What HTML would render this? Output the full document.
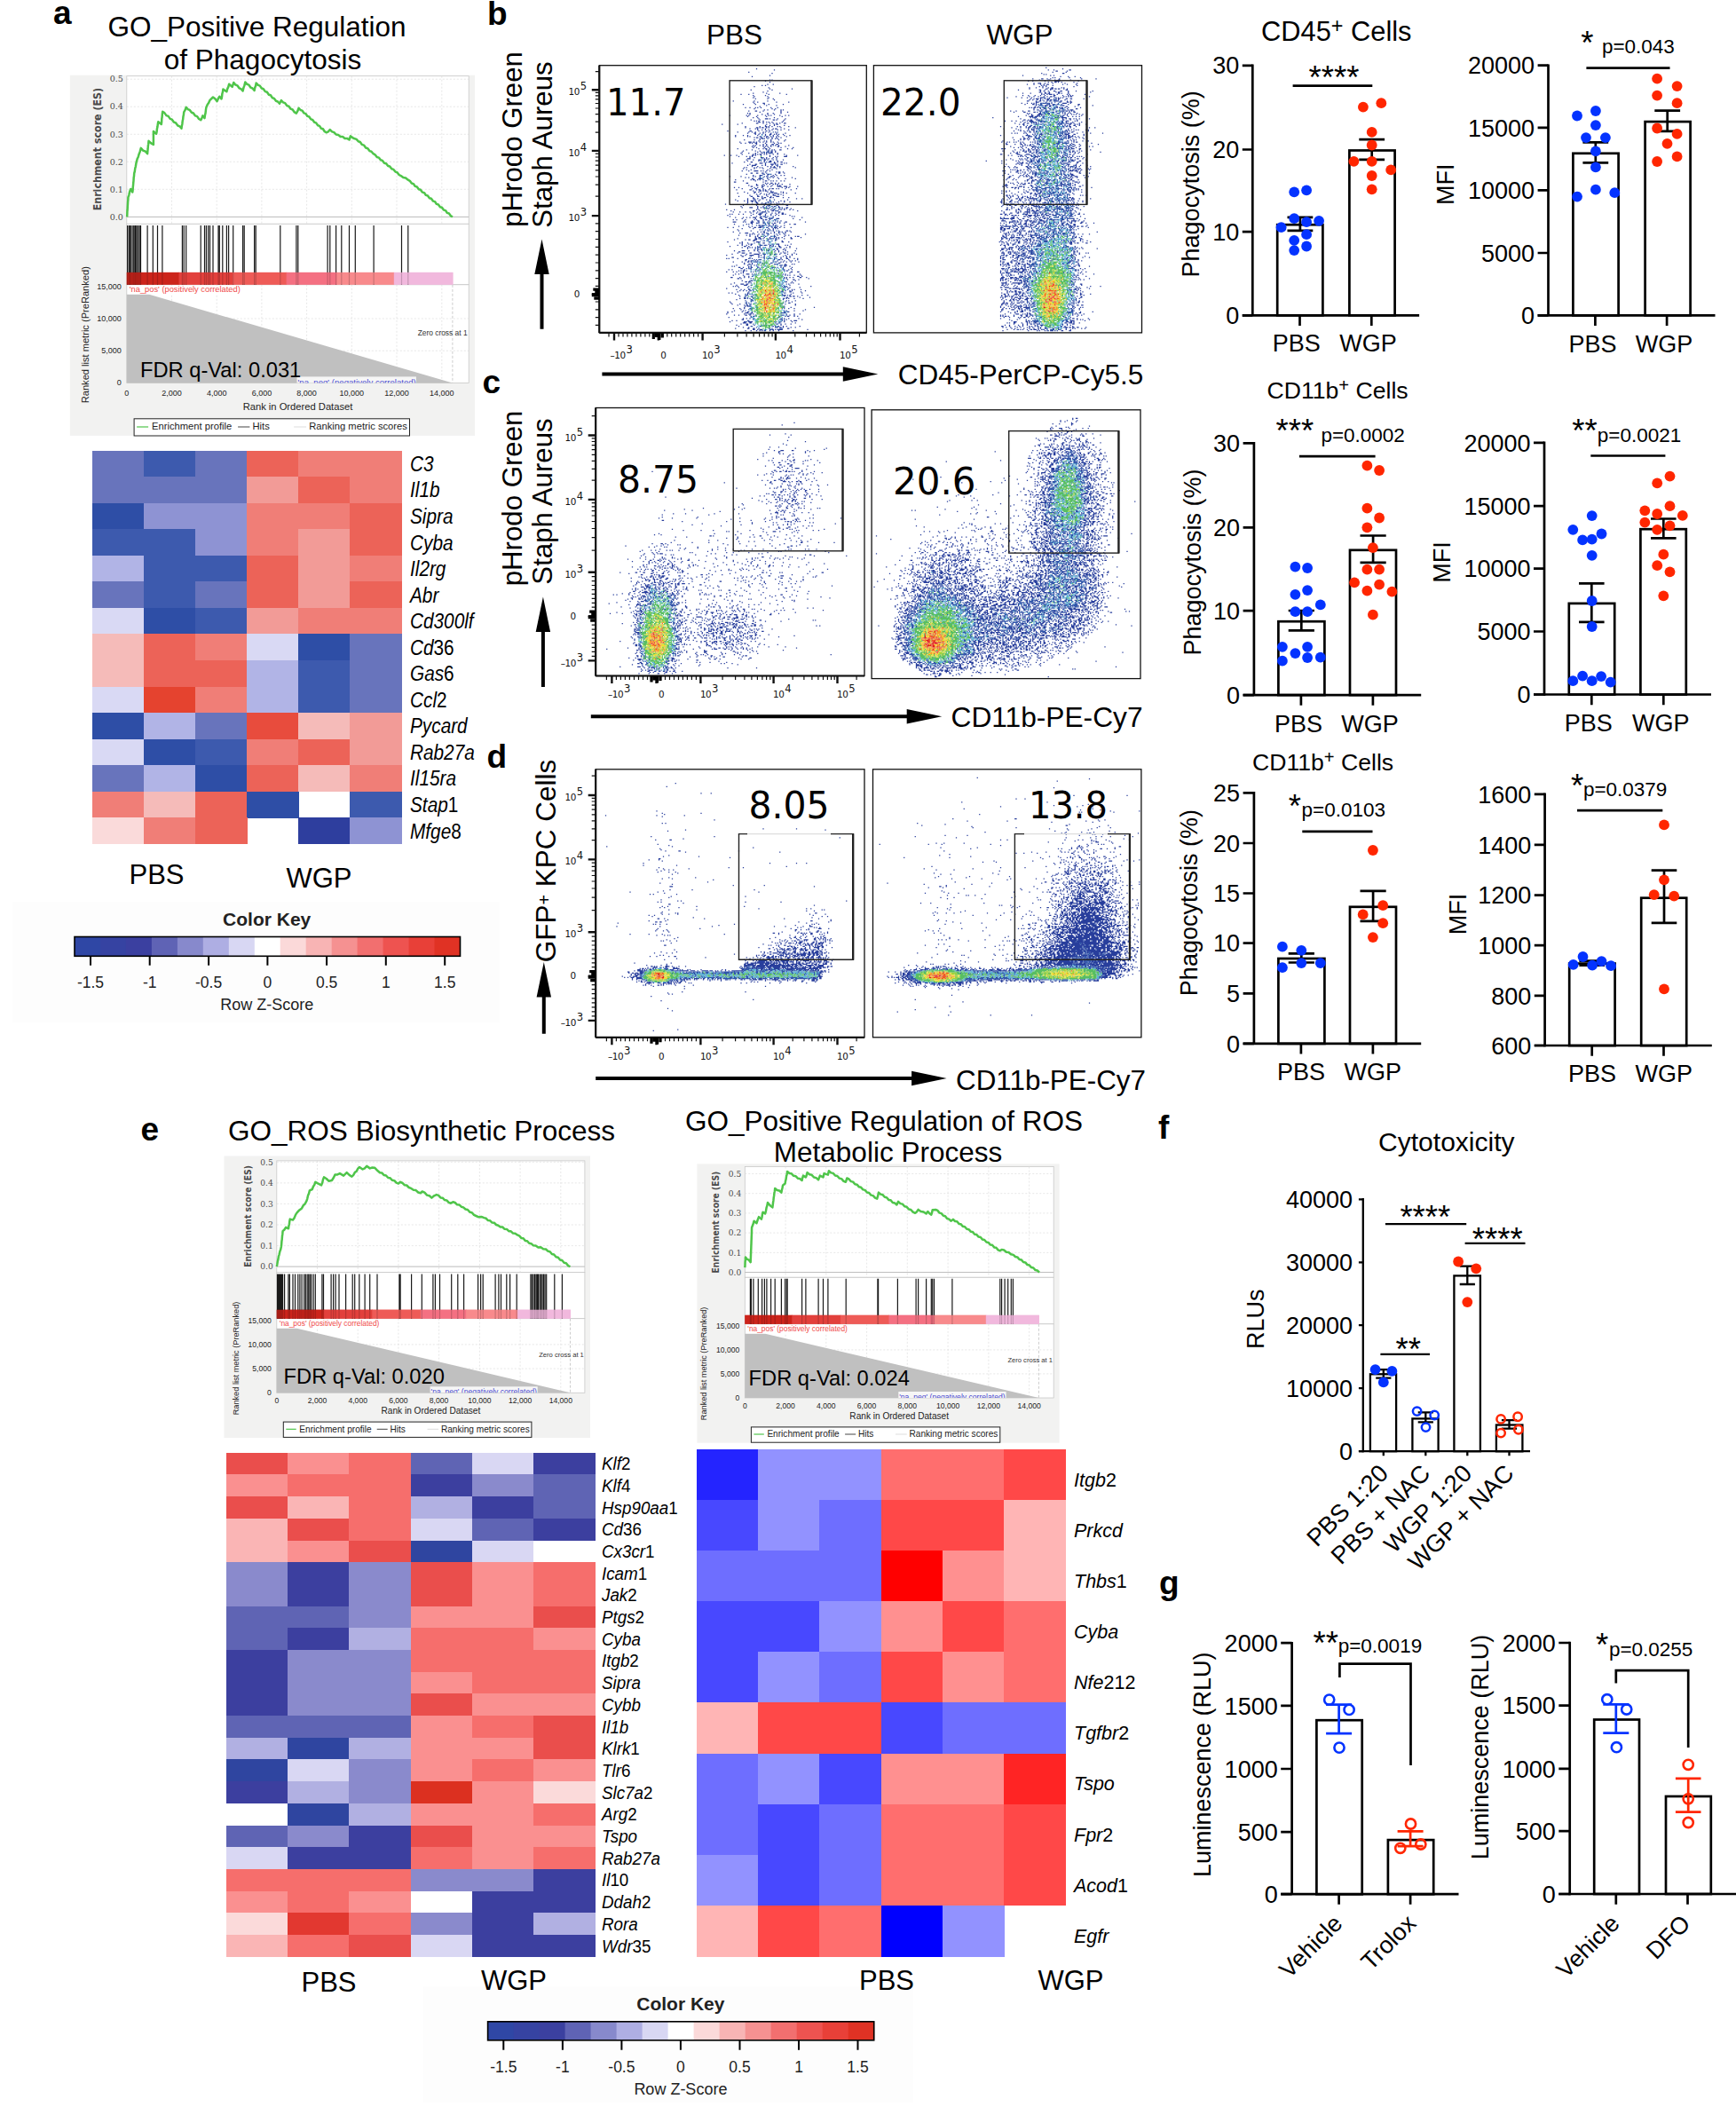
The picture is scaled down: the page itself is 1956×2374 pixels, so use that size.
<!DOCTYPE html><html><head><meta charset="utf-8"><title>Figure</title><style>html,body{margin:0;padding:0;background:#fff}svg{display:block;font-family:"Liberation Sans",Arial,sans-serif;fill:#000}</style></head><body>
<svg width="1956" height="2374" viewBox="0 0 1956 2374">
<rect width="1956" height="2374" fill="#fff"/>
<rect x="78.8" y="84.7" width="456.3" height="406.2" fill="#f2f2f1"/>
<rect x="142.8" y="85.7" width="385.4" height="166.6" fill="#fff" stroke="#c8c8c8" stroke-width="0.8"/>
<rect x="142.8" y="252.3" width="385.4" height="68.4" fill="#fff" stroke="#c8c8c8" stroke-width="0.8"/>
<rect x="142.8" y="320.8" width="385.4" height="110.6" fill="#fff" stroke="#c8c8c8" stroke-width="0.8"/>
<path d="M193.5 85.7V252.3M193.5 320.8V431.4M244.2 85.7V252.3M244.2 320.8V431.4M294.9 85.7V252.3M294.9 320.8V431.4M345.6 85.7V252.3M345.6 320.8V431.4M396.3 85.7V252.3M396.3 320.8V431.4M447 85.7V252.3M447 320.8V431.4M497.8 85.7V252.3M497.8 320.8V431.4M142.8 213.3H528.2M142.8 182.3H528.2M142.8 151.3H528.2M142.8 120.2H528.2M142.8 89.2H528.2M142.8 395.2H528.2M142.8 359H528.2" stroke="#ddd" stroke-width="0.7" stroke-dasharray="2 2" fill="none"/>
<path d="M142.8 244.4L528.2 244.4" stroke="#bbb" stroke-width="1" />
<path d="M142.8 431.4V331.8H168.1L509.9 431.4Z" fill="#c0c0c0"/>
<path d="M509.9 320.8V431.4" stroke="#ccc" stroke-width="1" stroke-dasharray="3 2"/>
<rect x="142.8" y="306.9" width="59.2" height="13.8" fill="#cc241c"/>
<rect x="201.5" y="306.9" width="61.1" height="13.8" fill="#e2403c"/>
<rect x="262.1" y="306.9" width="61.1" height="13.8" fill="#ee5b58"/>
<rect x="322.6" y="306.9" width="57.4" height="13.8" fill="#f47182"/>
<rect x="379.5" y="306.9" width="64.7" height="13.8" fill="#f88a8c"/>
<rect x="443.8" y="306.9" width="66.6" height="13.8" fill="#f1b8dd"/>
<path d="M143.6 254.1V320.8M145.3 254.1V320.8M146.6 254.1V320.8M148 254.1V320.8M149.9 254.1V320.8M151.2 254.1V320.8M152.6 254.1V320.8M153.9 254.1V320.8M155.5 254.1V320.8M157.2 254.1V320.8M158.5 254.1V320.8M166.1 254.1V320.8M172.3 254.1V320.8M177.5 254.1V320.8M182.9 254.1V320.8M205.4 254.1V320.8M207.2 254.1V320.8M209.7 254.1V320.8M226.2 254.1V320.8M230.5 254.1V320.8M232.4 254.1V320.8M234.6 254.1V320.8M236.5 254.1V320.8M240 254.1V320.8M246 254.1V320.8M247.3 254.1V320.8M250.8 254.1V320.8M255.4 254.1V320.8M257.6 254.1V320.8M262.7 254.1V320.8M273.6 254.1V320.8M275.2 254.1V320.8M286.6 254.1V320.8M288.2 254.1V320.8M315.8 254.1V320.8M333.9 254.1V320.8M335.8 254.1V320.8M369.1 254.1V320.8M371.8 254.1V320.8M378.6 254.1V320.8M384.8 254.1V320.8M393.5 254.1V320.8M400.3 254.1V320.8M421.1 254.1V320.8M452.5 254.1V320.8M459.8 254.1V320.8" stroke="#000" stroke-opacity="0.9" stroke-width="1.2" fill="none"/>
<rect x="142.8" y="306.9" width="59.2" height="13.8" fill="#cc241c" opacity="0.8"/>
<rect x="201.5" y="306.9" width="61.1" height="13.8" fill="#e2403c" opacity="0.8"/>
<rect x="262.1" y="306.9" width="61.1" height="13.8" fill="#ee5b58" opacity="0.8"/>
<rect x="322.6" y="306.9" width="57.4" height="13.8" fill="#f47182" opacity="0.8"/>
<rect x="379.5" y="306.9" width="64.7" height="13.8" fill="#f88a8c" opacity="0.8"/>
<rect x="443.8" y="306.9" width="66.6" height="13.8" fill="#f1b8dd" opacity="0.8"/>
<polyline points="143.1,244.4 143.3,242.2 143.4,238.3 143.6,236.7 143.8,232.8 143.9,231.2 144.1,227.4 144.3,225.7 144.4,222.4 145.3,219.8 146.2,215.6 147.2,213 149.3,216.5 149.6,214.4 149.8,210.6 150,209.1 150.3,205.4 150.5,203.8 150.7,200.1 151,198.5 151.2,195.4 151.8,193.2 152.3,189.4 152.8,187.8 153.4,184 153.9,181.8 154.8,178.6 155.7,177 156.6,173.7 157.7,170.9 158.8,166.9 161.2,169.6 163.7,170.5 166.1,173.2 166.4,169.7 166.6,168 166.9,164 167.2,162.2 167.5,158.8 170.2,161.4 172.9,162.9 172.9,160.4 172.9,156.4 172.9,154.5 172.9,150.4 172.9,148 176.1,150.7 176.6,148.5 177,144.7 177.4,143.1 177.9,139.3 178.3,137.2 181.8,139.9 182.1,137.6 182.3,133.7 182.6,132 182.9,128 183.2,125.8 185.3,127.1 187.4,130.1 189.6,130.9 191.7,133.9 193.8,134.7 196,137.7 198.1,138.5 200.3,141.5 202.4,142.3 204.5,144.7 204.9,141.6 205.3,140 205.7,136.3 206.1,134.8 206.5,131 206.9,129.5 207.2,126.3 208.5,124.2 209.7,120.9 211.8,123.3 213.8,123.9 215.9,126.8 217.9,127.5 220,130.4 222.1,131.1 224.1,134 226.2,135.3 227.3,133.4 228.4,130.4 230.5,133.1 231,129.5 231.5,127.6 232,123.4 232.4,120.9 233.8,117.7 235.1,116 236.5,112.8 240,109.5 242.3,111.3 244.6,114.1 246,110.9 247.3,108.7 249.5,111.4 250,109.3 250.4,105.5 250.9,103.9 251.4,100.6 255.4,103.3 256.3,99.9 257.2,98.1 258.1,94.7 261.7,97.9 263.3,93 265.3,95.5 267.4,96.3 269.5,99.3 271.5,100.1 273.6,102.5 274.5,98.6 275.4,96.4 276.3,92.5 278.3,94.9 280.4,95.7 282.5,98.7 284.5,99.5 286.6,102 287.3,98.6 288,96.9 288.7,93.6 290.8,95.9 292.8,96.6 294.8,99.5 296.8,100.2 298.8,103.1 300.9,103.8 302.9,106.7 304.9,107.3 306.9,110.2 308.9,110.9 311,113.8 313,114.5 315,116.8 316.9,113.1 319,115.4 321.2,116.2 323.3,119.1 325.4,119.8 327.5,122.7 329.7,123.5 331.8,126.4 333.9,127.7 335.3,125.2 336.6,121.7 338.6,124 340.5,124.6 342.5,127.4 344.4,128.1 346.4,130.9 348.3,131.5 350.3,134.4 352.2,135 354.2,137.8 356.1,138.4 358.1,141.3 360,141.9 361.9,144.7 363.9,145.3 365.8,148.2 367.8,149.3 369.8,148.3 371.8,146.1 374.1,148.4 376.4,149.1 378.6,151.5 381.1,151.9 383.6,154 386.1,153.9 388.5,156 391,155.9 393.5,157.5 394.9,153.4 398.2,155.7 401.6,156.9 403.7,159.3 405.8,160 407.9,162.9 410,163.6 412.1,166.5 414.3,167.2 416.4,170.1 418.5,170.8 420.6,173.2 422.6,174.3 424.7,177 426.8,177.6 428.9,180.3 430.9,180.9 433,183.7 435.1,184.2 437.2,187 439.2,187.5 441.3,190.3 443.4,190.9 445.5,193.6 447.5,194.2 449.6,197 451.7,198.1 454.4,200.1 457.1,200.6 459.8,202.7 461.8,203.8 463.8,206.5 465.8,207.1 467.8,209.9 469.8,210.5 471.8,213.2 473.8,213.8 475.8,216.6 477.9,217.1 479.9,219.9 481.9,220.5 483.9,223.2 485.9,223.8 487.9,226.6 489.9,227.1 491.9,229.9 493.9,230.5 495.9,233.2 497.9,233.8 499.9,236.6 501.9,237.1 503.9,239.9 505.9,240.5 507.9,243.2 509.9,244.4" fill="none" stroke="#4fc54a" stroke-width="2.5" stroke-linejoin="round"/>
<text x="138.8" y="247.6" font-size="9.5" text-anchor="end" font-family="'DejaVu Serif','Liberation Serif',serif" fill="#4a4a4a">0.0</text>
<text x="138.8" y="216.5" font-size="9.5" text-anchor="end" font-family="'DejaVu Serif','Liberation Serif',serif" fill="#4a4a4a">0.1</text>
<text x="138.8" y="185.5" font-size="9.5" text-anchor="end" font-family="'DejaVu Serif','Liberation Serif',serif" fill="#4a4a4a">0.2</text>
<text x="138.8" y="154.5" font-size="9.5" text-anchor="end" font-family="'DejaVu Serif','Liberation Serif',serif" fill="#4a4a4a">0.3</text>
<text x="138.8" y="123.4" font-size="9.5" text-anchor="end" font-family="'DejaVu Serif','Liberation Serif',serif" fill="#4a4a4a">0.4</text>
<text x="138.8" y="92.4" font-size="9.5" text-anchor="end" font-family="'DejaVu Serif','Liberation Serif',serif" fill="#4a4a4a">0.5</text>
<text font-size="12.3" text-anchor="middle" font-weight="bold" font-family="'DejaVu Sans Condensed','DejaVu Sans',sans-serif" fill="#4a4a4a" transform="translate(113.8 168.1) rotate(-90)">Enrichment score (ES)</text>
<text x="136.8" y="434.4" font-size="9" text-anchor="end" fill="#222">0</text>
<text x="136.8" y="398.2" font-size="9" text-anchor="end" fill="#222">5,000</text>
<text x="136.8" y="362" font-size="9" text-anchor="end" fill="#222">10,000</text>
<text x="136.8" y="325.8" font-size="9" text-anchor="end" fill="#222">15,000</text>
<text font-size="11.1" text-anchor="middle" fill="#222" transform="translate(99.8 377.2) rotate(-90)">Ranked list metric (PreRanked)</text>
<text x="142.8" y="445.9" font-size="9" text-anchor="middle" fill="#222">0</text>
<text x="193.5" y="445.9" font-size="9" text-anchor="middle" fill="#222">2,000</text>
<text x="244.2" y="445.9" font-size="9" text-anchor="middle" fill="#222">4,000</text>
<text x="294.9" y="445.9" font-size="9" text-anchor="middle" fill="#222">6,000</text>
<text x="345.6" y="445.9" font-size="9" text-anchor="middle" fill="#222">8,000</text>
<text x="396.3" y="445.9" font-size="9" text-anchor="middle" fill="#222">10,000</text>
<text x="447" y="445.9" font-size="9" text-anchor="middle" fill="#222">12,000</text>
<text x="497.8" y="445.9" font-size="9" text-anchor="middle" fill="#222">14,000</text>
<text x="335.5" y="461.5" font-size="11.2" text-anchor="middle" fill="#222">Rank in Ordered Dataset</text>
<svg x="142.8" y="320.8" width="385.4" height="110.6">
<rect x="2" y="1" width="131.9" height="9.5" fill="#fff" opacity="0.85"/>
<text x="3" y="8.5" font-size="9.3" fill="#f04a4a">'na_pos' (positively correlated)</text>
<rect x="191.7" y="103.6" width="134.4" height="8" fill="#fff" opacity="0.85"/>
<text x="192.7" y="112.8" font-size="9.6" fill="#4a4ad0">'na_neg' (negatively correlated)</text>
<text x="327.9" y="57.5" font-size="8.4" fill="#333">Zero cross at 1</text>
</svg>
<rect x="151.1" y="471.8" width="310.4" height="19.2" fill="#fff" stroke="#222" stroke-width="1"/>
<path d="M154.1 481L167.1 481" stroke="#4fc54a" stroke-width="1.2" />
<text x="171.1" y="484.3" font-size="11.2" fill="#222">Enrichment profile</text>
<path d="M268.1 481L281.4 481" stroke="#444" stroke-width="1" />
<text x="284.5" y="484.3" font-size="11.2" fill="#222">Hits</text>
<path d="M331.1 481L345.1 481" stroke="#ddd" stroke-width="1" />
<text x="348.2" y="484.3" font-size="11.2" fill="#222">Ranking metric scores</text>
<text x="158" y="425.2" font-size="23.7">FDR q-Val: 0.031</text>
<rect x="252.5" y="1302.5" width="412.5" height="317.5" fill="#f2f2f1"/>
<rect x="311.8" y="1307.9" width="347.1" height="125.7" fill="#fff" stroke="#c8c8c8" stroke-width="0.8"/>
<rect x="311.8" y="1433.6" width="347.1" height="52.1" fill="#fff" stroke="#c8c8c8" stroke-width="0.8"/>
<rect x="311.8" y="1485.7" width="347.1" height="83.6" fill="#fff" stroke="#c8c8c8" stroke-width="0.8"/>
<path d="M357.5 1307.9V1433.6M357.5 1485.7V1569.3M403.2 1307.9V1433.6M403.2 1485.7V1569.3M448.9 1307.9V1433.6M448.9 1485.7V1569.3M494.6 1307.9V1433.6M494.6 1485.7V1569.3M540.4 1307.9V1433.6M540.4 1485.7V1569.3M586.1 1307.9V1433.6M586.1 1485.7V1569.3M631.8 1307.9V1433.6M631.8 1485.7V1569.3M311.8 1403.6H658.9M311.8 1380H658.9M311.8 1356.4H658.9M311.8 1332.9H658.9M311.8 1309.3H658.9M311.8 1542.1H658.9M311.8 1514.9H658.9" stroke="#ddd" stroke-width="0.7" stroke-dasharray="2 2" fill="none"/>
<path d="M311.8 1427.1L658.9 1427.1" stroke="#bbb" stroke-width="1" />
<path d="M311.8 1569.3V1496.7H334.6L642.5 1569.3Z" fill="#c0c0c0"/>
<path d="M642.5 1485.7V1569.3" stroke="#ccc" stroke-width="1" stroke-dasharray="3 2"/>
<rect x="311.8" y="1475.7" width="53.4" height="10" fill="#cc241c"/>
<rect x="364.7" y="1475.7" width="55.1" height="10" fill="#e2403c"/>
<rect x="419.3" y="1475.7" width="55.1" height="10" fill="#ee5b58"/>
<rect x="473.8" y="1475.7" width="51.8" height="10" fill="#f47182"/>
<rect x="525.1" y="1475.7" width="58.4" height="10" fill="#f88a8c"/>
<rect x="583" y="1475.7" width="60" height="10" fill="#f1b8dd"/>
<path d="M312.5 1435.4V1485.7M313.2 1435.4V1485.7M314 1435.4V1485.7M314.8 1435.4V1485.7M315.5 1435.4V1485.7M316.3 1435.4V1485.7M317.1 1435.4V1485.7M317.8 1435.4V1485.7M318.6 1435.4V1485.7M320.6 1435.4V1485.7M324.9 1435.4V1485.7M326.4 1435.4V1485.7M330 1435.4V1485.7M332.5 1435.4V1485.7M335.8 1435.4V1485.7M337.9 1435.4V1485.7M340.1 1435.4V1485.7M342.7 1435.4V1485.7M344.4 1435.4V1485.7M346.2 1435.4V1485.7M347.7 1435.4V1485.7M349.2 1435.4V1485.7M350.8 1435.4V1485.7M353.1 1435.4V1485.7M355.3 1435.4V1485.7M362.9 1435.4V1485.7M364.5 1435.4V1485.7M373.1 1435.4V1485.7M375.6 1435.4V1485.7M378.1 1435.4V1485.7M382 1435.4V1485.7M389.6 1435.4V1485.7M397.2 1435.4V1485.7M399.7 1435.4V1485.7M404.8 1435.4V1485.7M411.1 1435.4V1485.7M416.7 1435.4V1485.7M425 1435.4V1485.7M449.9 1435.4V1485.7M451.1 1435.4V1485.7M463.6 1435.4V1485.7M475.3 1435.4V1485.7M487.9 1435.4V1485.7M490.4 1435.4V1485.7M495.5 1435.4V1485.7M508.7 1435.4V1485.7M515.8 1435.4V1485.7M522.6 1435.4V1485.7M538.6 1435.4V1485.7M541.6 1435.4V1485.7M544.2 1435.4V1485.7M558.1 1435.4V1485.7M561.9 1435.4V1485.7M564.5 1435.4V1485.7M570.8 1435.4V1485.7M574.6 1435.4V1485.7M582.2 1435.4V1485.7M597.9 1435.4V1485.7M599.4 1435.4V1485.7M601 1435.4V1485.7M602.5 1435.4V1485.7M604 1435.4V1485.7M605.3 1435.4V1485.7M606.5 1435.4V1485.7M608.1 1435.4V1485.7M609.6 1435.4V1485.7M611.1 1435.4V1485.7M612.6 1435.4V1485.7M614.1 1435.4V1485.7M615.7 1435.4V1485.7M624.8 1435.4V1485.7M633.4 1435.4V1485.7" stroke="#000" stroke-opacity="0.9" stroke-width="1.2" fill="none"/>
<rect x="311.8" y="1475.7" width="53.4" height="10" fill="#cc241c" opacity="0.8"/>
<rect x="364.7" y="1475.7" width="55.1" height="10" fill="#e2403c" opacity="0.8"/>
<rect x="419.3" y="1475.7" width="55.1" height="10" fill="#ee5b58" opacity="0.8"/>
<rect x="473.8" y="1475.7" width="51.8" height="10" fill="#f47182" opacity="0.8"/>
<rect x="525.1" y="1475.7" width="58.4" height="10" fill="#f88a8c" opacity="0.8"/>
<rect x="583" y="1475.7" width="60" height="10" fill="#f1b8dd" opacity="0.8"/>
<polyline points="311.8,1427.1 312.3,1424.8 312.9,1420.9 313.4,1419.1 313.9,1415.7 314.6,1413.6 315.4,1409.8 316.1,1408.2 316.8,1405 317.1,1402.6 317.4,1398.5 317.7,1396.6 318,1392.5 318.3,1390.7 318.6,1387.1 320.4,1385.5 322.1,1382.9 325,1384.3 325.4,1381.1 325.9,1379.5 326.3,1375.7 326.8,1373.6 330,1374.6 331.5,1372.5 333.1,1368.6 334.6,1366.4 337.3,1363.4 340,1361.4 341.8,1358.1 343.6,1356.5 345.4,1353.2 346.2,1350.8 347.1,1346.8 348,1344.9 348.9,1341.4 351.8,1340 353,1336.7 354.2,1335.1 355.4,1331.8 358.6,1333.6 362.1,1335.4 363.1,1332.9 364,1328.9 365,1326.4 367.7,1328 370.4,1330.7 373.9,1330 375.7,1327.3 377.5,1323.6 380.2,1323.4 382.9,1322.1 387.1,1324.6 390.7,1321.1 393.6,1323.9 396.4,1325.7 398.1,1324.1 399.9,1320.9 401.6,1319.8 403.3,1316.6 405,1315 408.6,1317.5 410.9,1316.3 413.2,1313.9 416.8,1316.4 419.5,1315.5 422.1,1315.7 425.7,1319.3 428,1321.3 430.4,1321.6 432.7,1324.1 435,1324.5 437.3,1327 439.6,1327.3 442,1329.8 444.3,1330.2 446.6,1332.7 448.9,1333.6 450.7,1331.8 453.2,1332.7 455.7,1335.2 458.2,1335.5 460.7,1338 463.2,1338.9 465.9,1340.8 468.6,1341.1 471.2,1343.5 473.9,1344.3 475.7,1342.5 478.4,1343.7 481.1,1346.6 483.8,1347.3 486.4,1349.6 489.1,1347.3 491.8,1346.1 494.1,1346.9 496.4,1349.4 498.7,1349.7 501,1352.1 503.3,1352.4 505.6,1354.9 507.9,1355.7 510.4,1354.3 512.7,1355 515.1,1357.3 517.4,1357.4 519.8,1359.7 522.1,1360.4 524.5,1362.5 526.9,1363 529.3,1365.7 531.7,1366.2 534,1368.9 536.4,1370 539.4,1371.3 542.4,1370.9 545.4,1372.1 547.7,1372.8 549.9,1375.1 552.2,1375.3 554.5,1377.6 556.8,1377.7 559.1,1380 561.4,1380.7 563.8,1382.5 566.2,1382.5 568.6,1384.8 571,1384.9 573.3,1387.2 575.7,1387.3 578.1,1389.6 580.5,1389.7 582.9,1391.4 585.1,1392.4 587.3,1394.9 589.6,1395.3 591.8,1397.9 594,1398.2 596.2,1400.8 598.5,1401.2 600.7,1403.2 603.6,1403.5 606.4,1405.5 609.3,1405.2 612.1,1407.2 615,1407.5 617.3,1409.7 619.6,1410.2 621.9,1413 624.2,1413.5 626.5,1416.2 628.8,1416.8 631,1419.5 633.3,1420 635.6,1422.8 637.9,1423.3 640.2,1426.1 642.5,1427.1" fill="none" stroke="#4fc54a" stroke-width="2.5" stroke-linejoin="round"/>
<text x="307.8" y="1430.3" font-size="9.1" text-anchor="end" font-family="'DejaVu Serif','Liberation Serif',serif" fill="#4a4a4a">0.0</text>
<text x="307.8" y="1406.8" font-size="9.1" text-anchor="end" font-family="'DejaVu Serif','Liberation Serif',serif" fill="#4a4a4a">0.1</text>
<text x="307.8" y="1383.2" font-size="9.1" text-anchor="end" font-family="'DejaVu Serif','Liberation Serif',serif" fill="#4a4a4a">0.2</text>
<text x="307.8" y="1359.6" font-size="9.1" text-anchor="end" font-family="'DejaVu Serif','Liberation Serif',serif" fill="#4a4a4a">0.3</text>
<text x="307.8" y="1336.1" font-size="9.1" text-anchor="end" font-family="'DejaVu Serif','Liberation Serif',serif" fill="#4a4a4a">0.4</text>
<text x="307.8" y="1312.5" font-size="9.1" text-anchor="end" font-family="'DejaVu Serif','Liberation Serif',serif" fill="#4a4a4a">0.5</text>
<text font-size="10.2" text-anchor="middle" font-weight="bold" font-family="'DejaVu Sans Condensed','DejaVu Sans',sans-serif" fill="#4a4a4a" transform="translate(282.8 1370.5) rotate(-90)">Enrichment score (ES)</text>
<text x="305.8" y="1572.3" font-size="8.6" text-anchor="end" fill="#222">0</text>
<text x="305.8" y="1545.1" font-size="8.6" text-anchor="end" fill="#222">5,000</text>
<text x="305.8" y="1517.9" font-size="8.6" text-anchor="end" fill="#222">10,000</text>
<text x="305.8" y="1490.7" font-size="8.6" text-anchor="end" fill="#222">15,000</text>
<text font-size="9.2" text-anchor="middle" fill="#222" transform="translate(268.8 1530.5) rotate(-90)">Ranked list metric (PreRanked)</text>
<text x="311.8" y="1581.1" font-size="8.6" text-anchor="middle" fill="#222">0</text>
<text x="357.5" y="1581.1" font-size="8.6" text-anchor="middle" fill="#222">2,000</text>
<text x="403.2" y="1581.1" font-size="8.6" text-anchor="middle" fill="#222">4,000</text>
<text x="448.9" y="1581.1" font-size="8.6" text-anchor="middle" fill="#222">6,000</text>
<text x="494.6" y="1581.1" font-size="8.6" text-anchor="middle" fill="#222">8,000</text>
<text x="540.4" y="1581.1" font-size="8.6" text-anchor="middle" fill="#222">10,000</text>
<text x="586.1" y="1581.1" font-size="8.6" text-anchor="middle" fill="#222">12,000</text>
<text x="631.8" y="1581.1" font-size="8.6" text-anchor="middle" fill="#222">14,000</text>
<text x="485.4" y="1592.5" font-size="10.1" text-anchor="middle" fill="#222">Rank in Ordered Dataset</text>
<svg x="311.8" y="1485.7" width="347.1" height="83.6">
<rect x="2" y="1" width="118.9" height="9.5" fill="#fff" opacity="0.85"/>
<text x="3" y="8.5" font-size="8.4" fill="#f04a4a">'na_pos' (positively correlated)</text>
<rect x="172.8" y="76.6" width="121.1" height="8" fill="#fff" opacity="0.85"/>
<text x="173.7" y="85.8" font-size="8.6" fill="#4a4ad0">'na_neg' (negatively correlated)</text>
<text x="295.4" y="43.5" font-size="7.6" fill="#333">Zero cross at 1</text>
</svg>
<rect x="319.3" y="1602.1" width="279.6" height="17.3" fill="#fff" stroke="#222" stroke-width="1"/>
<path d="M322.3 1610.3L333.7 1610.3" stroke="#4fc54a" stroke-width="1.2" />
<text x="337.3" y="1613.6" font-size="10.1" fill="#222">Enrichment profile</text>
<path d="M424.7 1610.3L436.7 1610.3" stroke="#444" stroke-width="1" />
<text x="439.5" y="1613.6" font-size="10.1" fill="#222">Hits</text>
<path d="M481.5 1610.3L494.1 1610.3" stroke="#ddd" stroke-width="1" />
<text x="496.9" y="1613.6" font-size="10.1" fill="#222">Ranking metric scores</text>
<text x="319.6" y="1558.6" font-size="23.7">FDR q-Val: 0.020</text>
<rect x="785.4" y="1311.4" width="408.2" height="314.3" fill="#f2f2f1"/>
<rect x="839.3" y="1314.6" width="347.9" height="124.6" fill="#fff" stroke="#c8c8c8" stroke-width="0.8"/>
<rect x="839.3" y="1439.3" width="347.9" height="52.5" fill="#fff" stroke="#c8c8c8" stroke-width="0.8"/>
<rect x="839.3" y="1491.8" width="347.9" height="83.2" fill="#fff" stroke="#c8c8c8" stroke-width="0.8"/>
<path d="M885.1 1314.6V1439.3M885.1 1491.8V1575M930.8 1314.6V1439.3M930.8 1491.8V1575M976.6 1314.6V1439.3M976.6 1491.8V1575M1022.3 1314.6V1439.3M1022.3 1491.8V1575M1068.1 1314.6V1439.3M1068.1 1491.8V1575M1113.9 1314.6V1439.3M1113.9 1491.8V1575M1159.6 1314.6V1439.3M1159.6 1491.8V1575M839.3 1411.4H1187.1M839.3 1389.1H1187.1M839.3 1366.9H1187.1M839.3 1344.7H1187.1M839.3 1322.5H1187.1M839.3 1547.9H1187.1M839.3 1520.9H1187.1" stroke="#ddd" stroke-width="0.7" stroke-dasharray="2 2" fill="none"/>
<path d="M839.3 1433.6L1187.1 1433.6" stroke="#bbb" stroke-width="1" />
<path d="M839.3 1575V1502.8H862.2L1170.4 1575Z" fill="#c0c0c0"/>
<path d="M1170.4 1491.8V1575" stroke="#ccc" stroke-width="1" stroke-dasharray="3 2"/>
<rect x="839.3" y="1481.8" width="53.5" height="10" fill="#cc241c"/>
<rect x="892.3" y="1481.8" width="55.1" height="10" fill="#e2403c"/>
<rect x="946.9" y="1481.8" width="55.1" height="10" fill="#ee5b58"/>
<rect x="1001.5" y="1481.8" width="51.8" height="10" fill="#f47182"/>
<rect x="1052.8" y="1481.8" width="58.4" height="10" fill="#f88a8c"/>
<rect x="1110.8" y="1481.8" width="60.1" height="10" fill="#f1b8dd"/>
<path d="M845.4 1440.7V1491.8M846.4 1440.7V1491.8M848.9 1440.7V1491.8M854.3 1440.7V1491.8M858.6 1440.7V1491.8M861.4 1440.7V1491.8M863.9 1440.7V1491.8M868.6 1440.7V1491.8M873.2 1440.7V1491.8M880.4 1440.7V1491.8M884.6 1440.7V1491.8M886.4 1440.7V1491.8M887.1 1440.7V1491.8M903.6 1440.7V1491.8M907.9 1440.7V1491.8M922.1 1440.7V1491.8M927.5 1440.7V1491.8M932.9 1440.7V1491.8M953.2 1440.7V1491.8M988.9 1440.7V1491.8M989.6 1440.7V1491.8M1011.4 1440.7V1491.8M1032.1 1440.7V1491.8M1034.6 1440.7V1491.8M1043.6 1440.7V1491.8M1049.3 1440.7V1491.8M1050.7 1440.7V1491.8M1052.5 1440.7V1491.8M1072.9 1440.7V1491.8M1126.8 1440.7V1491.8M1128.6 1440.7V1491.8M1132.1 1440.7V1491.8M1135.7 1440.7V1491.8M1139.3 1440.7V1491.8M1141.4 1440.7V1491.8" stroke="#000" stroke-opacity="0.9" stroke-width="1.2" fill="none"/>
<rect x="839.3" y="1481.8" width="53.5" height="10" fill="#cc241c" opacity="0.8"/>
<rect x="892.3" y="1481.8" width="55.1" height="10" fill="#e2403c" opacity="0.8"/>
<rect x="946.9" y="1481.8" width="55.1" height="10" fill="#ee5b58" opacity="0.8"/>
<rect x="1001.5" y="1481.8" width="51.8" height="10" fill="#f47182" opacity="0.8"/>
<rect x="1052.8" y="1481.8" width="58.4" height="10" fill="#f88a8c" opacity="0.8"/>
<rect x="1110.8" y="1481.8" width="60.1" height="10" fill="#f1b8dd" opacity="0.8"/>
<polyline points="839.3,1428.2 839.5,1425.8 839.6,1421.8 839.8,1419.9 840,1416.4 841.9,1418.9 843.8,1419.7 845.7,1422.1 845.8,1419 845.9,1417.5 846,1413.7 846.1,1412.2 846.2,1408.5 846.3,1407 846.4,1403.3 846.5,1401.7 846.6,1398 846.7,1396.5 846.8,1392.8 846.9,1391.3 847,1387.5 847,1386 847.1,1382.9 848.4,1379.8 849.6,1375.7 852.5,1378.2 853.8,1374.1 855,1371.1 857.9,1373.6 858.5,1371.5 859,1367.8 859.6,1365.7 862.1,1367.5 862.9,1364.9 863.6,1360.7 864.3,1358.7 865,1355 867.7,1358.2 870.4,1360.4 870.7,1358.2 871.1,1354.5 871.4,1352.9 871.8,1349.1 872.1,1347.5 872.5,1343.7 872.9,1342.2 873.2,1338.9 875.6,1341 878,1341.5 880.4,1343.6 881,1340.3 881.5,1338.6 882.1,1335.4 884.6,1333.6 885.1,1330.3 885.6,1328.7 886.1,1324.9 886.6,1323.3 887.1,1320 889.5,1322 891.8,1322.3 894.2,1324.8 896.5,1325.2 898.9,1327.7 901.2,1328 903.6,1330 904.3,1326.8 905,1324.6 907.9,1326.4 908.8,1324.3 909.6,1321.1 912.1,1323.3 914.6,1323.8 917.1,1326.5 919.6,1327.1 922.1,1329.3 923.9,1324.6 927.5,1326.4 928.6,1322.1 932.9,1323.6 933.9,1319.3 936.3,1321.4 938.7,1321.9 941,1324.5 943.4,1325 945.8,1327.6 948.1,1328.1 950.5,1330.8 952.9,1331.8 954.3,1327.5 956.5,1328.5 958.8,1331.1 961.1,1331.6 963.3,1334.2 965.6,1334.7 967.9,1337.3 970.1,1337.8 972.4,1340.4 974.6,1340.9 976.9,1343.5 979.2,1344 981.4,1346.6 983.7,1347.1 986,1349.7 988.2,1350.7 989.1,1347.7 990,1343.6 992.3,1345.7 994.5,1346.1 996.8,1348.8 999,1349.2 1001.3,1351.9 1003.6,1352.3 1005.8,1355 1008.1,1355.4 1010.4,1357.5 1012.1,1353.9 1014.5,1356.1 1016.9,1356.6 1019.2,1359.3 1021.6,1359.8 1024,1362.5 1026.3,1363 1028.7,1365.7 1031.1,1366.8 1032.9,1365.4 1034.6,1362.9 1037.6,1365 1040.6,1365.4 1043.6,1367.5 1045.4,1365 1047.3,1367.3 1049.3,1368.6 1050,1366.4 1050.7,1363.2 1054.3,1362.9 1056.4,1363.9 1058.6,1366.6 1060.7,1367.1 1062.9,1369.8 1065,1370.3 1067.1,1373 1069.3,1373.6 1071.4,1375.7 1073.9,1373.9 1076.1,1376 1078.3,1376.3 1080.5,1378.9 1082.7,1379.3 1084.9,1381.8 1087.1,1382.2 1089.3,1384.8 1091.5,1385.2 1093.8,1387.7 1096,1388.1 1098.2,1390.7 1100.4,1391.1 1102.6,1393.6 1104.8,1394 1107,1396.6 1109.2,1397 1111.4,1399.5 1113.6,1399.9 1115.8,1402.5 1118,1402.8 1120.2,1405.4 1122.4,1405.8 1124.6,1408.4 1126.8,1409.3 1128.6,1407.9 1131.2,1408.5 1133.9,1410.8 1136.5,1411 1139.1,1413.3 1141.8,1413.9 1144,1416 1146.3,1416.4 1148.5,1419 1150.8,1419.4 1153,1422 1155.3,1422.4 1157.6,1425.1 1159.8,1425.5 1162.1,1428.1 1164.3,1428.5 1166.6,1431.1 1168.8,1431.5 1171.1,1433.6" fill="none" stroke="#4fc54a" stroke-width="2.5" stroke-linejoin="round"/>
<text x="835.3" y="1436.8" font-size="9.1" text-anchor="end" font-family="'DejaVu Serif','Liberation Serif',serif" fill="#4a4a4a">0.0</text>
<text x="835.3" y="1414.6" font-size="9.1" text-anchor="end" font-family="'DejaVu Serif','Liberation Serif',serif" fill="#4a4a4a">0.1</text>
<text x="835.3" y="1392.3" font-size="9.1" text-anchor="end" font-family="'DejaVu Serif','Liberation Serif',serif" fill="#4a4a4a">0.2</text>
<text x="835.3" y="1370.1" font-size="9.1" text-anchor="end" font-family="'DejaVu Serif','Liberation Serif',serif" fill="#4a4a4a">0.3</text>
<text x="835.3" y="1347.9" font-size="9.1" text-anchor="end" font-family="'DejaVu Serif','Liberation Serif',serif" fill="#4a4a4a">0.4</text>
<text x="835.3" y="1325.7" font-size="9.1" text-anchor="end" font-family="'DejaVu Serif','Liberation Serif',serif" fill="#4a4a4a">0.5</text>
<text font-size="10.2" text-anchor="middle" font-weight="bold" font-family="'DejaVu Sans Condensed','DejaVu Sans',sans-serif" fill="#4a4a4a" transform="translate(810.3 1377.1) rotate(-90)">Enrichment score (ES)</text>
<text x="833.3" y="1578" font-size="8.6" text-anchor="end" fill="#222">0</text>
<text x="833.3" y="1550.9" font-size="8.6" text-anchor="end" fill="#222">5,000</text>
<text x="833.3" y="1523.9" font-size="8.6" text-anchor="end" fill="#222">10,000</text>
<text x="833.3" y="1496.8" font-size="8.6" text-anchor="end" fill="#222">15,000</text>
<text font-size="9.2" text-anchor="middle" fill="#222" transform="translate(796.3 1536.4) rotate(-90)">Ranked list metric (PreRanked)</text>
<text x="839.3" y="1587.1" font-size="8.6" text-anchor="middle" fill="#222">0</text>
<text x="885.1" y="1587.1" font-size="8.6" text-anchor="middle" fill="#222">2,000</text>
<text x="930.8" y="1587.1" font-size="8.6" text-anchor="middle" fill="#222">4,000</text>
<text x="976.6" y="1587.1" font-size="8.6" text-anchor="middle" fill="#222">6,000</text>
<text x="1022.3" y="1587.1" font-size="8.6" text-anchor="middle" fill="#222">8,000</text>
<text x="1068.1" y="1587.1" font-size="8.6" text-anchor="middle" fill="#222">10,000</text>
<text x="1113.9" y="1587.1" font-size="8.6" text-anchor="middle" fill="#222">12,000</text>
<text x="1159.6" y="1587.1" font-size="8.6" text-anchor="middle" fill="#222">14,000</text>
<text x="1013.2" y="1598.6" font-size="10.1" text-anchor="middle" fill="#222">Rank in Ordered Dataset</text>
<svg x="839.3" y="1491.8" width="347.9" height="83.2">
<rect x="2" y="1" width="119" height="9.5" fill="#fff" opacity="0.85"/>
<text x="3" y="8.5" font-size="8.4" fill="#f04a4a">'na_pos' (positively correlated)</text>
<rect x="173" y="76.2" width="121.3" height="8" fill="#fff" opacity="0.85"/>
<text x="173.9" y="85.4" font-size="8.6" fill="#4a4ad0">'na_neg' (negatively correlated)</text>
<text x="296.1" y="43.3" font-size="7.6" fill="#333">Zero cross at 1</text>
</svg>
<rect x="846.4" y="1607.9" width="280.4" height="17.3" fill="#fff" stroke="#222" stroke-width="1"/>
<path d="M849.4 1616L860.8 1616" stroke="#4fc54a" stroke-width="1.2" />
<text x="864.4" y="1619.3" font-size="10.1" fill="#222">Enrichment profile</text>
<path d="M952.1 1616L964.2 1616" stroke="#444" stroke-width="1" />
<text x="967" y="1619.3" font-size="10.1" fill="#222">Hits</text>
<path d="M1009 1616L1021.7 1616" stroke="#ddd" stroke-width="1" />
<text x="1024.5" y="1619.3" font-size="10.1" fill="#222">Ranking metric scores</text>
<text x="843.6" y="1561.4" font-size="23.7">FDR q-Val: 0.024</text>
<g shape-rendering="crispEdges">
<rect x="103.7" y="507.6" width="58.7" height="30.1" fill="#6874bc"/>
<rect x="161.8" y="507.6" width="58.7" height="30.1" fill="#3d5aae"/>
<rect x="219.8" y="507.6" width="58.7" height="30.1" fill="#6874bc"/>
<rect x="277.9" y="507.6" width="58.7" height="30.1" fill="#ec6358"/>
<rect x="336" y="507.6" width="116.7" height="30.1" fill="#f07e77"/>
<rect x="103.7" y="537.1" width="174.8" height="30.1" fill="#6874bc"/>
<rect x="277.9" y="537.1" width="58.7" height="30.1" fill="#f29b97"/>
<rect x="336" y="537.1" width="58.7" height="30.1" fill="#ec6358"/>
<rect x="394" y="537.1" width="58.7" height="30.1" fill="#f07e77"/>
<rect x="103.7" y="566.7" width="58.7" height="30.1" fill="#2e4ea6"/>
<rect x="161.8" y="566.7" width="116.7" height="30.1" fill="#8e93d3"/>
<rect x="277.9" y="566.7" width="116.7" height="30.1" fill="#f07e77"/>
<rect x="394" y="566.7" width="58.7" height="30.1" fill="#ec6358"/>
<rect x="103.7" y="596.2" width="116.7" height="30.1" fill="#3d5aae"/>
<rect x="219.8" y="596.2" width="58.7" height="30.1" fill="#8e93d3"/>
<rect x="277.9" y="596.2" width="58.7" height="30.1" fill="#f07e77"/>
<rect x="336" y="596.2" width="58.7" height="30.1" fill="#f29b97"/>
<rect x="394" y="596.2" width="58.7" height="30.1" fill="#ec6358"/>
<rect x="103.7" y="625.8" width="58.7" height="30.1" fill="#b1b4e6"/>
<rect x="161.8" y="625.8" width="116.7" height="30.1" fill="#3d5aae"/>
<rect x="277.9" y="625.8" width="58.7" height="30.1" fill="#ec6358"/>
<rect x="336" y="625.8" width="58.7" height="30.1" fill="#f29b97"/>
<rect x="394" y="625.8" width="58.7" height="30.1" fill="#f07e77"/>
<rect x="103.7" y="655.3" width="58.7" height="30.1" fill="#6874bc"/>
<rect x="161.8" y="655.3" width="58.7" height="30.1" fill="#3d5aae"/>
<rect x="219.8" y="655.3" width="58.7" height="30.1" fill="#6874bc"/>
<rect x="277.9" y="655.3" width="58.7" height="30.1" fill="#ec6358"/>
<rect x="336" y="655.3" width="58.7" height="30.1" fill="#f29b97"/>
<rect x="394" y="655.3" width="58.7" height="30.1" fill="#ec6358"/>
<rect x="103.7" y="684.9" width="58.7" height="30.1" fill="#d9d9f4"/>
<rect x="161.8" y="684.9" width="58.7" height="30.1" fill="#2e4ea6"/>
<rect x="219.8" y="684.9" width="58.7" height="30.1" fill="#3d5aae"/>
<rect x="277.9" y="684.9" width="58.7" height="30.1" fill="#f29b97"/>
<rect x="336" y="684.9" width="116.7" height="30.1" fill="#f07e77"/>
<rect x="103.7" y="714.4" width="58.7" height="30.1" fill="#f5bbb9"/>
<rect x="161.8" y="714.4" width="58.7" height="30.1" fill="#ec6358"/>
<rect x="219.8" y="714.4" width="58.7" height="30.1" fill="#f07e77"/>
<rect x="277.9" y="714.4" width="58.7" height="30.1" fill="#d9d9f4"/>
<rect x="336" y="714.4" width="58.7" height="30.1" fill="#2e4ea6"/>
<rect x="394" y="714.4" width="58.7" height="30.1" fill="#6874bc"/>
<rect x="103.7" y="744" width="58.7" height="30.1" fill="#f5bbb9"/>
<rect x="161.8" y="744" width="116.7" height="30.1" fill="#ec6358"/>
<rect x="277.9" y="744" width="58.7" height="30.1" fill="#b1b4e6"/>
<rect x="336" y="744" width="58.7" height="30.1" fill="#3d5aae"/>
<rect x="394" y="744" width="58.7" height="30.1" fill="#6874bc"/>
<rect x="103.7" y="773.5" width="58.7" height="30.1" fill="#d9d9f4"/>
<rect x="161.8" y="773.5" width="58.7" height="30.1" fill="#e5432f"/>
<rect x="219.8" y="773.5" width="58.7" height="30.1" fill="#f07e77"/>
<rect x="277.9" y="773.5" width="58.7" height="30.1" fill="#b1b4e6"/>
<rect x="336" y="773.5" width="58.7" height="30.1" fill="#3d5aae"/>
<rect x="394" y="773.5" width="58.7" height="30.1" fill="#6874bc"/>
<rect x="103.7" y="803.1" width="58.7" height="30.1" fill="#2e4ea6"/>
<rect x="161.8" y="803.1" width="58.7" height="30.1" fill="#b1b4e6"/>
<rect x="219.8" y="803.1" width="58.7" height="30.1" fill="#6874bc"/>
<rect x="277.9" y="803.1" width="58.7" height="30.1" fill="#e84c3d"/>
<rect x="336" y="803.1" width="58.7" height="30.1" fill="#f5bbb9"/>
<rect x="394" y="803.1" width="58.7" height="30.1" fill="#f29b97"/>
<rect x="103.7" y="832.6" width="58.7" height="30.1" fill="#d9d9f4"/>
<rect x="161.8" y="832.6" width="58.7" height="30.1" fill="#2e4ea6"/>
<rect x="219.8" y="832.6" width="58.7" height="30.1" fill="#3d5aae"/>
<rect x="277.9" y="832.6" width="58.7" height="30.1" fill="#f07e77"/>
<rect x="336" y="832.6" width="58.7" height="30.1" fill="#ec6358"/>
<rect x="394" y="832.6" width="58.7" height="30.1" fill="#f29b97"/>
<rect x="103.7" y="862.2" width="58.7" height="30.1" fill="#6874bc"/>
<rect x="161.8" y="862.2" width="58.7" height="30.1" fill="#b1b4e6"/>
<rect x="219.8" y="862.2" width="58.7" height="30.1" fill="#2e4ea6"/>
<rect x="277.9" y="862.2" width="58.7" height="30.1" fill="#ec6358"/>
<rect x="336" y="862.2" width="58.7" height="30.1" fill="#f5bbb9"/>
<rect x="394" y="862.2" width="58.7" height="30.1" fill="#f07e77"/>
<rect x="103.7" y="891.7" width="58.7" height="30.1" fill="#f07e77"/>
<rect x="161.8" y="891.7" width="58.7" height="30.1" fill="#f5bbb9"/>
<rect x="219.8" y="891.7" width="58.7" height="30.1" fill="#ec6358"/>
<rect x="277.9" y="891.7" width="58.7" height="30.1" fill="#2e4ea6"/>
<rect x="394" y="891.7" width="58.7" height="30.1" fill="#3d5aae"/>
<rect x="103.7" y="921.3" width="58.7" height="30.1" fill="#fadada"/>
<rect x="161.8" y="921.3" width="58.7" height="30.1" fill="#f07e77"/>
<rect x="219.8" y="921.3" width="58.7" height="30.1" fill="#ec6358"/>
<rect x="336" y="921.3" width="58.7" height="30.1" fill="#2e3e9e"/>
<rect x="394" y="921.3" width="58.7" height="30.1" fill="#8e93d3"/>
</g>
<text transform="translate(462 530.8) scale(0.885 1)" font-size="23.5" font-style="italic">C3</text>
<text transform="translate(462 560.4) scale(0.885 1)" font-size="23.5" font-style="italic">Il1b</text>
<text transform="translate(462 589.9) scale(0.885 1)" font-size="23.5" font-style="italic">Sipra</text>
<text transform="translate(462 619.5) scale(0.885 1)" font-size="23.5" font-style="italic">Cyba</text>
<text transform="translate(462 649) scale(0.885 1)" font-size="23.5" font-style="italic">Il2rg</text>
<text transform="translate(462 678.6) scale(0.885 1)" font-size="23.5" font-style="italic">Abr</text>
<text transform="translate(462 708.1) scale(0.885 1)" font-size="23.5" font-style="italic">Cd300lf</text>
<text transform="translate(462 737.7) scale(0.885 1)" font-size="23.5" font-style="italic">Cd<tspan font-style="normal">36</tspan></text>
<text transform="translate(462 767.2) scale(0.885 1)" font-size="23.5" font-style="italic">Gas<tspan font-style="normal">6</tspan></text>
<text transform="translate(462 796.8) scale(0.885 1)" font-size="23.5" font-style="italic">Ccl<tspan font-style="normal">2</tspan></text>
<text transform="translate(462 826.3) scale(0.885 1)" font-size="23.5" font-style="italic">Pycard</text>
<text transform="translate(462 855.8) scale(0.885 1)" font-size="23.5" font-style="italic">Rab27a</text>
<text transform="translate(462 885.4) scale(0.885 1)" font-size="23.5" font-style="italic">Il15ra</text>
<text transform="translate(462 914.9) scale(0.885 1)" font-size="23.5" font-style="italic">Stap<tspan font-style="normal">1</tspan></text>
<text transform="translate(462 944.5) scale(0.885 1)" font-size="23.5" font-style="italic">Mfge<tspan font-style="normal">8</tspan></text>
<g shape-rendering="crispEdges">
<rect x="255.1" y="1636.7" width="69.7" height="25.3" fill="#ea4e4c"/>
<rect x="324.2" y="1636.7" width="69.7" height="25.3" fill="#fa9090"/>
<rect x="393.4" y="1636.7" width="69.7" height="25.3" fill="#f66e6c"/>
<rect x="462.5" y="1636.7" width="69.7" height="25.3" fill="#5f64b4"/>
<rect x="531.7" y="1636.7" width="69.7" height="25.3" fill="#d9d7f3"/>
<rect x="600.8" y="1636.7" width="69.7" height="25.3" fill="#3c3f9f"/>
<rect x="255.1" y="1661.4" width="69.7" height="25.3" fill="#fa9090"/>
<rect x="324.2" y="1661.4" width="138.9" height="25.3" fill="#f66e6c"/>
<rect x="462.5" y="1661.4" width="69.7" height="25.3" fill="#3c3f9f"/>
<rect x="531.7" y="1661.4" width="69.7" height="25.3" fill="#8a8acc"/>
<rect x="600.8" y="1661.4" width="69.7" height="25.3" fill="#5f64b4"/>
<rect x="255.1" y="1686.1" width="69.7" height="25.3" fill="#ea4e4c"/>
<rect x="324.2" y="1686.1" width="69.7" height="25.3" fill="#fab5b5"/>
<rect x="393.4" y="1686.1" width="69.7" height="25.3" fill="#f66e6c"/>
<rect x="462.5" y="1686.1" width="69.7" height="25.3" fill="#b1b0e2"/>
<rect x="531.7" y="1686.1" width="69.7" height="25.3" fill="#3c3f9f"/>
<rect x="600.8" y="1686.1" width="69.7" height="25.3" fill="#5f64b4"/>
<rect x="255.1" y="1710.8" width="69.7" height="25.3" fill="#fab5b5"/>
<rect x="324.2" y="1710.8" width="69.7" height="25.3" fill="#ea4e4c"/>
<rect x="393.4" y="1710.8" width="69.7" height="25.3" fill="#f66e6c"/>
<rect x="462.5" y="1710.8" width="69.7" height="25.3" fill="#d9d7f3"/>
<rect x="531.7" y="1710.8" width="69.7" height="25.3" fill="#5f64b4"/>
<rect x="600.8" y="1710.8" width="69.7" height="25.3" fill="#3c3f9f"/>
<rect x="255.1" y="1735.5" width="69.7" height="25.3" fill="#fab5b5"/>
<rect x="324.2" y="1735.5" width="69.7" height="25.3" fill="#fa9090"/>
<rect x="393.4" y="1735.5" width="69.7" height="25.3" fill="#ea4e4c"/>
<rect x="462.5" y="1735.5" width="69.7" height="25.3" fill="#2f45a0"/>
<rect x="531.7" y="1735.5" width="69.7" height="25.3" fill="#d9d7f3"/>
<rect x="255.1" y="1760.2" width="69.7" height="25.3" fill="#8a8acc"/>
<rect x="324.2" y="1760.2" width="69.7" height="25.3" fill="#3c3f9f"/>
<rect x="393.4" y="1760.2" width="69.7" height="25.3" fill="#8a8acc"/>
<rect x="462.5" y="1760.2" width="69.7" height="25.3" fill="#ea4e4c"/>
<rect x="531.7" y="1760.2" width="69.7" height="25.3" fill="#fa9090"/>
<rect x="600.8" y="1760.2" width="69.7" height="25.3" fill="#f66e6c"/>
<rect x="255.1" y="1784.9" width="69.7" height="25.3" fill="#8a8acc"/>
<rect x="324.2" y="1784.9" width="69.7" height="25.3" fill="#3c3f9f"/>
<rect x="393.4" y="1784.9" width="69.7" height="25.3" fill="#8a8acc"/>
<rect x="462.5" y="1784.9" width="69.7" height="25.3" fill="#ea4e4c"/>
<rect x="531.7" y="1784.9" width="69.7" height="25.3" fill="#fa9090"/>
<rect x="600.8" y="1784.9" width="69.7" height="25.3" fill="#f66e6c"/>
<rect x="255.1" y="1809.6" width="138.9" height="25.3" fill="#5f64b4"/>
<rect x="393.4" y="1809.6" width="69.7" height="25.3" fill="#8a8acc"/>
<rect x="462.5" y="1809.6" width="138.9" height="25.3" fill="#fa9090"/>
<rect x="600.8" y="1809.6" width="69.7" height="25.3" fill="#ea4e4c"/>
<rect x="255.1" y="1834.3" width="69.7" height="25.3" fill="#5f64b4"/>
<rect x="324.2" y="1834.3" width="69.7" height="25.3" fill="#3c3f9f"/>
<rect x="393.4" y="1834.3" width="69.7" height="25.3" fill="#b1b0e2"/>
<rect x="462.5" y="1834.3" width="138.9" height="25.3" fill="#f66e6c"/>
<rect x="600.8" y="1834.3" width="69.7" height="25.3" fill="#fa9090"/>
<rect x="255.1" y="1859" width="69.7" height="25.3" fill="#3c3f9f"/>
<rect x="324.2" y="1859" width="138.9" height="25.3" fill="#8a8acc"/>
<rect x="462.5" y="1859" width="208" height="25.3" fill="#f66e6c"/>
<rect x="255.1" y="1883.7" width="69.7" height="25.3" fill="#3c3f9f"/>
<rect x="324.2" y="1883.7" width="138.9" height="25.3" fill="#8a8acc"/>
<rect x="462.5" y="1883.7" width="69.7" height="25.3" fill="#fa9090"/>
<rect x="531.7" y="1883.7" width="138.9" height="25.3" fill="#f66e6c"/>
<rect x="255.1" y="1908.4" width="69.7" height="25.3" fill="#3c3f9f"/>
<rect x="324.2" y="1908.4" width="138.9" height="25.3" fill="#8a8acc"/>
<rect x="462.5" y="1908.4" width="69.7" height="25.3" fill="#ea4e4c"/>
<rect x="531.7" y="1908.4" width="138.9" height="25.3" fill="#fa9090"/>
<rect x="255.1" y="1933" width="208" height="25.3" fill="#5f64b4"/>
<rect x="462.5" y="1933" width="69.7" height="25.3" fill="#fa9090"/>
<rect x="531.7" y="1933" width="69.7" height="25.3" fill="#f66e6c"/>
<rect x="600.8" y="1933" width="69.7" height="25.3" fill="#ea4e4c"/>
<rect x="255.1" y="1957.7" width="69.7" height="25.3" fill="#b1b0e2"/>
<rect x="324.2" y="1957.7" width="69.7" height="25.3" fill="#2f45a0"/>
<rect x="393.4" y="1957.7" width="69.7" height="25.3" fill="#b1b0e2"/>
<rect x="462.5" y="1957.7" width="138.9" height="25.3" fill="#fa9090"/>
<rect x="600.8" y="1957.7" width="69.7" height="25.3" fill="#ea4e4c"/>
<rect x="255.1" y="1982.4" width="69.7" height="25.3" fill="#2f45a0"/>
<rect x="324.2" y="1982.4" width="69.7" height="25.3" fill="#d9d7f3"/>
<rect x="393.4" y="1982.4" width="69.7" height="25.3" fill="#8a8acc"/>
<rect x="462.5" y="1982.4" width="69.7" height="25.3" fill="#fa9090"/>
<rect x="531.7" y="1982.4" width="69.7" height="25.3" fill="#f66e6c"/>
<rect x="600.8" y="1982.4" width="69.7" height="25.3" fill="#fa9090"/>
<rect x="255.1" y="2007.1" width="69.7" height="25.3" fill="#3c3f9f"/>
<rect x="324.2" y="2007.1" width="69.7" height="25.3" fill="#b1b0e2"/>
<rect x="393.4" y="2007.1" width="69.7" height="25.3" fill="#8a8acc"/>
<rect x="462.5" y="2007.1" width="69.7" height="25.3" fill="#dc3020"/>
<rect x="531.7" y="2007.1" width="69.7" height="25.3" fill="#fa9090"/>
<rect x="600.8" y="2007.1" width="69.7" height="25.3" fill="#fbdada"/>
<rect x="324.2" y="2031.8" width="69.7" height="25.3" fill="#2f45a0"/>
<rect x="393.4" y="2031.8" width="69.7" height="25.3" fill="#b1b0e2"/>
<rect x="462.5" y="2031.8" width="138.9" height="25.3" fill="#fa9090"/>
<rect x="600.8" y="2031.8" width="69.7" height="25.3" fill="#f66e6c"/>
<rect x="255.1" y="2056.5" width="69.7" height="25.3" fill="#5f64b4"/>
<rect x="324.2" y="2056.5" width="69.7" height="25.3" fill="#8a8acc"/>
<rect x="393.4" y="2056.5" width="69.7" height="25.3" fill="#3c3f9f"/>
<rect x="462.5" y="2056.5" width="69.7" height="25.3" fill="#ea4e4c"/>
<rect x="531.7" y="2056.5" width="138.9" height="25.3" fill="#fa9090"/>
<rect x="255.1" y="2081.2" width="69.7" height="25.3" fill="#d9d7f3"/>
<rect x="324.2" y="2081.2" width="138.9" height="25.3" fill="#3c3f9f"/>
<rect x="462.5" y="2081.2" width="69.7" height="25.3" fill="#f66e6c"/>
<rect x="531.7" y="2081.2" width="69.7" height="25.3" fill="#fa9090"/>
<rect x="600.8" y="2081.2" width="69.7" height="25.3" fill="#f66e6c"/>
<rect x="255.1" y="2105.9" width="208" height="25.3" fill="#f66e6c"/>
<rect x="462.5" y="2105.9" width="138.9" height="25.3" fill="#8a8acc"/>
<rect x="600.8" y="2105.9" width="69.7" height="25.3" fill="#3c3f9f"/>
<rect x="255.1" y="2130.6" width="69.7" height="25.3" fill="#fa9090"/>
<rect x="324.2" y="2130.6" width="69.7" height="25.3" fill="#f66e6c"/>
<rect x="393.4" y="2130.6" width="69.7" height="25.3" fill="#fa9090"/>
<rect x="531.7" y="2130.6" width="138.9" height="25.3" fill="#3c3f9f"/>
<rect x="255.1" y="2155.3" width="69.7" height="25.3" fill="#fbdada"/>
<rect x="324.2" y="2155.3" width="69.7" height="25.3" fill="#e23830"/>
<rect x="393.4" y="2155.3" width="69.7" height="25.3" fill="#f66e6c"/>
<rect x="462.5" y="2155.3" width="69.7" height="25.3" fill="#8a8acc"/>
<rect x="531.7" y="2155.3" width="69.7" height="25.3" fill="#3c3f9f"/>
<rect x="600.8" y="2155.3" width="69.7" height="25.3" fill="#b1b0e2"/>
<rect x="255.1" y="2180" width="69.7" height="25.3" fill="#fab5b5"/>
<rect x="324.2" y="2180" width="69.7" height="25.3" fill="#f66e6c"/>
<rect x="393.4" y="2180" width="69.7" height="25.3" fill="#ea4e4c"/>
<rect x="462.5" y="2180" width="69.7" height="25.3" fill="#d9d7f3"/>
<rect x="531.7" y="2180" width="138.9" height="25.3" fill="#3c3f9f"/>
</g>
<text transform="translate(678 1656.2) scale(0.95 1)" font-size="19.8" font-style="italic">Klf<tspan font-style="normal">2</tspan></text>
<text transform="translate(678 1680.9) scale(0.95 1)" font-size="19.8" font-style="italic">Klf<tspan font-style="normal">4</tspan></text>
<text transform="translate(678 1705.6) scale(0.95 1)" font-size="19.8" font-style="italic">Hsp90aa<tspan font-style="normal">1</tspan></text>
<text transform="translate(678 1730.3) scale(0.95 1)" font-size="19.8" font-style="italic">Cd<tspan font-style="normal">36</tspan></text>
<text transform="translate(678 1755) scale(0.95 1)" font-size="19.8" font-style="italic">Cx3cr<tspan font-style="normal">1</tspan></text>
<text transform="translate(678 1779.7) scale(0.95 1)" font-size="19.8" font-style="italic">Icam<tspan font-style="normal">1</tspan></text>
<text transform="translate(678 1804.3) scale(0.95 1)" font-size="19.8" font-style="italic">Jak<tspan font-style="normal">2</tspan></text>
<text transform="translate(678 1829) scale(0.95 1)" font-size="19.8" font-style="italic">Ptgs<tspan font-style="normal">2</tspan></text>
<text transform="translate(678 1853.7) scale(0.95 1)" font-size="19.8" font-style="italic">Cyba</text>
<text transform="translate(678 1878.4) scale(0.95 1)" font-size="19.8" font-style="italic">Itgb<tspan font-style="normal">2</tspan></text>
<text transform="translate(678 1903.1) scale(0.95 1)" font-size="19.8" font-style="italic">Sipra</text>
<text transform="translate(678 1927.8) scale(0.95 1)" font-size="19.8" font-style="italic">Cybb</text>
<text transform="translate(678 1952.5) scale(0.95 1)" font-size="19.8" font-style="italic">Il1b</text>
<text transform="translate(678 1977.2) scale(0.95 1)" font-size="19.8" font-style="italic">Klrk<tspan font-style="normal">1</tspan></text>
<text transform="translate(678 2001.9) scale(0.95 1)" font-size="19.8" font-style="italic">Tlr<tspan font-style="normal">6</tspan></text>
<text transform="translate(678 2026.6) scale(0.95 1)" font-size="19.8" font-style="italic">Slc7a<tspan font-style="normal">2</tspan></text>
<text transform="translate(678 2051.3) scale(0.95 1)" font-size="19.8" font-style="italic">Arg<tspan font-style="normal">2</tspan></text>
<text transform="translate(678 2076) scale(0.95 1)" font-size="19.8" font-style="italic">Tspo</text>
<text transform="translate(678 2100.7) scale(0.95 1)" font-size="19.8" font-style="italic">Rab27a</text>
<text transform="translate(678 2125.4) scale(0.95 1)" font-size="19.8" font-style="italic">Il<tspan font-style="normal">10</tspan></text>
<text transform="translate(678 2150.1) scale(0.95 1)" font-size="19.8" font-style="italic">Ddah<tspan font-style="normal">2</tspan></text>
<text transform="translate(678 2174.8) scale(0.95 1)" font-size="19.8" font-style="italic">Rora</text>
<text transform="translate(678 2199.5) scale(0.95 1)" font-size="19.8" font-style="italic">Wdr<tspan font-style="normal">35</tspan></text>
<g shape-rendering="crispEdges">
<rect x="785" y="1632.7" width="69.8" height="57.7" fill="#2424ff"/>
<rect x="854.2" y="1632.7" width="138.9" height="57.7" fill="#9292ff"/>
<rect x="992.5" y="1632.7" width="138.9" height="57.7" fill="#ff6e6e"/>
<rect x="1130.8" y="1632.7" width="69.8" height="57.7" fill="#ff4848"/>
<rect x="785" y="1689.8" width="69.8" height="57.7" fill="#4848ff"/>
<rect x="854.2" y="1689.8" width="69.8" height="57.7" fill="#9292ff"/>
<rect x="923.3" y="1689.8" width="69.8" height="57.7" fill="#6e6eff"/>
<rect x="992.5" y="1689.8" width="138.9" height="57.7" fill="#ff4848"/>
<rect x="1130.8" y="1689.8" width="69.8" height="57.7" fill="#ffb5b5"/>
<rect x="785" y="1747" width="208.1" height="57.7" fill="#6e6eff"/>
<rect x="992.5" y="1747" width="69.8" height="57.7" fill="#ff0000"/>
<rect x="1061.7" y="1747" width="69.8" height="57.7" fill="#ff9090"/>
<rect x="1130.8" y="1747" width="69.8" height="57.7" fill="#ffb5b5"/>
<rect x="785" y="1804.1" width="138.9" height="57.7" fill="#4848ff"/>
<rect x="923.3" y="1804.1" width="69.8" height="57.7" fill="#9292ff"/>
<rect x="992.5" y="1804.1" width="69.8" height="57.7" fill="#ff9090"/>
<rect x="1061.7" y="1804.1" width="69.8" height="57.7" fill="#ff4848"/>
<rect x="1130.8" y="1804.1" width="69.8" height="57.7" fill="#ff6e6e"/>
<rect x="785" y="1861.2" width="69.8" height="57.7" fill="#4848ff"/>
<rect x="854.2" y="1861.2" width="69.8" height="57.7" fill="#9292ff"/>
<rect x="923.3" y="1861.2" width="69.8" height="57.7" fill="#6e6eff"/>
<rect x="992.5" y="1861.2" width="69.8" height="57.7" fill="#ff4848"/>
<rect x="1061.7" y="1861.2" width="69.8" height="57.7" fill="#ff9090"/>
<rect x="1130.8" y="1861.2" width="69.8" height="57.7" fill="#ff6e6e"/>
<rect x="785" y="1918.3" width="69.8" height="57.7" fill="#ffb5b5"/>
<rect x="854.2" y="1918.3" width="138.9" height="57.7" fill="#ff4848"/>
<rect x="992.5" y="1918.3" width="69.8" height="57.7" fill="#4848ff"/>
<rect x="1061.7" y="1918.3" width="138.9" height="57.7" fill="#6e6eff"/>
<rect x="785" y="1975.5" width="69.8" height="57.7" fill="#6e6eff"/>
<rect x="854.2" y="1975.5" width="69.8" height="57.7" fill="#9292ff"/>
<rect x="923.3" y="1975.5" width="69.8" height="57.7" fill="#4848ff"/>
<rect x="992.5" y="1975.5" width="138.9" height="57.7" fill="#ff9090"/>
<rect x="1130.8" y="1975.5" width="69.8" height="57.7" fill="#ff2424"/>
<rect x="785" y="2032.6" width="69.8" height="57.7" fill="#6e6eff"/>
<rect x="854.2" y="2032.6" width="69.8" height="57.7" fill="#4848ff"/>
<rect x="923.3" y="2032.6" width="69.8" height="57.7" fill="#6e6eff"/>
<rect x="992.5" y="2032.6" width="138.9" height="57.7" fill="#ff6e6e"/>
<rect x="1130.8" y="2032.6" width="69.8" height="57.7" fill="#ff4848"/>
<rect x="785" y="2089.7" width="69.8" height="57.7" fill="#9292ff"/>
<rect x="854.2" y="2089.7" width="69.8" height="57.7" fill="#4848ff"/>
<rect x="923.3" y="2089.7" width="69.8" height="57.7" fill="#6e6eff"/>
<rect x="992.5" y="2089.7" width="138.9" height="57.7" fill="#ff6e6e"/>
<rect x="1130.8" y="2089.7" width="69.8" height="57.7" fill="#ff4848"/>
<rect x="785" y="2146.9" width="69.8" height="57.7" fill="#ffb5b5"/>
<rect x="854.2" y="2146.9" width="69.8" height="57.7" fill="#ff4848"/>
<rect x="923.3" y="2146.9" width="69.8" height="57.7" fill="#ff6e6e"/>
<rect x="992.5" y="2146.9" width="69.8" height="57.7" fill="#0000ff"/>
<rect x="1061.7" y="2146.9" width="69.8" height="57.7" fill="#9292ff"/>
</g>
<text transform="translate(1210 1674.6) scale(1 1)" font-size="21.5" font-style="italic">Itgb<tspan font-style="normal">2</tspan></text>
<text transform="translate(1210 1731.7) scale(1 1)" font-size="21.5" font-style="italic">Prkcd</text>
<text transform="translate(1210 1788.9) scale(1 1)" font-size="21.5" font-style="italic">Thbs<tspan font-style="normal">1</tspan></text>
<text transform="translate(1210 1846) scale(1 1)" font-size="21.5" font-style="italic">Cyba</text>
<text transform="translate(1210 1903.1) scale(1 1)" font-size="21.5" font-style="italic">Nfe<tspan font-style="normal">212</tspan></text>
<text transform="translate(1210 1960.2) scale(1 1)" font-size="21.5" font-style="italic">Tgfbr<tspan font-style="normal">2</tspan></text>
<text transform="translate(1210 2017.4) scale(1 1)" font-size="21.5" font-style="italic">Tspo</text>
<text transform="translate(1210 2074.5) scale(1 1)" font-size="21.5" font-style="italic">Fpr<tspan font-style="normal">2</tspan></text>
<text transform="translate(1210 2131.6) scale(1 1)" font-size="21.5" font-style="italic">Acod<tspan font-style="normal">1</tspan></text>
<text transform="translate(1210 2188.8) scale(1 1)" font-size="21.5" font-style="italic">Egfr</text>
<rect x="13.8" y="1015.8" width="548.9" height="136.5" fill="#fdfdfd"/>
<rect x="84" y="1055.5" width="29.5" height="21.8" fill="#2f47a5"/>
<rect x="113" y="1055.5" width="29.5" height="21.8" fill="#3643a2"/>
<rect x="141.9" y="1055.5" width="29.5" height="21.8" fill="#3b40a0"/>
<rect x="170.9" y="1055.5" width="29.5" height="21.8" fill="#5f63b5"/>
<rect x="199.9" y="1055.5" width="29.5" height="21.8" fill="#8789cc"/>
<rect x="228.8" y="1055.5" width="29.5" height="21.8" fill="#aeaee3"/>
<rect x="257.8" y="1055.5" width="29.5" height="21.8" fill="#d8d7f3"/>
<rect x="286.8" y="1055.5" width="29.5" height="21.8" fill="#ffffff"/>
<rect x="315.7" y="1055.5" width="29.5" height="21.8" fill="#fbd9d9"/>
<rect x="344.7" y="1055.5" width="29.5" height="21.8" fill="#f8b4b4"/>
<rect x="373.7" y="1055.5" width="29.5" height="21.8" fill="#f59191"/>
<rect x="402.6" y="1055.5" width="29.5" height="21.8" fill="#f26f6f"/>
<rect x="431.6" y="1055.5" width="29.5" height="21.8" fill="#ee5350"/>
<rect x="460.6" y="1055.5" width="29.5" height="21.8" fill="#e84038"/>
<rect x="489.5" y="1055.5" width="29.5" height="21.8" fill="#e03224"/>
<rect x="84" y="1055.5" width="434.5" height="21.8" fill="none" stroke="#000" stroke-width="1.6"/>
<path d="M102 1077.3V1087.7M168.7 1077.3V1087.7M235.1 1077.3V1087.7M301.4 1077.3V1087.7M368.1 1077.3V1087.7M434.8 1077.3V1087.7M501.2 1077.3V1087.7" stroke="#000" stroke-width="2"/>
<text x="102" y="1112.6" font-size="17.5" text-anchor="middle" fill="#222">-1.5</text>
<text x="168.7" y="1112.6" font-size="17.5" text-anchor="middle" fill="#222">-1</text>
<text x="235.1" y="1112.6" font-size="17.5" text-anchor="middle" fill="#222">-0.5</text>
<text x="301.4" y="1112.6" font-size="17.5" text-anchor="middle" fill="#222">0</text>
<text x="368.1" y="1112.6" font-size="17.5" text-anchor="middle" fill="#222">0.5</text>
<text x="434.8" y="1112.6" font-size="17.5" text-anchor="middle" fill="#222">1</text>
<text x="501.2" y="1112.6" font-size="17.5" text-anchor="middle" fill="#222">1.5</text>
<text x="300.7" y="1043.4" font-size="21" text-anchor="middle" font-weight="bold" fill="#222">Color Key</text>
<text x="300.7" y="1137.8" font-size="18" text-anchor="middle" fill="#222">Row Z-Score</text>
<rect x="476.6" y="2238.3" width="552.4" height="130.2" fill="#fdfdfd"/>
<rect x="549.6" y="2277.8" width="29.5" height="21" fill="#2f47a5"/>
<rect x="578.6" y="2277.8" width="29.5" height="21" fill="#3643a2"/>
<rect x="607.6" y="2277.8" width="29.5" height="21" fill="#3b40a0"/>
<rect x="636.6" y="2277.8" width="29.5" height="21" fill="#5f63b5"/>
<rect x="665.6" y="2277.8" width="29.5" height="21" fill="#8789cc"/>
<rect x="694.6" y="2277.8" width="29.5" height="21" fill="#aeaee3"/>
<rect x="723.6" y="2277.8" width="29.5" height="21" fill="#d8d7f3"/>
<rect x="752.6" y="2277.8" width="29.5" height="21" fill="#ffffff"/>
<rect x="781.6" y="2277.8" width="29.5" height="21" fill="#fbd9d9"/>
<rect x="810.6" y="2277.8" width="29.5" height="21" fill="#f8b4b4"/>
<rect x="839.7" y="2277.8" width="29.5" height="21" fill="#f59191"/>
<rect x="868.7" y="2277.8" width="29.5" height="21" fill="#f26f6f"/>
<rect x="897.7" y="2277.8" width="29.5" height="21" fill="#ee5350"/>
<rect x="926.7" y="2277.8" width="29.5" height="21" fill="#e84038"/>
<rect x="955.7" y="2277.8" width="29.5" height="21" fill="#e03224"/>
<rect x="549.6" y="2277.8" width="435.1" height="21" fill="none" stroke="#000" stroke-width="1.6"/>
<path d="M567.3 2298.8V2309.7M633.9 2298.8V2309.7M700.4 2298.8V2309.7M766.9 2298.8V2309.7M833.5 2298.8V2309.7M900 2298.8V2309.7M966.5 2298.8V2309.7" stroke="#000" stroke-width="2"/>
<text x="567.3" y="2335.1" font-size="17.5" text-anchor="middle" fill="#222">-1.5</text>
<text x="633.9" y="2335.1" font-size="17.5" text-anchor="middle" fill="#222">-1</text>
<text x="700.4" y="2335.1" font-size="17.5" text-anchor="middle" fill="#222">-0.5</text>
<text x="766.9" y="2335.1" font-size="17.5" text-anchor="middle" fill="#222">0</text>
<text x="833.5" y="2335.1" font-size="17.5" text-anchor="middle" fill="#222">0.5</text>
<text x="900" y="2335.1" font-size="17.5" text-anchor="middle" fill="#222">1</text>
<text x="966.5" y="2335.1" font-size="17.5" text-anchor="middle" fill="#222">1.5</text>
<text x="766.9" y="2264.5" font-size="21" text-anchor="middle" font-weight="bold" fill="#222">Color Key</text>
<text x="766.9" y="2360.1" font-size="18" text-anchor="middle" fill="#222">Row Z-Score</text>
<text x="289.5" y="41" font-size="31.5" text-anchor="middle">GO_Positive Regulation</text>
<text x="296" y="78" font-size="31.5" text-anchor="middle">of Phagocytosis</text>
<text x="257.1" y="1285.4" font-size="31.5">GO_ROS Biosynthetic Process</text>
<text x="996" y="1273.6" font-size="31.5" text-anchor="middle">GO_Positive Regulation of ROS</text>
<text x="1000.5" y="1309.3" font-size="31.5" text-anchor="middle">Metabolic Process</text>
<text x="176.5" y="996" font-size="31" text-anchor="middle">PBS</text>
<text x="359.5" y="1000" font-size="31" text-anchor="middle">WGP</text>
<text x="370.5" y="2244" font-size="31" text-anchor="middle">PBS</text>
<text x="579" y="2242" font-size="31" text-anchor="middle">WGP</text>
<text x="999" y="2242" font-size="31" text-anchor="middle">PBS</text>
<text x="1206.5" y="2242" font-size="31" text-anchor="middle">WGP</text>
<text x="60" y="27" font-size="37" font-weight="bold">a</text>
<text x="549" y="28" font-size="37" font-weight="bold">b</text>
<text x="543.5" y="442.5" font-size="37" font-weight="bold">c</text>
<text x="548.5" y="865" font-size="37" font-weight="bold">d</text>
<text x="158.5" y="1285.4" font-size="37" font-weight="bold">e</text>
<text x="1305" y="1283" font-size="37" font-weight="bold">f</text>
<text x="1306" y="1796" font-size="37" font-weight="bold">g</text>
<g fill="none" stroke-linecap="square" stroke-width="1.2">
<path transform="scale(1.25)" stroke-width="1" stroke="#283e9c" d="M682 62zm16 1zm-23 2zm21 1zm-2 2zm-16 1zm16 3zm2 0zm-6 1zm4 1zm-2 2zm5 0zm-10 1zm3 0zm-10 1zm13 1zm1 1zm20 0zm-37 1zm19 0zm-4 1zm-4 1zm-9 1zm12 0zm12 0zm-35 1zm7 0zm18 0zm16 0zm-30 1zm11 0zm-10 1zm12 0zm-13 1zm14 0zm-12 1zm11 0zm5 0zm1 1zm-37 1zm19 0zm12 0zm-13 1zm4 0zm17 0zm11 0zm-31 1zm8 0zm1 0zm-19 1zm11 0zm8 0zm4 0zm13 0zm-15 1zm9 0zm-15 1zm-13 1zm4 0zm5 0zm2 0zm3 0zm9 0zm6 0zm-21 1zm16 0zm3 0zm-10 1zm3 0zm6 0zm6 0zm2 0zm-31 1zm6 0zm1 0zm6 0zm16 0zm-19 1zm19 0zm6 0zm-36 1zm2 0zm16 0zm5 0zm7 0zm-28 1zm11 0zm5 0zm6 0zm-40 1zm15 0zm2 0zm8 0zm7 0zm3 0zm2 0zm8 0zm5 0zm3 0zm-37 1zm8 0zm9 0zm14 0zm-26 1zm4 0zm15 0zm-14 1zm6 0zm1 0zm1 0zm2 0zm7 0zm7 0zm-31 1zm8 0zm12 0zm1 0zm2 0zm7 0zm-27 1zm2 0zm2 0zm4 0zm18 0zm-22 1zm1 0zm3 0zm3 0zm2 0zm3 0zm9 0zm-36 1zm13 0zm1 0zm5 0zm6 0zm3 0zm3 0zm3 0zm4 0zm1 0zm-57 1zm14 0zm26 0zm7 0zm2 0zm1 0zm-11 1zm4 0zm4 0zm9 0zm-35 1zm13 0zm5 0zm1 0zm2 0zm3 0zm5 0zm2 0zm8 0zm-39 1zm10 0zm1 0zm2 0zm2 0zm1 0zm3 0zm2 0zm11 0zm13 0zm-41 1zm5 0zm2 0zm7 0zm7 0zm2 0zm1 0zm7 0zm-24 1zm4 0zm3 0zm3 0zm3 0zm5 0zm3 0zm7 0zm-55 1zm20 0zm1 0zm7 0zm7 0zm3 0zm-29 1zm10 0zm3 0zm3 0zm7 0zm2 0zm3 0zm6 0zm-25 1zm6 0zm1 0zm4 0zm3 0zm7 0zm5 0zm8 0zm-27 1zm3 0zm6 0zm4 0zm1 0zm3 0zm2 0zm2 0zm4 0zm-43 1zm7 0zm4 0zm9 0zm7 0zm7 0zm4 0zm6 0zm5 0zm-49 1zm11 0zm2 0zm9 0zm4 0zm2 0zm1 0zm3 0zm2 0zm3 0zm2 0zm7 0zm-29 1zm2 0zm1 0zm3 0zm1 0zm4 0zm2 0zm3 0zm4 0zm4 0zm-19 1zm2 0zm2 0zm7 0zm3 0zm2 0zm-30 1zm9 0zm5 0zm10 0zm7 0zm6 0zm-24 1zm5 0zm2 0zm4 0zm12 0zm-40 1zm8 0zm1 0zm1 0zm2 0zm1 0zm2 0zm3 0zm3 0zm3 0zm4 0zm2 0zm4 0zm-33 1zm4 0zm4 0zm2 0zm3 0zm1 0zm8 0zm8 0zm4 0zm2 0zm-22 1zm6 0zm3 0zm5 0zm1 0zm3 0zm1 0zm-22 1zm2 0zm4 0zm3 0zm3 0zm4 0zm4 0zm3 0zm9 0zm-33 1zm2 0zm8 0zm2 0zm2 0zm3 0zm6 0zm1 0zm6 0zm-29 1zm3 0zm7 0zm15 0zm11 0zm-50 1zm19 0zm4 0zm2 0zm1 0zm3 0zm16 0zm4 0zm-41 1zm5 0zm13 0zm2 0zm3 0zm2 0zm5 0zm1 0zm-34 1zm11 0zm4 0zm8 0zm3 0zm3 0zm-30 1zm14 0zm3 0zm3 0zm4 0zm2 0zm1 0zm3 0zm-31 1zm7 0zm6 0zm6 0zm4 0zm2 0zm3 0zm5 0zm-32 1zm10 0zm2 0zm2 0zm2 0zm1 0zm3 0zm2 0zm6 0zm4 0zm6 0zm-54 1zm6 0zm5 0zm14 0zm1 0zm2 0zm5 0zm8 0zm15 0zm10 0zm-53 1zm7 0zm3 0zm2 0zm16 0zm5 0zm2 0zm6 0zm1 0zm1 0zm-33 1zm4 0zm6 0zm1 0zm4 0zm6 0zm3 0zm-26 1zm1 0zm1 0zm13 0zm2 0zm2 0zm3 0zm-23 1zm6 0zm5 0zm1 0zm4 0zm1 0zm10 0zm6 0zm-32 1zm10 0zm2 0zm3 0zm5 0zm1 0zm6 0zm-30 1zm6 0zm1 0zm15 0zm1 0zm1 0zm3 0zm3 0zm3 0zm1 0zm-45 1zm25 0zm1 0zm1 0zm3 0zm8 0zm1 0zm8 0zm2 0zm-33 1zm5 0zm1 0zm8 0zm5 0zm1 0zm1 0zm2 0zm2 0zm3 0zm1 0zm-31 1zm4 0zm1 0zm1 0zm1 0zm6 0zm3 0zm6 0zm4 0zm-22 1zm5 0zm9 0zm3 0zm3 0zm3 0zm2 0zm12 0zm-44 1zm2 0zm7 0zm2 0zm3 0zm2 0zm8 0zm2 0zm1 0zm1 0zm4 0zm14 0zm-47 1zm10 0zm8 0zm6 0zm6 0zm-27 1zm4 0zm15 0zm4 0zm-27 1zm6 0zm5 0zm1 0zm1 0zm1 0zm3 0zm2 0zm3 0zm3 0zm-4 1zm10 0zm2 0zm1 0zm3 0zm-29 1zm1 0zm4 0zm1 0zm4 0zm1 0zm14 0zm1 0zm4 0zm-34 1zm16 0zm3 0zm1 0zm2 0zm4 0zm-20 1zm6 0zm1 0zm6 0zm5 0zm3 0zm4 0zm3 0zm-49 1zm10 0zm11 0zm2 0zm4 0zm6 0zm4 0zm1 0zm2 0zm-26 1zm3 0zm10 0zm3 0zm4 0zm5 0zm4 0zm13 0zm-36 1zm1 0zm5 0zm1 0zm1 0zm6 0zm10 0zm6 0zm9 0zm-54 1zm14 0zm2 0zm1 0zm3 0zm2 0zm3 0zm5 0zm-23 1zm11 0zm9 0zm1 0zm4 0zm2 0zm3 0zm4 0zm3 0zm-45 1zm1 0zm25 0zm-15 1zm1 0zm16 0zm2 0zm3 0zm1 0zm3 0zm3 0zm-20 1zm6 0zm3 0zm3 0zm3 0zm2 0zm2 0zm4 0zm7 0zm-37 1zm7 0zm1 0zm4 0zm2 0zm7 0zm5 0zm2 0zm-26 1zm1 0zm9 0zm1 0zm4 0zm3 0zm6 0zm1 0zm1 0zm1 0zm3 0zm1 0zm1 0zm3 0zm7 0zm-57 1zm4 0zm17 0zm4 0zm18 0zm4 0zm2 0zm-42 1zm9 0zm3 0zm1 0zm6 0zm6 0zm2 0zm1 0zm3 0zm2 0zm6 0zm10 0zm-54 1zm12 0zm1 0zm7 0zm1 0zm3 0zm2 0zm3 0zm20 0zm-34 1zm6 0zm1 0zm2 0zm2 0zm1 0zm4 0zm-24 1zm9 0zm1 0zm3 0zm8 0zm3 0zm1 0zm1 0zm7 0zm2 0zm-41 1zm9 0zm6 0zm6 0zm8 0zm4 0zm1 0zm1 0zm6 0zm3 0zm8 0zm-35 1zm3 0zm4 0zm2 0zm2 0zm4 0zm4 0zm1 0zm2 0zm-28 1zm7 0zm8 0zm6 0zm1 0zm1 0zm7 0zm-40 1zm11 0zm1 0zm5 0zm1 0zm3 0zm5 0zm3 0zm5 0zm1 0zm1 0zm-23 1zm8 0zm2 0zm1 0zm4 0zm1 0zm2 0zm9 0zm5 0zm-37 1zm5 0zm1 0zm3 0zm4 0zm1 0zm30 0zm5 0zm-60 1zm11 0zm6 0zm5 0zm6 0zm3 0zm4 0zm12 0zm-45 1zm6 0zm3 0zm3 0zm1 0zm1 0zm2 0zm3 0zm10 0zm10 0zm3 0zm-33 1zm4 0zm4 0zm11 0zm2 0zm2 0zm5 0zm5 0zm5 0zm-38 1zm8 0zm1 0zm4 0zm3 0zm10 0zm-46 1zm19 0zm5 0zm5 0zm3 0zm2 0zm1 0zm1 0zm11 0zm1 0zm1 0zm2 0zm1 0zm-36 1zm12 0zm10 0zm8 0zm9 0zm1 0zm-42 1zm15 0zm5 0zm8 0zm2 0zm4 0zm-33 1zm7 0zm1 0zm1 0zm5 0zm3 0zm2 0zm14 0zm1 0zm6 0zm1 0zm-27 1zm6 0zm3 0zm1 0zm3 0zm3 0zm6 0zm2 0zm2 0zm4 0zm-58 1zm7 0zm20 0zm2 0zm11 0zm2 0zm1 0zm6 0zm3 0zm5 0zm3 0zm-56 1zm20 0zm1 0zm5 0zm5 0zm6 0zm1 0zm4 0zm18 0zm-58 1zm6 0zm5 0zm4 0zm7 0zm4 0zm1 0zm1 0zm4 0zm9 0zm1 0zm-26 1zm5 0zm3 0zm2 0zm4 0zm5 0zm3 0zm3 0zm3 0zm1 0zm-48 1zm2 0zm6 0zm4 0zm9 0zm5 0zm1 0zm1 0zm4 0zm5 0zm5 0zm5 0zm1 0zm2 0zm-52 1zm21 0zm8 0zm5 0zm5 0zm4 0zm3 0zm10 0zm-54 1zm24 0zm4 0zm3 0zm25 0zm2 0zm-53 1zm7 0zm3 0zm3 0zm3 0zm1 0zm1 0zm4 0zm1 0zm4 0zm1 0zm6 0zm26 0zm-54 1zm12 0zm5 0zm1 0zm7 0zm6 0zm1 0zm1 0zm13 0zm-54 1zm3 0zm8 0zm8 0zm2 0zm6 0zm2 0zm1 0zm3 0zm27 0zm-50 1zm7 0zm5 0zm1 0zm4 0zm5 0zm6 0zm5 0zm-43 1zm1 0zm1 0zm7 0zm2 0zm5 0zm1 0zm1 0zm5 0zm17 0zm7 0zm1 0zm17 0zm-49 1zm1 0zm4 0zm2 0zm4 0zm1 0zm4 0zm5 0zm1 0zm4 0zm4 0zm-45 1zm11 0zm2 0zm3 0zm12 0zm3 0zm4 0zm15 0zm4 0zm1 0zm-47 1zm14 0zm1 0zm2 0zm7 0zm3 0zm2 0zm8 0zm-41 1zm9 0zm3 0zm7 0zm2 0zm6 0zm6 0zm2 0zm3 0zm-48 1zm5 0zm15 0zm4 0zm1 0zm3 0zm1 0zm1 0zm2 0zm8 0zm2 0zm1 0zm1 0zm3 0zm4 0zm6 0zm-44 1zm10 0zm14 0zm4 0zm4 0zm-36 1zm20 0zm5 0zm4 0zm3 0zm-31 1zm11 0zm15 0zm5 0zm5 0zm7 0zm1 0zm2 0zm-51 1zm22 0zm3 0zm2 0zm1 0zm9 0zm5 0zm2 0zm3 0zm5 0zm-46 1zm5 0zm1 0zm1 0zm5 0zm12 0zm4 0zm3 0zm4 0zm6 0zm-32 1zm2 0zm2 0zm4 0zm3 0zm1 0zm15 0zm4 0zm19 0zm-60 1zm7 0zm3 0zm7 0zm6 0zm3 0zm6 0zm3 0zm7 0zm3 0zm-35 1zm5 0zm2 0zm3 0zm9 0zm3 0zm9 0zm10 0zm2 0zm1 0zm-39 1zm3 0zm1 0zm4 0zm5 0zm4 0zm2 0zm2 0zm3 0zm8 0zm9 0zm-57 1zm16 0zm1 0zm3 0zm1 0zm2 0zm6 0zm3 0zm3 0zm2 0zm5 0zm6 0zm1 0zm-52 1zm10 0zm3 0zm1 0zm4 0zm1 0zm1 0zm18 0zm-21 1zm1 0zm9 0zm3 0zm13 0zm-49 1zm13 0zm13 0zm1 0zm1 0zm21 0zm1 0zm5 0zm-44 1zm2 0zm5 0zm10 0zm4 0zm1 0zm-20 1zm6 0zm2 0zm1 0zm15 0zm7 0zm1 0zm1 0zm11 0zm-48 1zm4 0zm4 0zm4 0zm12 0zm1 0zm4 0zm3 0zm5 0zm6 0zm2 0zm-52 1zm13 0zm1 0zm3 0zm10 0zm9 0zm2 0zm6 0zm1 0zm9 0zm-43 1zm5 0zm2 0zm2 0zm3 0zm4 0zm3 0zm15 0zm1 0zm5 0zm3 0zm-38 1zm12 0zm14 0zm1 0zm6 0zm11 0zm-38 1zm4 0zm2 0zm11 0zm4 0zm5 0zm2 0zm-46 1zm7 0zm1 0zm1 0zm4 0zm5 0zm3 0zm4 0zm12 0zm3 0zm6 0zm9 0zm-51 1zm1 0zm17 0zm18 0zm4 0zm4 0zm-45 1zm4 0zm1 0zm1 0zm5 0zm1 0zm8 0zm19 0zm3 0zm1 0zm8 0zm-56 1zm13 0zm7 0zm1 0zm1 0zm1 0zm1 0zm16 0zm3 0zm7 0zm4 0zm4 0zm-63 1zm13 0zm4 0zm4 0zm1 0zm1 0zm1 0zm5 0zm2 0zm22 0zm6 0zm-45 1zm1 0zm14 0zm16 0zm6 0zm3 0zm3 0zm-52 1zm1 0zm15 0zm8 0zm4 0zm11 0zm5 0zm5 0zm3 0zm-57 1zm2 0zm8 0zm10 0zm3 0zm26 0zm5 0zm1 0zm6 0zm3 0zm-47 1zm1 0zm7 0zm18 0zm4 0zm1 0zm2 0zm6 0zm8 0zm-47 1zm3 0zm2 0zm4 0zm2 0zm14 0zm4 0zm6 0zm5 0zm2 0zm3 0zm-56 1zm8 0zm5 0zm1 0zm2 0zm3 0zm2 0zm17 0zm5 0zm2 0zm3 0zm4 0zm7 0zm-49 1zm7 0zm24 0zm1 0zm-32 1zm4 0zm1 0zm2 0zm21 0zm9 0zm6 0zm2 0zm-52 1zm10 0zm6 0zm2 0zm22 0zm3 0zm1 0zm1 0zm-49 1zm2 0zm13 0zm2 0zm27 0zm4 0zm4 0zm-46 1zm1 0zm3 0zm5 0zm2 0zm6 0zm23 0zm8 0zm-46 1zm1 0zm7 0zm30 0zm7 0zm-56 1zm3 0zm11 0zm6 0zm34 0zm3 0zm-48 1zm2 0zm2 0zm1 0zm2 0zm8 0zm28 0zm-54 1zm6 0zm3 0zm6 0zm7 0zm36 0zm1 0zm5 0zm1 0zm-52 1zm2 0zm42 0zm-49 1zm3 0zm7 0zm1 0zm1 0zm3 0zm30 0zm13 0zm-60 1zm9 0zm38 0zm2 0zm2 0zm4 0zm6 0zm-51 1zm4 0zm3 0zm41 0zm1 0zm3 0zm-64 1zm1 0zm7 0zm4 0zm4 0zm32 0zm2 0zm3 0zm3 0zm6 0zm1 0zm5 0zm-62 1zm1 0zm2 0zm9 0zm30 0zm2 0zm20 0zm-19 1zm5 0zm1 0zm4 0zm-51 1zm8 0zm1 0zm39 0zm-45 1zm1 0zm2 0zm1 0zm32 0zm1 0zm5 0zm-52 1zm15 0zm36 0zm2 0zm-56 1zm9 0zm1 0zm1 0zm3 0zm1 0zm31 0zm6 0zm9 0zm-56 1zm7 0zm1 0zm1 0zm4 0zm35 0zm-51 1zm2 0zm2 0zm42 0zm2 0zm22 0zm-65 1zm46 0zm9 0zm-66 1zm56 0zm-47 1zm4 0zm3 0zm4 0zm1 0zm38 0zm2 0zm6 0zm-55 1zm3 0zm3 0zm3 0zm32 0zm4 0zm2 0zm12 0zm-61 1zm10 0zm37 0zm1 0zm9 0zm-65 1zm3 0zm14 0zm33 0zm8 0zm8 0zm-60 1zm11 0zm2 0zm37 0zm-47 1zm7 0zm34 0zm1 0zm4 0zm11 0zm5 0zm-61 1zm40 0zm5 0zm1 0zm2 0zm1 0zm3 0zm-48 1zm38 0zm1 0zm11 0zm9 0zm-63 1zm4 0zm1 0zm4 0zm33 0zm2 0zm5 0zm8 0zm-60 1zm13 0zm29 0zm-34 1zm37 0zm2 0zm6 0zm-59 1zm50 0zm6 0zm-55 1zm14 0zm38 0zm1 0zm-52 1zm7 0zm10 0zm40 0zm-52 1zm6 0zm2 0zm1 0zm43 0zm-45 1zm2 0zm33 0zm-36 1zm42 0zm21 0zm-73 1zm6 0zm4 0zm40 0zm5 0zm-48 1zm7 0zm51 0zm-64 1zm8 0zm2 0zm35 0zm2 0zm7 0zm8 0zm-68 1zm4 0zm9 0zm5 0zm1 0zm35 0zm1 0zm-55 1zm16 0zm1 0zm1 0zm4 0zm-23 1zm16 0zm5 0zm1 0zm2 0zm37 0zm5 0zm-59 1zm4 0zm6 0zm1 0zm3 0zm5 0zm31 0zm4 0zm-39 1zm31 0zm2 0zm1 0zm5 0zm3 0zm-62 1zm20 0zm-7 1zm3 0zm31 0zm3 0zm4 0zm9 0zm-51 1zm1 0zm39 0zm14 0zm-63 1zm4 0zm11 0zm32 0zm6 0zm3 0zm1 0zm1 0zm-60 1zm13 0zm1 0zm3 0zm1 0zm1 0zm1 0zm25 0zm4 0zm7 0zm-44 1zm1 0zm1 0zm4 0zm1 0zm40 0zm-49 1zm5 0zm1 0zm30 0zm4 0zm5 0zm-49 1zm9 0zm1 0zm6 0zm24 0zm-38 1zm11 0zm20 0zm2 0zm3 0zm4 0zm3 0zm12 0zm-51 1zm5 0zm24 0zm1 0zm1 0zm2 0zm1 0zm2 0zm7 0zm4 0zm-54 1zm11 0zm1 0zm4 0zm1 0zm4 0zm10 0zm16 0zm1 0zm-32 1zm1 0zm3 0zm2 0zm1 0zm1 0zm9 0zm1 0zm2 0zm2 0zm1 0zm1 0zm1 0zm1 0zm23 0zm-56 1zm5 0zm5 0zm3 0zm2 0zm2 0zm5 0zm3 0zm5 0zm13 0z"/>
<path transform="scale(1.25)" stroke-width="1" stroke="#2f56aa" d="M697 119zm4 0zm-14 2zm7 1zm-8 1zm2 2zm4 0zm5 6zm-4 2zm-1 3zm3 0zm-7 1zm3 0zm1 0zm-3 1zm5 0zm1 0zm-7 4zm-1 1zm13 0zm-8 1zm5 0zm-8 2zm2 0zm10 3zm-10 7zm-3 1zm-1 1zm2 1zm3 0zm2 1zm-7 1zm-7 8zm2 2zm14 3zm-15 6zm0 2zm11 0zm-1 1zm2 0zm2 0zm-1 1zm1 0zm3 0zm-9 1zm4 0zm1 0zm7 0zm-10 1zm2 0zm6 0zm-10 1zm2 0zm3 0zm3 0zm8 0zm-14 1zm12 0zm-1 1zm-10 1zm7 0zm1 0zm-21 1zm11 0zm-4 1zm2 3zm2 0zm2 0zm5 0zm-3 1zm2 0zm-3 1zm2 0zm1 0zm2 1zm1 0zm-2 1zm4 0zm-13 1zm1 0zm3 0zm2 0zm9 0zm-20 1zm9 0zm4 0zm-14 2zm6 0zm1 0zm2 0zm2 0zm7 0zm-14 1zm2 0zm7 0zm1 0zm-5 1zm1 0zm7 1zm-12 1zm5 0zm-3 1zm4 0zm2 0zm5 0zm2 1zm-13 1zm3 0zm14 0zm-14 1zm1 0zm7 0zm-12 2zm2 0zm6 0zm3 0zm-15 2zm8 0zm3 0zm1 0zm3 0zm-13 1zm6 0zm1 0zm6 0zm-11 1zm8 0zm3 0zm-14 1zm8 0zm1 0zm-14 1zm5 1zm11 0zm1 0zm-12 1zm1 0zm1 0zm4 0zm4 0zm-12 1zm14 0zm2 0zm-16 1zm1 0zm6 0zm4 0zm-13 1zm2 0zm10 0zm-10 1zm4 0zm4 0zm2 0zm5 0zm-6 1zm1 0zm5 1zm-10 1zm4 0zm2 0zm-6 1zm1 0zm1 0zm5 0zm3 0zm1 0zm-10 1zm5 0zm-17 1zm12 0zm-3 1zm3 0zm5 0zm4 0zm-22 1zm13 0zm3 0zm1 0zm2 0zm3 0zm2 0zm-18 1zm2 0zm1 0zm1 0zm-8 1zm1 0zm10 0zm-8 1zm2 0zm2 0zm12 0zm3 0zm-15 1zm2 0zm2 0zm6 0zm1 0zm-13 1zm5 0zm6 0zm4 0zm2 0zm1 0zm-24 1zm9 0zm17 0zm2 0zm-22 1zm9 0zm15 0zm-29 1zm6 0zm4 0zm8 0zm1 0zm2 0zm2 0zm3 0zm-31 1zm2 0zm2 0zm8 0zm11 0zm-15 1zm1 0zm3 0zm21 0zm1 0zm-24 1zm1 0zm17 0zm1 0zm2 0zm3 0zm3 0zm-31 1zm5 1zm17 0zm-21 1zm2 0zm4 0zm16 0zm4 0zm-27 1zm2 0zm24 0zm-12 1zm11 1zm-25 1zm23 0zm-26 2zm4 0zm25 0zm-30 2zm28 0zm3 0zm3 1zm-5 1zm-29 1zm30 0zm3 0zm-34 1zm3 0zm29 0zm1 0zm1 0zm2 0zm-35 1zm28 0zm-24 1zm28 0zm3 0zm-33 1zm2 0zm26 0zm-1 1zm1 0zm1 0zm-31 1zm33 0zm-36 1zm6 0zm27 0zm-33 1zm2 0zm5 0zm2 0zm24 0zm1 0zm4 0zm-38 1zm5 0zm1 0zm-6 1zm2 0zm4 0zm2 0zm-6 1zm5 0zm27 0zm1 0zm-29 1zm-1 1zm1 0zm1 0zm-6 1zm4 0zm-5 1zm3 0zm6 0zm25 0zm-33 1zm3 0zm28 0zm4 0zm-32 1zm-1 1zm1 0zm1 0zm28 0zm-22 1zm24 0zm-31 1zm1 0zm2 0zm26 0zm2 0zm-30 1zm1 2zm29 0zm1 0zm-31 1zm27 0zm1 0zm1 0zm1 0zm1 0zm-33 1zm34 0zm-5 1zm1 0zm1 0zm3 0zm-30 1zm1 0zm23 0zm-1 1zm-26 1zm3 0zm1 0zm19 0zm6 0zm-26 1zm24 0zm1 0zm1 0zm2 0zm-33 1zm31 0zm-32 1zm25 0zm2 0zm4 0zm-5 1zm3 0zm1 0zm-24 1zm21 0zm1 0zm-13 1zm3 0zm-13 1zm7 0zm1 0zm10 0zm5 0zm-19 1zm11 1zm3 0zm7 0zm1 0zm1 0zm-15 1zm4 0zm1 0zm-5 1z"/>
<path transform="scale(1.25)" stroke-width="1" stroke="#58b4d4" d="M687 122zm-1 22zm8 13zm-8 3zm9 21zm0 5zm-5 1zm10 0zm-2 1zm2 10zm-4 1zm-6 2zm0 2zm8 1zm-9 1zm-1 1zm0 6zm3 1zm6 0zm-2 3zm-4 1zm4 1zm-1 1zm1 1zm3 0zm-9 3zm6 0zm1 0zm-8 1zm1 0zm9 0zm-10 1zm8 0zm-7 1zm6 0zm-4 1zm2 0zm-2 1zm1 1zm7 1zm-7 1zm1 0zm4 0zm-4 1zm-2 1zm5 0zm3 0zm-10 1zm3 0zm5 0zm4 0zm-22 2zm5 0zm2 0zm4 0zm2 0zm6 0zm-15 1zm8 1zm-1 1zm11 0zm-19 1zm7 0zm1 0zm7 0zm-11 1zm5 0zm4 0zm-12 1zm12 0zm3 0zm2 0zm2 0zm3 0zm-26 1zm7 0zm1 0zm18 0zm-28 1zm8 0zm8 0zm4 0zm1 0zm-16 1zm5 0zm5 0zm15 0zm-8 1zm-12 1zm5 0zm11 0zm-23 1zm2 0zm2 0zm2 0zm13 0zm-20 1zm12 0zm8 0zm4 0zm3 0zm-7 1zm2 0zm1 0zm4 1zm-27 1zm27 0zm-25 1zm16 0zm9 0zm1 0zm-4 1zm2 0zm2 0zm-5 1zm3 0zm-27 1zm5 0zm21 0zm-23 1zm20 0zm5 0zm1 0zm-27 1zm23 0zm1 0zm-25 1zm2 0zm23 1zm2 0zm1 0zm-29 1zm3 0zm27 0zm-4 3zm1 0zm-28 1zm3 0zm1 2zm24 0zm-24 2zm-1 1zm0 3zm25 2zm-24 1zm-4 1zm1 0zm3 0zm21 0zm-26 2zm5 0zm24 0zm-28 1zm25 0zm1 0zm3 0zm-25 1zm28 0zm-6 2zm4 1zm-26 1zm-3 1zm1 0zm5 0zm21 0zm-25 2zm1 0zm4 0zm4 0zm12 0zm-20 1zm1 0zm1 0zm19 0zm2 0zm-23 1zm21 0zm-20 1zm4 0zm-5 1zm3 1zm3 0zm11 0zm-15 1zm17 0zm-16 1zm5 2zm2 0z"/>
<path transform="scale(1.25)" stroke-width="1" stroke="#58be62" d="M686 141zm4 47zm4 13zm-7 12zm4 2zm8 4zm-15 1zm7 4zm4 0zm-6 1zm3 0zm2 0zm-3 1zm5 0zm-1 1zm1 0zm-7 1zm4 0zm2 0zm1 0zm3 0zm-5 1zm2 0zm-1 1zm3 0zm-7 2zm3 1zm-6 2zm3 0zm2 0zm-4 1zm2 0zm-3 1zm2 0zm1 0zm1 0zm-8 1zm3 0zm2 0zm4 0zm-9 1zm4 0zm1 0zm3 0zm4 0zm-9 1zm4 0zm2 0zm2 0zm1 0zm-9 1zm5 0zm1 0zm5 0zm-16 1zm5 0zm3 0zm1 0zm3 0zm-10 1zm5 0zm1 0zm2 0zm3 0zm2 0zm1 0zm2 0zm3 0zm-15 1zm1 0zm2 0zm9 0zm3 0zm-22 1zm4 0zm3 0zm1 0zm1 0zm1 0zm2 0zm1 0zm1 0zm1 0zm2 0zm5 0zm2 0zm-19 1zm1 0zm1 0zm1 0zm1 0zm1 0zm1 0zm2 0zm1 0zm1 0zm1 0zm1 0zm2 0zm2 0zm2 0zm1 0zm-24 1zm3 0zm4 0zm1 0zm1 0zm3 0zm1 0zm1 0zm3 0zm1 0zm5 0zm-21 1zm4 0zm2 0zm1 0zm2 0zm3 0zm1 0zm1 0zm1 0zm2 0zm1 0zm1 0zm1 0zm1 0zm-23 1zm1 0zm4 0zm2 0zm2 0zm2 0zm3 0zm2 0zm3 0zm1 0zm1 0zm2 0zm1 0zm-24 1zm2 0zm2 0zm2 0zm2 0zm1 0zm1 0zm2 0zm2 0zm1 0zm1 0zm1 0zm2 0zm3 0zm2 0zm-24 1zm3 0zm1 0zm1 0zm5 0zm2 0zm2 0zm2 0zm1 0zm5 0zm1 0zm-24 1zm1 0zm2 0zm1 0zm3 0zm1 0zm3 0zm3 0zm1 0zm1 0zm1 0zm1 0zm1 0zm5 0zm-22 1zm1 0zm1 0zm1 0zm2 0zm1 0zm7 0zm1 0zm2 0zm1 0zm1 0zm1 0zm3 0zm-22 1zm2 0zm3 0zm3 0zm1 0zm2 0zm5 0zm1 0zm2 0zm1 0zm-22 1zm2 0zm3 0zm2 0zm4 0zm1 0zm5 0zm1 0zm1 0zm-19 1zm2 0zm2 0zm2 0zm1 0zm2 0zm3 0zm5 0zm1 0zm1 0zm2 0zm2 0zm-25 1zm4 0zm4 0zm1 0zm4 0zm3 0zm2 0zm3 0zm3 0zm1 0zm-22 1zm1 0zm1 0zm1 0zm4 0zm9 0zm4 0zm-19 1zm1 0zm3 0zm1 0zm10 0zm2 0zm3 0zm2 0zm-25 1zm1 0zm1 0zm2 0zm2 0zm1 0zm1 0zm18 0zm-23 1zm3 0zm14 0zm2 0zm1 0zm3 0zm1 0zm-24 1zm1 0zm5 0zm13 0zm1 0zm4 0zm-27 1zm1 0zm1 0zm2 0zm4 0zm7 0zm5 0zm1 0zm1 0zm2 0zm-25 1zm6 0zm3 0zm2 0zm7 0zm6 0zm1 0zm-22 1zm1 0zm3 0zm13 0zm3 0zm-21 1zm2 0zm3 0zm16 0zm1 0zm1 0zm1 0zm-29 1zm7 0zm1 0zm2 0zm12 0zm3 0zm2 0zm-23 1zm2 0zm2 0zm1 0zm16 0zm1 0zm-21 1zm2 0zm1 0zm1 0zm17 0zm1 0zm1 0zm-22 1zm17 0zm5 0zm-22 1zm2 0zm2 0zm2 0zm12 0zm1 0zm1 0zm1 0zm1 0zm1 0zm-20 1zm1 0zm18 0zm3 0zm-24 1zm20 0zm1 0zm1 0zm1 0zm-26 1zm1 0zm3 0zm1 0zm2 0zm1 0zm16 0zm2 0zm-24 1zm1 0zm11 0zm3 0zm2 0zm3 0zm2 0zm1 0zm-22 1zm1 0zm2 0zm1 0zm17 0zm1 0zm2 0zm-27 1zm3 0zm7 0zm5 0zm7 0zm3 0zm1 0zm1 0zm-28 1zm2 0zm2 0zm1 0zm4 0zm13 0zm1 0zm1 0zm-24 1zm4 0zm1 0zm1 0zm1 0zm1 0zm13 0zm1 0zm2 0zm-24 1zm2 0zm2 0zm1 0zm4 0zm12 0zm5 0zm-24 1zm3 0zm1 0zm1 0zm16 0zm3 0zm-22 1zm1 0zm3 0zm1 0zm2 0zm1 0zm2 0zm2 0zm3 0zm1 0zm2 0zm1 0zm1 0zm-19 1zm1 0zm1 0zm2 0zm1 0zm4 0zm1 0zm4 0zm7 0zm-22 1zm4 0zm1 0zm1 0zm1 0zm1 0zm3 0zm3 0zm3 0zm1 0zm2 0zm-20 1zm2 0zm1 0zm1 0zm1 0zm4 0zm2 0zm1 0zm3 0zm1 0zm1 0zm3 0zm2 0zm-19 1zm2 0zm1 0zm4 0zm1 0zm1 0zm3 0zm1 0zm3 0zm2 0zm-20 1zm1 0zm2 0zm1 0zm2 0zm3 0zm5 0zm1 0zm2 0zm1 0zm-19 1zm1 0zm1 0zm2 0zm2 0zm2 0zm1 0zm6 0zm2 0zm-11 1zm1 0zm1 0zm1 0zm3 0zm1 0zm1 0zm3 0zm-17 1zm1 0zm1 0zm2 0zm1 0zm2 0zm1 0zm2 0zm1 0zm1 0zm1 0zm1 0zm3 0zm-18 1zm2 0zm5 0zm2 0zm1 0zm2 0zm1 0zm3 0zm-14 1zm3 0zm2 0zm2 0zm1 0zm4 0zm1 0zm1 0zm1 0zm-12 1zm3 0zm1 0zm2 0zm1 0zm1 0zm1 0zm1 0zm3 0zm-12 1zm1 0zm1 0zm1 0zm1 0zm2 0zm1 0zm-4 1zm1 0zm1 0zm1 0zm1 0zm-6 1zm2 0z"/>
<path transform="scale(1.25)" stroke-width="1" stroke="#a0d23c" d="M693 239zm1 1zm4 0zm-10 3zm2 1zm3 2zm-2 1zm-3 1zm10 1zm-16 1zm4 0zm2 0zm4 0zm-9 1zm9 0zm2 0zm2 0zm-10 1zm6 0zm-6 1zm3 0zm5 0zm-11 1zm3 0zm2 0zm1 0zm5 0zm1 0zm2 0zm-14 1zm3 0zm3 0zm-4 1zm5 0zm1 0zm-8 1zm6 0zm1 0zm5 0zm2 0zm1 0zm-8 1zm1 0zm2 0zm1 0zm1 0zm3 0zm2 0zm-15 1zm7 0zm2 0zm1 0zm5 0zm-16 1zm7 0zm7 0zm1 0zm1 0zm1 0zm-17 1zm2 0zm4 0zm2 0zm3 0zm3 0zm-14 1zm2 0zm6 0zm3 0zm1 0zm2 0zm1 0zm1 0zm3 0zm-18 1zm3 0zm8 0zm-8 1zm2 0zm3 0zm2 0zm3 0zm3 0zm-17 1zm2 0zm1 0zm9 0zm3 0zm-16 1zm3 0zm11 0zm2 0zm-15 1zm2 0zm3 0zm10 0zm2 0zm-15 1zm1 0zm3 0zm5 0zm3 0zm-9 1zm6 0zm4 0zm-16 1zm1 0zm2 0zm5 0zm8 0zm1 0zm2 0zm-14 1zm5 0zm5 0zm-5 1zm2 0zm4 0zm2 0zm1 0zm-18 1zm1 0zm1 0zm12 0zm1 0zm1 0zm1 0zm-16 1zm7 0zm6 0zm1 0zm-16 1zm4 0zm15 0zm-7 1zm3 0zm1 0zm-15 1zm2 0zm2 0zm4 0zm3 0zm2 0zm2 0zm1 0zm-16 1zm1 0zm3 0zm4 0zm2 0zm2 0zm3 0zm-12 1zm2 0zm5 0zm-13 1zm3 0zm4 0zm4 0zm2 0zm2 0zm5 0zm-7 1zm2 0zm3 0zm1 0zm2 0zm-18 1zm1 0zm3 0zm5 0zm2 0zm-9 1zm4 0zm4 0zm-9 1zm6 0zm3 0zm1 0zm2 0zm1 0zm-10 1zm1 0zm7 0zm-10 1zm4 0zm-5 1zm3 0zm3 0zm3 0zm1 0zm1 0zm-4 1zm1 0zm2 0zm3 0zm2 0zm-14 1zm1 0zm6 0zm4 0zm-12 1zm3 0zm3 0zm6 0zm-5 1z"/>
<path transform="scale(1.25)" stroke-width="1" stroke="#f0e030" d="M691 248zm-4 1zm7 1zm-5 1zm1 1zm0 1zm1 0zm1 0zm1 0zm-1 1zm4 0zm-3 1zm1 1zm6 0zm-16 1zm8 0zm-7 1zm1 0zm-2 1zm5 0zm1 0zm1 0zm-2 1zm3 0zm2 0zm1 0zm-6 1zm5 0zm-9 1zm2 0zm2 0zm2 0zm-7 1zm5 0zm3 0zm1 0zm-8 1zm1 0zm5 0zm1 0zm7 0zm1 0zm-17 1zm5 0zm3 0zm-7 1zm10 0zm2 0zm2 0zm2 0zm-13 1zm1 0zm2 0zm2 0zm1 0zm1 0zm-3 1zm6 0zm-12 1zm5 0zm3 0zm5 0zm-16 1zm6 0zm1 0zm1 0zm3 0zm1 0zm2 0zm1 0zm4 0zm-17 1zm2 0zm4 0zm6 0zm1 0zm-14 1zm5 0zm2 0zm4 0zm6 0zm-12 1zm2 0zm5 0zm1 0zm1 0zm-4 1zm1 0zm3 0zm5 0zm-18 1zm1 0zm5 0zm2 0zm8 0zm-13 1zm1 0zm3 0zm2 0zm1 0zm7 0zm-16 1zm2 0zm4 0zm2 1zm11 0zm-16 1zm10 0zm-13 1zm1 0zm4 0zm3 0zm4 0zm1 0zm-11 1zm5 0zm1 0zm4 0zm-6 1zm-2 1zm6 0zm3 0zm3 1zm-11 1zm2 0zm-1 1zm8 0zm-5 2zm2 0zm-11 1zm10 2z"/>
<path transform="scale(1.25)" stroke-width="1" stroke="#f4a020" d="M688 255zm2 0zm4 0zm2 0zm-8 1zm5 0zm2 0zm1 0zm0 2zm-8 1zm5 0zm3 0zm-9 2zm1 0zm3 0zm2 0zm3 0zm-3 1zm1 0zm-4 1zm5 0zm2 0zm-5 2zm3 0zm5 0zm-9 1zm2 0zm2 1zm1 0zm-4 1zm7 0zm-12 1zm1 0zm3 0zm6 0zm-12 1zm10 0zm-3 1zm3 0zm-9 1zm1 0zm4 0zm1 0zm4 0zm-9 1zm2 0zm2 0zm2 0zm1 0zm2 1zm-8 1zm7 0zm4 0zm-10 1zm1 0zm7 0zm-4 1zm3 0zm2 0zm-9 1zm2 0zm7 0zm-5 1zm2 0zm1 0zm-7 1zm6 0zm-6 1zm6 0zm3 0zm-6 3z"/>
<path transform="scale(1.25)" stroke-width="1" stroke="#ee5a20" d="M697 261zm0 1zm-11 1zm5 0zm7 0zm-8 2zm3 0zm1 0zm-5 1zm1 0zm5 0zm-4 1zm7 0zm-10 1zm5 0zm1 0zm-2 1zm2 0zm-7 1zm2 1zm5 0zm-2 2zm-3 1zm1 0zm1 0zm-2 1zm2 0zm-1 3zm7 0zm-7 1zm7 0zm-6 1zm0 1z"/>
<path transform="scale(1.25)" stroke-width="1" stroke="#e0201c" d="M690 262zm4 2zm3 0zm0 1zm-5 1zm4 3zm-4 1zm-1 1zm-2 1zm9 0zm3 2zm-4 1zm-5 1zm-2 1z"/>
</g>
<rect x="675.3" y="73.7" width="301" height="301.2" fill="none" stroke="#111" stroke-width="1.3"/>
<rect x="822.1" y="90.8" width="92.7" height="139.6" fill="none" stroke="#222" stroke-width="1.4"/>
<path d="M914.4 90.8L914.4 230.4" stroke="#222" stroke-width="2.2" />
<text x="683" y="129.6" font-size="42.5" font-family="'DejaVu Sans','Liberation Sans',sans-serif" textLength="89.5" lengthAdjust="spacingAndGlyphs">11.7</text>
<path d="M675.3 73.7L675.3 374.9" stroke="#111" stroke-width="2.2" />
<path d="M675.3 374.9L976.3 374.9" stroke="#111" stroke-width="2.2" />
<path d="M692 374.9V383.4M741.8 374.9V383.4M791.6 374.9V383.4M873.9 374.9V383.4M946.5 374.9V383.4M666.8 101.3H675.3M666.8 169.9H675.3M666.8 243.1H675.3M666.8 331.2H675.3" stroke="#111" stroke-width="2.4" fill="none"/>
<path d="M816.4 374.9V379.4M830.9 374.9V379.4M841.1 374.9V379.4M849.1 374.9V379.4M855.6 374.9V379.4M861.2 374.9V379.4M865.9 374.9V379.4M870.1 374.9V379.4M895.8 374.9V379.4M908.5 374.9V379.4M917.6 374.9V379.4M924.6 374.9V379.4M930.4 374.9V379.4M935.3 374.9V379.4M939.5 374.9V379.4M943.2 374.9V379.4M968.4 374.9V379.4M746.8 374.9V379.4M736.8 374.9V379.4M751.8 374.9V379.4M731.8 374.9V379.4M756.7 374.9V379.4M726.9 374.9V379.4M761.7 374.9V379.4M721.9 374.9V379.4M766.7 374.9V379.4M716.9 374.9V379.4M771.7 374.9V379.4M711.9 374.9V379.4M776.7 374.9V379.4M706.9 374.9V379.4M781.6 374.9V379.4M702 374.9V379.4M786.6 374.9V379.4M697 374.9V379.4M686 374.9V379.4M670.8 221.1H675.3M670.8 208.2H675.3M670.8 199H675.3M670.8 191.9H675.3M670.8 186.1H675.3M670.8 181.2H675.3M670.8 177H675.3M670.8 173.2H675.3M670.8 149.2H675.3M670.8 137.2H675.3M670.8 128.6H675.3M670.8 122H675.3M670.8 116.5H675.3M670.8 111.9H675.3M670.8 107.9H675.3M670.8 104.4H675.3M670.8 80.6H675.3M670.8 322.4H675.3M670.8 340H675.3M670.8 313.6H675.3M670.8 348.8H675.3M670.8 304.8H675.3M670.8 357.6H675.3M670.8 296H675.3M670.8 366.4H675.3M670.8 287.1H675.3M670.8 278.3H675.3M670.8 269.5H675.3M670.8 260.7H675.3M670.8 251.9H675.3" stroke="#111" stroke-width="1.2" fill="none"/>
<path d="M736.3 374.9v7M739.6 374.9v5M742.8 374.9v8M746.3 374.9v5.5" stroke="#000" stroke-width="3.2" fill="none"/>
<path d="M675.3 326.2h-7M675.3 329.4h-5M675.3 332.7h-8.5M675.3 336.2h-6" stroke="#000" stroke-width="3.2" fill="none"/>
<text x="687.5" y="403.8" font-size="10.4" font-family="'DejaVu Sans','Liberation Sans',sans-serif" fill="#111" letter-spacing="-0.4">–10<tspan font-size="11.6" dy="-6" dx="0.8">3</tspan></text>
<text x="744.3" y="403.8" font-size="10.4" font-family="'DejaVu Sans','Liberation Sans',sans-serif" fill="#111">0</text>
<text x="791.1" y="403.8" font-size="10.4" font-family="'DejaVu Sans','Liberation Sans',sans-serif" fill="#111" letter-spacing="-0.4">10<tspan font-size="11.6" dy="-6" dx="0.8">3</tspan></text>
<text x="873.4" y="403.8" font-size="10.4" font-family="'DejaVu Sans','Liberation Sans',sans-serif" fill="#111" letter-spacing="-0.4">10<tspan font-size="11.6" dy="-6" dx="0.8">4</tspan></text>
<text x="946" y="403.8" font-size="10.4" font-family="'DejaVu Sans','Liberation Sans',sans-serif" fill="#111" letter-spacing="-0.4">10<tspan font-size="11.6" dy="-6" dx="0.8">5</tspan></text>
<text x="660.8" y="107.3" font-size="10.4" text-anchor="end" font-family="'DejaVu Sans','Liberation Sans',sans-serif" fill="#111" letter-spacing="-0.4">10<tspan font-size="11.6" dy="-6" dx="0.8">5</tspan></text>
<text x="660.8" y="175.9" font-size="10.4" text-anchor="end" font-family="'DejaVu Sans','Liberation Sans',sans-serif" fill="#111" letter-spacing="-0.4">10<tspan font-size="11.6" dy="-6" dx="0.8">4</tspan></text>
<text x="660.8" y="249.1" font-size="10.4" text-anchor="end" font-family="'DejaVu Sans','Liberation Sans',sans-serif" fill="#111" letter-spacing="-0.4">10<tspan font-size="11.6" dy="-6" dx="0.8">3</tspan></text>
<text x="653.3" y="334.9" font-size="10.4" text-anchor="end" font-family="'DejaVu Sans','Liberation Sans',sans-serif" fill="#111">0</text>
<g fill="none" stroke-linecap="square" stroke-width="1.2">
<path transform="scale(1.25)" stroke-width="1" stroke="#283e9c" d="M943 61zm15 1zm-13 1zm5 0zm14 0zm1 0zm-13 1zm1 0zm9 0zm-13 1zm12 0zm-22 1zm19 0zm1 0zm-18 1zm2 0zm-21 1zm25 0zm3 0zm6 1zm7 0zm6 0zm-20 1zm2 0zm13 0zm10 0zm-43 1zm8 0zm1 0zm4 0zm3 0zm8 0zm20 0zm13 0zm-51 1zm8 0zm1 0zm5 0zm3 0zm1 0zm10 0zm-38 1zm4 0zm11 0zm9 0zm1 0zm1 0zm1 0zm1 0zm17 0zm-27 1zm3 0zm3 0zm1 0zm2 0zm3 0zm11 0zm-36 1zm4 0zm1 0zm1 0zm4 0zm7 0zm11 0zm11 0zm-45 1zm6 0zm6 0zm3 0zm3 0zm1 0zm13 0zm4 0zm8 0zm-31 1zm2 0zm2 0zm6 0zm22 0zm-34 1zm3 0zm3 0zm25 0zm-40 1zm6 0zm6 0zm5 0zm3 0zm1 0zm8 0zm2 0zm-31 1zm15 0zm1 0zm3 0zm1 0zm1 0zm2 0zm1 0zm2 0zm1 0zm4 0zm3 0zm-44 1zm19 0zm1 0zm4 0zm5 0zm14 0zm1 0zm-24 1zm3 0zm4 0zm5 0zm1 0zm5 0zm1 0zm6 0zm7 0zm15 0zm-48 1zm1 0zm4 0zm4 0zm6 0zm2 0zm1 0zm8 0zm20 0zm-61 1zm7 0zm10 0zm3 0zm1 0zm2 0zm1 0zm8 0zm1 0zm2 0zm6 0zm-24 1zm2 0zm3 0zm2 0zm1 0zm1 0zm2 0zm3 0zm9 0zm2 0zm14 0zm-56 1zm5 0zm6 0zm5 0zm4 0zm8 0zm1 0zm7 0zm5 0zm2 0zm2 0zm-51 1zm12 0zm4 0zm4 0zm5 0zm3 0zm3 0zm1 0zm2 0zm9 0zm2 0zm2 0zm2 0zm1 0zm16 0zm-74 1zm13 0zm5 0zm4 0zm8 0zm1 0zm1 0zm6 0zm6 0zm2 0zm2 0zm2 0zm-29 1zm3 0zm2 0zm1 0zm1 0zm2 0zm4 0zm2 0zm1 0zm7 0zm2 0zm1 0zm6 0zm1 0zm3 0zm1 0zm11 0zm-49 1zm3 0zm4 0zm3 0zm6 0zm1 0zm2 0zm1 0zm6 0zm6 0zm-34 1zm1 0zm7 0zm3 0zm1 0zm3 0zm3 0zm3 0zm4 0zm1 0zm1 0zm3 0zm1 0zm5 0zm3 0zm-31 1zm1 0zm1 0zm7 0zm13 0zm6 0zm1 0zm2 0zm1 0zm-45 1zm5 0zm4 0zm2 0zm2 0zm5 0zm4 0zm3 0zm2 0zm10 0zm1 0zm1 0zm1 0zm4 0zm-41 1zm7 0zm1 0zm2 0zm10 0zm2 0zm3 0zm4 0zm4 0zm6 0zm9 0zm1 0zm-39 1zm6 0zm2 0zm1 0zm1 0zm3 0zm2 0zm9 0zm1 0zm13 0zm13 0zm-52 1zm3 0zm6 0zm5 0zm5 0zm1 0zm8 0zm1 0zm7 0zm-41 1zm2 0zm2 0zm1 0zm2 0zm2 0zm8 0zm6 0zm2 0zm2 0zm2 0zm1 0zm2 0zm3 0zm11 0zm-42 1zm10 0zm4 0zm1 0zm4 0zm5 0zm2 0zm4 0zm8 0zm1 0zm-39 1zm4 0zm3 0zm21 0zm3 0zm2 0zm1 0zm1 0zm-56 1zm5 0zm6 0zm5 0zm1 0zm9 0zm19 0zm2 0zm1 0zm2 0zm1 0zm2 0zm2 0zm2 0zm-54 1zm9 0zm1 0zm8 0zm1 0zm2 0zm3 0zm3 0zm23 0zm4 0zm1 0zm-43 1zm2 0zm9 0zm1 0zm17 0zm3 0zm2 0zm3 0zm2 0zm6 0zm-44 1zm3 0zm6 0zm1 0zm1 0zm1 0zm21 0zm2 0zm4 0zm2 0zm2 0zm3 0zm3 0zm-51 1zm5 0zm1 0zm4 0zm1 0zm1 0zm2 0zm2 0zm17 0zm1 0zm3 0zm13 0zm-57 1zm10 0zm1 0zm1 0zm1 0zm2 0zm1 0zm1 0zm21 0zm7 0zm4 0zm3 0zm3 0zm-78 1zm34 0zm2 0zm3 0zm11 0zm8 0zm4 0zm1 0zm1 0zm1 0zm1 0zm-41 1zm13 0zm6 0zm19 0zm3 0zm3 0zm1 0zm3 0zm2 0zm3 0zm9 0zm-59 1zm1 0zm3 0zm2 0zm1 0zm4 0zm2 0zm1 0zm21 0zm1 0zm6 0zm6 0zm-65 1zm6 0zm4 0zm6 0zm4 0zm2 0zm1 0zm1 0zm1 0zm5 0zm18 0zm3 0zm4 0zm1 0zm1 0zm6 0zm2 0zm-51 1zm4 0zm5 0zm2 0zm1 0zm2 0zm18 0zm9 0zm6 0zm8 0zm-60 1zm8 0zm3 0zm1 0zm5 0zm2 0zm2 0zm9 0zm7 0zm3 0zm6 0zm1 0zm1 0zm2 0zm1 0zm2 0zm5 0zm-54 1zm3 0zm1 0zm11 0zm5 0zm21 0zm4 0zm1 0zm4 0zm2 0zm2 0zm6 0zm-56 1zm6 0zm26 0zm5 0zm2 0zm2 0zm4 0zm1 0zm4 0zm-71 1zm15 0zm3 0zm5 0zm3 0zm1 0zm3 0zm1 0zm31 0zm1 0zm5 0zm-58 1zm8 0zm5 0zm2 0zm1 0zm5 0zm26 0zm6 0zm17 0zm5 0zm-82 1zm11 0zm11 0zm3 0zm2 0zm2 0zm20 0zm9 0zm5 0zm-50 1zm2 0zm7 0zm3 0zm1 0zm1 0zm29 0zm2 0zm3 0zm4 0zm2 0zm7 0zm2 0zm-67 1zm6 0zm3 0zm3 0zm6 0zm15 0zm15 0zm2 0zm4 0zm13 0zm-57 1zm4 0zm1 0zm3 0zm4 0zm21 0zm2 0zm3 0zm4 0zm1 0zm9 0zm-64 1zm3 0zm2 0zm6 0zm2 0zm8 0zm6 0zm21 0zm3 0zm1 0zm7 0zm12 0zm11 0zm-68 1zm5 0zm7 0zm1 0zm21 0zm1 0zm1 0zm1 0zm5 0zm1 0zm8 0zm-75 1zm23 0zm1 0zm2 0zm6 0zm5 0zm22 0zm2 0zm1 0zm3 0zm10 0zm-55 1zm5 0zm1 0zm1 0zm1 0zm23 0zm7 0zm3 0zm1 0zm2 0zm1 0zm2 0zm3 0zm-59 1zm10 0zm4 0zm30 0zm6 0zm1 0zm1 0zm5 0zm3 0zm3 0zm-56 1zm3 0zm1 0zm2 0zm2 0zm4 0zm29 0zm2 0zm4 0zm10 0zm-63 1zm6 0zm3 0zm4 0zm5 0zm26 0zm7 0zm3 0zm2 0zm-66 1zm14 0zm17 0zm27 0zm1 0zm3 0zm2 0zm8 0zm4 0zm1 0zm-78 1zm5 0zm2 0zm4 0zm2 0zm4 0zm2 0zm7 0zm2 0zm2 0zm28 0zm7 0zm2 0zm1 0zm-64 1zm13 0zm3 0zm12 0zm4 0zm19 0zm5 0zm3 0zm18 0zm-77 1zm1 0zm7 0zm5 0zm1 0zm3 0zm5 0zm7 0zm1 0zm17 0zm11 0zm2 0zm1 0zm5 0zm17 0zm-68 1zm2 0zm2 0zm2 0zm1 0zm33 0zm7 0zm5 0zm-63 1zm9 0zm2 0zm8 0zm1 0zm1 0zm1 0zm5 0zm25 0zm1 0zm3 0zm1 0zm5 0zm9 0zm3 0zm-71 1zm4 0zm3 0zm4 0zm6 0zm5 0zm25 0zm2 0zm3 0zm4 0zm-67 1zm1 0zm2 0zm16 0zm5 0zm3 0zm3 0zm3 0zm24 0zm6 0zm1 0zm1 0zm5 0zm1 0zm-59 1zm5 0zm3 0zm4 0zm1 0zm3 0zm1 0zm2 0zm1 0zm9 0zm17 0zm2 0zm10 0zm10 0zm-79 1zm9 0zm9 0zm1 0zm2 0zm2 0zm2 0zm5 0zm6 0zm24 0zm3 0zm1 0zm3 0zm4 0zm-61 1zm3 0zm2 0zm5 0zm1 0zm3 0zm1 0zm3 0zm3 0zm24 0zm1 0zm4 0zm1 0zm2 0zm2 0zm4 0zm19 0zm-81 1zm5 0zm1 0zm14 0zm3 0zm3 0zm23 0zm1 0zm8 0zm3 0zm-70 1zm1 0zm14 0zm1 0zm1 0zm6 0zm1 0zm1 0zm1 0zm31 0zm5 0zm1 0zm3 0zm12 0zm-71 1zm3 0zm8 0zm1 0zm3 0zm5 0zm1 0zm2 0zm1 0zm3 0zm22 0zm9 0zm-49 1zm2 0zm2 0zm3 0zm5 0zm3 0zm1 0zm1 0zm2 0zm21 0zm4 0zm2 0zm3 0zm4 0zm2 0zm2 0zm-48 1zm5 0zm1 0zm2 0zm22 0zm1 0zm5 0zm2 0zm1 0zm3 0zm8 0zm-66 1zm8 0zm2 0zm3 0zm2 0zm6 0zm39 0zm1 0zm4 0zm-69 1zm6 0zm7 0zm2 0zm3 0zm5 0zm2 0zm2 0zm6 0zm23 0zm2 0zm1 0zm1 0zm2 0zm10 0zm-90 1zm14 0zm13 0zm2 0zm8 0zm1 0zm3 0zm22 0zm5 0zm1 0zm6 0zm3 0zm1 0zm5 0zm1 0zm-55 1zm3 0zm7 0zm1 0zm9 0zm24 0zm1 0zm7 0zm1 0zm-69 1zm14 0zm1 0zm2 0zm1 0zm1 0zm3 0zm1 0zm2 0zm3 0zm9 0zm16 0zm1 0zm2 0zm1 0zm1 0zm10 0zm5 0zm-69 1zm9 0zm3 0zm2 0zm6 0zm5 0zm3 0zm23 0zm4 0zm1 0zm1 0zm6 0zm-49 1zm6 0zm6 0zm11 0zm19 0zm5 0zm2 0zm4 0zm6 0zm-74 1zm3 0zm6 0zm10 0zm1 0zm3 0zm9 0zm22 0zm3 0zm2 0zm2 0zm3 0zm3 0zm10 0zm-78 1zm5 0zm4 0zm2 0zm1 0zm9 0zm1 0zm5 0zm27 0zm6 0zm4 0zm1 0zm-43 1zm1 0zm33 0zm2 0zm6 0zm2 0zm2 0zm1 0zm7 0zm2 0zm-72 1zm2 0zm2 0zm2 0zm3 0zm3 0zm3 0zm3 0zm5 0zm29 0zm2 0zm2 0zm1 0zm2 0zm2 0zm3 0zm7 0zm-78 1zm1 0zm1 0zm11 0zm1 0zm2 0zm7 0zm3 0zm28 0zm6 0zm1 0zm1 0zm1 0zm2 0zm1 0zm1 0zm3 0zm-63 1zm5 0zm1 0zm5 0zm2 0zm5 0zm2 0zm3 0zm25 0zm1 0zm11 0zm2 0zm-67 1zm12 0zm2 0zm4 0zm4 0zm3 0zm2 0zm1 0zm2 0zm2 0zm4 0zm15 0zm8 0zm8 0zm1 0zm8 0zm-73 1zm14 0zm3 0zm5 0zm2 0zm1 0zm31 0zm1 0zm1 0zm-63 1zm9 0zm7 0zm2 0zm3 0zm2 0zm6 0zm21 0zm6 0zm1 0zm2 0zm3 0zm1 0zm1 0zm9 0zm2 0zm-69 1zm1 0zm8 0zm4 0zm2 0zm1 0zm2 0zm2 0zm3 0zm2 0zm5 0zm12 0zm7 0zm7 0zm3 0zm1 0zm1 0zm10 0zm-72 1zm1 0zm8 0zm11 0zm1 0zm1 0zm5 0zm3 0zm4 0zm17 0zm1 0zm4 0zm2 0zm4 0zm7 0zm-70 1zm6 0zm14 0zm2 0zm14 0zm12 0zm2 0zm2 0zm3 0zm1 0zm2 0zm-61 1zm2 0zm6 0zm3 0zm10 0zm1 0zm4 0zm2 0zm1 0zm6 0zm4 0zm1 0zm6 0zm10 0zm4 0zm1 0zm6 0zm-48 1zm2 0zm4 0zm1 0zm1 0zm3 0zm2 0zm2 0zm19 0zm1 0zm2 0zm3 0zm3 0zm1 0zm-59 1zm8 0zm13 0zm10 0zm17 0zm6 0zm6 0zm1 0zm1 0zm2 0zm-62 1zm2 0zm5 0zm3 0zm3 0zm3 0zm1 0zm2 0zm12 0zm14 0zm1 0zm8 0zm2 0zm5 0zm-67 1zm2 0zm7 0zm6 0zm2 0zm1 0zm1 0zm9 0zm24 0zm1 0zm2 0zm2 0zm1 0zm2 0zm4 0zm-63 1zm1 0zm1 0zm9 0zm12 0zm1 0zm4 0zm11 0zm10 0zm1 0zm1 0zm10 0zm2 0zm7 0zm-72 1zm1 0zm2 0zm12 0zm1 0zm1 0zm2 0zm7 0zm16 0zm11 0zm8 0zm8 0zm1 0zm-66 1zm4 0zm1 0zm2 0zm1 0zm2 0zm5 0zm4 0zm4 0zm6 0zm1 0zm11 0zm17 0zm3 0zm15 0zm-69 1zm3 0zm12 0zm13 0zm4 0zm9 0zm6 0zm4 0zm4 0zm2 0zm-49 1zm5 0zm3 0zm1 0zm2 0zm2 0zm6 0zm11 0zm6 0zm3 0zm2 0zm3 0zm1 0zm2 0zm2 0zm3 0zm-72 1zm2 0zm2 0zm3 0zm15 0zm7 0zm2 0zm4 0zm1 0zm6 0zm1 0zm6 0zm12 0zm-57 1zm11 0zm5 0zm3 0zm1 0zm11 0zm6 0zm10 0zm10 0zm1 0zm10 0zm-72 1zm9 0zm12 0zm5 0zm1 0zm3 0zm3 0zm1 0zm1 0zm9 0zm11 0zm9 0zm-62 1zm10 0zm6 0zm8 0zm4 0zm1 0zm1 0zm5 0zm4 0zm1 0zm1 0zm6 0zm6 0zm10 0zm-61 1zm1 0zm2 0zm3 0zm4 0zm15 0zm2 0zm3 0zm5 0zm4 0zm2 0zm2 0zm1 0zm13 0zm10 0zm2 0zm3 0zm-74 1zm3 0zm3 0zm2 0zm5 0zm4 0zm2 0zm2 0zm3 0zm5 0zm3 0zm1 0zm2 0zm5 0zm1 0zm-37 1zm2 0zm7 0zm3 0zm1 0zm4 0zm1 0zm2 0zm2 0zm12 0zm16 0zm1 0zm4 0zm1 0zm2 0zm-63 1zm6 0zm6 0zm1 0zm2 0zm2 0zm3 0zm4 0zm1 0zm1 0zm1 0zm1 0zm1 0zm1 0zm4 0zm3 0zm4 0zm2 0zm8 0zm3 0zm8 0zm1 0zm1 0zm5 0zm10 0zm-80 1zm2 0zm3 0zm4 0zm7 0zm1 0zm5 0zm2 0zm5 0zm2 0zm4 0zm4 0zm2 0zm2 0zm5 0zm3 0zm9 0zm1 0zm2 0zm2 0zm-65 1zm8 0zm1 0zm6 0zm2 0zm4 0zm4 0zm2 0zm2 0zm3 0zm2 0zm1 0zm8 0zm13 0zm2 0zm2 0zm2 0zm2 0zm5 0zm4 0zm-74 1zm1 0zm7 0zm1 0zm4 0zm2 0zm5 0zm7 0zm8 0zm5 0zm6 0zm1 0zm1 0zm11 0zm7 0zm8 0zm-73 1zm2 0zm2 0zm5 0zm6 0zm5 0zm2 0zm3 0zm1 0zm3 0zm3 0zm5 0zm1 0zm1 0zm2 0zm3 0zm11 0zm5 0zm3 0zm2 0zm3 0zm-66 1zm3 0zm1 0zm2 0zm2 0zm1 0zm15 0zm2 0zm3 0zm3 0zm11 0zm2 0zm3 0zm1 0zm11 0zm2 0zm1 0zm4 0zm-68 1zm4 0zm2 0zm1 0zm4 0zm1 0zm5 0zm1 0zm5 0zm3 0zm1 0zm1 0zm2 0zm2 0zm5 0zm1 0zm7 0zm1 0zm15 0zm2 0zm3 0zm2 0zm-69 1zm9 0zm8 0zm2 0zm3 0zm7 0zm1 0zm1 0zm1 0zm2 0zm6 0zm9 0zm1 0zm2 0zm11 0zm2 0zm9 0zm-69 1zm4 0zm2 0zm7 0zm3 0zm3 0zm3 0zm7 0zm1 0zm2 0zm2 0zm8 0zm6 0zm4 0zm5 0zm5 0zm1 0zm-63 1zm4 0zm6 0zm3 0zm5 0zm2 0zm2 0zm4 0zm14 0zm4 0zm4 0zm8 0zm3 0zm5 0zm-65 1zm1 0zm2 0zm6 0zm2 0zm1 0zm8 0zm1 0zm3 0zm4 0zm2 0zm5 0zm8 0zm6 0zm7 0zm4 0zm7 0zm-71 1zm13 0zm4 0zm6 0zm2 0zm2 0zm1 0zm1 0zm2 0zm1 0zm1 0zm6 0zm8 0zm9 0zm2 0zm2 0zm2 0zm1 0zm3 0zm-64 1zm11 0zm2 0zm2 0zm4 0zm1 0zm1 0zm1 0zm1 0zm4 0zm1 0zm6 0zm2 0zm7 0zm1 0zm4 0zm6 0zm11 0zm-65 1zm6 0zm1 0zm5 0zm1 0zm5 0zm3 0zm2 0zm3 0zm2 0zm1 0zm2 0zm4 0zm5 0zm21 0zm2 0zm5 0zm-71 1zm1 0zm3 0zm1 0zm3 0zm14 0zm1 0zm1 0zm7 0zm2 0zm4 0zm1 0zm2 0zm4 0zm1 0zm2 0zm6 0zm17 0zm1 0zm4 0zm-71 1zm2 0zm4 0zm1 0zm2 0zm1 0zm2 0zm7 0zm2 0zm1 0zm1 0zm1 0zm2 0zm1 0zm2 0zm1 0zm3 0zm4 0zm1 0zm1 0zm4 0zm1 0zm1 0zm1 0zm13 0zm4 0zm-55 1zm9 0zm1 0zm2 0zm2 0zm1 0zm4 0zm1 0zm6 0zm1 0zm5 0zm6 0zm5 0zm8 0zm1 0zm8 0zm-72 1zm3 0zm7 0zm1 0zm1 0zm3 0zm10 0zm9 0zm2 0zm2 0zm2 0zm2 0zm16 0zm2 0zm-60 1zm1 0zm2 0zm1 0zm1 0zm1 0zm1 0zm2 0zm1 0zm1 0zm1 0zm4 0zm4 0zm1 0zm6 0zm3 0zm5 0zm4 0zm1 0zm22 0zm3 0zm1 0zm3 0zm7 0zm-74 1zm8 0zm7 0zm1 0zm6 0zm1 0zm6 0zm2 0zm2 0zm1 0zm1 0zm5 0zm3 0zm1 0zm4 0zm5 0zm1 0zm1 0zm9 0zm5 0zm-70 1zm1 0zm1 0zm1 0zm7 0zm1 0zm1 0zm2 0zm4 0zm3 0zm1 0zm1 0zm2 0zm1 0zm1 0zm2 0zm2 0zm4 0zm1 0zm1 0zm1 0zm8 0zm1 0zm6 0zm1 0zm5 0zm1 0zm3 0zm1 0zm1 0zm1 0zm1 0zm2 0zm5 0zm-70 1zm3 0zm1 0zm1 0zm1 0zm2 0zm2 0zm1 0zm2 0zm5 0zm4 0zm2 0zm1 0zm1 0zm3 0zm1 0zm4 0zm1 0zm15 0zm3 0zm4 0zm2 0zm3 0zm6 0zm1 0zm-74 1zm3 0zm5 0zm4 0zm6 0zm4 0zm1 0zm5 0zm1 0zm8 0zm2 0zm13 0zm4 0zm1 0zm6 0zm1 0zm8 0zm1 0zm4 0zm7 0zm-71 1zm3 0zm1 0zm1 0zm3 0zm1 0zm1 0zm2 0zm2 0zm3 0zm3 0zm1 0zm14 0zm3 0zm5 0zm4 0zm1 0zm5 0zm1 0zm-67 1zm2 0zm3 0zm6 0zm2 0zm1 0zm9 0zm4 0zm1 0zm1 0zm3 0zm6 0zm3 0zm12 0zm3 0zm7 0zm3 0zm1 0zm11 0zm-77 1zm3 0zm1 0zm1 0zm1 0zm1 0zm1 0zm2 0zm2 0zm2 0zm3 0zm1 0zm3 0zm1 0zm1 0zm1 0zm2 0zm4 0zm1 0zm3 0zm2 0zm6 0zm6 0zm3 0zm2 0zm8 0zm1 0zm1 0zm3 0zm2 0zm1 0zm3 0zm1 0zm3 0zm-77 1zm1 0zm1 0zm6 0zm8 0zm3 0zm2 0zm5 0zm2 0zm2 0zm4 0zm9 0zm19 0zm2 0zm2 0zm13 0zm-79 1zm1 0zm2 0zm1 0zm2 0zm1 0zm1 0zm4 0zm2 0zm1 0zm5 0zm1 0zm7 0zm5 0zm10 0zm12 0zm3 0zm7 0zm5 0zm-70 1zm1 0zm2 0zm1 0zm6 0zm4 0zm1 0zm3 0zm2 0zm9 0zm7 0zm9 0zm2 0zm15 0zm4 0zm-64 1zm1 0zm9 0zm1 0zm1 0zm3 0zm2 0zm2 0zm1 0zm4 0zm2 0zm2 0zm9 0zm9 0zm2 0zm3 0zm-53 1zm7 0zm2 0zm2 0zm2 0zm4 0zm1 0zm7 0zm1 0zm2 0zm2 0zm9 0zm4 0zm1 0zm3 0zm8 0zm9 0zm2 0zm21 0zm-84 1zm2 0zm2 0zm8 0zm1 0zm2 0zm5 0zm9 0zm2 0zm29 0zm-59 1zm1 0zm3 0zm3 0zm6 0zm1 0zm5 0zm2 0zm2 0zm12 0zm1 0zm26 0zm1 0zm3 0zm4 0zm6 0zm-78 1zm3 0zm2 0zm3 0zm2 0zm3 0zm2 0zm2 0zm1 0zm2 0zm5 0zm1 0zm1 0zm3 0zm1 0zm2 0zm2 0zm8 0zm-43 1zm1 0zm2 0zm5 0zm2 0zm8 0zm5 0zm2 0zm1 0zm4 0zm3 0zm2 0zm11 0zm17 0zm3 0zm5 0zm-72 1zm2 0zm2 0zm4 0zm1 0zm1 0zm1 0zm2 0zm1 0zm1 0zm1 0zm2 0zm2 0zm8 0zm1 0zm4 0zm1 0zm8 0zm2 0zm2 0zm5 0zm13 0zm2 0zm1 0zm3 0zm-70 1zm1 0zm3 0zm1 0zm2 0zm2 0zm7 0zm6 0zm2 0zm2 0zm9 0zm29 0zm7 0zm1 0zm-72 1zm7 0zm4 0zm2 0zm1 0zm5 0zm2 0zm1 0zm1 0zm2 0zm1 0zm3 0zm6 0zm28 0zm8 0zm2 0zm-74 1zm7 0zm3 0zm2 0zm3 0zm2 0zm4 0zm3 0zm3 0zm3 0zm2 0zm1 0zm7 0zm1 0zm1 0zm19 0zm4 0zm2 0zm5 0zm6 0zm-79 1zm2 0zm1 0zm3 0zm9 0zm2 0zm1 0zm5 0zm1 0zm4 0zm2 0zm7 0zm27 0zm1 0zm2 0zm8 0zm7 0zm-78 1zm3 0zm3 0zm4 0zm3 0zm1 0zm4 0zm3 0zm2 0zm3 0zm2 0zm31 0zm1 0zm1 0zm3 0zm2 0zm1 0zm7 0zm1 0zm-77 1zm5 0zm1 0zm4 0zm1 0zm11 0zm4 0zm4 0zm24 0zm8 0zm1 0zm-64 1zm3 0zm1 0zm3 0zm4 0zm4 0zm6 0zm4 0zm3 0zm5 0zm-29 1zm10 0zm2 0zm3 0zm3 0zm2 0zm1 0zm3 0zm2 0zm29 0zm8 0zm-63 1zm4 0zm1 0zm1 0zm1 0zm3 0zm3 0zm2 0zm3 0zm4 0zm11 0zm21 0zm1 0zm6 0zm2 0zm2 0zm4 0zm-72 1zm1 0zm1 0zm2 0zm2 0zm1 0zm2 0zm6 0zm1 0zm5 0zm43 0zm3 0zm3 0zm3 0zm13 0zm-86 1zm1 0zm4 0zm2 0zm2 0zm6 0zm2 0zm3 0zm3 0zm7 0zm-31 1zm5 0zm6 0zm9 0zm1 0zm4 0zm1 0zm1 0zm1 0zm1 0zm35 0zm2 0zm3 0zm-67 1zm5 0zm1 0zm1 0zm2 0zm2 0zm2 0zm4 0zm4 0zm3 0zm2 0zm2 0zm3 0zm33 0zm1 0zm2 0zm-68 1zm1 0zm1 0zm4 0zm2 0zm3 0zm1 0zm3 0zm1 0zm3 0zm1 0zm1 0zm3 0zm3 0zm8 0zm1 0zm16 0zm6 0zm7 0zm5 0zm6 0zm2 0zm-76 1zm5 0zm1 0zm5 0zm5 0zm2 0zm6 0zm1 0zm1 0zm2 0zm35 0zm5 0zm-69 1zm1 0zm2 0zm6 0zm1 0zm2 0zm2 0zm1 0zm2 0zm2 0zm1 0zm2 0zm9 0zm12 0zm19 0zm1 0zm3 0zm-68 1zm5 0zm6 0zm5 0zm3 0zm2 0zm2 0zm3 0zm1 0zm39 0zm10 0zm-76 1zm2 0zm1 0zm6 0zm2 0zm3 0zm1 0zm1 0zm8 0zm1 0zm1 0zm2 0zm33 0zm6 0zm7 0zm6 0zm-80 1zm2 0zm11 0zm2 0zm3 0zm4 0zm3 0zm2 0zm6 0zm34 0zm-65 1zm1 0zm8 0zm4 0zm3 0zm2 0zm9 0zm1 0zm3 0zm10 0zm14 0zm10 0zm3 0zm-70 1zm10 0zm2 0zm1 0zm1 0zm3 0zm7 0zm2 0zm38 0zm1 0zm5 0zm3 0zm-73 1zm2 0zm1 0zm6 0zm1 0zm5 0zm4 0zm1 0zm1 0zm5 0zm1 0zm5 0zm36 0zm1 0zm-63 1zm1 0zm3 0zm4 0zm2 0zm1 0zm7 0zm6 0zm35 0zm5 0zm-70 1zm2 0zm2 0zm2 0zm1 0zm7 0zm2 0zm1 0zm3 0zm2 0zm2 0zm1 0zm1 0zm5 0zm39 0zm-70 1zm3 0zm2 0zm2 0zm1 0zm5 0zm2 0zm6 0zm1 0zm4 0zm9 0zm35 0zm1 0zm-69 1zm9 0zm2 0zm3 0zm3 0zm3 0zm6 0zm2 0zm1 0zm31 0zm4 0zm1 0zm4 0zm9 0zm-73 1zm1 0zm11 0zm3 0zm2 0zm1 0zm-24 1zm1 0zm1 0zm8 0zm2 0zm1 0zm2 0zm2 0zm1 0zm1 0zm2 0zm7 0zm1 0zm36 0zm6 0zm4 0zm-74 1zm4 0zm3 0zm3 0zm2 0zm1 0zm1 0zm1 0zm3 0zm1 0zm1 0zm1 0zm2 0zm6 0zm37 0zm2 0zm4 0zm-74 1zm4 0zm2 0zm4 0zm1 0zm2 0zm3 0zm4 0zm1 0zm6 0zm3 0zm38 0zm2 0zm-70 1zm6 0zm4 0zm2 0zm1 0zm1 0zm1 0zm2 0zm1 0zm1 0zm1 0zm2 0zm2 0zm2 0zm4 0zm43 0zm4 0zm-77 1zm2 0zm3 0zm1 0zm1 0zm1 0zm11 0zm3 0zm4 0zm2 0zm42 0zm2 0zm-71 1zm8 0zm7 0zm9 0zm49 0zm10 0zm-83 1zm4 0zm2 0zm2 0zm1 0zm2 0zm10 0zm4 0zm43 0zm1 0zm-68 1zm6 0zm10 0zm1 0zm1 0zm2 0zm9 0zm37 0zm9 0zm-76 1zm1 0zm1 0zm6 0zm1 0zm1 0zm2 0zm1 0zm3 0zm1 0zm1 0zm2 0zm45 0zm2 0zm2 0zm-70 1zm1 0zm1 0zm3 0zm2 0zm2 0zm1 0zm2 0zm2 0zm1 0zm1 0zm8 0zm1 0zm2 0zm44 0zm9 0zm-80 1zm2 0zm2 0zm1 0zm8 0zm1 0zm4 0zm3 0zm45 0zm1 0zm1 0zm2 0zm2 0zm3 0zm-75 1zm2 0zm5 0zm6 0zm2 0zm2 0zm1 0zm1 0zm2 0zm42 0zm-58 1zm4 0zm10 0zm2 0zm1 0zm2 0zm1 0zm42 0zm-66 1zm1 0zm1 0zm1 0zm1 0zm6 0zm1 0zm1 0zm1 0zm1 0zm1 0zm1 0zm1 0zm1 0zm3 0zm-20 1zm3 0zm2 0zm3 0zm6 0zm1 0zm4 0zm1 0zm4 0zm46 0zm1 0zm-72 1zm1 0zm2 0zm2 0zm7 0zm8 0zm52 0zm-70 1zm9 0zm3 0zm7 0zm3 0zm43 0zm13 0zm9 0zm-90 1zm1 0zm3 0zm1 0zm1 0zm1 0zm7 0zm8 0zm3 0zm44 0zm2 0zm7 0zm-70 1zm1 0zm2 0zm1 0zm1 0zm1 0zm1 0zm1 0zm1 0zm2 0zm2 0zm4 0zm42 0zm1 0zm2 0zm2 0zm8 0zm-79 1zm3 0zm1 0zm12 0zm2 0zm5 0zm3 0zm41 0zm2 0zm-64 1zm3 0zm4 0zm1 0zm6 0zm4 0zm45 0zm3 0zm-66 1zm2 0zm2 0zm1 0zm2 0zm1 0zm2 0zm1 0zm1 0zm5 0zm43 0zm1 0zm7 0zm-73 1zm5 0zm8 0zm3 0zm1 0zm2 0zm1 0zm47 0zm1 0zm3 0zm-69 1zm1 0zm3 0zm6 0zm1 0zm1 0zm5 0zm52 0zm1 0zm8 0zm-80 1zm3 0zm3 0zm5 0zm2 0zm2 0zm3 0zm1 0zm52 0zm3 0zm-74 1zm3 0zm1 0zm1 0zm2 0zm2 0zm1 0zm6 0zm1 0zm2 0zm2 0zm1 0zm3 0zm43 0zm4 0zm-73 1zm2 0zm2 0zm6 0zm3 0zm1 0zm1 0zm3 0zm6 0zm43 0zm5 0zm1 0zm-71 1zm8 0zm2 0zm4 0zm1 0zm1 0zm2 0zm3 0zm1 0zm1 0zm2 0zm37 0zm4 0zm3 0zm-70 1zm4 0zm4 0zm2 0zm1 0zm2 0zm3 0zm5 0zm1 0zm1 0zm44 0zm-65 1zm5 0zm1 0zm3 0zm3 0zm1 0zm3 0zm5 0zm41 0zm3 0zm3 0zm-68 1zm7 0zm8 0zm2 0zm1 0zm3 0zm42 0zm4 0zm1 0zm3 0zm-72 1zm1 0zm2 0zm1 0zm4 0zm2 0zm3 0zm1 0zm1 0zm2 0zm7 0zm39 0zm3 0zm2 0zm-69 1zm1 0zm2 0zm2 0zm3 0zm2 0zm15 0zm2 0zm2 0zm32 0zm4 0zm-65 1zm4 0zm5 0zm3 0zm1 0zm4 0zm3 0zm2 0zm4 0zm42 0zm1 0zm3 0zm1 0zm-74 1zm7 0zm2 0zm3 0zm3 0zm1 0zm2 0zm1 0zm4 0zm37 0zm5 0zm1 0zm-66 1zm3 0zm7 0zm2 0zm2 0zm2 0zm2 0zm3 0zm1 0zm1 0zm1 0zm1 0zm1 0zm2 0zm37 0zm2 0zm5 0zm2 0zm-72 1zm3 0zm3 0zm5 0zm3 0zm1 0zm2 0zm4 0zm1 0zm40 0zm2 0zm5 0zm-70 1zm1 0zm8 0zm1 0zm1 0zm5 0zm2 0zm3 0zm49 0zm-70 1zm14 0zm4 0zm1 0zm2 0zm4 0zm1 0zm39 0zm-66 1zm7 0zm6 0zm2 0zm3 0zm1 0zm1 0zm52 0zm11 0zm-74 1zm4 0zm11 0zm2 0zm39 0zm3 0zm3 0zm1 0zm-68 1zm10 0zm1 0zm1 0zm4 0zm2 0zm2 0zm2 0zm1 0zm38 0zm2 0zm2 0zm6 0zm-75 1zm2 0zm10 0zm6 0zm1 0zm4 0zm1 0zm3 0zm6 0zm32 0zm5 0zm3 0zm-73 1zm2 0zm2 0zm1 0zm2 0zm5 0zm7 0zm4 0zm1 0zm2 0zm3 0zm33 0zm7 0zm-66 1zm5 0zm8 0zm2 0zm3 0zm1 0zm3 0zm38 0zm-63 1zm17 0zm11 0zm31 0zm2 0zm4 0zm1 0zm3 0zm10 0zm-71 1zm7 0zm8 0zm8 0zm38 0zm3 0zm2 0zm6 0zm-70 1zm13 0zm2 0zm38 0zm1 0zm1 0zm1 0zm10 0zm-64 1zm1 0zm1 0zm9 0zm1 0zm2 0zm2 0zm2 0zm1 0zm3 0zm26 0zm1 0zm2 0zm1 0zm2 0zm-60 1zm2 0zm4 0zm1 0zm6 0zm5 0zm2 0zm5 0zm1 0zm26 0zm1 0zm3 0zm1 0zm1 0zm2 0zm5 0zm-59 1zm8 0zm4 0zm3 0zm1 0zm2 0zm3 0zm1 0zm26 0zm5 0zm1 0zm-62 1zm4 0zm8 0zm4 0zm4 0zm7 0zm5 0zm1 0zm1 0zm22 0zm3 0zm-62 1zm1 0zm6 0zm5 0zm4 0zm3 0zm6 0zm2 0zm3 0zm2 0zm25 0zm7 0zm-63 1zm3 0zm4 0zm6 0zm3 0zm6 0zm2 0zm3 0zm5 0zm2 0zm5 0zm14 0zm3 0zm1 0zm1 0zm2 0zm1 0zm2 0zm1 0zm3 0zm1 0zm7 0zm-67 1zm3 0zm8 0zm5 0zm4 0zm4 0zm2 0zm4 0zm1 0zm18 0zm6 0zm2 0zm6 0zm3 0zm-70 1zm6 0zm3 0zm3 0zm2 0zm4 0zm4 0zm2 0zm1 0zm1 0zm2 0zm3 0zm2 0zm15 0zm5 0zm4 0zm-61 1zm23 0zm8 0zm2 0zm5 0zm2 0zm3 0zm1 0zm1 0zm2 0zm2 0zm4 0zm1 0zm6 0zm1 0z"/>
<path transform="scale(1.25)" stroke-width="1" stroke="#2f56aa" d="M941 88zm1 0zm9 0zm-5 1zm4 0zm-10 1zm10 0zm1 0zm1 0zm-6 1zm4 0zm4 0zm-6 1zm3 0zm4 0zm-17 1zm2 0zm1 0zm1 0zm2 0zm1 0zm9 0zm-18 1zm2 0zm1 0zm6 0zm5 0zm1 0zm3 0zm-17 1zm1 0zm1 0zm7 0zm4 0zm2 0zm4 0zm1 0zm-17 1zm3 0zm3 0zm-8 1zm2 0zm1 0zm1 0zm8 0zm2 0zm4 0zm-18 1zm3 0zm2 0zm6 0zm8 0zm-22 1zm5 0zm3 0zm4 0zm2 0zm1 0zm5 0zm3 0zm1 0zm-21 1zm1 0zm3 0zm1 0zm1 0zm1 0zm1 0zm6 0zm1 0zm2 0zm2 0zm-17 1zm3 0zm1 0zm4 0zm1 0zm1 0zm2 0zm4 0zm2 0zm2 0zm-19 1zm1 0zm2 0zm1 0zm1 0zm3 0zm4 0zm1 0zm-14 1zm2 0zm3 0zm1 0zm6 0zm-5 1zm1 0zm3 0zm2 0zm1 0zm2 0zm-19 1zm3 0zm1 0zm13 0zm3 0zm1 0zm-26 1zm1 0zm7 0zm1 0zm7 0zm3 0zm1 0zm3 0zm-20 1zm6 0zm2 0zm4 0zm1 0zm1 0zm1 0zm4 0zm-19 1zm4 0zm6 0zm-8 1zm1 0zm1 0zm1 0zm1 0zm2 0zm4 0zm11 0zm-28 1zm3 0zm5 0zm1 0zm2 0zm1 0zm2 0zm6 0zm3 0zm2 0zm2 0zm1 0zm-28 1zm10 0zm14 0zm2 0zm1 0zm1 0zm1 0zm-26 1zm2 0zm1 0zm2 0zm3 0zm2 0zm3 0zm1 0zm6 0zm1 0zm1 0zm1 0zm1 0zm-31 1zm4 0zm11 0zm3 0zm3 0zm11 0zm-23 1zm2 0zm1 0zm2 0zm9 0zm1 0zm3 0zm1 0zm4 0zm1 0zm2 0zm1 0zm-31 1zm1 0zm3 0zm2 0zm1 0zm1 0zm1 0zm3 0zm3 0zm6 0zm1 0zm4 0zm-22 1zm1 0zm1 0zm6 0zm3 0zm1 0zm6 0zm3 0zm1 0zm-9 1zm6 0zm2 0zm-28 1zm6 0zm1 0zm2 0zm1 0zm14 0zm2 0zm4 0zm2 0zm1 0zm-27 1zm6 0zm2 0zm5 0zm1 0zm2 0zm1 0zm2 0zm2 0zm1 0zm2 0zm2 0zm-25 1zm3 0zm5 0zm1 0zm1 0zm6 0zm1 0zm4 0zm1 0zm1 0zm3 0zm-28 1zm2 0zm2 0zm3 0zm2 0zm3 0zm2 0zm3 0zm2 0zm2 0zm2 0zm2 0zm-31 1zm5 0zm5 0zm12 0zm3 0zm3 0zm1 0zm1 0zm2 0zm-26 1zm1 0zm3 0zm1 0zm3 0zm1 0zm5 0zm4 0zm4 0zm1 0zm2 0zm3 0zm4 0zm-32 1zm1 0zm2 0zm1 0zm2 0zm3 0zm9 0zm2 0zm6 0zm1 0zm1 0zm-27 1zm1 0zm1 0zm1 0zm3 0zm1 0zm8 0zm5 0zm1 0zm1 0zm1 0zm2 0zm-21 1zm2 0zm4 0zm12 0zm1 0zm-24 1zm3 0zm1 0zm1 0zm1 0zm2 0zm9 0zm4 0zm1 0zm-20 1zm2 0zm1 0zm2 0zm11 0zm3 0zm1 0zm1 0zm1 0zm1 0zm2 0zm3 0zm-30 1zm3 0zm6 0zm10 0zm1 0zm1 0zm1 0zm4 0zm1 0zm1 0zm1 0zm-31 1zm4 0zm4 0zm1 0zm10 0zm1 0zm2 0zm4 0zm4 0zm-29 1zm7 0zm10 0zm4 0zm11 0zm1 0zm1 0zm-32 1zm2 0zm6 0zm10 0zm1 0zm2 0zm1 0zm1 0zm2 0zm1 0zm1 0zm-28 1zm2 0zm3 0zm2 0zm6 0zm1 0zm2 0zm4 0zm3 0zm9 0zm-25 1zm2 0zm2 0zm9 0zm1 0zm1 0zm1 0zm1 0zm1 0zm3 0zm2 0zm1 0zm-27 1zm4 0zm1 0zm1 0zm17 0zm2 0zm3 0zm-30 1zm1 0zm5 0zm1 0zm10 0zm2 0zm2 0zm3 0zm2 0zm-27 1zm3 0zm6 0zm4 0zm8 0zm2 0zm-27 1zm6 0zm2 0zm1 0zm4 0zm7 0zm2 0zm1 0zm4 0zm-25 1zm3 0zm5 0zm2 0zm1 0zm1 0zm9 0zm7 0zm2 0zm-24 1zm1 0zm10 0zm3 0zm1 0zm1 0zm1 0zm5 0zm1 0zm1 0zm-31 1zm5 0zm6 0zm2 0zm7 0zm2 0zm3 0zm3 0zm-33 1zm16 0zm18 0zm1 0zm-32 1zm2 0zm6 0zm1 0zm1 0zm4 0zm1 0zm3 0zm2 0zm2 0zm4 0zm2 0zm4 0zm4 0zm-36 1zm7 0zm1 0zm2 0zm3 0zm3 0zm3 0zm1 0zm2 0zm3 0zm4 0zm1 0zm2 0zm-32 1zm2 0zm1 0zm3 0zm1 0zm1 0zm3 0zm1 0zm2 0zm3 0zm1 0zm1 0zm5 0zm1 0zm5 0zm1 0zm1 0zm5 0zm-38 1zm5 0zm2 0zm1 0zm1 0zm3 0zm6 0zm1 0zm2 0zm4 0zm3 0zm2 0zm7 0zm-32 1zm1 0zm2 0zm5 0zm1 0zm11 0zm9 0zm-32 1zm7 0zm5 0zm4 0zm1 0zm4 0zm3 0zm3 0zm2 0zm-25 1zm2 0zm1 0zm5 0zm5 0zm2 0zm6 0zm6 0zm8 0zm-41 1zm4 0zm3 0zm1 0zm6 0zm12 0zm3 0zm1 0zm8 0zm2 0zm-39 1zm1 0zm3 0zm2 0zm1 0zm10 0zm3 0zm3 0zm6 0zm2 0zm7 0zm-31 1zm1 0zm2 0zm2 0zm4 0zm1 0zm1 0zm1 0zm2 0zm7 0zm3 0zm4 0zm8 0zm-36 1zm1 0zm1 0zm9 0zm3 0zm3 0zm3 0zm2 0zm3 0zm-29 1zm7 0zm3 0zm1 0zm1 0zm10 0zm2 0zm1 0zm2 0zm2 0zm-28 1zm4 0zm1 0zm3 0zm3 0zm1 0zm3 0zm2 0zm1 0zm5 0zm7 0zm-31 1zm3 0zm4 0zm1 0zm1 0zm2 0zm1 0zm8 0zm2 0zm2 0zm3 0zm-23 1zm1 0zm5 0zm2 0zm2 0zm1 0zm5 0zm1 0zm3 0zm1 0zm2 0zm1 0zm3 0zm-29 1zm5 0zm1 0zm3 0zm9 0zm1 0zm4 0zm7 0zm-26 1zm1 0zm7 0zm3 0zm1 0zm1 0zm5 0zm5 0zm2 0zm2 0zm-28 1zm4 0zm14 0zm1 0zm3 0zm3 0zm-24 1zm1 0zm3 0zm3 0zm6 0zm4 0zm-18 1zm1 0zm5 0zm3 0zm1 0zm3 0zm3 0zm3 0zm-20 1zm8 0zm1 0zm1 0zm2 0zm1 0zm1 0zm3 0zm7 0zm3 0zm-27 1zm1 0zm4 0zm2 0zm1 0zm7 0zm2 0zm3 0zm3 0zm3 0zm-27 1zm1 0zm2 0zm5 0zm1 0zm1 0zm2 0zm1 0zm3 0zm1 0zm1 0zm7 0zm4 0zm-29 1zm6 0zm2 0zm1 0zm9 0zm3 0zm3 0zm5 0zm-25 1zm1 0zm1 0zm1 0zm5 0zm1 0zm4 0zm1 0zm1 0zm5 0zm1 0zm1 0zm2 0zm1 0zm1 0zm-34 1zm4 0zm1 0zm1 0zm12 0zm3 0zm1 0zm6 0zm2 0zm1 0zm-29 1zm1 0zm1 0zm7 0zm1 0zm1 0zm1 0zm1 0zm2 0zm2 0zm2 0zm2 0zm9 0zm1 0zm1 0zm3 0zm-34 1zm1 0zm4 0zm1 0zm1 0zm1 0zm6 0zm2 0zm2 0zm1 0zm1 0zm1 0zm2 0zm2 0zm4 0zm5 0zm-35 1zm2 0zm2 0zm1 0zm2 0zm3 0zm3 0zm2 0zm1 0zm2 0zm3 0zm4 0zm2 0zm3 0zm2 0zm-30 1zm1 0zm5 0zm1 0zm6 0zm9 0zm2 0zm4 0zm2 0zm3 0zm-33 1zm4 0zm7 0zm1 0zm2 0zm1 0zm1 0zm1 0zm5 0zm4 0zm-21 1zm2 0zm2 0zm4 0zm1 0zm1 0zm4 0zm2 0zm4 0zm1 0zm-24 1zm4 0zm1 0zm5 0zm1 0zm2 0zm3 0zm2 0zm1 0zm3 0zm3 0zm1 0zm1 0zm-25 1zm1 0zm13 0zm1 0zm1 0zm1 0zm1 0zm3 0zm2 0zm-18 1zm9 0zm1 0zm6 0zm2 0zm-26 1zm2 0zm3 0zm1 0zm2 0zm5 0zm3 0zm1 0zm3 0zm6 0zm-27 1zm4 0zm9 0zm1 0zm2 0zm2 0zm1 0zm3 0zm3 0zm2 0zm1 0zm-26 1zm6 0zm5 0zm4 0zm1 0zm2 0zm1 0zm2 0zm1 0zm1 0zm1 0zm-25 1zm8 0zm3 0zm1 0zm1 0zm5 0zm1 0zm7 0zm-17 1zm8 0zm2 0zm2 0zm2 0zm-16 1zm2 0zm7 0zm3 0zm2 0zm4 0zm1 0zm-24 1zm6 0zm1 0zm1 0zm1 0zm5 0zm3 0zm1 0zm1 0zm1 0zm1 0zm3 0zm1 0zm1 0zm-24 1zm13 0zm4 0zm2 0zm3 0zm1 0zm-27 1zm3 0zm7 0zm1 0zm1 0zm8 0zm4 0zm1 0zm2 0zm4 0zm-33 1zm2 0zm3 0zm4 0zm1 0zm2 0zm2 0zm4 0zm1 0zm1 0zm1 0zm6 0zm1 0zm1 0zm1 0zm-27 1zm5 0zm1 0zm1 0zm1 0zm6 0zm2 0zm1 0zm1 0zm2 0zm1 0zm3 0zm1 0zm1 0zm3 0zm-40 1zm15 0zm3 0zm1 0zm4 0zm2 0zm2 0zm2 0zm2 0zm1 0zm1 0zm2 0zm4 0zm-25 1zm3 0zm1 0zm1 0zm1 0zm1 0zm6 0zm7 0zm2 0zm2 0zm-30 1zm3 0zm1 0zm4 0zm9 0zm1 0zm3 0zm1 0zm2 0zm2 0zm2 0zm3 0zm-33 1zm3 0zm3 0zm5 0zm1 0zm8 0zm1 0zm7 0zm1 0zm3 0zm1 0zm-43 1zm1 0zm20 0zm9 0zm1 0zm1 0zm3 0zm3 0zm3 0zm2 0zm1 0zm1 0zm-30 1zm4 0zm14 0zm1 0zm2 0zm1 0zm1 0zm2 0zm2 0zm2 0zm-31 1zm12 0zm7 0zm4 0zm3 0zm3 0zm3 0zm-34 1zm13 0zm4 0zm1 0zm1 0zm1 0zm1 0zm3 0zm1 0zm3 0zm3 0zm-60 1zm30 0zm10 0zm1 0zm2 0zm1 0zm8 0zm1 0zm1 0zm2 0zm2 0zm1 0zm2 0zm1 0zm-20 1zm3 0zm1 0zm1 0zm2 0zm1 0zm8 0zm-25 1zm6 0zm1 0zm-10 1zm9 0zm3 0zm4 0zm1 0zm3 0zm5 0zm-43 1zm20 0zm1 0zm1 0zm6 0zm2 0zm1 0zm1 0zm2 0zm2 0zm5 0zm5 0zm-55 1zm33 0zm3 0zm4 0zm10 0zm4 0zm-40 1zm18 0zm3 0zm3 0zm1 0zm1 0zm5 0zm5 0zm2 0zm2 0zm2 0zm1 0zm-59 1zm9 0zm8 0zm20 0zm2 0zm3 0zm1 0zm1 0zm1 0zm2 0zm7 0zm8 0zm-54 1zm30 0zm1 0zm13 0zm1 0zm3 0zm4 0zm-44 1zm13 0zm2 0zm4 0zm2 0zm4 0zm1 0zm4 0zm1 0zm2 0zm1 0zm4 0zm3 0zm3 0zm-30 1zm2 0zm2 0zm1 0zm5 0zm3 0zm2 0zm1 0zm4 0zm1 0zm6 0zm3 0zm1 0zm4 0zm-36 1zm2 0zm1 0zm6 0zm3 0zm1 0zm2 0zm2 0zm5 0zm1 0zm1 0zm4 0zm2 0zm1 0zm-36 1zm9 0zm2 0zm4 0zm6 0zm2 0zm2 0zm7 0zm2 0zm-30 1zm9 0zm2 0zm5 0zm1 0zm2 0zm2 0zm1 0zm1 0zm2 0zm1 0zm1 0zm4 0zm2 0zm1 0zm1 0zm-35 1zm1 0zm1 0zm2 0zm7 0zm1 0zm1 0zm2 0zm2 0zm1 0zm1 0zm1 0zm3 0zm2 0zm1 0zm1 0zm1 0zm1 0zm-30 1zm1 0zm3 0zm4 0zm4 0zm5 0zm1 0zm3 0zm1 0zm3 0zm2 0zm3 0zm2 0zm1 0zm3 0zm-30 1zm3 0zm2 0zm1 0zm2 0zm2 0zm1 0zm5 0zm6 0zm2 0zm6 0zm-62 1zm24 0zm5 0zm4 0zm1 0zm1 0zm2 0zm1 0zm12 0zm6 0zm-44 1zm2 0zm11 0zm4 0zm1 0zm1 0zm2 0zm2 0zm1 0zm1 0zm5 0zm2 0zm1 0zm10 0zm5 0zm2 0zm-29 1zm1 0zm1 0zm2 0zm3 0zm1 0zm1 0zm3 0zm2 0zm4 0zm2 0zm2 0zm1 0zm-26 1zm1 0zm4 0zm9 0zm2 0zm5 0zm2 0zm1 0zm5 0zm3 0zm-31 1zm4 0zm1 0zm1 0zm1 0zm5 0zm1 0zm4 0zm2 0zm4 0zm3 0zm-29 1zm2 0zm2 0zm2 0zm5 0zm5 0zm7 0zm3 0zm1 0zm-46 1zm15 0zm1 0zm5 0zm1 0zm1 0zm1 0zm5 0zm2 0zm6 0zm2 0zm5 0zm-37 1zm14 0zm1 0zm1 0zm4 0zm8 0zm5 0zm5 0zm1 0zm-41 1zm2 0zm6 0zm6 0zm1 0zm1 0zm1 0zm1 0zm8 0zm2 0zm2 0zm9 0zm3 0zm1 0zm-40 1zm9 0zm9 0zm1 0zm3 0zm1 0zm10 0zm2 0zm1 0zm4 0zm2 0zm-44 1zm1 0zm3 0zm1 0zm2 0zm2 0zm4 0zm1 0zm1 0zm2 0zm2 0zm12 0zm3 0zm3 0zm6 0zm1 0zm3 0zm-47 1zm9 0zm4 0zm1 0zm4 0zm6 0zm6 0zm11 0zm2 0zm3 0zm2 0zm-50 1zm17 0zm3 0zm14 0zm4 0zm3 0zm2 0zm-33 1zm2 0zm9 0zm1 0zm4 0zm1 0zm2 0zm5 0zm1 0zm2 0zm2 0zm1 0zm4 0zm-47 1zm13 0zm2 0zm1 0zm3 0zm1 0zm4 0zm9 0zm4 0zm10 0zm-46 1zm5 0zm2 0zm8 0zm4 0zm3 0zm1 0zm4 0zm22 0zm3 0zm-66 1zm5 0zm12 0zm13 0zm3 0zm2 0zm1 0zm11 0zm11 0zm4 0zm-48 1zm2 0zm3 0zm15 0zm1 0zm5 0zm2 0zm5 0zm2 0zm13 0zm1 0zm-42 1zm1 0zm6 0zm1 0zm2 0zm1 0zm1 0zm3 0zm2 0zm11 0zm5 0zm3 0zm2 0zm4 0zm1 0zm-46 1zm1 0zm9 0zm1 0zm6 0zm9 0zm2 0zm12 0zm1 0zm5 0zm-61 1zm17 0zm15 0zm4 0zm2 0zm5 0zm2 0zm2 0zm5 0zm3 0zm5 0zm-44 1zm7 0zm2 0zm5 0zm1 0zm1 0zm1 0zm6 0zm2 0zm1 0zm14 0zm2 0zm1 0zm3 0zm-35 1zm7 0zm1 0zm4 0zm18 0zm1 0zm1 0zm3 0zm-64 1zm27 0zm2 0zm25 0zm4 0zm1 0zm1 0zm-43 1zm9 0zm1 0zm1 0zm2 0zm1 0zm2 0zm5 0zm16 0zm1 0zm3 0zm4 0zm2 0zm-39 1zm1 0zm1 0zm1 0zm3 0zm3 0zm6 0zm9 0zm7 0zm1 0zm2 0zm7 0zm-63 1zm16 0zm5 0zm1 0zm5 0zm3 0zm3 0zm18 0zm5 0zm2 0zm-49 1zm13 0zm11 0zm20 0zm6 0zm1 0zm-60 1zm2 0zm20 0zm4 0zm3 0zm25 0zm2 0zm1 0zm1 0zm1 0zm1 0zm-61 1zm6 0zm19 0zm38 0zm-44 1zm8 0zm1 0zm3 0zm2 0zm5 0zm21 0zm4 0zm-62 1zm4 0zm18 0zm5 0zm1 0zm2 0zm22 0zm6 0zm-60 1zm13 0zm2 0zm14 0zm18 0zm7 0zm3 0zm2 0zm-55 1zm13 0zm4 0zm4 0zm1 0zm1 0zm3 0zm2 0zm1 0zm17 0zm13 0zm-48 1zm7 0zm4 0zm2 0zm7 0zm26 0zm2 0zm1 0zm-61 1zm11 0zm6 0zm3 0zm1 0zm7 0zm31 0zm-43 1zm3 0zm1 0zm1 0zm2 0zm3 0zm-12 1zm2 0zm1 0zm9 0zm31 0zm-47 1zm6 0zm2 0zm1 0zm7 0zm33 0zm-43 1zm1 0zm1 0zm4 0zm1 0zm35 0zm-36 1zm1 0zm35 0zm1 0zm-42 1zm3 0zm5 0zm1 0zm28 0zm3 0zm3 0zm-43 1zm2 0zm3 0zm1 0zm33 0zm2 0zm1 0zm1 0zm-43 1zm1 0zm2 0zm36 0zm2 0zm2 0zm-46 1zm3 0zm1 0zm41 0zm-44 1zm2 0zm3 0zm1 0zm35 0zm2 0zm-2 1zm-37 1zm1 0zm34 0zm2 0zm1 0zm1 0zm2 0zm1 0zm-42 1zm36 0zm2 0zm-36 1zm1 0zm37 0zm-41 1zm1 0zm4 0zm32 0zm5 0zm-49 1zm5 0zm5 0zm34 0zm2 0zm-38 1zm2 0zm36 0zm1 0zm2 0zm-37 1zm1 0zm2 0zm32 0zm1 0zm-37 1zm0 1zm1 0zm-1 1zm36 0zm2 0zm-39 1zm35 0zm4 0zm-41 1zm3 0zm2 0zm1 0zm29 0zm3 0zm-39 1zm5 0zm1 0zm3 0zm31 0zm2 0zm-44 1zm7 0zm2 0zm30 0zm2 0zm-38 1zm5 0zm30 0zm2 0zm2 0zm1 0zm-48 1zm9 0zm2 0zm1 0zm1 0zm1 0zm30 1zm-36 1zm1 0zm5 0zm1 0zm29 0zm2 0zm-39 1zm2 0zm3 0zm1 0zm29 0zm3 0zm2 0zm1 0zm-34 1zm1 0zm25 0zm7 0zm1 0zm-36 1zm1 0zm30 0zm1 0zm1 0zm1 0zm1 0zm1 0zm-31 1zm25 0zm2 0zm1 0zm1 0zm-31 1zm25 0zm4 0zm-33 1zm1 0zm2 0zm27 0zm2 0zm-28 1zm24 0zm1 0zm-21 1zm1 0zm21 0zm1 0zm-29 1zm2 0zm3 0zm19 0zm8 0zm-29 1zm21 0zm4 0zm1 0zm1 0zm3 0zm-37 1zm3 0zm1 0zm1 0zm1 0zm1 0zm1 0zm22 0zm1 0zm2 0zm1 0zm-28 1zm1 0zm3 0zm20 0zm3 0zm-29 1zm5 0zm0 1zm3 0zm17 0zm1 0zm-23 1zm12 0zm11 0zm-22 1zm3 0zm17 0zm1 0zm-15 1zm4 0zm1 0zm4 0zm3 0zm5 0zm-15 1zm5 0zm1 0zm2 0zm2 0zm-36 1zm11 0zm11 0zm4 0zm3 0zm1 0zm1 0zm1 0zm4 0zm1 0zm-10 1z"/>
<path transform="scale(1.25)" stroke-width="1" stroke="#58b4d4" d="M955 94zm-16 2zm11 0zm1 0zm-3 1zm2 1zm9 0zm-7 1zm-10 2zm5 0zm8 0zm-15 1zm3 0zm5 0zm2 0zm1 1zm4 0zm-17 2zm4 0zm1 0zm1 0zm2 0zm2 0zm1 0zm1 0zm2 0zm-9 1zm3 0zm1 0zm2 0zm-9 1zm2 0zm3 0zm-2 1zm4 0zm1 0zm1 0zm1 0zm4 0zm-12 1zm2 0zm7 0zm2 0zm3 0zm-20 1zm9 0zm2 0zm2 0zm-3 1zm2 0zm2 0zm3 0zm-21 1zm5 0zm3 0zm5 0zm-12 1zm3 0zm4 0zm2 0zm3 0zm1 0zm3 0zm1 0zm3 0zm-14 1zm3 0zm13 0zm1 0zm1 0zm-12 1zm10 0zm-17 1zm1 0zm1 0zm2 0zm2 0zm6 0zm2 0zm-16 1zm1 0zm4 0zm1 0zm3 0zm1 0zm1 0zm10 0zm-16 1zm1 0zm2 0zm6 0zm1 0zm2 0zm3 0zm-21 1zm3 0zm8 0zm-5 1zm6 0zm3 0zm5 0zm-6 1zm6 0zm-20 1zm7 0zm2 0zm3 0zm1 0zm2 0zm1 0zm-11 1zm4 0zm5 0zm-9 1zm6 0zm4 0zm2 0zm-6 1zm2 0zm2 0zm3 0zm5 0zm-22 1zm3 0zm3 0zm1 0zm2 0zm4 0zm1 0zm5 0zm-7 1zm1 0zm3 0zm4 0zm2 0zm-19 1zm2 0zm1 0zm7 0zm3 0zm-9 1zm1 0zm2 0zm2 0zm-5 1zm9 0zm3 0zm-18 1zm5 0zm5 0zm3 0zm1 0zm7 0zm1 0zm-16 1zm4 0zm3 0zm1 0zm7 0zm-21 1zm2 0zm3 0zm13 0zm2 0zm-9 1zm-9 1zm6 0zm10 0zm3 0zm-14 1zm1 0zm1 0zm2 0zm7 0zm5 0zm2 0zm-24 1zm4 0zm3 0zm1 0zm3 0zm4 0zm-13 1zm1 0zm3 0zm1 0zm2 0zm2 0zm6 0zm4 0zm3 0zm-24 1zm3 0zm5 0zm1 0zm-6 1zm5 0zm-14 1zm7 0zm1 0zm14 0zm-15 1zm1 0zm1 0zm5 0zm1 0zm4 0zm1 0zm1 0zm-12 1zm1 0zm6 0zm6 0zm2 0zm3 0zm-18 1zm2 0zm9 0zm5 0zm-18 1zm3 0zm7 0zm2 0zm-1 1zm1 0zm-19 1zm6 0zm7 0zm4 0zm2 0zm4 0zm-12 1zm1 0zm1 0zm4 0zm4 0zm-18 1zm4 0zm2 0zm4 0zm1 0zm4 0zm1 0zm1 0zm1 0zm6 0zm-18 1zm6 0zm1 0zm2 0zm2 0zm1 0zm3 0zm-13 1zm2 0zm5 0zm-6 1zm5 0zm2 0zm2 0zm3 0zm-17 1zm1 0zm1 0zm5 0zm3 0zm5 0zm1 0zm5 0zm-20 1zm1 0zm4 0zm4 0zm2 0zm-4 1zm-1 1zm4 0zm-15 1zm3 0zm1 0zm2 0zm7 0zm1 0zm13 0zm-26 1zm2 0zm3 0zm4 0zm3 0zm-6 1zm2 0zm1 0zm2 0zm1 0zm7 0zm-17 1zm8 0zm2 0zm9 0zm-16 1zm7 0zm4 0zm7 0zm-10 1zm3 0zm5 0zm-2 1zm-20 1zm3 0zm11 0zm3 0zm2 0zm1 0zm-21 1zm12 0zm8 0zm9 0zm-25 1zm8 0zm1 0zm2 0zm1 0zm-13 1zm9 0zm5 0zm-12 1zm8 0zm-8 1zm8 0zm6 0zm6 0zm2 0zm-15 1zm6 1zm-9 1zm6 0zm4 0zm-10 1zm10 0zm3 0zm3 0zm-18 1zm4 0zm1 0zm5 0zm6 0zm2 0zm-16 1zm9 1zm-11 1zm2 0zm8 0zm8 0zm-4 1zm6 0zm-5 1zm3 0zm-24 1zm12 0zm5 1zm-7 4zm1 0zm1 0zm14 0zm-17 1zm6 0zm15 0zm-20 1zm2 0zm3 1zm-4 1zm1 0zm10 1zm0 1zm6 0zm-9 1zm9 2zm-12 1zm8 2zm-4 1zm1 0zm-10 1zm8 0zm-10 1zm3 0zm1 0zm1 0zm3 0zm1 0zm-4 1zm-10 1zm9 0zm1 0zm1 1zm1 0zm-5 1zm-13 1zm6 0zm8 0zm2 0zm2 0zm5 0zm4 0zm-22 1zm3 0zm3 0zm6 0zm7 1zm1 0zm1 0zm2 0zm2 0zm-28 1zm7 0zm19 0zm-24 1zm2 0zm12 0zm5 0zm-13 1zm5 0zm14 0zm1 0zm-9 1zm-9 1zm10 0zm5 0zm-4 1zm7 0zm-10 1zm-1 1zm2 0zm1 0zm1 0zm4 0zm2 0zm2 0zm1 0zm-23 1zm7 0zm1 0zm4 0zm1 0zm1 0zm2 0zm5 0zm-23 1zm7 0zm2 0zm5 0zm8 0zm-22 1zm5 0zm1 0zm1 0zm6 0zm2 0zm4 0zm-17 1zm1 0zm1 0zm4 0zm1 0zm2 0zm1 0zm2 0zm2 0zm2 0zm1 0zm3 0zm-27 1zm6 0zm1 0zm1 0zm2 0zm2 0zm2 0zm4 0zm7 0zm-16 1zm5 0zm2 0zm1 0zm2 0zm5 0zm-26 1zm7 0zm3 0zm1 0zm1 0zm6 0zm1 0zm2 0zm6 0zm-17 1zm4 0zm1 0zm1 0zm1 0zm3 0zm2 0zm2 0zm9 0zm-43 1zm9 0zm1 0zm4 0zm2 0zm5 0zm4 0zm8 0zm1 0zm3 0zm1 0zm1 0zm4 0zm-35 1zm6 0zm6 0zm3 0zm3 0zm4 0zm2 0zm1 0zm3 0zm1 0zm1 0zm4 0zm1 0zm-32 1zm4 0zm4 0zm1 0zm1 0zm1 0zm2 0zm8 0zm3 0zm6 0zm-30 1zm3 0zm1 0zm5 0zm4 0zm4 0zm10 0zm4 0zm-28 1zm5 0zm5 0zm1 0zm3 0zm6 0zm7 0zm-29 1zm10 0zm2 0zm1 0zm1 0zm6 0zm1 0zm2 0zm1 0zm2 0zm1 0zm-25 1zm3 0zm3 0zm1 0zm2 0zm2 0zm3 0zm1 0zm3 0zm1 0zm3 0zm3 0zm-27 1zm1 0zm4 0zm1 0zm3 0zm3 0zm12 0zm1 0zm1 0zm2 0zm1 0zm-20 1zm2 0zm9 0zm3 0zm7 0zm-29 1zm3 0zm1 0zm4 0zm1 0zm1 0zm7 0zm1 0zm3 0zm2 0zm1 0zm4 0zm1 0zm-31 1zm6 0zm20 0zm2 0zm2 0zm4 0zm-33 1zm5 0zm3 0zm10 0zm2 0zm2 0zm-13 1zm5 0zm6 0zm2 0zm1 0zm1 0zm1 0zm1 0zm1 0zm7 0zm-35 1zm4 0zm2 0zm1 0zm1 0zm6 0zm8 0zm3 0zm1 0zm8 0zm-30 1zm11 0zm8 0zm4 0zm2 0zm-29 1zm8 0zm12 0zm2 0zm-21 1zm6 0zm11 0zm2 0zm1 0zm4 0zm1 0zm1 0zm-28 1zm4 0zm1 0zm14 0zm9 0zm1 0zm-25 1zm2 0zm3 0zm11 0zm6 0zm1 0zm2 0zm-28 1zm2 0zm2 0zm1 0zm19 0zm4 0zm5 0zm1 0zm-32 1zm2 0zm15 0zm8 0zm2 0zm1 0zm3 0zm-37 1zm32 0zm4 0zm-34 1zm1 0zm5 0zm25 0zm3 0zm1 0zm1 0zm-35 1zm3 0zm8 0zm-12 1zm11 0zm16 0zm8 0zm-6 1zm2 0zm-30 1zm27 0zm2 0zm1 0zm3 0zm-43 1zm9 0zm29 0zm5 0zm1 0zm-36 1zm2 0zm3 0zm28 0zm-36 1zm1 0zm35 0zm-36 1zm5 0zm3 0zm25 0zm2 0zm-34 1zm3 0zm24 1zm7 0zm-34 1zm1 0zm29 0zm2 0zm4 0zm-35 1zm1 0zm3 0zm23 0zm-25 1zm6 0zm23 0zm1 0zm6 0zm-35 1zm26 0zm3 0zm-32 1zm33 0zm-33 1zm1 0zm33 0zm4 0zm-37 1zm29 0zm4 0zm1 0zm-37 1zm1 0zm3 0zm32 0zm-32 1zm2 0zm3 0zm-6 1zm3 0zm27 0zm2 0zm-2 1zm7 0zm-36 1zm29 0zm1 0zm1 0zm1 0zm1 0zm2 0zm-34 1zm30 0zm2 0zm2 0zm1 0zm-36 1zm2 0zm28 0zm1 0zm1 0zm5 0zm-9 1zm5 0zm-28 1zm24 0zm-27 1zm27 0zm3 0zm-4 1zm-26 1zm25 0zm1 0zm0 1zm-29 1zm6 0zm-2 1zm29 0zm-30 1zm1 0zm4 0zm21 0zm3 0zm-28 1zm23 0zm4 0zm-28 1zm1 0zm2 0zm17 0zm6 0zm-1 1zm7 0zm-27 1zm19 0zm2 0zm1 0zm-22 1zm16 0zm9 0zm1 0zm-30 1zm1 0zm1 0zm1 0zm25 0zm-29 1zm29 0zm-27 1zm2 0zm1 0zm23 0zm-26 1zm3 0zm3 0zm6 0zm3 0zm7 0zm1 0zm4 0zm-26 1zm19 0zm1 0zm-20 1zm18 0zm2 0zm-18 1zm4 0zm1 0zm9 0zm1 0zm1 0zm2 0zm-18 1zm3 0zm1 0zm3 0zm2 0zm1 0zm4 0zm1 0zm2 0zm-7 1zm1 0zm5 0zm1 0zm-14 1zm7 0zm4 0zm1 0zm-10 1zm4 0zm4 0zm1 0zm2 0zm1 0zm0 1zm1 0z"/>
<path transform="scale(1.25)" stroke-width="1" stroke="#58be62" d="M943 97zm5 2zm6 1zm-9 1zm-2 2zm1 0zm4 0zm1 0zm-6 1zm2 0zm4 0zm1 0zm2 0zm3 0zm-4 1zm2 0zm1 1zm-10 1zm7 0zm1 0zm1 0zm-15 1zm14 0zm1 0zm-3 1zm-7 1zm3 0zm2 0zm3 0zm-2 1zm-7 1zm6 0zm1 0zm1 0zm-15 1zm13 0zm-5 1zm2 0zm2 0zm4 0zm1 0zm-8 1zm4 0zm2 0zm1 0zm3 0zm-9 1zm3 0zm1 0zm2 0zm4 0zm-15 1zm3 0zm1 0zm6 0zm1 0zm1 0zm-12 1zm5 0zm1 0zm2 0zm-5 1zm2 0zm4 0zm5 0zm-18 1zm6 0zm12 0zm-10 1zm2 0zm2 0zm-8 1zm3 1zm2 0zm1 0zm6 0zm-8 1zm1 0zm2 0zm1 0zm-4 1zm1 0zm2 0zm5 0zm-15 1zm4 0zm5 0zm1 0zm-5 1zm1 0zm1 0zm1 0zm1 0zm1 0zm4 0zm-8 1zm1 0zm1 0zm1 0zm1 0zm1 0zm2 0zm3 0zm-13 1zm1 0zm4 0zm4 0zm1 0zm-5 1zm1 0zm3 0zm9 0zm-18 1zm1 0zm2 0zm2 0zm1 0zm9 0zm-15 1zm1 0zm4 0zm3 0zm1 0zm-8 1zm3 0zm1 0zm5 0zm1 0zm3 0zm4 0zm-13 1zm1 0zm1 0zm2 0zm1 0zm1 0zm1 0zm-5 1zm1 0zm2 0zm1 0zm1 0zm2 0zm-5 1zm1 0zm1 0zm-12 1zm1 0zm4 0zm4 0zm2 0zm1 0zm1 0zm2 0zm-6 1zm-3 1zm3 0zm1 0zm2 0zm1 0zm2 0zm-9 1zm3 0zm2 0zm1 0zm-8 1zm3 0zm1 0zm1 0zm4 0zm-9 1zm1 0zm4 0zm1 0zm10 0zm-9 1zm2 0zm3 1zm5 0zm-10 1zm-5 1zm3 0zm-4 1zm3 0zm7 0zm-16 1zm3 0zm9 0zm-12 1zm5 0zm11 0zm2 0zm-16 1zm3 0zm8 0zm4 0zm-18 1zm3 0zm2 0zm9 0zm2 0zm1 0zm1 0zm-13 1zm10 0zm3 0zm-13 1zm10 0zm-15 1zm16 0zm-1 1zm-15 1zm12 0zm1 1zm5 0zm-13 1zm5 0zm2 0zm2 0zm0 2zm9 2zm-22 1zm3 0zm10 0zm-1 1zm0 1zm-14 1zm3 0zm9 0zm-5 1zm-2 6zm-3 3zm9 6zm4 5zm-8 4zm19 1zm-14 7zm-2 3zm3 1zm-8 2zm13 0zm-11 4zm18 1zm-8 3zm4 0zm1 0zm3 0zm-11 1zm8 0zm1 0zm-2 1zm6 0zm-11 1zm13 0zm-19 1zm2 0zm13 0zm-13 1zm10 0zm3 0zm-14 1zm6 0zm2 0zm-7 1zm8 0zm-17 1zm2 0zm2 0zm4 0zm1 0zm1 1zm4 0zm3 0zm-12 1zm7 0zm3 0zm8 0zm-21 1zm1 0zm3 0zm4 0zm2 0zm2 0zm-15 1zm2 0zm2 0zm2 0zm3 0zm1 0zm9 0zm1 0zm5 0zm-17 1zm2 0zm1 0zm2 0zm1 0zm2 0zm2 0zm9 0zm-29 1zm6 0zm7 0zm1 0zm10 0zm2 0zm2 0zm-21 1zm1 0zm1 0zm1 0zm4 0zm2 0zm8 0zm2 0zm-25 1zm5 0zm1 0zm3 0zm4 0zm2 0zm1 0zm4 0zm3 0zm-18 1zm3 0zm4 0zm4 0zm1 0zm3 0zm1 0zm5 0zm1 0zm-16 1zm1 0zm2 0zm2 0zm2 0zm3 0zm9 0zm-27 1zm2 0zm1 0zm4 0zm3 0zm3 0zm1 0zm-6 1zm2 0zm1 0zm1 0zm6 0zm-15 1zm5 0zm2 0zm2 0zm2 0zm1 0zm1 0zm1 0zm6 0zm-22 1zm1 0zm7 0zm5 0zm4 0zm2 0zm3 0zm-25 1zm4 0zm1 0zm4 0zm1 0zm2 0zm1 0zm1 0zm1 0zm3 0zm-13 1zm1 0zm1 0zm1 0zm1 0zm2 0zm1 0zm1 0zm1 0zm2 0zm1 0zm6 0zm-21 1zm1 0zm4 0zm1 0zm1 0zm1 0zm2 0zm5 0zm1 0zm-17 1zm1 0zm1 0zm2 0zm2 0zm1 0zm1 0zm1 0zm2 0zm1 0zm1 0zm10 0zm2 0zm-26 1zm4 0zm1 0zm1 0zm1 0zm1 0zm4 0zm1 0zm2 0zm3 0zm1 0zm5 0zm-26 1zm3 0zm4 0zm1 0zm1 0zm1 0zm1 0zm1 0zm1 0zm1 0zm1 0zm2 0zm1 0zm1 0zm1 0zm2 0zm5 0zm-23 1zm1 0zm2 0zm1 0zm1 0zm2 0zm1 0zm1 0zm1 0zm1 0zm1 0zm2 0zm3 0zm1 0zm-18 1zm1 0zm2 0zm2 0zm2 0zm1 0zm3 0zm1 0zm2 0zm1 0zm1 0zm1 0zm3 0zm1 0zm2 0zm-23 1zm2 0zm1 0zm3 0zm1 0zm1 0zm2 0zm4 0zm1 0zm1 0zm1 0zm1 0zm1 0zm1 0zm-21 1zm1 0zm1 0zm1 0zm2 0zm2 0zm1 0zm1 0zm1 0zm2 0zm1 0zm1 0zm1 0zm1 0zm3 0zm2 0zm3 0zm-28 1zm1 0zm3 0zm1 0zm3 0zm1 0zm1 0zm2 0zm1 0zm3 0zm2 0zm1 0zm1 0zm1 0zm1 0zm1 0zm3 0zm4 0zm-26 1zm2 0zm1 0zm6 0zm1 0zm2 0zm1 0zm1 0zm1 0zm2 0zm1 0zm1 0zm1 0zm1 0zm2 0zm1 0zm1 0zm1 0zm-29 1zm2 0zm1 0zm2 0zm3 0zm6 0zm5 0zm3 0zm2 0zm2 0zm1 0zm2 0zm-33 1zm3 0zm3 0zm1 0zm2 0zm3 0zm4 0zm1 0zm1 0zm1 0zm1 0zm1 0zm1 0zm2 0zm2 0zm1 0zm1 0zm2 0zm2 0zm1 0zm-29 1zm1 0zm1 0zm1 0zm1 0zm1 0zm8 0zm1 0zm3 0zm1 0zm2 0zm1 0zm2 0zm2 0zm4 0zm-37 1zm5 0zm3 0zm1 0zm3 0zm3 0zm1 0zm4 0zm2 0zm2 0zm1 0zm3 0zm1 0zm2 0zm3 0zm1 0zm1 0zm-29 1zm2 0zm1 0zm1 0zm9 0zm6 0zm2 0zm2 0zm1 0zm1 0zm1 0zm4 0zm-33 1zm1 0zm1 0zm2 0zm1 0zm1 0zm2 0zm7 0zm9 0zm1 0zm2 0zm1 0zm1 0zm1 0zm1 0zm-31 1zm5 0zm2 0zm14 0zm3 0zm1 0zm1 0zm1 0zm1 0zm2 0zm2 0zm1 0zm-35 1zm1 0zm4 0zm1 0zm1 0zm3 0zm12 0zm2 0zm3 0zm1 0zm2 0zm1 0zm3 0zm3 0zm-34 1zm1 0zm2 0zm1 0zm3 0zm12 0zm1 0zm2 0zm2 0zm1 0zm1 0zm1 0zm1 0zm1 0zm-31 1zm1 0zm1 0zm1 0zm1 0zm2 0zm4 0zm2 0zm11 0zm1 0zm1 0zm7 0zm-31 1zm3 0zm1 0zm1 0zm1 0zm16 0zm4 0zm1 0zm1 0zm2 0zm-29 1zm1 0zm2 0zm3 0zm2 0zm13 0zm3 0zm1 0zm5 0zm2 0zm-35 1zm1 0zm1 0zm3 0zm1 0zm3 0zm12 0zm12 0zm-31 1zm1 0zm2 0zm1 0zm1 0zm2 0zm2 0zm17 0zm1 0zm1 0zm1 0zm-28 1zm1 0zm1 0zm2 0zm3 0zm13 0zm3 0zm3 0zm3 0zm4 0zm-33 1zm1 0zm2 0zm2 0zm5 0zm9 0zm6 0zm1 0zm3 0zm1 0zm3 0zm-33 1zm2 0zm1 0zm1 0zm1 0zm1 0zm18 0zm1 0zm3 0zm1 0zm3 0zm-26 1zm1 0zm4 0zm17 0zm3 0zm3 0zm-35 1zm1 0zm3 0zm21 0zm1 0zm2 0zm7 0zm-37 1zm3 0zm2 0zm1 0zm1 0zm1 0zm6 0zm14 0zm5 0zm1 0zm-31 1zm1 0zm1 0zm1 0zm21 0zm3 0zm-23 1zm1 0zm20 0zm1 0zm1 0zm2 0zm-25 1zm7 0zm13 0zm-25 1zm1 0zm1 0zm1 0zm1 0zm1 0zm5 0zm11 0zm6 0zm2 0zm-26 1zm1 0zm3 0zm1 0zm9 0zm5 0zm4 0zm2 0zm-24 1zm1 0zm1 0zm1 0zm4 0zm6 0zm8 0zm2 0zm3 0zm-27 1zm1 0zm1 0zm2 0zm17 0zm1 0zm2 0zm2 0zm-26 1zm1 0zm3 0zm15 0zm2 0zm2 0zm-23 1zm3 0zm18 0zm1 0zm-22 1zm1 0zm3 0zm15 0zm1 0zm1 0zm1 0zm1 0zm1 0zm1 0zm-28 1zm4 0zm1 0zm1 0zm10 0zm8 0zm2 0zm1 0zm1 0zm1 0zm1 0zm-29 1zm3 0zm1 0zm1 0zm10 0zm9 0zm2 0zm-23 1zm4 0zm14 0zm2 0zm4 0zm1 0zm-25 1zm3 0zm3 0zm3 0zm11 0zm1 0zm1 0zm1 0zm-26 1zm4 0zm1 0zm1 0zm1 0zm2 0zm7 0zm3 0zm5 0zm1 0zm4 0zm-29 1zm4 0zm13 0zm2 0zm1 0zm2 0zm2 0zm8 0zm-31 1zm2 0zm1 0zm4 0zm1 0zm1 0zm4 0zm1 0zm2 0zm1 0zm5 0zm1 0zm1 0zm-19 1zm1 0zm1 0zm6 0zm1 0zm3 0zm1 0zm2 0zm1 0zm1 0zm4 0zm-23 1zm4 0zm1 0zm4 0zm1 0zm1 0zm3 0zm3 0zm2 0zm3 0zm-24 1zm5 0zm1 0zm2 0zm1 0zm4 0zm2 0zm1 0zm1 0zm1 0zm1 0zm1 0zm2 0zm1 0zm-21 1zm3 0zm1 0zm4 0zm1 0zm3 0zm1 0zm3 0zm1 0zm1 0zm2 0zm-16 1zm1 0zm2 0zm2 0zm1 0zm3 0zm1 0zm1 0zm2 0zm1 0zm-16 1zm2 0zm1 0zm1 0zm1 0zm1 0zm2 0zm1 0zm2 0zm3 0zm1 0zm-9 1zm2 0zm1 0zm1 0zm1 0zm1 0zm1 0zm-8 1zm1 0zm2 0zm3 0zm1 0zm1 0zm-11 1zm1 0zm1 0zm1 0zm2 0zm2 0zm3 0zm1 0zm1 0zm1 0zm-11 1zm1 0zm1 0zm1 0zm1 0zm3 0zm-5 1zm4 0zm4 1zm-1 1z"/>
<path transform="scale(1.25)" stroke-width="1" stroke="#a0d23c" d="M951 129zm2 7zm-9 91zm2 8zm10 0zm-4 3zm-3 1zm-2 1zm1 0zm-2 2zm-4 1zm2 0zm5 0zm1 0zm3 0zm-8 1zm4 0zm3 0zm-2 1zm6 0zm1 0zm-16 1zm1 0zm7 0zm-6 1zm2 0zm1 0zm4 0zm-8 1zm6 0zm1 0zm2 0zm1 0zm2 0zm2 0zm1 0zm-15 1zm3 0zm1 0zm1 0zm8 0zm2 0zm-15 1zm1 0zm1 0zm3 0zm1 0zm3 0zm1 0zm3 0zm3 0zm-13 1zm4 0zm6 0zm-15 1zm2 0zm4 0zm3 0zm2 0zm1 0zm1 0zm2 0zm7 0zm-23 1zm3 0zm2 0zm2 0zm6 0zm1 0zm2 0zm-17 1zm3 0zm2 0zm3 0zm5 0zm4 0zm-17 1zm1 0zm2 0zm4 0zm3 0zm1 0zm2 0zm4 0zm4 0zm-24 1zm9 0zm3 0zm1 0zm-8 1zm4 0zm7 0zm2 0zm5 0zm2 0zm2 0zm-23 1zm3 0zm2 0zm7 0zm5 0zm5 0zm-26 1zm5 0zm4 0zm8 0zm7 0zm-22 1zm3 0zm1 0zm3 0zm1 0zm2 0zm1 0zm1 0zm3 0zm2 0zm1 0zm2 0zm1 0zm-24 1zm15 0zm7 0zm-24 1zm4 0zm2 0zm6 0zm10 0zm3 0zm1 0zm2 0zm-25 1zm2 0zm2 0zm1 0zm1 0zm9 0zm-10 1zm1 0zm4 0zm1 0zm1 0zm6 0zm3 0zm3 0zm-24 1zm14 0zm4 0zm2 0zm1 0zm2 0zm2 0zm-25 1zm2 0zm1 0zm2 0zm4 0zm5 0zm7 1zm1 0zm3 0zm-23 1zm2 0zm3 0zm2 0zm8 0zm7 0zm-24 1zm5 0zm1 0zm1 0zm3 0zm1 0zm15 0zm-22 1zm2 0zm12 0zm3 0zm3 0zm-21 1zm1 0zm5 0zm5 0zm6 0zm1 0zm1 0zm-16 1zm12 0zm6 0zm-19 1zm1 0zm1 0zm2 0zm12 0zm-2 1zm1 0zm3 0zm-21 1zm1 0zm3 0zm2 0zm1 0zm4 0zm5 0zm2 0zm-16 1zm-1 1zm5 0zm1 0zm7 0zm-12 1zm1 0zm1 0zm1 0zm3 0zm6 0zm3 0zm3 0zm-17 1zm1 0zm6 0zm8 0zm3 0zm-17 1zm2 0zm3 0zm-5 1zm6 0zm3 0zm5 0zm-12 1zm1 0zm2 0zm1 0zm1 0zm5 0zm3 0zm-18 1zm7 0zm1 0zm1 0zm1 0zm8 0zm-18 1zm14 0zm1 0zm-10 1zm6 0zm1 0zm-10 1zm3 0zm2 0zm4 0zm3 0zm1 0zm-11 1zm1 1zm1 0zm3 0zm5 0zm-12 1zm8 0zm1 0zm0 1zm-8 1zm5 0z"/>
<path transform="scale(1.25)" stroke-width="1" stroke="#f0e030" d="M951 238zm-2 2zm-8 4zm10 0zm-1 2zm-3 1zm-1 1zm-1 2zm1 0zm-5 1zm1 0zm4 0zm5 0zm3 0zm4 0zm-15 1zm2 0zm5 0zm-9 1zm2 0zm6 0zm1 0zm1 0zm3 0zm-14 1zm4 0zm1 0zm2 0zm1 0zm4 0zm2 0zm-10 1zm2 0zm7 0zm-15 1zm4 0zm3 0zm6 0zm3 0zm-16 1zm1 0zm3 0zm3 0zm1 0zm-6 1zm1 0zm4 0zm5 0zm3 0zm2 0zm-18 1zm5 0zm3 0zm2 0zm2 0zm1 0zm3 0zm3 0zm-18 1zm15 0zm-15 1zm2 0zm2 0zm6 0zm2 0zm1 0zm2 0zm1 0zm-12 1zm1 0zm12 0zm-13 1zm3 0zm2 0zm6 0zm3 0zm-12 1zm10 0zm1 0zm-17 1zm3 0zm9 0zm7 0zm2 0zm-20 1zm2 0zm2 0zm2 0zm1 0zm4 0zm4 0zm2 0zm-17 1zm4 0zm4 0zm4 0zm3 0zm-16 1zm3 0zm2 0zm8 0zm3 0zm1 0zm1 0zm-20 1zm3 0zm4 0zm6 0zm7 0zm-18 1zm2 0zm9 0zm1 0zm4 0zm4 0zm-17 1zm4 0zm5 0zm1 0zm1 0zm-14 1zm8 0zm1 0zm10 0zm-11 1zm1 0zm1 0zm2 0zm3 0zm5 0zm-20 1zm2 0zm2 0zm1 0zm1 0zm2 0zm2 0zm1 0zm-4 1zm1 0zm4 0zm2 0zm5 0zm-17 1zm2 0zm1 0zm2 0zm2 0zm1 0zm1 0zm1 0zm1 0zm2 0zm1 0zm5 0zm-19 1zm5 0zm-2 1zm1 0zm-2 1zm3 0zm9 0zm-16 1zm12 0zm1 0zm2 0zm2 0zm2 0zm-13 1zm4 0zm4 0zm1 0zm-12 1zm4 0zm-5 1zm1 0zm1 0zm1 0zm8 0zm-11 1zm4 0zm1 0zm1 0zm-4 1zm2 0zm6 1zm5 0zm-6 1zm-4 2zm-5 1z"/>
<path transform="scale(1.25)" stroke-width="1" stroke="#f4a020" d="M947 251zm-3 1zm3 0zm10 0zm-9 1zm1 1zm1 0zm-8 1zm1 0zm7 0zm6 0zm-15 1zm5 0zm-10 1zm11 0zm1 0zm-1 1zm5 0zm-6 1zm2 0zm-6 1zm4 0zm4 0zm6 0zm-13 1zm1 0zm1 0zm1 0zm6 0zm-13 1zm11 0zm-6 1zm2 0zm2 0zm1 0zm6 0zm-13 1zm1 0zm5 0zm4 0zm-9 1zm2 0zm3 0zm-1 1zm1 0zm4 0zm1 0zm-13 1zm1 0zm4 0zm3 0zm4 0zm-12 1zm5 0zm2 0zm6 0zm5 0zm-8 1zm2 0zm3 0zm-13 1zm3 0zm2 0zm4 0zm4 0zm6 0zm-21 1zm14 0zm-12 1zm6 0zm8 0zm-11 1zm6 0zm1 0zm2 0zm-4 1zm2 0zm1 0zm-13 1zm2 0zm5 0zm2 0zm-5 1zm8 0zm-6 1zm1 0zm2 0zm3 0zm1 0zm-3 1zm2 0zm1 0zm-10 1zm1 0zm2 0zm4 0zm2 0zm1 0zm-11 1zm2 0zm4 0zm4 0zm-12 1zm3 0zm8 0zm-1 1zm1 0zm3 0zm-5 1zm5 0zm-5 1zm-4 1zm1 0zm7 0zm-9 1zm2 1z"/>
<path transform="scale(1.25)" stroke-width="1" stroke="#ee5a20" d="M941 252zm4 1zm-3 1zm5 1zm-8 1zm4 0zm7 0zm-1 1zm1 0zm-7 1zm5 0zm1 0zm-6 1zm8 0zm4 0zm-12 1zm4 1zm-2 1zm1 0zm1 0zm1 0zm1 0zm2 0zm1 0zm-1 1zm-2 1zm1 0zm1 0zm-9 1zm4 0zm5 0zm1 0zm-10 1zm0 1zm7 0zm4 0zm2 0zm-9 1zm2 0zm2 0zm-6 1zm3 0zm1 0zm5 0zm1 0zm-11 1zm5 0zm4 0zm-9 1zm3 0zm-3 1zm2 0zm5 0zm2 0zm3 0zm0 1zm-10 1zm2 0zm4 0zm-10 2zm5 0zm2 1zm2 0zm-4 1zm1 0zm2 0zm0 1zm-2 1zm2 1zm-5 2z"/>
<path transform="scale(1.25)" stroke-width="1" stroke="#e0201c" d="M946 246zm3 10zm3 1zm-6 1zm9 3zm-14 1zm6 3zm7 0zm-3 1zm-5 1zm4 0zm-1 1zm2 1zm-5 1zm1 1zm1 0zm-4 1zm7 0zm-10 2zm10 1zm-10 2zm1 0zm9 2zm-6 1zm4 0zm-3 1z"/>
</g>
<rect x="984.4" y="73.7" width="302.1" height="301.2" fill="none" stroke="#111" stroke-width="1.3"/>
<rect x="1131.3" y="90.8" width="93.5" height="139.6" fill="none" stroke="#222" stroke-width="1.4"/>
<path d="M1224.4 90.8L1224.4 230.4" stroke="#222" stroke-width="2.2" />
<text x="992" y="129.6" font-size="42.5" font-family="'DejaVu Sans','Liberation Sans',sans-serif" textLength="90.5" lengthAdjust="spacingAndGlyphs">22.0</text>
<path d="M678.4 419.4H949.8V413.3L989.3 421.5L949.8 429.7V423.6H678.4Z" fill="#000"/>
<path d="M608.5 370.7V309.1H602.3L610.5 269.6L618.7 309.1H612.5V370.7Z" fill="#000"/>
<text x="1011.8" y="432.5" font-size="31.5">CD45-PerCP-Cy5.5</text>
<text font-size="31.2" text-anchor="middle" transform="translate(588 157) rotate(-90)">pHrodo Green</text>
<text font-size="31.2" text-anchor="middle" transform="translate(621.5 163) rotate(-90)">Staph Aureus</text>
<text x="827.5" y="50" font-size="31.5" text-anchor="middle">PBS</text>
<text x="1149" y="50" font-size="31.5" text-anchor="middle">WGP</text>
<g fill="none" stroke-linecap="square" stroke-width="1.2">
<path transform="scale(1.25)" stroke-width="1" stroke="#283e9c" d="M716 381zm-11 2zm3 8zm-14 1zm19 0zm-2 2zm-1 3zm16 1zm-20 2zm3 1zm-15 2zm8 0zm15 1zm28 0zm-52 1zm50 0zm-45 1zm6 0zm1 0zm1 0zm8 0zm1 0zm13 0zm6 0zm-32 1zm1 0zm23 0zm4 0zm-39 1zm11 0zm24 0zm-38 1zm15 0zm3 0zm9 0zm-3 1zm-24 1zm23 0zm18 0zm-19 1zm5 0zm-18 1zm-14 1zm27 0zm6 0zm15 0zm-38 1zm3 0zm9 0zm7 0zm3 0zm1 0zm10 0zm2 0zm9 0zm-29 1zm5 0zm11 0zm-27 1zm5 0zm1 0zm13 0zm23 0zm-29 1zm1 0zm13 0zm-26 1zm5 0zm1 0zm9 0zm1 0zm20 0zm-44 1zm17 0zm5 0zm1 0zm15 0zm-27 1zm1 0zm3 0zm9 0zm-11 1zm7 0zm7 0zm1 0zm1 0zm1 0zm-6 1zm13 0zm-29 1zm1 0zm7 0zm3 0zm14 0zm-135 1zm108 0zm4 0zm3 0zm1 0zm4 0zm1 0zm2 0zm1 0zm2 0zm2 0zm7 0zm11 0zm-37 1zm24 0zm10 0zm10 0zm-50 1zm4 0zm25 0zm4 0zm4 0zm5 0zm-50 1zm6 0zm8 0zm12 0zm4 0zm2 0zm9 0zm3 0zm-19 1zm3 0zm-15 1zm8 0zm6 0zm12 0zm-18 1zm2 0zm3 0zm1 0zm1 0zm1 0zm6 0zm8 0zm8 0zm-32 1zm1 0zm6 0zm20 0zm-42 1zm5 0zm6 0zm1 0zm5 0zm1 0zm2 0zm13 0zm7 0zm9 0zm-41 1zm11 0zm1 0zm1 0zm3 0zm3 0zm4 0zm1 0zm2 0zm1 0zm10 0zm-79 1zm41 0zm1 0zm17 0zm10 0zm-26 1zm9 0zm13 0zm2 0zm3 0zm-33 1zm20 0zm2 0zm8 0zm11 0zm6 0zm9 0zm-42 1zm7 0zm2 0zm4 0zm21 0zm-113 1zm76 0zm3 0zm12 0zm-52 1zm30 0zm4 0zm2 0zm11 0zm6 0zm6 0zm-17 1zm2 0zm4 0zm7 0zm3 0zm3 0zm5 0zm8 0zm-32 1zm9 0zm3 0zm2 0zm6 0zm1 0zm-30 1zm7 0zm1 0zm3 0zm5 0zm4 0zm9 0zm12 0zm-40 1zm1 0zm5 0zm12 0zm2 0zm9 0zm-36 1zm2 0zm19 0zm4 0zm12 0zm4 0zm-36 1zm1 0zm2 0zm3 0zm1 0zm4 0zm3 0zm5 0zm4 0zm6 0zm2 0zm9 0zm-51 1zm4 0zm16 0zm7 0zm4 0zm10 0zm4 0zm10 0zm-140 1zm98 0zm3 0zm1 0zm10 0zm4 0zm1 0zm13 0zm-52 1zm25 0zm2 0zm9 0zm11 0zm1 0zm-35 1zm8 0zm1 0zm3 0zm5 0zm3 0zm4 0zm1 0zm2 0zm14 0zm9 0zm-57 1zm19 0zm2 0zm3 0zm2 0zm4 0zm1 0zm2 0zm-30 1zm6 0zm8 0zm6 0zm2 0zm5 0zm3 0zm6 0zm2 0zm-30 1zm5 0zm10 0zm9 0zm12 0zm-62 1zm22 0zm14 0zm6 0zm1 0zm5 0zm1 0zm2 0zm3 0zm-53 1zm33 0zm11 0zm1 0zm4 0zm-20 1zm1 0zm2 0zm2 0zm6 0zm3 0zm12 0zm-59 1zm37 0zm6 0zm5 0zm6 0zm-86 1zm37 0zm30 0zm8 0zm1 0zm10 0zm2 0zm3 0zm12 0zm2 0zm-122 1zm45 0zm7 0zm47 0zm15 0zm-132 1zm25 0zm70 0zm8 0zm3 0zm1 0zm2 0zm10 0zm-69 1zm51 0zm4 0zm3 0zm9 0zm-17 1zm1 0zm1 0zm6 0zm5 0zm11 0zm6 0zm-122 1zm11 0zm26 0zm22 0zm29 0zm6 0zm14 0zm-118 1zm42 0zm65 0zm2 0zm10 0zm17 0zm-33 1zm14 0zm2 0zm-119 1zm32 0zm67 0zm4 0zm2 0zm-108 1zm12 0zm22 0zm39 0zm23 0zm10 0zm7 0zm12 0zm11 0zm3 0zm25 0zm-99 1zm30 0zm7 0zm8 0zm1 0zm2 0zm1 0zm9 0zm1 0zm2 0zm-123 1zm1 0zm79 0zm17 0zm21 0zm3 0zm8 0zm-111 1zm40 0zm12 0zm23 0zm18 0zm2 0zm1 0zm2 0zm4 0zm2 0zm2 0zm-43 1zm19 0zm3 0zm13 0zm17 0zm3 0zm-100 1zm45 0zm32 0zm6 0zm37 0zm-129 1zm44 0zm29 0zm4 0zm5 0zm4 0zm3 0zm-63 1zm74 0zm5 0zm3 0zm-39 1zm9 0zm9 0zm1 0zm7 0zm-33 1zm16 0zm1 0zm6 0zm1 0zm7 0zm10 0zm-121 1zm82 0zm12 0zm6 0zm6 0zm2 0zm29 0zm-127 1zm16 0zm11 0zm33 0zm42 0zm2 0zm13 0zm5 0zm-83 1zm2 0zm8 0zm23 0zm9 0zm1 0zm1 0zm4 0zm13 0zm-25 1zm23 0zm5 0zm-125 1zm50 0zm24 0zm-78 1zm6 0zm67 0zm16 0zm13 0zm17 0zm-69 1zm1 0zm2 0zm42 0zm1 0zm12 0zm18 0zm7 0zm-114 1zm10 0zm46 0zm11 0zm4 0zm15 0zm6 0zm-46 1zm10 0zm22 0zm25 0zm8 0zm-56 1zm30 0zm14 0zm23 0zm-123 1zm31 0zm8 0zm42 0zm7 0zm17 0zm9 0zm-56 1zm9 0zm5 0zm38 0zm5 0zm5 0zm-123 1zm19 0zm15 0zm83 0zm1 0zm15 0zm14 0zm-164 1zm8 0zm1 0zm3 0zm52 0zm15 0zm27 0zm13 0zm-109 1zm4 0zm9 0zm2 0zm43 0zm47 0zm18 0zm-157 1zm28 0zm4 0zm77 0zm8 0zm15 0zm17 0zm1 0zm4 0zm10 0zm-143 1zm5 0zm9 0zm2 0zm28 0zm18 0zm63 0zm1 0zm-98 1zm5 0zm11 0zm25 0zm45 0zm-104 1zm22 0zm25 0zm5 0zm14 0zm17 0zm10 0zm23 0zm2 0zm13 0zm3 0zm7 0zm-157 1zm8 0zm4 0zm10 0zm3 0zm2 0zm6 0zm30 0zm12 0zm14 0zm3 0zm37 0zm-131 1zm17 0zm44 0zm28 0zm36 0zm2 0zm40 0zm-156 1zm4 0zm30 0zm2 0zm31 0zm6 0zm14 0zm17 0zm55 0zm-166 1zm8 0zm4 0zm2 0zm1 0zm1 0zm44 0zm4 0zm39 0zm3 0zm-107 1zm10 0zm10 0zm5 0zm2 0zm20 0zm33 0zm4 0zm62 0zm4 0zm1 0zm-153 1zm59 0zm16 0zm42 0zm13 0zm26 0zm29 0zm-181 1zm8 0zm7 0zm9 0zm49 0zm32 0zm1 0zm24 0zm2 0zm-137 1zm20 0zm2 0zm7 0zm2 0zm6 0zm31 0zm10 0zm23 0zm3 0zm2 0zm11 0zm5 0zm2 0zm5 0zm13 0zm6 0zm-159 1zm16 0zm7 0zm6 0zm3 0zm2 0zm11 0zm3 0zm7 0zm25 0zm27 0zm5 0zm20 0zm5 0zm8 0zm12 0zm-137 1zm1 0zm6 0zm1 0zm2 0zm7 0zm17 0zm1 0zm9 0zm31 0zm19 0zm5 0zm-115 1zm10 0zm5 0zm5 0zm5 0zm4 0zm5 0zm4 0zm7 0zm21 0zm25 0zm13 0zm4 0zm12 0zm-105 1zm3 0zm3 0zm7 0zm7 0zm9 0zm10 0zm28 0zm13 0zm12 0zm20 0zm9 0zm23 0zm-144 1zm8 0zm9 0zm1 0zm3 0zm37 0zm26 0zm8 0zm13 0zm53 0zm-163 1zm3 0zm13 0zm6 0zm4 0zm2 0zm13 0zm4 0zm2 0zm28 0zm7 0zm10 0zm11 0zm11 0zm18 0zm15 0zm-147 1zm10 0zm1 0zm3 0zm4 0zm2 0zm6 0zm1 0zm14 0zm4 0zm4 0zm18 0zm28 0zm4 0zm4 0zm10 0zm1 0zm3 0zm8 0zm-135 1zm7 0zm4 0zm2 0zm10 0zm2 0zm2 0zm7 0zm2 0zm2 0zm2 0zm12 0zm22 0zm38 0zm11 0zm18 0zm9 0zm-130 1zm5 0zm4 0zm1 0zm2 0zm3 0zm1 0zm5 0zm9 0zm15 0zm34 0zm16 0zm-110 1zm3 0zm4 0zm2 0zm3 0zm4 0zm6 0zm10 0zm4 0zm2 0zm44 0zm10 0zm3 0zm3 0zm7 0zm53 0zm13 0zm-165 1zm7 0zm1 0zm5 0zm7 0zm8 0zm3 0zm3 0zm25 0zm10 0zm7 0zm2 0zm9 0zm7 0zm13 0zm6 0zm-117 1zm11 0zm11 0zm4 0zm12 0zm1 0zm29 0zm85 0zm-171 1zm14 0zm1 0zm6 0zm1 0zm8 0zm3 0zm6 0zm4 0zm9 0zm2 0zm2 0zm48 0zm24 0zm1 0zm3 0zm12 0zm2 0zm36 0zm1 0zm-175 1zm20 0zm1 0zm9 0zm1 0zm22 0zm19 0zm19 0zm37 0zm33 0zm-150 1zm1 0zm11 0zm2 0zm2 0zm9 0zm29 0zm1 0zm4 0zm5 0zm9 0zm34 0zm29 0zm-127 1zm1 0zm6 0zm1 0zm2 0zm1 0zm1 0zm13 0zm1 0zm4 0zm51 0zm10 0zm5 0zm10 0zm1 0zm10 0zm1 0zm1 0zm30 0zm-160 1zm2 0zm5 0zm3 0zm1 0zm2 0zm2 0zm3 0zm2 0zm1 0zm1 0zm30 0zm5 0zm6 0zm31 0zm3 0zm4 0zm9 0zm16 0zm22 0zm9 0zm2 0zm-166 1zm10 0zm2 0zm8 0zm6 0zm1 0zm5 0zm1 0zm11 0zm2 0zm5 0zm3 0zm14 0zm25 0zm3 0zm4 0zm12 0zm6 0zm17 0zm1 0zm7 0zm-130 1zm2 0zm5 0zm1 0zm2 0zm1 0zm7 0zm1 0zm6 0zm2 0zm3 0zm12 0zm12 0zm44 0zm19 0zm14 0zm11 0zm-142 1zm1 0zm2 0zm1 0zm4 0zm5 0zm1 0zm13 0zm5 0zm25 0zm26 0zm5 0zm2 0zm14 0zm38 0zm-155 1zm6 0zm4 0zm6 0zm5 0zm5 0zm2 0zm7 0zm2 0zm2 0zm5 0zm3 0zm8 0zm25 0zm1 0zm18 0zm7 0zm14 0zm14 0zm8 0zm7 0zm4 0zm-148 1zm2 0zm14 0zm1 0zm2 0zm2 0zm3 0zm2 0zm2 0zm1 0zm9 0zm23 0zm37 0zm17 0zm16 0zm-131 1zm7 0zm6 0zm7 0zm2 0zm2 0zm3 0zm4 0zm1 0zm3 0zm2 0zm1 0zm3 0zm1 0zm1 0zm4 0zm57 0zm7 0zm5 0zm12 0zm11 0zm4 0zm-144 1zm5 0zm4 0zm2 0zm1 0zm4 0zm1 0zm1 0zm3 0zm1 0zm3 0zm5 0zm6 0zm2 0zm1 0zm19 0zm1 0zm31 0zm12 0zm12 0zm18 0zm-134 1zm11 0zm1 0zm1 0zm2 0zm11 0zm1 0zm6 0zm5 0zm27 0zm4 0zm7 0zm28 0zm75 0zm-172 1zm1 0zm1 0zm3 0zm1 0zm1 0zm6 0zm2 0zm2 0zm5 0zm3 0zm2 0zm4 0zm1 0zm6 0zm3 0zm6 0zm23 0zm28 0zm12 0zm26 0zm7 0zm-148 1zm8 0zm2 0zm5 0zm3 0zm3 0zm5 0zm2 0zm8 0zm10 0zm19 0zm5 0zm25 0zm23 0zm17 0zm1 0zm-139 1zm3 0zm2 0zm6 0zm1 0zm12 0zm4 0zm4 0zm6 0zm8 0zm2 0zm1 0zm83 0zm-129 1zm6 0zm6 0zm14 0zm1 0zm5 0zm5 0zm2 0zm8 0zm10 0zm2 0zm16 0zm2 0zm7 0zm1 0zm13 0zm13 0zm32 0zm-145 1zm1 0zm5 0zm4 0zm1 0zm1 0zm5 0zm6 0zm4 0zm3 0zm1 0zm6 0zm3 0zm3 0zm50 0zm9 0zm36 0zm10 0zm10 0zm-161 1zm8 0zm3 0zm1 0zm1 0zm1 0zm1 0zm1 0zm2 0zm9 0zm3 0zm3 0zm5 0zm5 0zm22 0zm25 0zm30 0zm-127 1zm6 0zm5 0zm10 0zm3 0zm1 0zm8 0zm1 0zm9 0zm2 0zm1 0zm3 0zm2 0zm5 0zm14 0zm5 0zm5 0zm14 0zm7 0zm14 0zm52 0zm-175 1zm3 0zm11 0zm10 0zm6 0zm7 0zm15 0zm2 0zm4 0zm20 0zm4 0zm2 0zm2 0zm24 0zm23 0zm18 0zm1 0zm9 0zm-144 1zm5 0zm4 0zm1 0zm1 0zm22 0zm2 0zm3 0zm1 0zm6 0zm29 0zm5 0zm1 0zm8 0zm9 0zm2 0zm25 0zm5 0zm19 0zm-147 1zm2 0zm5 0zm2 0zm2 0zm2 0zm31 0zm29 0zm11 0zm41 0zm10 0zm6 0zm28 0zm-171 1zm1 0zm6 0zm2 0zm30 0zm1 0zm2 0zm79 0zm17 0zm41 0zm-182 1zm4 0zm6 0zm1 0zm2 0zm3 0zm7 0zm17 0zm1 0zm3 0zm22 0zm6 0zm15 0zm22 0zm2 0zm51 0zm-164 1zm17 0zm1 0zm3 0zm18 0zm4 0zm11 0zm25 0zm13 0zm4 0zm40 0zm14 0zm2 0zm-148 1zm7 0zm3 0zm1 0zm1 0zm80 0zm7 0zm38 0zm11 0zm-160 1zm20 0zm10 0zm22 0zm3 0zm1 0zm3 0zm3 0zm28 0zm23 0zm17 0zm-137 1zm26 0zm2 0zm7 0zm1 0zm19 0zm8 0zm19 0zm11 0zm16 0zm36 0zm-127 1zm7 0zm1 0zm1 0zm4 0zm26 0zm2 0zm2 0zm1 0zm28 0zm6 0zm20 0zm10 0zm5 0zm4 0zm17 0zm-127 1zm3 0zm2 0zm2 0zm27 0zm1 0zm9 0zm21 0zm9 0zm13 0zm3 0zm-104 1zm13 0zm33 0zm12 0zm1 0zm18 0zm4 0zm2 0zm1 0zm5 0zm6 0zm5 0zm8 0zm7 0zm-107 1zm13 0zm27 0zm11 0zm30 0zm9 0zm2 0zm5 0zm41 0zm22 0zm5 0zm-156 1zm3 0zm2 0zm25 0zm2 0zm1 0zm5 0zm13 0zm2 0zm9 0zm26 0zm5 0zm1 0zm7 0zm2 0zm6 0zm29 0zm-142 1zm4 0zm1 0zm30 0zm7 0zm7 0zm6 0zm7 0zm11 0zm2 0zm2 0zm10 0zm2 0zm4 0zm5 0zm18 0zm11 0zm4 0zm3 0zm35 0zm-171 1zm3 0zm1 0zm1 0zm2 0zm1 0zm34 0zm1 0zm19 0zm4 0zm1 0zm8 0zm5 0zm4 0zm6 0zm2 0zm4 0zm4 0zm12 0zm15 0zm-142 1zm13 0zm9 0zm32 0zm4 0zm3 0zm13 0zm7 0zm4 0zm1 0zm1 0zm11 0zm19 0zm2 0zm42 0zm-167 1zm11 0zm11 0zm2 0zm3 0zm31 0zm4 0zm11 0zm9 0zm5 0zm5 0zm5 0zm2 0zm3 0zm8 0zm10 0zm10 0zm15 0zm7 0zm-129 1zm1 0zm3 0zm1 0zm33 0zm2 0zm7 0zm1 0zm7 0zm8 0zm14 0zm5 0zm3 0zm1 0zm3 0zm1 0zm1 0zm5 0zm1 0zm3 0zm21 0zm1 0zm-124 1zm3 0zm2 0zm33 0zm1 0zm1 0zm2 0zm1 0zm1 0zm27 0zm3 0zm1 0zm3 0zm15 0zm8 0zm1 0zm5 0zm-106 1zm48 0zm8 0zm1 0zm1 0zm1 0zm1 0zm11 0zm1 0zm5 0zm4 0zm3 0zm1 0zm1 0zm6 0zm1 0zm4 0zm4 0zm2 0zm3 0zm3 0zm-108 1zm2 0zm2 0zm2 0zm29 0zm2 0zm1 0zm6 0zm8 0zm8 0zm3 0zm7 0zm5 0zm4 0zm1 0zm8 0zm1 0zm1 0zm1 0zm1 0zm6 0zm8 0zm-104 1zm2 0zm27 0zm4 0zm7 0zm12 0zm11 0zm2 0zm5 0zm4 0zm2 0zm5 0zm1 0zm3 0zm2 0zm6 0zm1 0zm1 0zm3 0zm38 0zm-137 1zm38 0zm1 0zm5 0zm1 0zm5 0zm9 0zm2 0zm4 0zm4 0zm18 0zm3 0zm2 0zm13 0zm6 0zm1 0zm47 0zm2 0zm-160 1zm32 0zm6 0zm2 0zm2 0zm8 0zm12 0zm5 0zm9 0zm12 0zm1 0zm1 0zm7 0zm7 0zm11 0zm14 0zm-133 1zm3 0zm6 0zm25 0zm6 0zm3 0zm1 0zm8 0zm4 0zm3 0zm2 0zm10 0zm2 0zm4 0zm6 0zm1 0zm1 0zm2 0zm2 0zm6 0zm1 0zm2 0zm1 0zm11 0zm-120 1zm14 0zm3 0zm30 0zm2 0zm2 0zm2 0zm4 0zm10 0zm7 0zm6 0zm1 0zm1 0zm2 0zm3 0zm2 0zm1 0zm1 0zm4 0zm2 0zm3 0zm1 0zm2 0zm7 0zm7 0zm1 0zm-107 1zm1 0zm40 0zm2 0zm16 0zm1 0zm5 0zm2 0zm1 0zm3 0zm6 0zm4 0zm5 0zm2 0zm1 0zm2 0zm1 0zm7 0zm1 0zm2 0zm6 0zm1 0zm5 0zm-117 1zm40 0zm2 0zm1 0zm1 0zm17 0zm8 0zm3 0zm3 0zm3 0zm5 0zm3 0zm1 0zm6 0zm2 0zm3 0zm2 0zm3 0zm5 0zm1 0zm2 0zm1 0zm4 0zm2 0zm49 0zm3 0zm-166 1zm4 0zm34 0zm8 0zm13 0zm9 0zm4 0zm4 0zm1 0zm1 0zm2 0zm1 0zm7 0zm1 0zm1 0zm3 0zm2 0zm5 0zm2 0zm-101 1zm3 0zm31 0zm3 0zm2 0zm3 0zm2 0zm4 0zm10 0zm3 0zm4 0zm8 0zm2 0zm1 0zm1 0zm10 0zm2 0zm3 0zm1 0zm2 0zm1 0zm17 0zm-115 1zm1 0zm2 0zm33 0zm1 0zm11 0zm9 0zm6 0zm1 0zm5 0zm1 0zm1 0zm3 0zm1 0zm8 0zm1 0zm3 0zm6 0zm11 0zm4 0zm2 0zm2 0zm12 0zm-124 1zm2 0zm38 0zm6 0zm17 0zm4 0zm2 0zm2 0zm1 0zm2 0zm3 0zm3 0zm3 0zm3 0zm7 0zm7 0zm5 0zm1 0zm5 0zm-111 1zm38 0zm1 0zm5 0zm2 0zm2 0zm3 0zm9 0zm7 0zm1 0zm1 0zm6 0zm3 0zm1 0zm3 0zm2 0zm1 0zm1 0zm2 0zm5 0zm1 0zm2 0zm7 0zm5 0zm7 0zm1 0zm-115 1zm1 0zm1 0zm1 0zm2 0zm30 0zm15 0zm3 0zm3 0zm4 0zm4 0zm1 0zm5 0zm2 0zm1 0zm4 0zm1 0zm3 0zm7 0zm4 0zm2 0zm2 0zm5 0zm2 0zm2 0zm2 0zm2 0zm-110 1zm3 0zm1 0zm31 0zm7 0zm4 0zm5 0zm10 0zm6 0zm2 0zm1 0zm1 0zm3 0zm3 0zm1 0zm1 0zm16 0zm4 0zm1 0zm2 0zm7 0zm-110 1zm2 0zm39 0zm1 0zm1 0zm3 0zm12 0zm1 0zm5 0zm2 0zm6 0zm8 0zm2 0zm7 0zm4 0zm6 0zm11 0zm1 0zm11 0zm-84 1zm2 0zm10 0zm4 0zm6 0zm3 0zm3 0zm2 0zm4 0zm1 0zm5 0zm9 0zm3 0zm6 0zm1 0zm2 0zm6 0zm1 0zm1 0zm3 0zm4 0zm31 0zm-147 1zm6 0zm1 0zm42 0zm2 0zm12 0zm11 0zm3 0zm5 0zm4 0zm3 0zm4 0zm3 0zm3 0zm4 0zm2 0zm3 0zm25 0zm-132 1zm8 0zm35 0zm2 0zm5 0zm1 0zm5 0zm1 0zm6 0zm2 0zm1 0zm1 0zm3 0zm6 0zm2 0zm1 0zm3 0zm1 0zm1 0zm4 0zm6 0zm6 0zm3 0zm3 0zm2 0zm3 0zm2 0zm-111 1zm40 0zm1 0zm1 0zm5 0zm23 0zm2 0zm2 0zm7 0zm5 0zm2 0zm3 0zm1 0zm2 0zm1 0zm7 0zm4 0zm2 0zm9 0zm-117 1zm38 0zm2 0zm2 0zm4 0zm3 0zm4 0zm12 0zm16 0zm1 0zm5 0zm2 0zm4 0zm3 0zm1 0zm-110 1zm54 0zm1 0zm14 0zm4 0zm3 0zm1 0zm4 0zm4 0zm1 0zm1 0zm3 0zm1 0zm6 0zm2 0zm3 0zm4 0zm1 0zm11 0zm4 0zm-109 1zm5 0zm1 0zm33 0zm1 0zm2 0zm18 0zm5 0zm5 0zm1 0zm1 0zm2 0zm6 0zm2 0zm3 0zm7 0zm4 0zm-97 1zm39 0zm7 0zm20 0zm5 0zm3 0zm5 0zm4 0zm1 0zm1 0zm4 0zm6 0zm3 0zm2 0zm1 0zm13 0zm-112 1zm1 0zm37 0zm1 0zm3 0zm2 0zm2 0zm3 0zm15 0zm1 0zm8 0zm7 0zm2 0zm3 0zm2 0zm1 0zm3 0zm4 0zm6 0zm10 0zm5 0zm12 0zm-128 1zm1 0zm3 0zm60 0zm2 0zm1 0zm14 0zm7 0zm14 0zm-98 1zm1 0zm30 0zm4 0zm4 0zm14 0zm11 0zm14 0zm2 0zm2 0zm4 0zm6 0zm14 0zm10 0zm15 0zm-142 1zm10 0zm33 0zm1 0zm21 0zm13 0zm4 0zm1 0zm3 0zm3 0zm5 0zm4 0zm4 0zm2 0zm3 0zm5 0zm40 0zm-171 1zm29 0zm2 0zm32 0zm1 0zm1 0zm13 0zm17 0zm2 0zm1 0zm1 0zm7 0zm1 0zm3 0zm3 0zm5 0zm5 0zm3 0zm3 0zm-102 1zm1 0zm2 0zm40 0zm18 0zm24 0zm15 0zm4 0zm28 0zm-128 1zm34 0zm2 0zm5 0zm16 0zm1 0zm1 0zm24 0zm1 0zm17 0zm3 0zm-108 1zm3 0zm36 0zm2 0zm4 0zm9 0zm7 0zm1 0zm14 0zm13 0zm2 0zm3 0zm8 0zm-103 1zm36 0zm2 0zm16 0zm10 0zm14 0zm3 0zm11 0zm18 0zm-74 1zm4 0zm15 0zm4 0zm2 0zm4 0zm13 0zm11 0zm5 0zm82 0zm-175 1zm1 0zm3 0zm2 0zm24 0zm3 0zm2 0zm2 0zm1 0zm17 0zm7 0zm5 0zm1 0zm7 0zm21 0zm2 0zm1 0zm-98 1zm3 0zm44 0zm6 0zm13 0zm3 0zm8 0zm1 0zm16 0zm-102 1zm6 0zm30 0zm3 0zm1 0zm32 0zm7 0zm20 0zm10 0zm1 0zm-102 1zm1 0zm1 0zm1 0zm28 0zm1 0zm1 0zm12 0zm20 0zm4 0zm1 0zm4 0zm19 0zm7 0zm-104 1zm5 0zm1 0zm26 0zm2 0zm1 0zm4 0zm2 0zm16 0zm1 0zm-49 1zm21 0zm2 0zm3 0zm2 0zm1 0zm39 0zm-71 1zm1 0zm5 0zm45 0zm3 0zm9 0zm15 0zm-80 1zm1 0zm2 0zm1 0zm24 0zm6 0zm5 0zm36 0zm3 0zm7 0zm-90 1zm12 0zm20 0zm5 0zm24 0zm34 0zm-86 1zm29 0zm4 0zm18 0zm-71 1zm16 0zm1 0zm1 0zm3 0zm5 0zm16 0zm1 0zm3 0zm-24 1zm4 0zm2 0zm1 0zm15 0zm2 0zm1 0zm3 0zm47 0zm26 0zm-104 1zm6 0zm17 0zm1 0zm5 0zm-28 1zm3 0zm3 0zm1 0zm1 0zm1 0zm6 0zm8 0zm6 0zm-30 1zm6 0zm1 0zm5 0zm1 0zm4 0zm3 0zm1 0zm2 0zm3 0zm3 0zm1 0zm7 0zm-29 1zm3 0zm11 0zm1 0zm8 0zm-33 1zm9 0zm8 0zm1 0zm5 0zm7 0z"/>
<path transform="scale(1.25)" stroke-width="1" stroke="#2f56aa" d="M588 525zm0 1zm11 0zm-8 2zm-5 1zm-1 1zm1 0zm4 0zm8 0zm-13 1zm2 0zm1 0zm3 0zm1 0zm3 0zm6 0zm-11 1zm2 0zm-6 1zm5 0zm8 0zm-12 1zm1 0zm2 0zm1 0zm5 0zm-8 1zm2 0zm3 0zm4 0zm5 0zm-17 1zm4 0zm7 0zm3 0zm7 0zm2 0zm-22 1zm4 0zm4 0zm4 0zm4 0zm2 0zm-23 1zm6 0zm2 0zm2 0zm1 0zm2 0zm1 0zm2 0zm5 0zm1 0zm1 0zm4 0zm-28 1zm4 0zm3 0zm2 0zm2 0zm5 0zm1 0zm7 0zm1 0zm-21 1zm1 0zm1 0zm13 0zm1 0zm-17 1zm5 0zm6 0zm6 0zm5 0zm-23 1zm1 0zm1 0zm3 0zm1 0zm4 0zm6 0zm1 0zm3 0zm1 0zm2 0zm1 0zm-19 1zm17 0zm1 0zm1 0zm-20 1zm1 0zm2 0zm13 0zm3 0zm2 0zm3 0zm-33 1zm5 0zm2 0zm2 0zm2 0zm13 0zm3 0zm1 0zm2 0zm-29 1zm4 0zm1 0zm22 0zm1 0zm1 0zm-26 1zm4 0zm17 0zm-27 1zm2 0zm1 0zm7 0zm3 0zm1 0zm1 0zm5 0zm3 0zm7 0zm-19 1zm11 0zm2 0zm1 0zm4 0zm2 0zm-24 1zm3 0zm2 0zm8 0zm10 0zm1 0zm3 0zm-32 1zm4 0zm23 0zm-24 1zm28 0zm-32 1zm3 0zm1 0zm25 0zm2 0zm-26 1zm2 0zm20 0zm1 0zm5 0zm-5 1zm-27 1zm1 0zm4 0zm21 0zm1 0zm-1 1zm4 0zm-27 1zm25 0zm-30 1zm4 0zm29 0zm-32 1zm35 0zm-34 1zm1 0zm1 0zm24 0zm1 0zm3 0zm1 0zm-31 1zm30 0zm-31 1zm4 0zm27 0zm3 0zm42 0zm-76 1zm4 0zm25 0zm-29 1zm30 0zm2 0zm34 0zm-66 1zm2 0zm7 0zm22 0zm2 0zm46 0zm-79 1zm30 0zm1 0zm32 0zm18 0zm-82 1zm1 0zm1 0zm31 0zm1 0zm-36 1zm82 0zm-45 1zm-33 1zm31 0zm-33 1zm1 0zm2 0zm26 0zm-27 1zm33 0zm-32 1zm31 0zm1 0zm1 0zm1 0zm36 0zm-72 1zm1 0zm28 0zm6 0zm-31 1zm31 0zm-3 1zm-1 1zm-27 1zm30 0zm45 0zm3 0zm-82 1zm33 0zm-33 1zm1 0zm29 0zm4 0zm-34 1zm2 0zm29 0zm1 0zm1 0zm-6 1zm-25 1zm1 0zm27 0zm6 0zm-32 1zm24 0zm4 0zm1 0zm-28 1zm22 0zm2 0zm-26 1zm1 0zm26 0zm2 0zm1 0zm-2 1zm4 0zm-33 1zm1 0zm2 0zm25 0zm1 0zm1 0zm-29 1zm25 0zm-23 1zm22 0zm-22 1zm2 0zm9 0zm-11 1zm20 0zm1 0zm3 0zm-25 1zm5 0zm17 0zm-23 1zm4 0zm2 0zm16 0zm-19 1zm18 0zm2 0zm-17 1zm15 0zm1 0zm-18 1zm1 0zm18 0zm-23 1zm4 0zm7 0zm6 0zm1 0zm-13 1zm3 0zm5 0zm7 0zm1 0zm-12 1zm1 0zm3 0zm6 0zm2 0zm-11 1zm1 0zm2 0zm2 0zm4 0zm2 0zm1 0zm-11 1zm2 0zm2 0zm5 0zm-7 1zm4 0zm3 0zm2 0zm-7 1z"/>
<path transform="scale(1.25)" stroke-width="1" stroke="#58b4d4" d="M587 528zm1 0zm-1 2zm0 2zm1 0zm1 0zm-2 1zm3 0zm2 0zm4 0zm1 0zm-10 2zm14 0zm-10 1zm10 0zm-17 1zm4 0zm3 0zm5 0zm-10 1zm7 0zm3 0zm5 0zm-13 1zm4 0zm2 0zm9 0zm4 0zm-15 1zm3 0zm3 0zm3 0zm-17 1zm7 0zm2 0zm5 0zm4 0zm-13 1zm5 0zm1 0zm1 0zm5 0zm-12 1zm3 0zm4 0zm1 0zm5 0zm-9 1zm2 0zm6 0zm2 0zm-5 1zm2 0zm3 0zm-23 1zm9 0zm8 0zm3 0zm-16 1zm7 0zm13 0zm-22 1zm1 0zm3 0zm7 0zm7 0zm9 0zm-19 1zm13 0zm-23 1zm6 0zm2 0zm4 0zm10 0zm-19 1zm6 0zm1 0zm8 0zm1 0zm4 0zm2 0zm-16 1zm15 0zm-16 1zm16 0zm-9 1zm6 0zm6 0zm-27 2zm19 0zm3 0zm-21 1zm7 0zm-10 1zm25 0zm4 0zm-29 1zm27 0zm2 0zm-25 1zm4 0zm17 0zm3 0zm-25 2zm2 0zm-8 2zm4 2zm26 0zm-24 1zm1 0zm-3 1zm27 0zm-1 1zm1 0zm2 0zm1 1zm1 2zm-5 1zm-28 1zm4 0zm22 1zm3 0zm3 0zm-33 1zm28 0zm4 0zm-32 1zm30 0zm-29 1zm1 0zm23 0zm-22 1zm-2 1zm27 0zm2 0zm2 0zm-5 1zm3 1zm-25 1zm23 0zm1 0zm1 0zm1 0zm2 0zm-2 1zm-28 1zm5 1zm22 0zm1 0zm-28 2zm1 2zm27 0zm-7 1zm-16 1zm4 0zm15 0zm-16 1zm13 0zm-10 2zm-9 1zm4 0zm1 0zm8 0zm-10 1zm4 0zm1 0zm8 0zm1 0zm-9 1zm1 0zm-4 1zm3 0zm9 0zm-12 1zm3 0zm4 0zm2 0zm1 0zm1 0zm-11 1zm8 0zm-3 3zm7 0z"/>
<path transform="scale(1.25)" stroke-width="1" stroke="#58be62" d="M589 531zm9 1zm2 2zm-11 1zm3 0zm4 0zm2 1zm-6 1zm5 0zm3 0zm-10 2zm3 0zm2 0zm4 0zm2 0zm1 0zm-9 1zm9 0zm-12 1zm5 0zm2 0zm2 0zm-13 1zm5 0zm2 0zm-3 1zm1 0zm4 0zm3 0zm2 0zm3 0zm-15 1zm3 0zm5 0zm1 0zm2 0zm-18 1zm8 0zm1 0zm1 0zm1 0zm1 0zm2 0zm4 0zm3 0zm-14 1zm2 0zm2 0zm1 0zm1 0zm2 0zm2 0zm1 0zm2 0zm2 0zm-24 1zm7 0zm2 0zm2 0zm3 0zm1 0zm2 0zm1 0zm1 0zm2 0zm-9 1zm3 0zm2 0zm1 0zm4 0zm1 0zm1 0zm-24 1zm8 0zm2 0zm2 0zm2 0zm2 0zm1 0zm2 0zm3 0zm1 0zm3 0zm-21 1zm5 0zm2 0zm3 0zm2 0zm1 0zm2 0zm1 0zm1 0zm3 0zm-22 1zm3 0zm1 0zm6 0zm1 0zm2 0zm1 0zm4 0zm-19 1zm1 0zm3 0zm1 0zm1 0zm1 0zm2 0zm1 0zm3 0zm1 0zm1 0zm1 0zm1 0zm1 0zm2 0zm1 0zm3 0zm-23 1zm1 0zm1 0zm1 0zm2 0zm2 0zm1 0zm2 0zm1 0zm1 0zm2 0zm1 0zm1 0zm2 0zm1 0zm1 0zm1 0zm3 0zm3 0zm-30 1zm5 0zm1 0zm1 0zm1 0zm7 0zm2 0zm2 0zm2 0zm2 0zm-20 1zm1 0zm1 0zm1 0zm1 0zm1 0zm1 0zm3 0zm1 0zm4 0zm1 0zm5 0zm-18 1zm1 0zm1 0zm5 0zm1 0zm1 0zm5 0zm2 0zm5 0zm-25 1zm2 0zm3 0zm1 0zm1 0zm2 0zm1 0zm3 0zm1 0zm4 0zm1 0zm1 0zm1 0zm1 0zm4 0zm-24 1zm3 0zm2 0zm1 0zm3 0zm1 0zm1 0zm2 0zm1 0zm1 0zm2 0zm1 0zm1 0zm1 0zm-20 1zm1 0zm1 0zm2 0zm1 0zm2 0zm1 0zm5 0zm2 0zm2 0zm1 0zm1 0zm1 0zm2 0zm-21 1zm1 0zm1 0zm2 0zm1 0zm6 0zm1 0zm2 0zm3 0zm1 0zm1 0zm-21 1zm1 0zm1 0zm3 0zm1 0zm1 0zm1 0zm2 0zm1 0zm3 0zm5 0zm1 0zm1 0zm-26 1zm8 0zm1 0zm1 0zm1 0zm3 0zm1 0zm3 0zm5 0zm1 0zm1 0zm1 0zm-25 1zm5 0zm1 0zm1 0zm3 0zm1 0zm2 0zm9 0zm2 0zm1 0zm1 0zm-26 1zm2 0zm3 0zm1 0zm1 0zm3 0zm2 0zm2 0zm2 0zm3 0zm6 0zm2 0zm-25 1zm2 0zm1 0zm1 0zm2 0zm1 0zm3 0zm7 0zm3 0zm3 0zm1 0zm-23 1zm2 0zm1 0zm1 0zm14 0zm3 0zm2 0zm1 0zm2 0zm-28 1zm1 0zm1 0zm4 0zm1 0zm3 0zm4 0zm5 0zm2 0zm4 0zm1 0zm1 0zm-23 1zm1 0zm1 0zm10 0zm2 0zm2 0zm2 0zm1 0zm1 0zm2 0zm1 0zm-28 1zm2 0zm2 0zm20 0zm1 0zm1 0zm1 0zm-27 1zm2 0zm1 0zm1 0zm1 0zm2 0zm3 0zm12 0zm4 0zm1 0zm1 0zm-27 1zm1 0zm1 0zm1 0zm1 0zm2 0zm13 0zm5 0zm2 0zm1 0zm-26 1zm1 0zm18 0zm2 0zm3 0zm2 0zm1 0zm-26 1zm1 0zm1 0zm1 0zm1 0zm14 0zm4 0zm1 0zm1 0zm2 0zm1 0zm1 0zm-29 1zm1 0zm2 0zm1 0zm22 0zm1 0zm-27 1zm1 0zm1 0zm1 0zm22 0zm3 0zm-29 1zm3 0zm18 0zm2 0zm1 0zm3 0zm-27 1zm2 0zm7 0zm2 0zm12 0zm2 0zm1 0zm1 0zm2 0zm2 0zm-33 1zm4 0zm1 0zm1 0zm1 0zm16 0zm1 0zm3 0zm2 0zm-24 1zm1 0zm1 0zm17 0zm3 0zm1 0zm1 0zm2 0zm-28 1zm1 0zm1 0zm1 0zm1 0zm17 0zm3 0zm2 0zm-25 1zm1 0zm1 0zm4 0zm14 0zm4 0zm1 0zm2 0zm-26 1zm11 0zm10 0zm1 0zm2 0zm-26 1zm3 0zm2 0zm18 0zm-21 1zm1 0zm3 0zm15 0zm2 0zm1 0zm1 0zm1 0zm-24 1zm5 0zm2 0zm15 0zm2 0zm2 0zm-25 1zm1 0zm3 0zm11 0zm3 0zm4 0zm4 0zm-26 1zm1 0zm1 0zm3 0zm14 0zm3 0zm1 0zm-24 1zm1 0zm1 0zm1 0zm1 0zm3 0zm3 0zm8 0zm1 0zm1 0zm1 0zm1 0zm1 0zm1 0zm-23 1zm2 0zm1 0zm1 0zm1 0zm2 0zm1 0zm2 0zm6 0zm4 0zm1 0zm-21 1zm4 0zm1 0zm1 0zm5 0zm5 0zm1 0zm2 0zm1 0zm1 0zm-21 1zm3 0zm1 0zm2 0zm3 0zm3 0zm1 0zm2 0zm4 0zm-21 1zm2 0zm3 0zm1 0zm1 0zm2 0zm6 0zm2 0zm2 0zm1 0zm2 0zm-22 1zm2 0zm2 0zm1 0zm1 0zm5 0zm1 0zm1 0zm4 0zm2 0zm-18 1zm1 0zm4 0zm2 0zm4 0zm1 0zm1 0zm1 0zm2 0zm1 0zm2 0zm1 0zm-17 1zm2 0zm1 0zm1 0zm1 0zm2 0zm1 0zm2 0zm1 0zm1 0zm1 0zm1 0zm4 0zm-18 1zm3 0zm1 0zm1 0zm1 0zm1 0zm1 0zm1 0zm3 0zm3 0zm-13 1zm4 0zm2 0zm1 0zm1 0zm1 0zm1 0zm3 0zm-13 1zm1 0zm4 0zm1 0zm1 0zm1 0zm2 0zm1 0zm2 0zm2 0zm-17 1zm3 0zm1 0zm3 0zm3 0zm1 0zm-10 1zm5 0zm8 0zm-8 1zm1 0zm5 0zm-1 1zm-2 1z"/>
<path transform="scale(1.25)" stroke-width="1" stroke="#a0d23c" d="M592 548zm-8 4zm2 1zm5 0zm-1 1zm1 0zm1 0zm1 0zm-4 1zm1 0zm4 0zm1 0zm-8 1zm2 0zm5 0zm3 0zm-14 1zm1 0zm11 0zm1 0zm-12 1zm5 0zm5 0zm4 0zm-13 1zm3 0zm5 0zm5 0zm-17 1zm9 0zm1 0zm1 0zm4 0zm2 0zm1 0zm-15 1zm1 0zm8 0zm1 0zm2 0zm2 0zm-10 1zm7 0zm-9 1zm5 0zm1 0zm1 0zm1 0zm2 0zm2 0zm-13 1zm1 0zm4 0zm5 0zm6 0zm2 0zm-19 1zm3 0zm1 0zm5 0zm5 0zm2 0zm-14 1zm1 0zm1 0zm1 0zm1 0zm2 0zm1 0zm3 0zm3 0zm1 0zm-13 1zm6 0zm5 0zm-13 1zm1 0zm3 0zm10 0zm-17 1zm1 0zm3 0zm1 0zm3 0zm1 0zm1 0zm1 0zm2 0zm2 0zm1 0zm2 0zm-14 1zm2 0zm6 0zm8 0zm-16 1zm4 0zm1 0zm2 0zm1 0zm5 0zm1 0zm1 0zm2 0zm3 0zm-25 1zm1 0zm2 0zm1 0zm8 0zm4 0zm4 0zm-10 1zm1 0zm9 0zm-17 1zm15 0zm3 0zm-6 1zm1 0zm1 0zm2 0zm1 0zm1 0zm-19 1zm1 0zm3 0zm4 0zm1 0zm5 0zm3 0zm-18 1zm1 0zm11 0zm4 0zm-5 1zm9 0zm-18 1zm1 0zm16 0zm1 0zm-18 1zm13 0zm1 0zm1 0zm-16 1zm1 0zm1 0zm14 0zm2 0zm1 0zm-22 1zm2 0zm4 0zm15 0zm-21 1zm3 0zm2 0zm1 0zm1 0zm10 0zm1 0zm2 0zm1 0zm-18 1zm6 0zm2 0zm2 0zm4 0zm1 0zm3 0zm-17 1zm3 0zm3 0zm3 0zm3 0zm2 0zm2 0zm1 0zm-16 1zm2 0zm3 0zm5 0zm1 0zm5 0zm1 0zm-17 1zm1 0zm4 0zm5 0zm2 0zm1 0zm1 0zm1 0zm-14 1zm3 0zm4 0zm2 0zm-12 1zm8 0zm3 0zm1 0zm1 0zm3 0zm1 0zm-16 1zm1 0zm4 0zm5 0zm2 0zm1 0zm-5 1zm1 0zm6 0zm-9 1zm1 0zm2 0zm-5 1zm1 0zm1 0zm4 0zm2 0zm-7 1zm2 3zm3 3z"/>
<path transform="scale(1.25)" stroke-width="1" stroke="#f0e030" d="M594 551zm-1 4zm2 1zm1 0zm-4 1zm0 2zm2 0zm-1 1zm-1 2zm-7 1zm4 0zm6 0zm2 0zm3 0zm-8 1zm2 0zm4 0zm-8 1zm1 0zm1 0zm5 0zm-3 1zm1 0zm-6 1zm1 0zm4 0zm1 0zm5 0zm1 0zm-14 1zm6 0zm-9 1zm1 0zm4 0zm7 0zm3 0zm-14 1zm7 0zm1 0zm4 0zm4 0zm-18 1zm12 0zm3 0zm-15 1zm3 0zm2 0zm7 0zm4 0zm-13 1zm10 0zm3 0zm1 0zm-15 1zm1 0zm5 0zm2 0zm1 0zm7 0zm-16 1zm1 0zm1 0zm2 0zm5 0zm5 0zm-17 1zm3 0zm4 0zm4 0zm-9 1zm1 0zm6 0zm8 0zm-15 1zm1 0zm5 0zm4 0zm1 0zm2 0zm1 0zm-7 1zm3 0zm1 0zm-4 1zm4 0zm1 0zm5 0zm-14 1zm8 0zm2 0zm1 0zm-14 1zm1 0zm11 0zm1 0zm1 0zm1 0zm1 0zm-12 1zm1 0zm2 0zm5 0zm-10 1zm1 0zm1 0zm6 0zm2 0zm3 0zm-17 1zm1 0zm12 0zm-7 1zm1 0zm9 0zm-6 1zm2 0zm-4 1zm2 0zm2 0zm-6 1zm5 0zm-3 1zm1 0zm1 0zm3 0zm-8 1zm2 0zm1 0zm6 1zm-1 1zm-5 1zm7 2z"/>
<path transform="scale(1.25)" stroke-width="1" stroke="#f4a020" d="M596 559zm1 2zm2 0zm-2 3zm-6 2zm11 0zm-16 1zm5 0zm-3 1zm3 0zm-3 1zm6 0zm-4 1zm1 0zm4 0zm3 0zm2 0zm-15 1zm2 0zm9 0zm-5 1zm3 0zm-9 1zm2 0zm2 0zm1 0zm5 0zm2 0zm-10 1zm1 0zm8 0zm-13 1zm1 0zm4 0zm5 0zm-7 1zm8 0zm2 0zm2 0zm-8 1zm2 0zm4 0zm4 0zm-14 1zm2 0zm3 0zm-5 1zm1 0zm1 0zm1 0zm4 0zm4 0zm2 0zm-13 1zm3 0zm3 0zm2 0zm-6 1zm2 0zm1 0zm2 0zm3 0zm-9 1zm1 0zm1 0zm4 0zm1 0zm-4 1zm2 0zm2 0zm1 0zm4 0zm-15 1zm6 0zm5 0zm-10 1zm4 0zm5 0zm3 0zm2 0zm-8 1zm1 0zm1 0zm1 0zm5 0zm-11 1zm8 0zm-9 1zm9 0zm2 0zm-1 1z"/>
<path transform="scale(1.25)" stroke-width="1" stroke="#ee5a20" d="M591 557zm6 5zm-9 2zm6 1zm3 1zm-1 1zm-4 1zm3 0zm-6 2zm7 0zm-8 1zm4 0zm-5 1zm3 0zm6 0zm-8 1zm5 0zm1 0zm-5 1zm1 0zm2 0zm3 0zm2 0zm-6 1zm1 0zm-4 1zm2 0zm5 0zm-9 1zm2 0zm5 0zm4 0zm-10 1zm2 0zm3 0zm4 0zm-4 1zm-7 1zm5 0zm2 1zm-2 1zm1 0zm4 0zm-2 1zm-1 1zm-1 1zm1 0zm-3 2zm2 0zm2 0zm1 5zm-3 2z"/>
<path transform="scale(1.25)" stroke-width="1" stroke="#e0201c" d="M590 568zm7 0zm-8 3zm0 1zm3 0zm-2 3zm5 0zm0 2zm-5 2zm6 0zm2 0zm-11 1zm1 0zm5 0zm-4 1zm5 0z"/>
</g>
<rect x="671.2" y="459.5" width="302.8" height="302" fill="none" stroke="#111" stroke-width="1.3"/>
<rect x="826.2" y="483.4" width="123.6" height="137.4" fill="none" stroke="#222" stroke-width="1.4"/>
<path d="M949.4 483.4L949.4 620.8" stroke="#222" stroke-width="2.2" />
<text x="696" y="554.8" font-size="42.5" font-family="'DejaVu Sans','Liberation Sans',sans-serif" textLength="91" lengthAdjust="spacingAndGlyphs">8.75</text>
<path d="M671.2 459.5L671.2 761.5" stroke="#111" stroke-width="2.2" />
<path d="M671.2 761.5L974 761.5" stroke="#111" stroke-width="2.2" />
<path d="M689.4 761.5V770M739.5 761.5V770M789.4 761.5V770M871.6 761.5V770M943.5 761.5V770M662.7 490.5H671.2M662.7 562.9H671.2M662.7 644.7H671.2M662.7 694.1H671.2M662.7 744.4H671.2" stroke="#111" stroke-width="2.4" fill="none"/>
<path d="M814.1 761.5V766M828.6 761.5V766M838.9 761.5V766M846.9 761.5V766M853.4 761.5V766M858.9 761.5V766M863.6 761.5V766M867.8 761.5V766M893.2 761.5V766M905.9 761.5V766M914.9 761.5V766M921.9 761.5V766M927.5 761.5V766M932.4 761.5V766M936.5 761.5V766M940.2 761.5V766M965.1 761.5V766M744.5 761.5V766M734.5 761.5V766M749.5 761.5V766M729.5 761.5V766M754.5 761.5V766M724.5 761.5V766M759.5 761.5V766M719.5 761.5V766M764.5 761.5V766M714.5 761.5V766M769.4 761.5V766M709.4 761.5V766M774.4 761.5V766M704.4 761.5V766M779.4 761.5V766M699.4 761.5V766M784.4 761.5V766M694.4 761.5V766M683.4 761.5V766M666.7 620.1H671.2M666.7 605.7H671.2M666.7 595.5H671.2M666.7 587.5H671.2M666.7 581H671.2M666.7 575.6H671.2M666.7 570.8H671.2M666.7 566.6H671.2M666.7 541.1H671.2M666.7 528.4H671.2M666.7 519.3H671.2M666.7 512.3H671.2M666.7 506.6H671.2M666.7 501.7H671.2M666.7 497.5H671.2M666.7 493.8H671.2M666.7 468.7H671.2M666.7 689.2H671.2M666.7 699.1H671.2M666.7 684.2H671.2M666.7 704.2H671.2M666.7 679.3H671.2M666.7 709.2H671.2M666.7 674.3H671.2M666.7 714.2H671.2M666.7 669.4H671.2M666.7 719.2H671.2M666.7 664.5H671.2M666.7 724.3H671.2M666.7 659.5H671.2M666.7 729.3H671.2M666.7 654.6H671.2M666.7 734.3H671.2M666.7 649.6H671.2M666.7 739.4H671.2" stroke="#111" stroke-width="1.2" fill="none"/>
<path d="M734 761.5v7M737.3 761.5v5M740.5 761.5v8M744 761.5v5.5" stroke="#000" stroke-width="3.2" fill="none"/>
<path d="M671.2 689.1h-7M671.2 692.3h-5M671.2 695.6h-8.5M671.2 699.1h-6" stroke="#000" stroke-width="3.2" fill="none"/>
<text x="684.9" y="786.2" font-size="10.4" font-family="'DejaVu Sans','Liberation Sans',sans-serif" fill="#111" letter-spacing="-0.4">–10<tspan font-size="11.6" dy="-6" dx="0.8">3</tspan></text>
<text x="742" y="786.2" font-size="10.4" font-family="'DejaVu Sans','Liberation Sans',sans-serif" fill="#111">0</text>
<text x="788.9" y="786.2" font-size="10.4" font-family="'DejaVu Sans','Liberation Sans',sans-serif" fill="#111" letter-spacing="-0.4">10<tspan font-size="11.6" dy="-6" dx="0.8">3</tspan></text>
<text x="871.1" y="786.2" font-size="10.4" font-family="'DejaVu Sans','Liberation Sans',sans-serif" fill="#111" letter-spacing="-0.4">10<tspan font-size="11.6" dy="-6" dx="0.8">4</tspan></text>
<text x="943" y="786.2" font-size="10.4" font-family="'DejaVu Sans','Liberation Sans',sans-serif" fill="#111" letter-spacing="-0.4">10<tspan font-size="11.6" dy="-6" dx="0.8">5</tspan></text>
<text x="656.7" y="496.5" font-size="10.4" text-anchor="end" font-family="'DejaVu Sans','Liberation Sans',sans-serif" fill="#111" letter-spacing="-0.4">10<tspan font-size="11.6" dy="-6" dx="0.8">5</tspan></text>
<text x="656.7" y="568.9" font-size="10.4" text-anchor="end" font-family="'DejaVu Sans','Liberation Sans',sans-serif" fill="#111" letter-spacing="-0.4">10<tspan font-size="11.6" dy="-6" dx="0.8">4</tspan></text>
<text x="656.7" y="650.7" font-size="10.4" text-anchor="end" font-family="'DejaVu Sans','Liberation Sans',sans-serif" fill="#111" letter-spacing="-0.4">10<tspan font-size="11.6" dy="-6" dx="0.8">3</tspan></text>
<text x="649.2" y="697.8" font-size="10.4" text-anchor="end" font-family="'DejaVu Sans','Liberation Sans',sans-serif" fill="#111">0</text>
<text x="656.7" y="750.9" font-size="10.4" text-anchor="end" font-family="'DejaVu Sans','Liberation Sans',sans-serif" fill="#111" letter-spacing="-0.4">–10<tspan font-size="11.6" dy="-6" dx="0.8">3</tspan></text>
<g fill="none" stroke-linecap="square" stroke-width="1.2">
<path transform="scale(1.25)" stroke-width="1" stroke="#283e9c" d="M967 377zm3 0zm1 0zm-4 1zm-11 1zm6 0zm9 0zm-15 1zm4 0zm10 0zm-4 1zm-17 1zm6 0zm11 0zm1 0zm-1 1zm-14 1zm30 0zm-34 1zm13 0zm2 0zm-16 1zm2 0zm6 0zm1 0zm1 0zm7 0zm12 0zm5 0zm-34 1zm10 0zm13 0zm-22 1zm10 0zm3 0zm7 0zm-24 1zm18 0zm1 0zm3 0zm-12 1zm3 0zm5 0zm-11 1zm4 0zm5 0zm1 0zm14 0zm4 0zm6 0zm-38 1zm1 0zm4 0zm3 0zm2 0zm2 0zm7 0zm8 0zm2 0zm16 0zm-41 1zm1 0zm1 0zm1 0zm10 0zm12 0zm1 0zm-22 1zm6 0zm5 0zm-32 1zm8 0zm2 0zm5 0zm2 0zm7 0zm4 0zm1 0zm7 0zm3 0zm13 0zm-50 1zm11 0zm4 0zm1 0zm8 0zm5 0zm6 0zm1 0zm1 0zm7 0zm-43 1zm8 0zm2 0zm3 0zm10 0zm6 0zm2 0zm3 0zm2 0zm6 0zm-29 1zm11 0zm4 0zm9 0zm5 0zm1 0zm-22 1zm1 0zm5 0zm5 0zm7 0zm3 0zm2 0zm2 0zm9 0zm-54 1zm3 0zm7 0zm2 0zm7 0zm1 0zm12 0zm3 0zm3 0zm-40 1zm1 0zm9 0zm2 0zm5 0zm5 0zm3 0zm1 0zm2 0zm9 0zm3 0zm1 0zm3 0zm5 0zm1 0zm-53 1zm4 0zm10 0zm7 0zm3 0zm2 0zm5 0zm2 0zm1 0zm1 0zm5 0zm2 0zm2 0zm1 0zm-36 1zm1 0zm1 0zm1 0zm2 0zm2 0zm4 0zm6 0zm5 0zm7 0zm1 0zm2 0zm2 0zm3 0zm1 0zm2 0zm6 0zm-39 1zm2 0zm5 0zm1 0zm2 0zm3 0zm1 0zm1 0zm3 0zm2 0zm7 0zm6 0zm-44 1zm7 0zm1 0zm4 0zm1 0zm1 0zm2 0zm2 0zm1 0zm1 0zm3 0zm2 0zm1 0zm1 0zm7 0zm1 0zm2 0zm2 0zm4 0zm3 0zm8 0zm-61 1zm4 0zm5 0zm3 0zm5 0zm2 0zm6 0zm4 0zm8 0zm3 0zm2 0zm13 0zm5 0zm-94 1zm52 0zm2 0zm3 0zm4 0zm3 0zm1 0zm4 0zm3 0zm14 0zm4 0zm-57 1zm7 0zm2 0zm2 0zm1 0zm3 0zm1 0zm4 0zm1 0zm2 0zm4 0zm4 0zm2 0zm6 0zm2 0zm2 0zm1 0zm7 0zm1 0zm10 0zm4 0zm-59 1zm2 0zm6 0zm1 0zm1 0zm1 0zm2 0zm1 0zm3 0zm8 0zm1 0zm3 0zm2 0zm4 0zm2 0zm3 0zm4 0zm4 0zm3 0zm4 0zm1 0zm-58 1zm6 0zm1 0zm2 0zm1 0zm2 0zm3 0zm1 0zm4 0zm2 0zm1 0zm5 0zm3 0zm1 0zm6 0zm2 0zm2 0zm1 0zm7 0zm2 0zm4 0zm-63 1zm12 0zm2 0zm1 0zm4 0zm11 0zm1 0zm1 0zm4 0zm3 0zm1 0zm3 0zm2 0zm4 0zm7 0zm2 0zm9 0zm2 0zm-61 1zm2 0zm5 0zm4 0zm8 0zm1 0zm8 0zm10 0zm1 0zm1 0zm1 0zm2 0zm8 0zm-60 1zm1 0zm1 0zm8 0zm1 0zm3 0zm3 0zm1 0zm3 0zm1 0zm3 0zm2 0zm2 0zm2 0zm2 0zm1 0zm6 0zm7 0zm4 0zm11 0zm1 0zm5 0zm-63 1zm14 0zm5 0zm2 0zm4 0zm13 0zm3 0zm1 0zm2 0zm1 0zm3 0zm7 0zm3 0zm1 0zm3 0zm2 0zm-94 1zm32 0zm6 0zm4 0zm6 0zm1 0zm1 0zm1 0zm3 0zm19 0zm1 0zm14 0zm1 0zm2 0zm-140 1zm85 0zm7 0zm1 0zm4 0zm1 0zm2 0zm4 0zm4 0zm5 0zm4 0zm3 0zm3 0zm3 0zm1 0zm2 0zm3 0zm13 0zm-71 1zm4 0zm6 0zm3 0zm5 0zm3 0zm23 0zm2 0zm2 0zm1 0zm1 0zm1 0zm4 0zm10 0zm-64 1zm9 0zm6 0zm5 0zm1 0zm3 0zm10 0zm2 0zm8 0zm2 0zm4 0zm1 0zm2 0zm2 0zm1 0zm-45 1zm5 0zm3 0zm1 0zm1 0zm8 0zm16 0zm2 0zm3 0zm4 0zm7 0zm2 0zm1 0zm-66 1zm2 0zm18 0zm1 0zm12 0zm14 0zm1 0zm2 0zm1 0zm4 0zm-51 1zm6 0zm1 0zm9 0zm1 0zm7 0zm1 0zm20 0zm4 0zm3 0zm7 0zm2 0zm1 0zm-60 1zm7 0zm4 0zm5 0zm1 0zm1 0zm10 0zm19 0zm2 0zm1 0zm7 0zm2 0zm9 0zm-73 1zm5 0zm8 0zm1 0zm3 0zm4 0zm1 0zm1 0zm3 0zm3 0zm14 0zm5 0zm9 0zm3 0zm-51 1zm7 0zm2 0zm3 0zm1 0zm1 0zm22 0zm2 0zm1 0zm2 0zm2 0zm1 0zm10 0zm3 0zm5 0zm-72 1zm16 0zm4 0zm2 0zm3 0zm24 0zm5 0zm2 0zm4 0zm10 0zm-71 1zm11 0zm3 0zm1 0zm1 0zm1 0zm5 0zm31 0zm2 0zm1 0zm7 0zm1 0zm7 0zm5 0zm-69 1zm4 0zm3 0zm6 0zm29 0zm6 0zm2 0zm1 0zm3 0zm2 0zm5 0zm1 0zm1 0zm-59 1zm6 0zm5 0zm27 0zm3 0zm3 0zm1 0zm1 0zm2 0zm2 0zm2 0zm5 0zm4 0zm-87 1zm25 0zm5 0zm3 0zm1 0zm2 0zm31 0zm1 0zm1 0zm1 0zm4 0zm-136 1zm81 0zm1 0zm8 0zm1 0zm1 0zm2 0zm3 0zm1 0zm3 0zm30 0zm1 0zm8 0zm1 0zm4 0zm-88 1zm31 0zm4 0zm2 0zm4 0zm1 0zm1 0zm28 0zm2 0zm2 0zm1 0zm2 0zm1 0zm2 0zm4 0zm6 0zm1 0zm-174 1zm94 0zm16 0zm5 0zm1 0zm1 0zm1 0zm1 0zm3 0zm26 0zm1 0zm2 0zm6 0zm4 0zm2 0zm1 0zm4 0zm5 0zm-90 1zm20 0zm14 0zm3 0zm2 0zm8 0zm26 0zm5 0zm2 0zm2 0zm-95 1zm40 0zm2 0zm3 0zm3 0zm4 0zm1 0zm1 0zm34 0zm6 0zm7 0zm5 0zm-132 1zm36 0zm33 0zm6 0zm1 0zm1 0zm2 0zm32 0zm2 0zm2 0zm20 0zm2 0zm-86 1zm15 0zm11 0zm2 0zm2 0zm32 0zm2 0zm1 0zm3 0zm4 0zm-55 1zm2 0zm6 0zm1 0zm4 0zm33 0zm2 0zm5 0zm2 0zm2 0zm11 0zm-70 1zm2 0zm6 0zm6 0zm28 0zm2 0zm4 0zm2 0zm2 0zm-46 1zm1 0zm4 0zm2 0zm33 0zm1 0zm1 0zm4 0zm2 0zm5 0zm3 0zm1 0zm2 0zm5 0zm-80 1zm17 0zm2 0zm1 0zm2 0zm1 0zm4 0zm28 0zm2 0zm1 0zm2 0zm1 0zm1 0zm15 0zm-161 1zm24 0zm17 0zm43 0zm10 0zm6 0zm3 0zm3 0zm33 0zm10 0zm5 0zm3 0zm-69 1zm12 0zm3 0zm44 0zm15 0zm8 0zm-89 1zm8 0zm2 0zm4 0zm4 0zm2 0zm1 0zm3 0zm1 0zm35 0zm1 0zm3 0zm2 0zm3 0zm1 0zm3 0zm-93 1zm31 0zm6 0zm3 0zm1 0zm39 0zm3 0zm2 0zm3 0zm6 0zm1 0zm-66 1zm11 0zm1 0zm3 0zm32 0zm1 0zm1 0zm1 0zm1 0zm3 0zm1 0zm5 0zm1 0zm7 0zm1 0zm3 0zm1 0zm2 0zm-140 1zm31 0zm22 0zm7 0zm1 0zm4 0zm2 0zm3 0zm1 0zm1 0zm2 0zm1 0zm2 0zm1 0zm3 0zm1 0zm36 0zm1 0zm8 0zm1 0zm-130 1zm13 0zm35 0zm23 0zm7 0zm6 0zm29 0zm4 0zm4 0zm3 0zm2 0zm3 0zm11 0zm1 0zm-134 1zm60 0zm3 0zm3 0zm1 0zm5 0zm1 0zm3 0zm3 0zm29 0zm4 0zm3 0zm2 0zm2 0zm1 0zm5 0zm1 0zm-117 1zm60 0zm1 0zm2 0zm7 0zm27 0zm3 0zm2 0zm1 0zm12 0zm1 0zm3 0zm-60 1zm1 0zm3 0zm3 0zm3 0zm1 0zm11 0zm17 0zm3 0zm1 0zm3 0zm3 0zm1 0zm3 0zm5 0zm1 0zm-140 1zm20 0zm5 0zm40 0zm7 0zm6 0zm7 0zm2 0zm2 0zm1 0zm1 0zm31 0zm1 0zm2 0zm3 0zm1 0zm2 0zm2 0zm3 0zm1 0zm8 0zm-147 1zm71 0zm3 0zm11 0zm3 0zm1 0zm35 0zm2 0zm1 0zm14 0zm28 0zm-92 1zm3 0zm2 0zm2 0zm1 0zm1 0zm1 0zm1 0zm1 0zm3 0zm34 0zm1 0zm3 0zm1 0zm3 0zm13 0zm-99 1zm23 0zm9 0zm2 0zm1 0zm5 0zm2 0zm34 0zm2 0zm2 0zm2 0zm2 0zm3 0zm1 0zm8 0zm-116 1zm32 0zm14 0zm1 0zm5 0zm4 0zm2 0zm2 0zm3 0zm1 0zm25 0zm18 0zm1 0zm1 0zm-80 1zm23 0zm2 0zm4 0zm2 0zm4 0zm2 0zm36 0zm4 0zm4 0zm2 0zm1 0zm-150 1zm33 0zm54 0zm6 0zm4 0zm1 0zm2 0zm1 0zm31 0zm2 0zm8 0zm1 0zm-112 1zm58 0zm1 0zm2 0zm8 0zm32 0zm4 0zm1 0zm1 0zm1 0zm2 0zm1 0zm4 0zm1 0zm2 0zm-142 1zm28 0zm42 0zm12 0zm4 0zm2 0zm1 0zm2 0zm5 0zm28 0zm5 0zm1 0zm2 0zm4 0zm1 0zm1 0zm3 0zm2 0zm6 0zm-179 1zm3 0zm64 0zm27 0zm8 0zm7 0zm2 0zm2 0zm4 0zm1 0zm1 0zm1 0zm3 0zm33 0zm2 0zm3 0zm1 0zm9 0zm10 0zm-140 1zm34 0zm30 0zm5 0zm1 0zm48 0zm1 0zm2 0zm1 0zm6 0zm-110 1zm44 0zm4 0zm4 0zm5 0zm2 0zm5 0zm5 0zm7 0zm26 0zm3 0zm2 0zm3 0zm4 0zm-120 1zm5 0zm18 0zm35 0zm4 0zm5 0zm2 0zm2 0zm5 0zm3 0zm21 0zm6 0zm1 0zm4 0zm1 0zm1 0zm2 0zm10 0zm4 0zm-157 1zm79 0zm1 0zm4 0zm5 0zm6 0zm6 0zm26 0zm4 0zm1 0zm3 0zm3 0zm1 0zm6 0zm8 0zm-86 1zm4 0zm15 0zm6 0zm1 0zm2 0zm1 0zm4 0zm31 0zm5 0zm1 0zm2 0zm2 0zm2 0zm3 0zm10 0zm-113 1zm1 0zm36 0zm1 0zm1 0zm4 0zm7 0zm3 0zm1 0zm8 0zm26 0zm4 0zm3 0zm1 0zm3 0zm1 0zm13 0zm-92 1zm19 0zm4 0zm6 0zm5 0zm2 0zm20 0zm13 0zm1 0zm3 0zm1 0zm18 0zm-178 1zm53 0zm54 0zm1 0zm4 0zm2 0zm1 0zm2 0zm5 0zm1 0zm30 0zm3 0zm3 0zm2 0zm3 0zm1 0zm4 0zm5 0zm-68 1zm1 0zm4 0zm5 0zm1 0zm1 0zm2 0zm3 0zm1 0zm4 0zm24 0zm1 0zm1 0zm3 0zm-58 1zm15 0zm4 0zm1 0zm1 0zm11 0zm1 0zm14 0zm4 0zm4 0zm3 0zm1 0zm2 0zm1 0zm1 0zm3 0zm1 0zm6 0zm7 0zm-135 1zm44 0zm16 0zm10 0zm2 0zm1 0zm4 0zm1 0zm16 0zm13 0zm1 0zm1 0zm5 0zm2 0zm1 0zm3 0zm9 0zm-124 1zm2 0zm21 0zm5 0zm27 0zm4 0zm1 0zm1 0zm2 0zm2 0zm2 0zm1 0zm1 0zm3 0zm12 0zm16 0zm4 0zm3 0zm3 0zm1 0zm7 0zm1 0zm1 0zm2 0zm-129 1zm9 0zm43 0zm4 0zm6 0zm1 0zm11 0zm1 0zm1 0zm1 0zm9 0zm8 0zm16 0zm2 0zm1 0zm1 0zm2 0zm2 0zm4 0zm6 0zm4 0zm-173 1zm53 0zm30 0zm16 0zm3 0zm3 0zm2 0zm1 0zm1 0zm3 0zm1 0zm5 0zm4 0zm26 0zm4 0zm5 0zm-150 1zm38 0zm17 0zm5 0zm32 0zm14 0zm6 0zm2 0zm26 0zm2 0zm2 0zm3 0zm17 0zm4 0zm2 0zm-139 1zm4 0zm12 0zm5 0zm8 0zm14 0zm2 0zm21 0zm5 0zm1 0zm1 0zm4 0zm1 0zm3 0zm1 0zm3 0zm10 0zm3 0zm3 0zm8 0zm4 0zm10 0zm5 0zm2 0zm-112 1zm2 0zm20 0zm2 0zm11 0zm8 0zm9 0zm1 0zm8 0zm4 0zm4 0zm1 0zm13 0zm2 0zm1 0zm9 0zm4 0zm5 0zm6 0zm5 0zm1 0zm5 0zm-149 1zm22 0zm2 0zm16 0zm24 0zm6 0zm3 0zm6 0zm1 0zm9 0zm11 0zm9 0zm9 0zm3 0zm1 0zm1 0zm2 0zm2 0zm3 0zm1 0zm3 0zm3 0zm6 0zm-164 1zm5 0zm8 0zm5 0zm28 0zm14 0zm1 0zm1 0zm26 0zm2 0zm3 0zm8 0zm4 0zm2 0zm3 0zm2 0zm2 0zm2 0zm6 0zm3 0zm1 0zm16 0zm5 0zm2 0zm2 0zm1 0zm1 0zm7 0zm-146 1zm14 0zm44 0zm17 0zm7 0zm4 0zm1 0zm1 0zm1 0zm3 0zm4 0zm1 0zm2 0zm1 0zm1 0zm1 0zm4 0zm3 0zm8 0zm9 0zm1 0zm3 0zm2 0zm1 0zm5 0zm2 0zm3 0zm7 0zm4 0zm-110 1zm4 0zm14 0zm5 0zm13 0zm3 0zm4 0zm7 0zm2 0zm2 0zm4 0zm2 0zm1 0zm2 0zm6 0zm2 0zm2 0zm8 0zm3 0zm2 0zm3 0zm1 0zm2 0zm4 0zm33 0zm-190 1zm67 0zm10 0zm3 0zm20 0zm1 0zm3 0zm1 0zm5 0zm4 0zm2 0zm2 0zm6 0zm4 0zm4 0zm1 0zm8 0zm6 0zm2 0zm1 0zm1 0zm2 0zm1 0zm3 0zm2 0zm-199 1zm55 0zm7 0zm33 0zm7 0zm29 0zm15 0zm5 0zm3 0zm2 0zm1 0zm2 0zm2 0zm3 0zm5 0zm16 0zm6 0zm2 0zm2 0zm5 0zm3 0zm2 0zm1 0zm1 0zm1 0zm-157 1zm17 0zm3 0zm6 0zm4 0zm6 0zm8 0zm1 0zm21 0zm23 0zm5 0zm3 0zm3 0zm1 0zm1 0zm1 0zm2 0zm1 0zm3 0zm1 0zm2 0zm6 0zm2 0zm15 0zm1 0zm3 0zm2 0zm3 0zm2 0zm4 0zm-139 1zm1 0zm4 0zm4 0zm31 0zm4 0zm6 0zm7 0zm9 0zm14 0zm1 0zm2 0zm2 0zm2 0zm4 0zm4 0zm4 0zm6 0zm20 0zm3 0zm1 0zm3 0zm1 0zm2 0zm3 0zm2 0zm16 0zm-205 1zm50 0zm2 0zm1 0zm19 0zm5 0zm9 0zm6 0zm9 0zm27 0zm1 0zm7 0zm1 0zm1 0zm4 0zm2 0zm11 0zm1 0zm2 0zm1 0zm8 0zm2 0zm7 0zm1 0zm2 0zm2 0zm2 0zm1 0zm1 0zm2 0zm1 0zm-152 1zm23 0zm4 0zm9 0zm13 0zm6 0zm16 0zm6 0zm4 0zm19 0zm3 0zm1 0zm1 0zm3 0zm10 0zm3 0zm9 0zm4 0zm1 0zm2 0zm5 0zm8 0zm9 0zm-164 1zm12 0zm1 0zm4 0zm12 0zm17 0zm8 0zm22 0zm18 0zm1 0zm1 0zm2 0zm1 0zm2 0zm2 0zm4 0zm2 0zm1 0zm1 0zm2 0zm6 0zm9 0zm3 0zm1 0zm11 0zm3 0zm4 0zm1 0zm-154 1zm5 0zm14 0zm4 0zm3 0zm16 0zm25 0zm19 0zm13 0zm2 0zm1 0zm4 0zm2 0zm1 0zm2 0zm9 0zm4 0zm1 0zm4 0zm1 0zm4 0zm4 0zm1 0zm2 0zm8 0zm1 0zm3 0zm3 0zm6 0zm-163 1zm14 0zm15 0zm8 0zm6 0zm3 0zm14 0zm40 0zm1 0zm4 0zm3 0zm1 0zm2 0zm2 0zm1 0zm2 0zm2 0zm3 0zm4 0zm1 0zm4 0zm2 0zm1 0zm8 0zm2 0zm3 0zm3 0zm1 0zm1 0zm9 0zm3 0zm-159 1zm3 0zm3 0zm13 0zm1 0zm5 0zm7 0zm2 0zm23 0zm7 0zm5 0zm15 0zm3 0zm11 0zm3 0zm4 0zm3 0zm5 0zm1 0zm3 0zm1 0zm2 0zm5 0zm2 0zm8 0zm1 0zm7 0zm2 0zm4 0zm3 0zm2 0zm11 0zm1 0zm-161 1zm19 0zm3 0zm2 0zm5 0zm26 0zm5 0zm5 0zm5 0zm23 0zm6 0zm2 0zm2 0zm1 0zm2 0zm4 0zm9 0zm7 0zm3 0zm3 0zm1 0zm3 0zm2 0zm2 0zm1 0zm1 0zm2 0zm2 0zm-149 1zm3 0zm4 0zm13 0zm2 0zm9 0zm5 0zm32 0zm8 0zm9 0zm2 0zm6 0zm2 0zm2 0zm1 0zm8 0zm1 0zm1 0zm4 0zm1 0zm3 0zm3 0zm1 0zm1 0zm20 0zm2 0zm11 0zm1 0zm5 0zm-176 1zm8 0zm14 0zm11 0zm14 0zm11 0zm12 0zm4 0zm19 0zm1 0zm9 0zm9 0zm1 0zm1 0zm3 0zm1 0zm2 0zm4 0zm2 0zm3 0zm1 0zm1 0zm4 0zm4 0zm3 0zm1 0zm12 0zm3 0zm3 0zm2 0zm1 0zm3 0zm6 0zm-163 1zm9 0zm13 0zm11 0zm13 0zm8 0zm3 0zm3 0zm7 0zm19 0zm1 0zm10 0zm7 0zm1 0zm1 0zm4 0zm1 0zm1 0zm2 0zm1 0zm1 0zm1 0zm3 0zm2 0zm2 0zm1 0zm1 0zm7 0zm4 0zm5 0zm2 0zm2 0zm2 0zm2 0zm2 0zm3 0zm4 0zm-156 1zm14 0zm1 0zm1 0zm15 0zm1 0zm2 0zm4 0zm1 0zm1 0zm6 0zm2 0zm2 0zm11 0zm13 0zm6 0zm7 0zm14 0zm2 0zm1 0zm4 0zm1 0zm3 0zm2 0zm1 0zm4 0zm5 0zm3 0zm1 0zm2 0zm10 0zm3 0zm1 0zm2 0zm1 0zm1 0zm1 0zm1 0zm1 0zm3 0zm9 0zm-167 1zm5 0zm12 0zm4 0zm14 0zm9 0zm16 0zm1 0zm1 0zm15 0zm4 0zm26 0zm4 0zm2 0zm5 0zm1 0zm1 0zm4 0zm7 0zm4 0zm1 0zm5 0zm4 0zm4 0zm5 0zm3 0zm3 0zm27 0zm-191 1zm6 0zm1 0zm4 0zm7 0zm1 0zm8 0zm1 0zm3 0zm9 0zm7 0zm1 0zm1 0zm9 0zm8 0zm4 0zm9 0zm11 0zm14 0zm7 0zm1 0zm4 0zm1 0zm5 0zm2 0zm3 0zm11 0zm1 0zm6 0zm2 0zm3 0zm3 0zm1 0zm6 0zm2 0zm1 0zm7 0zm-205 1zm40 0zm14 0zm7 0zm8 0zm5 0zm1 0zm4 0zm3 0zm27 0zm23 0zm1 0zm10 0zm7 0zm1 0zm2 0zm1 0zm1 0zm3 0zm1 0zm1 0zm3 0zm1 0zm7 0zm2 0zm2 0zm2 0zm3 0zm2 0zm5 0zm1 0zm1 0zm4 0zm1 0zm5 0zm1 0zm1 0zm1 0zm4 0zm-162 1zm5 0zm2 0zm2 0zm1 0zm6 0zm1 0zm3 0zm1 0zm1 0zm2 0zm1 0zm1 0zm1 0zm3 0zm4 0zm3 0zm2 0zm2 0zm4 0zm15 0zm1 0zm34 0zm5 0zm4 0zm3 0zm1 0zm2 0zm1 0zm2 0zm3 0zm2 0zm1 0zm1 0zm3 0zm5 0zm4 0zm1 0zm4 0zm3 0zm6 0zm1 0zm2 0zm1 0zm7 0zm-178 1zm9 0zm16 0zm4 0zm5 0zm2 0zm1 0zm2 0zm3 0zm1 0zm6 0zm3 0zm1 0zm35 0zm5 0zm5 0zm10 0zm4 0zm1 0zm5 0zm5 0zm2 0zm2 0zm4 0zm1 0zm5 0zm2 0zm4 0zm1 0zm7 0zm5 0zm1 0zm3 0zm1 0zm1 0zm1 0zm1 0zm3 0zm1 0zm5 0zm1 0zm1 0zm3 0zm1 0zm1 0zm2 0zm2 0zm-165 1zm3 0zm5 0zm10 0zm1 0zm6 0zm3 0zm1 0zm3 0zm4 0zm6 0zm37 0zm6 0zm19 0zm2 0zm2 0zm3 0zm2 0zm5 0zm3 0zm3 0zm1 0zm1 0zm5 0zm1 0zm3 0zm3 0zm2 0zm6 0zm2 0zm6 0zm12 0zm5 0zm-176 1zm2 0zm3 0zm2 0zm6 0zm4 0zm3 0zm1 0zm1 0zm14 0zm3 0zm2 0zm2 0zm8 0zm10 0zm8 0zm1 0zm2 0zm4 0zm2 0zm20 0zm1 0zm8 0zm2 0zm1 0zm3 0zm11 0zm3 0zm4 0zm4 0zm3 0zm1 0zm3 0zm4 0zm4 0zm1 0zm2 0zm16 0zm-165 1zm6 0zm3 0zm7 0zm3 0zm3 0zm2 0zm2 0zm4 0zm2 0zm2 0zm5 0zm1 0zm1 0zm1 0zm9 0zm1 0zm9 0zm17 0zm2 0zm1 0zm20 0zm7 0zm1 0zm5 0zm2 0zm3 0zm2 0zm16 0zm1 0zm7 0zm1 0zm5 0zm2 0zm2 0zm2 0zm1 0zm4 0zm-182 1zm10 0zm1 0zm18 0zm1 0zm3 0zm2 0zm1 0zm6 0zm1 0zm3 0zm2 0zm1 0zm1 0zm1 0zm2 0zm3 0zm1 0zm1 0zm2 0zm1 0zm1 0zm2 0zm6 0zm17 0zm1 0zm8 0zm4 0zm12 0zm3 0zm4 0zm2 0zm3 0zm4 0zm1 0zm3 0zm1 0zm2 0zm5 0zm4 0zm10 0zm1 0zm7 0zm5 0zm2 0zm1 0zm1 0zm1 0zm2 0zm1 0zm4 0zm4 0zm2 0zm1 0zm-155 1zm1 0zm10 0zm5 0zm3 0zm4 0zm1 0zm1 0zm3 0zm11 0zm1 0zm1 0zm4 0zm25 0zm5 0zm3 0zm1 0zm1 0zm2 0zm2 0zm1 0zm5 0zm5 0zm1 0zm2 0zm3 0zm3 0zm1 0zm2 0zm1 0zm7 0zm1 0zm1 0zm1 0zm6 0zm10 0zm6 0zm2 0zm2 0zm5 0zm-168 1zm7 0zm1 0zm3 0zm5 0zm3 0zm5 0zm3 0zm1 0zm2 0zm2 0zm3 0zm6 0zm3 0zm3 0zm5 0zm17 0zm18 0zm11 0zm4 0zm1 0zm1 0zm11 0zm2 0zm1 0zm3 0zm1 0zm1 0zm1 0zm5 0zm11 0zm1 0zm2 0zm2 0zm2 0zm1 0zm2 0zm1 0zm1 0zm2 0zm1 0zm1 0zm5 0zm-153 1zm2 0zm2 0zm6 0zm2 0zm1 0zm2 0zm1 0zm3 0zm6 0zm4 0zm1 0zm1 0zm4 0zm14 0zm2 0zm7 0zm1 0zm16 0zm21 0zm5 0zm4 0zm2 0zm2 0zm7 0zm1 0zm2 0zm5 0zm4 0zm9 0zm2 0zm3 0zm1 0zm3 0zm7 0zm1 0zm5 0zm4 0zm-187 1zm13 0zm2 0zm4 0zm2 0zm6 0zm1 0zm2 0zm2 0zm2 0zm4 0zm2 0zm2 0zm6 0zm3 0zm2 0zm3 0zm5 0zm6 0zm9 0zm25 0zm6 0zm11 0zm5 0zm2 0zm2 0zm4 0zm3 0zm1 0zm4 0zm6 0zm8 0zm3 0zm1 0zm3 0zm2 0zm1 0zm1 0zm1 0zm2 0zm1 0zm2 0zm1 0zm2 0zm4 0zm2 0zm6 0zm-169 1zm15 0zm2 0zm1 0zm5 0zm1 0zm6 0zm2 0zm3 0zm2 0zm2 0zm1 0zm4 0zm7 0zm1 0zm2 0zm3 0zm16 0zm5 0zm13 0zm4 0zm7 0zm2 0zm3 0zm1 0zm2 0zm2 0zm1 0zm1 0zm3 0zm1 0zm2 0zm2 0zm1 0zm2 0zm2 0zm7 0zm1 0zm1 0zm3 0zm4 0zm1 0zm4 0zm1 0zm6 0zm1 0zm1 0zm1 0zm4 0zm-186 1zm24 0zm8 0zm6 0zm2 0zm1 0zm2 0zm10 0zm3 0zm6 0zm1 0zm8 0zm1 0zm8 0zm2 0zm1 0zm1 0zm15 0zm6 0zm6 0zm13 0zm4 0zm2 0zm7 0zm2 0zm3 0zm4 0zm2 0zm3 0zm2 0zm1 0zm1 0zm3 0zm5 0zm4 0zm2 0zm3 0zm6 0zm2 0zm10 0zm18 0zm-191 1zm7 0zm11 0zm5 0zm1 0zm1 0zm4 0zm2 0zm2 0zm6 0zm2 0zm8 0zm2 0zm3 0zm1 0zm5 0zm4 0zm14 0zm13 0zm9 0zm3 0zm3 0zm9 0zm5 0zm3 0zm5 0zm4 0zm8 0zm3 0zm1 0zm2 0zm5 0zm2 0zm1 0zm3 0zm9 0zm2 0zm1 0zm1 0zm-167 1zm3 0zm1 0zm10 0zm11 0zm3 0zm5 0zm3 0zm1 0zm6 0zm1 0zm3 0zm1 0zm1 0zm1 0zm3 0zm5 0zm2 0zm4 0zm1 0zm2 0zm1 0zm4 0zm10 0zm8 0zm14 0zm13 0zm6 0zm3 0zm1 0zm4 0zm1 0zm1 0zm3 0zm1 0zm4 0zm7 0zm4 0zm2 0zm2 0zm1 0zm4 0zm3 0zm3 0zm1 0zm3 0zm5 0zm-183 1zm4 0zm5 0zm7 0zm6 0zm2 0zm2 0zm3 0zm1 0zm6 0zm4 0zm2 0zm1 0zm6 0zm4 0zm1 0zm1 0zm1 0zm4 0zm3 0zm2 0zm1 0zm3 0zm2 0zm1 0zm15 0zm2 0zm1 0zm5 0zm1 0zm2 0zm9 0zm4 0zm5 0zm3 0zm4 0zm1 0zm2 0zm1 0zm4 0zm2 0zm6 0zm10 0zm7 0zm3 0zm1 0zm1 0zm2 0zm1 0zm3 0zm2 0zm2 0zm1 0zm2 0zm2 0zm2 0zm-177 1zm9 0zm5 0zm5 0zm8 0zm1 0zm1 0zm1 0zm2 0zm3 0zm1 0zm3 0zm3 0zm1 0zm2 0zm2 0zm1 0zm10 0zm3 0zm1 0zm1 0zm4 0zm1 0zm4 0zm23 0zm4 0zm5 0zm2 0zm1 0zm1 0zm8 0zm10 0zm1 0zm3 0zm2 0zm2 0zm1 0zm1 0zm2 0zm5 0zm2 0zm1 0zm1 0zm5 0zm1 0zm1 0zm3 0zm8 0zm4 0zm4 0zm3 0zm2 0zm8 0zm-177 1zm2 0zm3 0zm1 0zm1 0zm3 0zm4 0zm1 0zm1 0zm3 0zm2 0zm4 0zm1 0zm1 0zm1 0zm3 0zm7 0zm3 0zm1 0zm1 0zm5 0zm1 0zm2 0zm6 0zm32 0zm15 0zm2 0zm4 0zm2 0zm4 0zm2 0zm3 0zm4 0zm5 0zm3 0zm3 0zm9 0zm4 0zm2 0zm3 0zm4 0zm1 0zm4 0zm2 0zm3 0zm5 0zm3 0zm1 0zm-197 1zm13 0zm3 0zm3 0zm4 0zm9 0zm4 0zm3 0zm2 0zm2 0zm3 0zm1 0zm2 0zm1 0zm2 0zm1 0zm6 0zm2 0zm2 0zm1 0zm2 0zm1 0zm1 0zm1 0zm4 0zm1 0zm2 0zm20 0zm2 0zm5 0zm11 0zm1 0zm5 0zm3 0zm2 0zm4 0zm2 0zm1 0zm2 0zm1 0zm5 0zm1 0zm2 0zm4 0zm3 0zm7 0zm1 0zm1 0zm4 0zm4 0zm4 0zm4 0zm1 0zm1 0zm1 0zm2 0zm3 0zm2 0zm1 0zm-168 1zm4 0zm2 0zm1 0zm3 0zm4 0zm5 0zm2 0zm4 0zm2 0zm3 0zm5 0zm1 0zm1 0zm2 0zm1 0zm2 0zm6 0zm4 0zm2 0zm3 0zm1 0zm11 0zm1 0zm23 0zm9 0zm3 0zm1 0zm8 0zm1 0zm2 0zm1 0zm1 0zm1 0zm3 0zm8 0zm12 0zm10 0zm1 0zm3 0zm2 0zm1 0zm1 0zm2 0zm2 0zm1 0zm4 0zm3 0zm1 0zm4 0zm-187 1zm1 0zm13 0zm4 0zm5 0zm3 0zm5 0zm3 0zm2 0zm1 0zm4 0zm17 0zm1 0zm3 0zm2 0zm4 0zm8 0zm10 0zm5 0zm16 0zm1 0zm3 0zm2 0zm1 0zm2 0zm2 0zm2 0zm3 0zm1 0zm1 0zm2 0zm4 0zm1 0zm2 0zm1 0zm7 0zm13 0zm4 0zm3 0zm3 0zm1 0zm1 0zm2 0zm2 0zm1 0zm3 0zm4 0zm1 0zm3 0zm-171 1zm4 0zm1 0zm1 0zm1 0zm1 0zm2 0zm1 0zm4 0zm1 0zm4 0zm1 0zm2 0zm2 0zm1 0zm1 0zm3 0zm1 0zm2 0zm5 0zm1 0zm1 0zm4 0zm2 0zm6 0zm4 0zm1 0zm3 0zm2 0zm14 0zm2 0zm6 0zm10 0zm3 0zm1 0zm4 0zm1 0zm2 0zm1 0zm1 0zm1 0zm3 0zm4 0zm1 0zm3 0zm3 0zm2 0zm17 0zm1 0zm8 0zm1 0zm4 0zm1 0zm7 0zm2 0zm6 0zm13 0zm-192 1zm17 0zm3 0zm1 0zm1 0zm1 0zm4 0zm5 0zm1 0zm1 0zm4 0zm1 0zm2 0zm1 0zm1 0zm4 0zm5 0zm4 0zm1 0zm12 0zm7 0zm2 0zm14 0zm1 0zm2 0zm1 0zm11 0zm1 0zm4 0zm6 0zm4 0zm1 0zm4 0zm3 0zm10 0zm15 0zm4 0zm6 0zm5 0zm2 0zm1 0zm2 0zm-193 1zm14 0zm13 0zm5 0zm3 0zm3 0zm1 0zm2 0zm2 0zm1 0zm1 0zm9 0zm2 0zm1 0zm1 0zm1 0zm1 0zm5 0zm1 0zm2 0zm8 0zm2 0zm4 0zm1 0zm15 0zm5 0zm7 0zm3 0zm3 0zm4 0zm4 0zm10 0zm5 0zm2 0zm1 0zm4 0zm1 0zm1 0zm17 0zm2 0zm3 0zm10 0zm2 0zm1 0zm2 0zm1 0zm4 0zm1 0zm4 0zm-186 1zm18 0zm3 0zm4 0zm3 0zm5 0zm1 0zm3 0zm1 0zm2 0zm4 0zm2 0zm1 0zm5 0zm2 0zm1 0zm2 0zm4 0zm1 0zm4 0zm1 0zm5 0zm2 0zm1 0zm1 0zm5 0zm1 0zm13 0zm1 0zm3 0zm2 0zm2 0zm1 0zm1 0zm2 0zm3 0zm2 0zm8 0zm3 0zm1 0zm2 0zm1 0zm1 0zm2 0zm2 0zm20 0zm1 0zm9 0zm5 0zm2 0zm3 0zm3 0zm2 0zm3 0zm2 0zm2 0zm-199 1zm28 0zm5 0zm2 0zm6 0zm1 0zm1 0zm1 0zm2 0zm5 0zm2 0zm2 0zm3 0zm1 0zm1 0zm4 0zm1 0zm4 0zm1 0zm2 0zm10 0zm2 0zm4 0zm1 0zm3 0zm3 0zm10 0zm5 0zm3 0zm3 0zm1 0zm7 0zm4 0zm10 0zm3 0zm1 0zm1 0zm1 0zm3 0zm3 0zm4 0zm2 0zm7 0zm4 0zm7 0zm1 0zm2 0zm11 0zm4 0zm1 0zm3 0zm-165 1zm8 0zm3 0zm1 0zm1 0zm1 0zm1 0zm2 0zm2 0zm3 0zm2 0zm3 0zm1 0zm2 0zm4 0zm3 0zm2 0zm2 0zm2 0zm3 0zm8 0zm3 0zm1 0zm5 0zm8 0zm7 0zm2 0zm2 0zm1 0zm2 0zm1 0zm11 0zm2 0zm1 0zm6 0zm1 0zm1 0zm1 0zm2 0zm1 0zm4 0zm2 0zm2 0zm2 0zm12 0zm2 0zm3 0zm3 0zm4 0zm2 0zm8 0zm3 0zm2 0zm2 0zm1 0zm4 0zm6 0zm3 0zm4 0zm-193 1zm8 0zm2 0zm3 0zm3 0zm13 0zm1 0zm2 0zm2 0zm1 0zm1 0zm2 0zm2 0zm1 0zm4 0zm1 0zm1 0zm4 0zm1 0zm2 0zm1 0zm2 0zm7 0zm1 0zm1 0zm5 0zm1 0zm22 0zm2 0zm4 0zm1 0zm4 0zm5 0zm4 0zm1 0zm2 0zm3 0zm1 0zm3 0zm1 0zm3 0zm1 0zm3 0zm2 0zm11 0zm15 0zm9 0zm2 0zm1 0zm8 0zm2 0zm3 0zm2 0zm16 0zm-188 1zm2 0zm2 0zm6 0zm1 0zm5 0zm4 0zm2 0zm2 0zm3 0zm2 0zm4 0zm11 0zm1 0zm1 0zm3 0zm2 0zm8 0zm2 0zm11 0zm3 0zm2 0zm4 0zm3 0zm7 0zm7 0zm2 0zm2 0zm7 0zm1 0zm1 0zm2 0zm3 0zm6 0zm1 0zm4 0zm8 0zm2 0zm10 0zm3 0zm4 0zm4 0zm1 0zm3 0zm1 0zm2 0zm3 0zm2 0zm-185 1zm3 0zm10 0zm2 0zm5 0zm12 0zm1 0zm1 0zm4 0zm2 0zm3 0zm2 0zm2 0zm4 0zm1 0zm2 0zm3 0zm2 0zm1 0zm2 0zm4 0zm4 0zm1 0zm3 0zm1 0zm1 0zm2 0zm3 0zm2 0zm1 0zm1 0zm7 0zm3 0zm1 0zm2 0zm5 0zm1 0zm5 0zm1 0zm6 0zm5 0zm1 0zm5 0zm1 0zm1 0zm15 0zm1 0zm6 0zm1 0zm2 0zm3 0zm2 0zm1 0zm1 0zm1 0zm5 0zm10 0zm3 0zm1 0zm18 0zm-221 1zm20 0zm15 0zm1 0zm3 0zm1 0zm4 0zm2 0zm2 0zm8 0zm4 0zm6 0zm7 0zm3 0zm3 0zm1 0zm2 0zm1 0zm1 0zm6 0zm1 0zm6 0zm1 0zm2 0zm9 0zm4 0zm1 0zm2 0zm3 0zm1 0zm7 0zm1 0zm4 0zm3 0zm1 0zm3 0zm1 0zm1 0zm5 0zm1 0zm2 0zm5 0zm1 0zm2 0zm3 0zm1 0zm6 0zm8 0zm1 0zm1 0zm4 0zm1 0zm12 0zm1 0zm5 0zm5 0zm18 0zm-207 1zm7 0zm1 0zm5 0zm10 0zm1 0zm5 0zm1 0zm1 0zm2 0zm1 0zm4 0zm2 0zm2 0zm1 0zm5 0zm4 0zm5 0zm1 0zm5 0zm1 0zm1 0zm5 0zm1 0zm2 0zm5 0zm3 0zm2 0zm1 0zm3 0zm10 0zm2 0zm3 0zm1 0zm7 0zm1 0zm1 0zm1 0zm1 0zm6 0zm5 0zm1 0zm2 0zm1 0zm2 0zm1 0zm2 0zm2 0zm2 0zm10 0zm1 0zm1 0zm9 0zm1 0zm6 0zm3 0zm2 0zm2 0zm2 0zm3 0zm1 0zm5 0zm6 0zm-194 1zm15 0zm2 0zm5 0zm1 0zm1 0zm4 0zm1 0zm1 0zm2 0zm1 0zm4 0zm7 0zm5 0zm4 0zm1 0zm2 0zm1 0zm3 0zm3 0zm1 0zm1 0zm1 0zm1 0zm1 0zm2 0zm1 0zm2 0zm1 0zm1 0zm2 0zm1 0zm2 0zm39 0zm4 0zm1 0zm2 0zm2 0zm3 0zm5 0zm1 0zm2 0zm1 0zm1 0zm1 0zm1 0zm3 0zm3 0zm6 0zm7 0zm3 0zm5 0zm4 0zm4 0zm1 0zm3 0zm2 0zm1 0zm3 0zm7 0zm-191 1zm11 0zm1 0zm1 0zm7 0zm1 0zm1 0zm3 0zm2 0zm1 0zm22 0zm1 0zm2 0zm3 0zm2 0zm3 0zm1 0zm2 0zm2 0zm1 0zm2 0zm3 0zm3 0zm2 0zm2 0zm5 0zm5 0zm6 0zm2 0zm1 0zm1 0zm4 0zm1 0zm1 0zm3 0zm2 0zm5 0zm3 0zm4 0zm1 0zm4 0zm2 0zm3 0zm3 0zm1 0zm9 0zm2 0zm9 0zm6 0zm4 0zm3 0zm1 0zm1 0zm1 0zm3 0zm6 0zm8 0zm-175 1zm4 0zm1 0zm1 0zm6 0zm1 0zm2 0zm1 0zm2 0zm4 0zm3 0zm4 0zm7 0zm2 0zm2 0zm3 0zm6 0zm2 0zm6 0zm1 0zm1 0zm1 0zm3 0zm6 0zm1 0zm2 0zm3 0zm5 0zm5 0zm1 0zm1 0zm1 0zm6 0zm6 0zm1 0zm1 0zm5 0zm2 0zm2 0zm9 0zm2 0zm1 0zm6 0zm3 0zm12 0zm1 0zm3 0zm2 0zm7 0zm1 0zm1 0zm2 0zm2 0zm1 0zm5 0zm1 0zm3 0zm8 0zm-185 1zm7 0zm3 0zm7 0zm1 0zm3 0zm1 0zm4 0zm9 0zm8 0zm2 0zm4 0zm5 0zm3 0zm3 0zm4 0zm4 0zm3 0zm1 0zm4 0zm4 0zm4 0zm2 0zm4 0zm2 0zm7 0zm1 0zm3 0zm1 0zm3 0zm1 0zm1 0zm1 0zm1 0zm1 0zm3 0zm1 0zm3 0zm2 0zm6 0zm1 0zm1 0zm2 0zm1 0zm6 0zm3 0zm3 0zm9 0zm1 0zm1 0zm5 0zm6 0zm1 0zm4 0zm2 0zm3 0zm3 0zm1 0zm2 0zm-182 1zm5 0zm8 0zm5 0zm3 0zm3 0zm12 0zm3 0zm4 0zm1 0zm1 0zm4 0zm2 0zm1 0zm1 0zm2 0zm6 0zm1 0zm2 0zm1 0zm3 0zm2 0zm1 0zm8 0zm3 0zm1 0zm6 0zm6 0zm4 0zm4 0zm1 0zm4 0zm5 0zm1 0zm2 0zm1 0zm1 0zm2 0zm3 0zm6 0zm5 0zm5 0zm6 0zm6 0zm2 0zm8 0zm1 0zm1 0zm2 0zm1 0zm3 0zm1 0zm2 0zm3 0zm-174 1zm10 0zm2 0zm2 0zm1 0zm7 0zm2 0zm4 0zm1 0zm2 0zm8 0zm1 0zm1 0zm2 0zm3 0zm1 0zm1 0zm2 0zm2 0zm2 0zm2 0zm8 0zm4 0zm1 0zm7 0zm7 0zm4 0zm1 0zm2 0zm4 0zm1 0zm3 0zm1 0zm2 0zm1 0zm1 0zm4 0zm1 0zm1 0zm4 0zm2 0zm2 0zm3 0zm1 0zm1 0zm7 0zm4 0zm7 0zm14 0zm4 0zm2 0zm4 0zm4 0zm8 0zm3 0zm-186 1zm1 0zm4 0zm2 0zm5 0zm2 0zm3 0zm3 0zm1 0zm2 0zm1 0zm2 0zm2 0zm2 0zm2 0zm21 0zm2 0zm2 0zm4 0zm1 0zm1 0zm1 0zm1 0zm7 0zm1 0zm1 0zm14 0zm3 0zm5 0zm1 0zm3 0zm2 0zm6 0zm2 0zm3 0zm2 0zm2 0zm5 0zm3 0zm2 0zm1 0zm1 0zm1 0zm5 0zm15 0zm11 0zm1 0zm1 0zm5 0zm3 0zm1 0zm1 0zm3 0zm2 0zm1 0zm3 0zm8 0zm3 0zm-177 1zm2 0zm2 0zm1 0zm1 0zm2 0zm1 0zm4 0zm13 0zm7 0zm10 0zm3 0zm3 0zm4 0zm3 0zm5 0zm1 0zm2 0zm1 0zm2 0zm1 0zm1 0zm2 0zm2 0zm4 0zm1 0zm1 0zm2 0zm1 0zm1 0zm1 0zm11 0zm1 0zm2 0zm1 0zm1 0zm3 0zm2 0zm1 0zm1 0zm2 0zm3 0zm6 0zm1 0zm8 0zm4 0zm1 0zm12 0zm2 0zm2 0zm7 0zm6 0zm2 0zm1 0zm1 0zm6 0zm-186 1zm7 0zm6 0zm3 0zm3 0zm5 0zm7 0zm18 0zm4 0zm2 0zm3 0zm2 0zm1 0zm1 0zm2 0zm2 0zm1 0zm2 0zm4 0zm6 0zm4 0zm2 0zm1 0zm1 0zm2 0zm2 0zm1 0zm2 0zm5 0zm1 0zm2 0zm2 0zm5 0zm3 0zm1 0zm5 0zm4 0zm1 0zm6 0zm1 0zm6 0zm10 0zm1 0zm14 0zm4 0zm4 0zm1 0zm1 0zm3 0zm2 0zm4 0zm1 0zm3 0zm2 0zm4 0zm9 0zm-205 1zm4 0zm17 0zm1 0zm3 0zm6 0zm2 0zm5 0zm7 0zm3 0zm1 0zm10 0zm3 0zm3 0zm2 0zm2 0zm4 0zm3 0zm5 0zm1 0zm2 0zm2 0zm3 0zm7 0zm2 0zm2 0zm1 0zm1 0zm1 0zm1 0zm3 0zm2 0zm3 0zm2 0zm3 0zm3 0zm1 0zm2 0zm5 0zm5 0zm5 0zm5 0zm5 0zm1 0zm4 0zm19 0zm1 0zm3 0zm3 0zm8 0zm-167 1zm4 0zm2 0zm3 0zm26 0zm7 0zm3 0zm6 0zm1 0zm2 0zm1 0zm1 0zm3 0zm1 0zm4 0zm1 0zm1 0zm3 0zm1 0zm1 0zm6 0zm3 0zm1 0zm1 0zm7 0zm3 0zm2 0zm1 0zm7 0zm1 0zm6 0zm2 0zm1 0zm3 0zm1 0zm17 0zm10 0zm4 0zm5 0zm4 0zm5 0zm3 0zm1 0zm3 0zm3 0zm-176 1zm4 0zm1 0zm1 0zm2 0zm4 0zm16 0zm18 0zm8 0zm3 0zm2 0zm1 0zm6 0zm5 0zm1 0zm2 0zm3 0zm1 0zm1 0zm1 0zm6 0zm4 0zm1 0zm1 0zm1 0zm3 0zm1 0zm3 0zm1 0zm7 0zm7 0zm2 0zm2 0zm10 0zm1 0zm6 0zm3 0zm2 0zm8 0zm8 0zm3 0zm3 0zm3 0zm1 0zm1 0zm1 0zm3 0zm3 0zm-181 1zm3 0zm1 0zm2 0zm1 0zm1 0zm5 0zm30 0zm15 0zm1 0zm1 0zm1 0zm1 0zm5 0zm4 0zm5 0zm5 0zm2 0zm7 0zm1 0zm3 0zm1 0zm3 0zm4 0zm7 0zm2 0zm3 0zm3 0zm2 0zm8 0zm1 0zm1 0zm1 0zm4 0zm12 0zm11 0zm1 0zm6 0zm2 0zm1 0zm3 0zm1 0zm1 0zm1 0zm1 0zm3 0zm4 0zm-178 1zm2 0zm5 0zm5 0zm1 0zm2 0zm10 0zm24 0zm7 0zm6 0zm1 0zm8 0zm1 0zm3 0zm2 0zm1 0zm5 0zm1 0zm7 0zm4 0zm3 0zm1 0zm2 0zm2 0zm8 0zm1 0zm1 0zm2 0zm1 0zm2 0zm2 0zm21 0zm3 0zm16 0zm1 0zm2 0zm3 0zm2 0zm4 0zm2 0zm1 0zm2 0zm4 0zm-187 1zm4 0zm3 0zm3 0zm6 0zm2 0zm3 0zm17 0zm24 0zm5 0zm1 0zm3 0zm2 0zm2 0zm1 0zm1 0zm1 0zm1 0zm1 0zm1 0zm6 0zm1 0zm1 0zm1 0zm3 0zm2 0zm1 0zm1 0zm1 0zm3 0zm1 0zm1 0zm1 0zm1 0zm1 0zm3 0zm7 0zm7 0zm1 0zm16 0zm5 0zm3 0zm3 0zm11 0zm5 0zm1 0zm8 0zm1 0zm3 0zm-182 1zm9 0zm4 0zm1 0zm1 0zm3 0zm2 0zm4 0zm40 0zm1 0zm6 0zm2 0zm1 0zm1 0zm5 0zm3 0zm4 0zm1 0zm1 0zm1 0zm3 0zm1 0zm1 0zm1 0zm3 0zm2 0zm10 0zm5 0zm4 0zm8 0zm1 0zm13 0zm3 0zm3 0zm12 0zm5 0zm2 0zm3 0zm1 0zm1 0zm6 0zm2 0zm1 0zm1 0zm4 0zm-186 1zm6 0zm6 0zm3 0zm1 0zm7 0zm36 0zm2 0zm5 0zm4 0zm4 0zm2 0zm2 0zm1 0zm1 0zm1 0zm2 0zm1 0zm2 0zm4 0zm4 0zm5 0zm3 0zm1 0zm2 0zm3 0zm1 0zm3 0zm2 0zm1 0zm3 0zm3 0zm1 0zm3 0zm2 0zm5 0zm5 0zm12 0zm6 0zm9 0zm3 0zm1 0zm1 0zm2 0zm3 0zm2 0zm3 0zm3 0zm3 0zm4 0zm1 0zm1 0zm-187 1zm1 0zm3 0zm3 0zm2 0zm2 0zm3 0zm2 0zm4 0zm27 0zm14 0zm2 0zm2 0zm1 0zm2 0zm3 0zm3 0zm8 0zm2 0zm2 0zm1 0zm6 0zm1 0zm1 0zm1 0zm1 0zm3 0zm4 0zm1 0zm1 0zm2 0zm3 0zm1 0zm2 0zm2 0zm5 0zm3 0zm1 0zm21 0zm2 0zm4 0zm1 0zm1 0zm3 0zm1 0zm8 0zm4 0zm8 0zm1 0zm1 0zm-182 1zm3 0zm5 0zm1 0zm3 0zm4 0zm5 0zm42 0zm1 0zm7 0zm3 0zm2 0zm1 0zm6 0zm1 0zm1 0zm1 0zm4 0zm1 0zm2 0zm1 0zm8 0zm6 0zm2 0zm4 0zm1 0zm5 0zm2 0zm1 0zm1 0zm1 0zm3 0zm7 0zm14 0zm6 0zm1 0zm1 0zm2 0zm1 0zm1 0zm1 0zm1 0zm1 0zm5 0zm1 0zm1 0zm3 0zm1 0zm3 0zm2 0zm25 0zm-198 1zm1 0zm1 0zm2 0zm2 0zm2 0zm4 0zm40 0zm13 0zm1 0zm2 0zm1 0zm4 0zm1 0zm7 0zm2 0zm1 0zm3 0zm1 0zm1 0zm2 0zm1 0zm1 0zm3 0zm3 0zm3 0zm1 0zm11 0zm1 0zm4 0zm6 0zm8 0zm2 0zm9 0zm2 0zm3 0zm1 0zm4 0zm2 0zm1 0zm2 0zm1 0zm2 0zm2 0zm6 0zm6 0zm2 0zm-183 1zm2 0zm3 0zm3 0zm2 0zm1 0zm2 0zm1 0zm2 0zm47 0zm7 0zm2 0zm1 0zm4 0zm2 0zm3 0zm1 0zm5 0zm3 0zm8 0zm1 0zm1 0zm3 0zm2 0zm2 0zm7 0zm4 0zm1 0zm2 0zm8 0zm6 0zm3 0zm1 0zm2 0zm2 0zm2 0zm1 0zm2 0zm2 0zm1 0zm3 0zm1 0zm2 0zm1 0zm3 0zm3 0zm3 0zm2 0zm1 0zm6 0zm1 0zm10 0zm16 0zm3 0zm-208 1zm2 0zm2 0zm3 0zm3 0zm5 0zm49 0zm7 0zm1 0zm1 0zm4 0zm1 0zm1 0zm1 0zm3 0zm1 0zm9 0zm1 0zm2 0zm6 0zm1 0zm2 0zm2 0zm2 0zm3 0zm8 0zm2 0zm1 0zm8 0zm1 0zm4 0zm3 0zm1 0zm4 0zm3 0zm4 0zm4 0zm1 0zm2 0zm4 0zm3 0zm2 0zm4 0zm2 0zm2 0zm3 0zm2 0zm11 0zm1 0zm-187 1zm1 0zm1 0zm2 0zm2 0zm3 0zm50 0zm1 0zm2 0zm1 0zm2 0zm3 0zm5 0zm2 0zm1 0zm5 0zm1 0zm2 0zm3 0zm3 0zm2 0zm2 0zm1 0zm2 0zm10 0zm19 0zm2 0zm1 0zm7 0zm1 0zm4 0zm5 0zm2 0zm1 0zm6 0zm3 0zm8 0zm2 0zm7 0zm-179 1zm7 0zm1 0zm5 0zm53 0zm1 0zm4 0zm3 0zm1 0zm1 0zm3 0zm5 0zm1 0zm1 0zm1 0zm10 0zm3 0zm3 0zm6 0zm5 0zm1 0zm2 0zm5 0zm2 0zm5 0zm6 0zm10 0zm1 0zm1 0zm2 0zm1 0zm1 0zm1 0zm1 0zm2 0zm8 0zm2 0zm1 0zm2 0zm7 0zm-172 1zm2 0zm2 0zm2 0zm3 0zm2 0zm49 0zm4 0zm1 0zm5 0zm4 0zm3 0zm4 0zm6 0zm1 0zm3 0zm1 0zm2 0zm7 0zm1 0zm2 0zm4 0zm2 0zm4 0zm3 0zm14 0zm1 0zm2 0zm4 0zm3 0zm5 0zm5 0zm2 0zm2 0zm2 0zm4 0zm1 0zm5 0zm3 0zm5 0zm7 0zm-187 1zm3 0zm1 0zm2 0zm1 0zm3 0zm8 0zm46 0zm5 0zm4 0zm2 0zm4 0zm2 0zm2 0zm1 0zm2 0zm7 0zm3 0zm5 0zm1 0zm2 0zm2 0zm3 0zm5 0zm1 0zm3 0zm3 0zm2 0zm12 0zm1 0zm2 0zm7 0zm1 0zm1 0zm1 0zm7 0zm1 0zm1 0zm1 0zm1 0zm2 0zm2 0zm8 0zm1 0zm4 0zm5 0zm-183 1zm6 0zm3 0zm2 0zm1 0zm1 0zm1 0zm1 0zm62 0zm1 0zm1 0zm3 0zm1 0zm2 0zm1 0zm7 0zm2 0zm4 0zm6 0zm4 0zm1 0zm2 0zm1 0zm2 0zm6 0zm2 0zm13 0zm2 0zm1 0zm1 0zm9 0zm7 0zm1 0zm3 0zm1 0zm5 0zm1 0zm1 0zm3 0zm2 0zm2 0zm5 0zm-177 1zm16 0zm52 0zm2 0zm1 0zm1 0zm6 0zm1 0zm1 0zm2 0zm5 0zm3 0zm1 0zm1 0zm1 0zm14 0zm2 0zm4 0zm3 0zm2 0zm1 0zm2 0zm6 0zm10 0zm1 0zm3 0zm4 0zm2 0zm3 0zm5 0zm7 0zm1 0zm2 0zm3 0zm2 0zm2 0zm2 0zm8 0zm-182 1zm3 0zm1 0zm1 0zm2 0zm1 0zm3 0zm1 0zm4 0zm52 0zm3 0zm1 0zm1 0zm1 0zm3 0zm4 0zm1 0zm2 0zm6 0zm4 0zm5 0zm1 0zm6 0zm3 0zm7 0zm1 0zm1 0zm10 0zm7 0zm5 0zm2 0zm2 0zm4 0zm3 0zm1 0zm1 0zm2 0zm3 0zm2 0zm2 0zm1 0zm1 0zm1 0zm3 0zm1 0zm1 0zm1 0zm7 0zm-181 1zm3 0zm6 0zm4 0zm61 0zm3 0zm3 0zm9 0zm2 0zm4 0zm1 0zm1 0zm4 0zm6 0zm3 0zm1 0zm8 0zm1 0zm7 0zm7 0zm1 0zm3 0zm1 0zm3 0zm3 0zm2 0zm1 0zm4 0zm1 0zm1 0zm4 0zm1 0zm3 0zm1 0zm3 0zm1 0zm3 0zm7 0zm6 0zm4 0zm5 0zm-188 1zm3 0zm1 0zm3 0zm1 0zm54 0zm6 0zm2 0zm8 0zm2 0zm1 0zm1 0zm2 0zm3 0zm1 0zm1 0zm2 0zm17 0zm7 0zm11 0zm1 0zm2 0zm1 0zm3 0zm10 0zm2 0zm1 0zm6 0zm2 0zm3 0zm2 0zm3 0zm3 0zm1 0zm4 0zm3 0zm9 0zm-185 1zm4 0zm3 0zm67 0zm1 0zm5 0zm5 0zm1 0zm2 0zm3 0zm1 0zm1 0zm12 0zm3 0zm2 0zm3 0zm1 0zm1 0zm12 0zm1 0zm3 0zm1 0zm3 0zm4 0zm1 0zm3 0zm1 0zm3 0zm1 0zm1 0zm2 0zm2 0zm1 0zm2 0zm4 0zm1 0zm4 0zm1 0zm7 0zm1 0zm6 0zm-181 1zm6 0zm4 0zm61 0zm4 0zm3 0zm1 0zm1 0zm4 0zm2 0zm4 0zm3 0zm9 0zm3 0zm4 0zm1 0zm1 0zm2 0zm2 0zm3 0zm5 0zm8 0zm1 0zm3 0zm1 0zm3 0zm4 0zm1 0zm1 0zm2 0zm2 0zm3 0zm1 0zm2 0zm4 0zm2 0zm1 0zm3 0zm2 0zm2 0zm1 0zm2 0zm5 0zm22 0zm-214 1zm14 0zm6 0zm66 0zm4 0zm3 0zm5 0zm2 0zm3 0zm9 0zm1 0zm5 0zm7 0zm2 0zm1 0zm7 0zm1 0zm2 0zm3 0zm6 0zm1 0zm7 0zm4 0zm1 0zm2 0zm4 0zm2 0zm1 0zm2 0zm3 0zm1 0zm1 0zm2 0zm1 0zm1 0zm5 0zm1 0zm2 0zm6 0zm34 0zm-214 1zm2 0zm2 0zm2 0zm2 0zm2 0zm58 0zm7 0zm1 0zm1 0zm4 0zm5 0zm9 0zm2 0zm1 0zm3 0zm3 0zm1 0zm1 0zm2 0zm2 0zm2 0zm1 0zm5 0zm1 0zm1 0zm3 0zm6 0zm1 0zm1 0zm4 0zm1 0zm8 0zm2 0zm2 0zm1 0zm1 0zm10 0zm1 0zm1 0zm2 0zm15 0zm2 0zm-178 1zm1 0zm2 0zm2 0zm3 0zm69 0zm8 0zm4 0zm8 0zm1 0zm4 0zm1 0zm3 0zm2 0zm3 0zm1 0zm2 0zm3 0zm1 0zm4 0zm4 0zm2 0zm1 0zm2 0zm1 0zm1 0zm5 0zm2 0zm2 0zm3 0zm4 0zm2 0zm1 0zm4 0zm2 0zm1 0zm3 0zm2 0zm1 0zm1 0zm2 0zm10 0zm-179 1zm2 0zm1 0zm1 0zm6 0zm1 0zm59 0zm15 0zm1 0zm1 0zm4 0zm1 0zm9 0zm2 0zm1 0zm1 0zm2 0zm2 0zm2 0zm1 0zm1 0zm1 0zm10 0zm1 0zm4 0zm11 0zm1 0zm4 0zm1 0zm1 0zm1 0zm1 0zm1 0zm3 0zm1 0zm1 0zm2 0zm3 0zm3 0zm1 0zm1 0zm1 0zm3 0zm5 0zm7 0zm-165 1zm49 0zm7 0zm1 0zm3 0zm2 0zm3 0zm2 0zm2 0zm3 0zm1 0zm1 0zm1 0zm1 0zm1 0zm1 0zm3 0zm3 0zm2 0zm2 0zm4 0zm3 0zm1 0zm2 0zm2 0zm6 0zm2 0zm1 0zm5 0zm1 0zm1 0zm2 0zm1 0zm4 0zm2 0zm2 0zm5 0zm1 0zm7 0zm1 0zm4 0zm3 0zm5 0zm6 0zm2 0zm-179 1zm2 0zm1 0zm4 0zm65 0zm4 0zm6 0zm2 0zm2 0zm2 0zm3 0zm3 0zm3 0zm2 0zm3 0zm2 0zm3 0zm1 0zm3 0zm1 0zm1 0zm1 0zm5 0zm3 0zm4 0zm2 0zm18 0zm2 0zm1 0zm4 0zm4 0zm2 0zm7 0zm4 0zm5 0zm-169 1zm1 0zm4 0zm1 0zm58 0zm4 0zm4 0zm1 0zm1 0zm1 0zm2 0zm1 0zm3 0zm1 0zm1 0zm1 0zm2 0zm1 0zm1 0zm1 0zm4 0zm4 0zm4 0zm1 0zm2 0zm1 0zm4 0zm1 0zm2 0zm1 0zm3 0zm2 0zm5 0zm3 0zm2 0zm1 0zm2 0zm3 0zm5 0zm1 0zm6 0zm3 0zm4 0zm2 0zm1 0zm1 0zm1 0zm2 0zm5 0zm2 0zm2 0zm3 0zm-176 1zm3 0zm3 0zm1 0zm4 0zm59 0zm1 0zm1 0zm3 0zm2 0zm1 0zm1 0zm4 0zm2 0zm1 0zm2 0zm3 0zm3 0zm2 0zm2 0zm7 0zm2 0zm4 0zm2 0zm1 0zm2 0zm1 0zm3 0zm4 0zm2 0zm2 0zm3 0zm3 0zm1 0zm6 0zm1 0zm1 0zm1 0zm4 0zm2 0zm1 0zm4 0zm3 0zm5 0zm4 0zm2 0zm2 0zm-170 1zm3 0zm3 0zm1 0zm2 0zm63 0zm2 0zm16 0zm1 0zm1 0zm2 0zm2 0zm4 0zm1 0zm2 0zm1 0zm5 0zm3 0zm5 0zm4 0zm2 0zm1 0zm1 0zm1 0zm2 0zm3 0zm1 0zm11 0zm1 0zm1 0zm2 0zm1 0zm4 0zm2 0zm1 0zm4 0zm1 0zm6 0zm2 0zm4 0zm-171 1zm1 0zm1 0zm69 0zm6 0zm8 0zm7 0zm2 0zm1 0zm1 0zm7 0zm7 0zm1 0zm3 0zm4 0zm1 0zm2 0zm3 0zm4 0zm1 0zm1 0zm1 0zm2 0zm1 0zm1 0zm1 0zm2 0zm2 0zm1 0zm5 0zm2 0zm1 0zm5 0zm5 0zm7 0zm-168 1zm1 0zm1 0zm5 0zm64 0zm1 0zm2 0zm3 0zm5 0zm1 0zm8 0zm1 0zm1 0zm6 0zm5 0zm3 0zm1 0zm2 0zm1 0zm3 0zm1 0zm1 0zm1 0zm6 0zm2 0zm1 0zm9 0zm4 0zm2 0zm2 0zm1 0zm3 0zm2 0zm1 0zm1 0zm1 0zm1 0zm2 0zm1 0zm-160 1zm6 0zm1 0zm1 0zm1 0zm1 0zm1 0zm7 0zm60 0zm3 0zm2 0zm9 0zm1 0zm4 0zm1 0zm2 0zm2 0zm1 0zm2 0zm2 0zm1 0zm4 0zm1 0zm2 0zm1 0zm3 0zm2 0zm1 0zm5 0zm2 0zm3 0zm2 0zm1 0zm1 0zm1 0zm2 0zm1 0zm7 0zm11 0zm11 0zm6 0zm-174 1zm2 0zm2 0zm1 0zm1 0zm72 0zm4 0zm3 0zm1 0zm2 0zm1 0zm2 0zm1 0zm1 0zm10 0zm1 0zm2 0zm2 0zm1 0zm2 0zm2 0zm1 0zm8 0zm2 0zm2 0zm1 0zm5 0zm1 0zm1 0zm10 0zm2 0zm2 0zm3 0zm11 0zm1 0zm1 0zm-159 1zm2 0zm5 0zm1 0zm64 0zm4 0zm5 0zm1 0zm2 0zm4 0zm1 0zm1 0zm2 0zm5 0zm2 0zm1 0zm6 0zm1 0zm1 0zm4 0zm1 0zm6 0zm2 0zm6 0zm4 0zm11 0zm2 0zm4 0zm1 0zm3 0zm1 0zm-154 1zm60 0zm9 0zm1 0zm3 0zm1 0zm1 0zm4 0zm3 0zm2 0zm1 0zm7 0zm4 0zm2 0zm6 0zm1 0zm2 0zm2 0zm2 0zm1 0zm3 0zm1 0zm2 0zm1 0zm1 0zm2 0zm4 0zm1 0zm2 0zm3 0zm4 0zm14 0zm1 0zm1 0zm2 0zm3 0zm3 0zm4 0zm-165 1zm4 0zm1 0zm2 0zm1 0zm1 0zm62 0zm1 0zm2 0zm1 0zm1 0zm3 0zm4 0zm1 0zm2 0zm1 0zm2 0zm4 0zm1 0zm2 0zm1 0zm4 0zm3 0zm3 0zm3 0zm2 0zm2 0zm1 0zm2 0zm3 0zm4 0zm1 0zm3 0zm2 0zm3 0zm1 0zm7 0zm2 0zm5 0zm1 0zm9 0zm4 0zm7 0zm-166 1zm1 0zm1 0zm4 0zm57 0zm5 0zm3 0zm5 0zm1 0zm1 0zm1 0zm3 0zm2 0zm2 0zm2 0zm2 0zm1 0zm2 0zm1 0zm2 0zm2 0zm3 0zm3 0zm5 0zm2 0zm5 0zm1 0zm1 0zm5 0zm4 0zm3 0zm1 0zm4 0zm5 0zm4 0zm2 0zm4 0zm6 0zm-158 1zm1 0zm4 0zm3 0zm54 0zm5 0zm1 0zm2 0zm1 0zm2 0zm2 0zm1 0zm2 0zm3 0zm1 0zm3 0zm2 0zm2 0zm1 0zm5 0zm1 0zm1 0zm2 0zm5 0zm1 0zm1 0zm1 0zm3 0zm1 0zm7 0zm6 0zm1 0zm6 0zm4 0zm4 0zm4 0zm11 0zm3 0zm-159 1zm7 0zm1 0zm1 0zm2 0zm1 0zm51 0zm10 0zm1 0zm1 0zm2 0zm3 0zm1 0zm5 0zm6 0zm4 0zm2 0zm2 0zm2 0zm2 0zm2 0zm1 0zm2 0zm7 0zm2 0zm1 0zm2 0zm1 0zm2 0zm2 0zm5 0zm2 0zm2 0zm1 0zm11 0zm2 0zm5 0zm3 0zm-157 1zm1 0zm5 0zm5 0zm58 0zm5 0zm5 0zm1 0zm3 0zm3 0zm2 0zm3 0zm1 0zm2 0zm2 0zm4 0zm1 0zm1 0zm1 0zm1 0zm1 0zm2 0zm2 0zm2 0zm4 0zm3 0zm1 0zm4 0zm6 0zm2 0zm4 0zm9 0zm1 0zm1 0zm9 0zm1 0zm3 0zm30 0zm-123 1zm5 0zm3 0zm1 0zm2 0zm4 0zm4 0zm1 0zm1 0zm2 0zm3 0zm3 0zm2 0zm2 0zm1 0zm4 0zm4 0zm1 0zm1 0zm3 0zm3 0zm2 0zm3 0zm2 0zm1 0zm4 0zm1 0zm4 0zm4 0zm5 0zm4 0zm2 0zm1 0zm2 0zm7 0zm-158 1zm1 0zm6 0zm1 0zm7 0zm59 0zm1 0zm2 0zm3 0zm2 0zm2 0zm7 0zm2 0zm3 0zm1 0zm4 0zm1 0zm4 0zm1 0zm2 0zm4 0zm1 0zm2 0zm2 0zm1 0zm2 0zm6 0zm1 0zm28 0zm-152 1zm5 0zm1 0zm7 0zm45 0zm9 0zm1 0zm4 0zm1 0zm8 0zm2 0zm3 0zm2 0zm7 0zm1 0zm2 0zm3 0zm13 0zm1 0zm2 0zm5 0zm2 0zm7 0zm1 0zm4 0zm2 0zm5 0zm8 0zm-151 1zm2 0zm5 0zm56 0zm8 0zm4 0zm4 0zm2 0zm5 0zm1 0zm1 0zm2 0zm2 0zm1 0zm2 0zm1 0zm1 0zm2 0zm4 0zm2 0zm1 0zm1 0zm2 0zm3 0zm7 0zm1 0zm5 0zm1 0zm2 0zm5 0zm8 0zm3 0zm1 0zm5 0zm9 0zm-159 1zm5 0zm1 0zm1 0zm1 0zm50 0zm5 0zm3 0zm2 0zm4 0zm2 0zm2 0zm1 0zm3 0zm2 0zm1 0zm2 0zm7 0zm1 0zm1 0zm6 0zm1 0zm1 0zm7 0zm1 0zm11 0zm7 0zm1 0zm1 0zm1 0zm3 0zm26 0zm41 0zm-202 1zm5 0zm2 0zm1 0zm1 0zm2 0zm41 0zm6 0zm10 0zm2 0zm1 0zm3 0zm2 0zm2 0zm7 0zm7 0zm6 0zm1 0zm2 0zm18 0zm4 0zm1 0zm2 0zm2 0zm9 0zm7 0zm5 0zm-144 1zm1 0zm54 0zm2 0zm3 0zm2 0zm1 0zm3 0zm3 0zm8 0zm1 0zm2 0zm6 0zm2 0zm7 0zm4 0zm4 0zm3 0zm3 0zm1 0zm10 0zm15 0zm-138 1zm1 0zm1 0zm2 0zm6 0zm41 0zm1 0zm7 0zm6 0zm5 0zm3 0zm4 0zm2 0zm1 0zm5 0zm1 0zm7 0zm2 0zm1 0zm1 0zm11 0zm2 0zm1 0zm2 0zm5 0zm6 0zm9 0zm3 0zm-132 1zm5 0zm3 0zm38 0zm2 0zm1 0zm2 0zm1 0zm3 0zm2 0zm1 0zm1 0zm4 0zm1 0zm2 0zm3 0zm4 0zm2 0zm1 0zm1 0zm2 0zm8 0zm5 0zm1 0zm1 0zm4 0zm7 0zm5 0zm2 0zm7 0zm4 0zm10 0zm-136 1zm2 0zm2 0zm1 0zm5 0zm43 0zm2 0zm2 0zm2 0zm3 0zm4 0zm6 0zm1 0zm4 0zm1 0zm3 0zm1 0zm5 0zm1 0zm1 0zm3 0zm9 0zm4 0zm1 0zm4 0zm6 0zm7 0zm1 0zm1 0zm8 0zm2 0zm15 0zm-149 1zm1 0zm1 0zm8 0zm4 0zm35 0zm1 0zm1 0zm1 0zm3 0zm1 0zm2 0zm5 0zm4 0zm4 0zm5 0zm2 0zm1 0zm3 0zm3 0zm2 0zm2 0zm1 0zm1 0zm1 0zm4 0zm2 0zm2 0zm1 0zm1 0zm12 0zm-114 1zm7 0zm4 0zm1 0zm34 0zm4 0zm3 0zm3 0zm6 0zm3 0zm1 0zm8 0zm2 0zm3 0zm1 0zm8 0zm3 0zm7 0zm6 0zm9 0zm8 0zm3 0zm6 0zm-126 1zm2 0zm8 0zm28 0zm9 0zm3 0zm4 0zm2 0zm1 0zm5 0zm4 0zm1 0zm2 0zm9 0zm10 0zm3 0zm4 0zm9 0zm2 0zm64 0zm-167 1zm1 0zm2 0zm1 0zm3 0zm1 0zm1 0zm26 0zm3 0zm9 0zm1 0zm2 0zm3 0zm1 0zm1 0zm1 0zm5 0zm10 0zm4 0zm1 0zm1 0zm4 0zm5 0zm10 0zm1 0zm7 0zm2 0zm7 0zm7 0zm-121 1zm2 0zm4 0zm3 0zm12 0zm9 0zm1 0zm8 0zm2 0zm2 0zm2 0zm2 0zm5 0zm1 0zm3 0zm1 0zm8 0zm5 0zm5 0zm1 0zm2 0zm4 0zm2 0zm1 0zm3 0zm6 0zm4 0zm2 0zm18 0zm-118 1zm6 0zm1 0zm1 0zm2 0zm4 0zm6 0zm8 0zm11 0zm6 0zm1 0zm2 0zm8 0zm4 0zm20 0zm10 0zm3 0zm5 0zm4 0zm4 0zm3 0zm8 0zm18 0zm-129 1zm1 0zm1 0zm1 0zm1 0zm1 0zm5 0zm3 0zm6 0zm3 0zm3 0zm2 0zm1 0zm3 0zm2 0zm4 0zm2 0zm1 0zm6 0zm5 0zm6 0zm2 0zm1 0zm3 0zm4 0zm13 0zm1 0zm5 0zm3 0zm1 0zm3 0zm19 0zm-112 1zm4 0zm1 0zm4 0zm4 0zm5 0zm3 0zm3 0zm2 0zm6 0zm2 0zm1 0zm1 0zm3 0zm1 0zm4 0zm2 0zm5 0zm1 0zm1 0zm17 0zm12 0zm5 0zm11 0zm3 0zm79 0zm-180 1zm2 0zm3 0zm2 0zm1 0zm1 0zm1 0zm1 0zm2 0zm2 0zm1 0zm4 0zm3 0zm1 0zm3 0zm1 0zm1 0zm1 0zm1 0zm2 0zm1 0zm2 0zm2 0zm1 0zm1 0zm1 0zm2 0zm1 0zm2 0zm3 0zm1 0zm9 0zm9 0zm18 0zm-83 1zm4 0zm7 0zm1 0zm2 0zm5 0zm6 0zm12 0zm1 0zm1 0zm3 0zm4 0zm26 0zm2 0zm12 0zm1 0zm51 0zm2 0zm-140 1zm1 0zm3 0zm1 0zm2 0zm1 0zm1 0zm9 0zm1 0zm1 0zm1 0zm2 0zm1 0zm1 0zm2 0zm2 0zm4 0zm2 0zm5 0zm9 0zm6 0zm18 0zm5 0zm6 0zm4 0zm1 0zm-87 1zm8 0zm1 0zm2 0zm3 0zm1 0zm3 0zm3 0zm1 0zm1 0zm1 0zm3 0zm23 0zm28 0zm-67 1zm11 0zm3 0zm11 0zm10 0zm3 0zm2 0zm1 0zm5 0zm5 0zm6 0zm-66 1zm8 0zm1 0zm1 0zm2 0zm2 0zm1 0zm8 0zm1 0zm7 0zm20 0zm-49 1zm1 0zm3 0zm8 0zm1 0zm14 0zm3 0zm41 0zm-63 1zm3 0zm1 0zm12 0zm17 0zm-33 1zm1 0zm101 0z"/>
<path transform="scale(1.25)" stroke-width="1" stroke="#2f56aa" d="M961 404zm1 1zm3 1zm1 0zm-3 1zm2 0zm2 0zm-7 1zm4 0zm1 0zm1 0zm2 0zm-1 1zm-6 1zm4 0zm5 0zm-14 1zm5 0zm1 0zm1 0zm2 0zm1 0zm8 0zm-20 1zm6 0zm3 0zm5 0zm2 0zm1 0zm-12 1zm3 0zm1 0zm1 0zm1 0zm4 0zm1 0zm1 0zm-17 1zm4 0zm1 0zm3 0zm1 0zm1 0zm1 0zm2 0zm1 0zm1 0zm-12 1zm8 0zm3 0zm1 0zm2 0zm-11 1zm4 0zm1 0zm3 0zm1 0zm2 0zm-21 1zm2 0zm1 0zm1 0zm2 0zm2 0zm1 0zm4 0zm1 0zm4 0zm1 0zm1 0zm-11 1zm2 0zm4 0zm1 0zm2 0zm2 0zm7 0zm-10 1zm3 0zm7 0zm-24 1zm1 0zm1 0zm1 0zm1 0zm6 0zm3 0zm1 0zm5 0zm-13 1zm1 0zm8 0zm2 0zm-18 1zm1 0zm1 0zm3 0zm8 0zm1 0zm3 0zm1 0zm2 0zm2 0zm1 0zm1 0zm-24 1zm2 0zm1 0zm4 0zm1 0zm3 0zm1 0zm2 0zm1 0zm4 0zm2 0zm4 0zm2 0zm-28 1zm1 0zm1 0zm1 0zm5 0zm1 0zm4 0zm9 0zm3 0zm2 0zm-29 1zm1 0zm2 0zm1 0zm4 0zm4 0zm1 0zm6 0zm2 0zm2 0zm4 0zm-27 1zm7 0zm7 0zm2 0zm8 0zm2 0zm1 0zm-30 1zm5 0zm8 0zm10 0zm3 0zm1 0zm2 0zm-9 1zm1 0zm4 0zm1 0zm-25 1zm1 0zm1 0zm1 0zm3 0zm5 0zm1 0zm5 0zm6 0zm1 0zm1 0zm1 0zm1 0zm7 0zm-34 1zm1 0zm2 0zm2 0zm5 0zm3 0zm11 0zm3 0zm2 0zm1 0zm1 0zm5 0zm-31 1zm6 0zm11 0zm2 0zm1 0zm1 0zm1 0zm-26 1zm2 0zm2 0zm3 0zm13 0zm1 0zm4 0zm2 0zm4 0zm-28 1zm9 0zm9 0zm1 0zm2 0zm4 0zm1 0zm-28 1zm1 0zm1 0zm1 0zm2 0zm20 0zm1 0zm2 0zm-30 1zm2 0zm1 0zm1 0zm15 0zm3 0zm3 0zm3 0zm1 0zm1 0zm-32 1zm2 0zm6 0zm2 0zm19 0zm2 0zm2 0zm-29 1zm2 0zm1 0zm1 0zm15 0zm2 0zm-22 1zm3 0zm1 0zm28 0zm2 0zm-39 1zm6 0zm1 0zm2 0zm1 0zm13 0zm5 0zm1 0zm1 0zm2 0zm1 0zm2 0zm4 0zm1 0zm-36 1zm1 0zm1 0zm5 0zm20 0zm5 0zm-33 1zm1 0zm1 0zm1 0zm1 0zm2 0zm3 0zm19 0zm1 0zm1 0zm5 0zm1 0zm-37 1zm1 0zm5 0zm6 0zm15 0zm2 0zm1 0zm1 0zm3 0zm1 0zm-32 1zm1 0zm1 0zm8 0zm13 0zm5 0zm7 0zm-35 1zm5 0zm1 0zm9 0zm2 0zm1 0zm12 0zm1 0zm-33 1zm1 0zm2 0zm26 0zm7 0zm-38 1zm3 0zm1 0zm1 0zm1 0zm24 0zm1 0zm1 0zm-31 1zm4 0zm1 0zm1 0zm21 0zm6 0zm-31 1zm3 0zm8 0zm9 0zm8 0zm1 0zm7 0zm2 0zm-42 1zm3 0zm1 0zm3 0zm7 0zm20 0zm6 0zm3 0zm-41 1zm5 0zm2 0zm3 0zm14 0zm9 0zm3 0zm-39 1zm6 0zm3 0zm7 0zm17 0zm2 0zm5 0zm-35 1zm13 0zm11 0zm6 0zm-33 1zm1 0zm2 0zm1 0zm1 0zm1 0zm2 0zm1 0zm21 0zm4 0zm-32 1zm5 0zm11 0zm14 0zm1 0zm-33 1zm3 0zm1 0zm2 0zm6 0zm19 0zm4 0zm-36 1zm2 0zm2 0zm5 0zm5 0zm19 0zm-16 1zm2 0zm9 0zm2 0zm-25 1zm1 0zm2 0zm16 0zm4 0zm1 0zm1 0zm2 0zm-25 1zm1 0zm1 0zm3 0zm10 0zm9 0zm3 0zm2 0zm-36 1zm1 0zm4 0zm2 0zm4 0zm16 0zm1 0zm5 0zm3 0zm-34 1zm4 0zm2 0zm2 0zm2 0zm2 0zm9 0zm2 0zm2 0zm1 0zm1 0zm-28 1zm2 0zm1 0zm1 0zm1 0zm3 0zm2 0zm4 0zm10 0zm7 0zm2 0zm3 0zm1 0zm1 0zm-41 1zm2 0zm7 0zm2 0zm7 0zm2 0zm1 0zm6 0zm1 0zm7 0zm1 0zm-34 1zm6 0zm4 0zm4 0zm3 0zm6 0zm2 0zm7 0zm-27 1zm2 0zm3 0zm1 0zm1 0zm2 0zm1 0zm8 0zm1 0zm12 0zm2 0zm-33 1zm2 0zm1 0zm4 0zm1 0zm11 0zm2 0zm3 0zm-29 1zm1 0zm4 0zm3 0zm1 0zm8 0zm3 0zm1 0zm1 0zm1 0zm3 0zm4 0zm1 0zm1 0zm2 0zm2 0zm-34 1zm1 0zm4 0zm1 0zm5 0zm18 0zm2 0zm1 0zm3 0zm-30 1zm1 0zm5 0zm1 0zm1 0zm3 0zm11 0zm-25 1zm2 0zm1 0zm1 0zm1 0zm1 0zm21 0zm6 0zm-36 1zm7 0zm7 0zm3 0zm5 0zm4 0zm3 0zm1 0zm5 0zm2 0zm-34 1zm4 0zm4 0zm2 0zm8 0zm1 0zm4 0zm5 0zm-30 1zm4 0zm3 0zm2 0zm2 0zm1 0zm1 0zm2 0zm2 0zm2 0zm3 0zm3 0zm2 0zm3 0zm3 0zm-32 1zm1 0zm3 0zm1 0zm1 0zm1 0zm1 0zm1 0zm2 0zm1 0zm5 0zm6 0zm1 0zm2 0zm5 0zm-28 1zm1 0zm4 0zm1 0zm1 0zm6 0zm1 0zm3 0zm2 0zm1 0zm2 0zm1 0zm2 0zm2 0zm-28 1zm2 0zm3 0zm5 0zm2 0zm1 0zm5 0zm3 0zm1 0zm-22 1zm1 0zm4 0zm4 0zm1 0zm4 0zm1 0zm1 0zm5 0zm1 0zm4 0zm-27 1zm2 0zm1 0zm3 0zm4 0zm2 0zm7 0zm1 0zm1 0zm2 0zm1 0zm-30 1zm5 0zm11 0zm3 0zm1 0zm3 0zm2 0zm3 0zm1 0zm-12 1zm1 0zm1 0zm2 0zm3 0zm4 0zm1 0zm1 0zm7 0zm-31 1zm1 0zm11 0zm9 0zm1 0zm4 0zm-23 1zm2 0zm1 0zm2 0zm1 0zm9 0zm1 0zm1 0zm2 0zm3 0zm-17 1zm1 0zm2 0zm4 0zm4 0zm1 0zm4 0zm3 0zm2 0zm1 0zm-28 1zm16 0zm1 0zm4 0zm1 0zm-26 1zm7 0zm3 0zm5 0zm4 0zm2 0zm1 0zm2 0zm3 0zm-23 1zm3 0zm5 0zm6 0zm5 0zm5 0zm-25 1zm2 0zm2 0zm1 0zm2 0zm9 0zm3 0zm5 0zm-23 1zm1 0zm1 0zm1 0zm3 0zm1 0zm1 0zm2 0zm1 0zm1 0zm8 0zm3 0zm2 0zm-28 1zm1 0zm1 0zm1 0zm4 0zm14 0zm4 0zm-24 1zm5 0zm1 0zm4 0zm1 0zm1 0zm2 0zm5 0zm2 0zm2 0zm2 0zm2 0zm-16 1zm5 0zm4 0zm1 0zm3 0zm-38 1zm11 0zm9 0zm4 0zm2 0zm3 0zm2 0zm5 0zm-30 1zm19 0zm7 0zm5 0zm2 0zm1 0zm3 0zm-35 1zm23 0zm1 0zm4 0zm1 0zm1 0zm3 0zm2 0zm-25 1zm6 0zm1 0zm1 0zm1 0zm2 0zm2 0zm6 0zm3 0zm-19 1zm1 0zm3 0zm4 0zm5 0zm1 0zm1 0zm3 0zm2 0zm1 0zm-20 1zm1 0zm2 0zm1 0zm3 0zm5 0zm2 0zm3 0zm1 0zm2 0zm1 0zm-21 1zm2 0zm2 0zm1 0zm9 0zm7 0zm1 0zm-26 1zm1 0zm5 0zm2 0zm17 0zm-28 1zm13 0zm2 0zm1 0zm8 0zm1 0zm2 0zm-34 1zm5 0zm1 0zm16 0zm2 0zm1 0zm1 0zm1 0zm3 0zm-24 1zm1 0zm21 0zm8 0zm-34 1zm2 0zm14 0zm1 0zm1 0zm2 0zm4 0zm5 0zm-28 1zm2 0zm5 0zm2 0zm1 0zm5 0zm2 0zm2 0zm4 0zm6 0zm-28 1zm5 0zm6 0zm2 0zm2 0zm2 0zm2 0zm7 0zm4 0zm-34 1zm3 0zm1 0zm3 0zm4 0zm1 0zm1 0zm1 0zm8 0zm2 0zm3 0zm1 0zm5 0zm-25 1zm1 0zm3 0zm1 0zm2 0zm3 0zm2 0zm1 0zm7 0zm7 0zm-24 1zm1 0zm3 0zm1 0zm1 0zm2 0zm1 0zm2 0zm1 0zm1 0zm4 0zm10 0zm-29 1zm1 0zm2 0zm5 0zm3 0zm-19 1zm5 0zm2 0zm2 0zm2 0zm2 0zm10 0zm4 0zm-11 1zm2 0zm4 0zm-17 1zm5 0zm1 0zm2 0zm2 0zm7 0zm-11 1zm5 0zm1 0zm3 0zm2 0zm2 0zm4 0zm-130 1zm7 0zm95 0zm4 0zm8 0zm2 0zm1 0zm6 0zm1 0zm1 0zm1 0zm1 0zm-15 1zm1 0zm1 0zm3 0zm4 0zm1 0zm6 0zm15 0zm-141 1zm103 0zm1 0zm2 0zm1 0zm1 0zm3 0zm4 0zm2 0zm4 0zm5 0zm2 0zm4 0zm-24 1zm1 0zm2 0zm1 0zm2 0zm1 0zm6 0zm1 0zm3 0zm-19 1zm4 0zm3 0zm1 0zm2 0zm2 0zm1 0zm4 0zm3 0zm4 0zm10 0zm-133 1zm7 0zm83 0zm8 0zm1 0zm1 0zm3 0zm2 0zm1 0zm5 0zm3 0zm1 0zm3 0zm5 0zm7 0zm5 0zm3 0zm-146 1zm105 0zm3 0zm1 0zm3 0zm1 0zm1 0zm2 0zm2 0zm1 0zm2 0zm14 0zm4 0zm5 0zm-49 1zm5 0zm9 0zm1 0zm6 0zm1 0zm2 0zm6 0zm1 0zm2 0zm2 0zm10 0zm-44 1zm3 0zm9 0zm1 0zm1 0zm6 0zm2 0zm1 0zm1 0zm2 0zm2 0zm1 0zm2 0zm1 0zm2 0zm1 0zm1 0zm2 0zm-36 1zm7 0zm4 0zm6 0zm5 0zm2 0zm2 0zm2 0zm2 0zm2 0zm1 0zm2 0zm3 0zm-139 1zm9 0zm90 0zm9 0zm2 0zm1 0zm4 0zm3 0zm1 0zm3 0zm2 0zm1 0zm7 0zm1 0zm1 0zm1 0zm1 0zm1 0zm1 0zm1 0zm1 0zm-131 1zm88 0zm8 0zm4 0zm1 0zm1 0zm1 0zm1 0zm2 0zm6 0zm3 0zm3 0zm2 0zm8 0zm1 0zm3 0zm-138 1zm6 0zm2 0zm87 0zm4 0zm3 0zm2 0zm3 0zm1 0zm1 0zm4 0zm3 0zm4 0zm4 0zm7 0zm1 0zm1 0zm1 0zm-133 1zm6 0zm91 0zm3 0zm1 0zm2 0zm6 0zm2 0zm4 0zm1 0zm3 0zm6 0zm1 0zm5 0zm4 0zm-136 1zm5 0zm3 0zm17 0zm2 0zm68 0zm4 0zm3 0zm2 0zm5 0zm1 0zm9 0zm6 0zm2 0zm5 0zm2 0zm4 0zm7 0zm-146 1zm3 0zm7 0zm83 0zm7 0zm4 0zm3 0zm3 0zm2 0zm1 0zm1 0zm5 0zm1 0zm1 0zm10 0zm3 0zm1 0zm1 0zm2 0zm7 0zm-145 1zm10 0zm5 0zm3 0zm6 0zm2 0zm75 0zm3 0zm1 0zm2 0zm1 0zm2 0zm1 0zm5 0zm2 0zm1 0zm2 0zm1 0zm5 0zm1 0zm10 0zm6 0zm1 0zm1 0zm1 0zm-148 1zm1 0zm2 0zm3 0zm1 0zm6 0zm35 0zm51 0zm6 0zm6 0zm1 0zm3 0zm3 0zm4 0zm6 0zm4 0zm4 0zm-138 1zm3 0zm1 0zm1 0zm2 0zm2 0zm4 0zm73 0zm18 0zm1 0zm4 0zm1 0zm5 0zm3 0zm4 0zm2 0zm2 0zm1 0zm4 0zm15 0zm-145 1zm4 0zm3 0zm1 0zm5 0zm104 0zm1 0zm2 0zm11 0zm1 0zm-137 1zm4 0zm9 0zm1 0zm3 0zm1 0zm2 0zm5 0zm78 0zm1 0zm7 0zm3 0zm2 0zm1 0zm7 0zm6 0zm1 0zm2 0zm5 0zm1 0zm5 0zm-144 1zm4 0zm2 0zm1 0zm2 0zm1 0zm1 0zm3 0zm1 0zm1 0zm2 0zm1 0zm12 0zm4 0zm70 0zm1 0zm2 0zm4 0zm1 0zm1 0zm3 0zm4 0zm1 0zm2 0zm1 0zm2 0zm1 0zm1 0zm1 0zm7 0zm1 0zm-137 1zm4 0zm4 0zm5 0zm1 0zm1 0zm11 0zm21 0zm20 0zm20 0zm22 0zm4 0zm2 0zm1 0zm2 0zm2 0zm3 0zm2 0zm1 0zm1 0zm3 0zm10 0zm3 0zm1 0zm-151 1zm3 0zm7 0zm5 0zm2 0zm1 0zm1 0zm1 0zm4 0zm1 0zm2 0zm2 0zm4 0zm40 0zm2 0zm37 0zm1 0zm2 0zm4 0zm2 0zm2 0zm3 0zm3 0zm8 0zm1 0zm1 0zm1 0zm5 0zm1 0zm1 0zm-138 1zm2 0zm1 0zm1 0zm2 0zm3 0zm3 0zm1 0zm2 0zm1 0zm4 0zm3 0zm2 0zm1 0zm6 0zm44 0zm23 0zm3 0zm6 0zm3 0zm3 0zm2 0zm2 0zm5 0zm7 0zm5 0zm2 0zm-137 1zm1 0zm1 0zm1 0zm2 0zm4 0zm1 0zm1 0zm2 0zm3 0zm2 0zm2 0zm1 0zm2 0zm1 0zm1 0zm81 0zm1 0zm3 0zm3 0zm1 0zm2 0zm6 0zm3 0zm5 0zm1 0zm4 0zm2 0zm3 0zm-147 1zm1 0zm9 0zm1 0zm2 0zm1 0zm2 0zm2 0zm2 0zm1 0zm4 0zm2 0zm2 0zm3 0zm5 0zm7 0zm40 0zm1 0zm4 0zm3 0zm9 0zm4 0zm5 0zm1 0zm2 0zm3 0zm2 0zm2 0zm1 0zm3 0zm1 0zm7 0zm1 0zm4 0zm5 0zm3 0zm-144 1zm6 0zm2 0zm4 0zm1 0zm3 0zm2 0zm2 0zm4 0zm1 0zm1 0zm4 0zm2 0zm1 0zm1 0zm2 0zm1 0zm39 0zm3 0zm5 0zm6 0zm1 0zm3 0zm4 0zm2 0zm1 0zm2 0zm8 0zm4 0zm3 0zm2 0zm2 0zm8 0zm1 0zm2 0zm1 0zm1 0zm4 0zm3 0zm1 0zm1 0zm-141 1zm2 0zm1 0zm2 0zm6 0zm3 0zm2 0zm1 0zm3 0zm8 0zm2 0zm3 0zm54 0zm5 0zm3 0zm1 0zm1 0zm1 0zm5 0zm5 0zm1 0zm2 0zm6 0zm3 0zm2 0zm1 0zm2 0zm2 0zm1 0zm2 0zm7 0zm1 0zm3 0zm-146 1zm2 0zm1 0zm2 0zm2 0zm3 0zm7 0zm3 0zm4 0zm6 0zm1 0zm2 0zm2 0zm3 0zm2 0zm8 0zm41 0zm2 0zm1 0zm2 0zm3 0zm3 0zm2 0zm2 0zm5 0zm1 0zm6 0zm1 0zm2 0zm3 0zm1 0zm2 0zm1 0zm5 0zm3 0zm4 0zm6 0zm1 0zm-147 1zm3 0zm3 0zm2 0zm4 0zm1 0zm9 0zm5 0zm2 0zm2 0zm1 0zm1 0zm3 0zm1 0zm6 0zm5 0zm1 0zm30 0zm14 0zm1 0zm1 0zm2 0zm9 0zm2 0zm2 0zm1 0zm2 0zm1 0zm1 0zm2 0zm11 0zm6 0zm3 0zm1 0zm1 0zm4 0zm1 0zm1 0zm2 0zm4 0zm-146 1zm1 0zm1 0zm1 0zm1 0zm2 0zm1 0zm14 0zm2 0zm5 0zm1 0zm1 0zm1 0zm2 0zm1 0zm1 0zm1 0zm2 0zm1 0zm3 0zm1 0zm29 0zm13 0zm5 0zm2 0zm1 0zm3 0zm1 0zm8 0zm3 0zm2 0zm1 0zm1 0zm2 0zm2 0zm1 0zm3 0zm2 0zm2 0zm1 0zm2 0zm3 0zm1 0zm2 0zm1 0zm2 0zm1 0zm1 0zm1 0zm-142 1zm12 0zm1 0zm3 0zm2 0zm3 0zm4 0zm7 0zm2 0zm2 0zm1 0zm1 0zm2 0zm1 0zm1 0zm6 0zm1 0zm44 0zm3 0zm1 0zm3 0zm3 0zm3 0zm6 0zm2 0zm2 0zm1 0zm2 0zm1 0zm2 0zm1 0zm2 0zm4 0zm2 0zm1 0zm1 0zm2 0zm2 0zm1 0zm2 0zm1 0zm1 0zm1 0zm-147 1zm1 0zm1 0zm1 0zm2 0zm6 0zm5 0zm3 0zm2 0zm10 0zm8 0zm1 0zm3 0zm4 0zm3 0zm1 0zm1 0zm4 0zm9 0zm11 0zm2 0zm3 0zm12 0zm9 0zm1 0zm6 0zm8 0zm1 0zm4 0zm3 0zm2 0zm3 0zm1 0zm3 0zm2 0zm3 0zm1 0zm1 0zm2 0zm2 0zm1 0zm2 0zm-148 1zm2 0zm3 0zm3 0zm1 0zm1 0zm4 0zm7 0zm10 0zm6 0zm3 0zm1 0zm1 0zm7 0zm7 0zm14 0zm2 0zm13 0zm24 0zm4 0zm1 0zm6 0zm2 0zm2 0zm1 0zm1 0zm3 0zm1 0zm1 0zm5 0zm1 0zm5 0zm13 0zm-160 1zm5 0zm2 0zm5 0zm1 0zm2 0zm1 0zm24 0zm4 0zm3 0zm2 0zm2 0zm1 0zm5 0zm1 0zm19 0zm18 0zm2 0zm9 0zm2 0zm12 0zm4 0zm4 0zm7 0zm1 0zm4 0zm8 0zm9 0zm-149 1zm2 0zm7 0zm9 0zm9 0zm8 0zm1 0zm4 0zm3 0zm1 0zm1 0zm2 0zm5 0zm4 0zm11 0zm2 0zm2 0zm4 0zm11 0zm1 0zm2 0zm7 0zm1 0zm3 0zm2 0zm7 0zm1 0zm1 0zm1 0zm1 0zm2 0zm1 0zm3 0zm2 0zm2 0zm2 0zm2 0zm1 0zm-135 1zm3 0zm6 0zm1 0zm1 0zm3 0zm7 0zm19 0zm6 0zm2 0zm1 0zm1 0zm2 0zm1 0zm2 0zm2 0zm1 0zm35 0zm3 0zm5 0zm4 0zm10 0zm2 0zm1 0zm1 0zm1 0zm3 0zm1 0zm4 0zm1 0zm3 0zm-130 1zm2 0zm4 0zm1 0zm1 0zm3 0zm1 0zm26 0zm1 0zm7 0zm4 0zm1 0zm7 0zm17 0zm1 0zm13 0zm9 0zm1 0zm2 0zm3 0zm2 0zm1 0zm2 0zm3 0zm3 0zm1 0zm2 0zm5 0zm2 0zm4 0zm2 0zm3 0zm2 0zm1 0zm1 0zm-138 1zm1 0zm3 0zm1 0zm37 0zm3 0zm4 0zm1 0zm4 0zm3 0zm7 0zm9 0zm3 0zm5 0zm12 0zm4 0zm8 0zm1 0zm5 0zm3 0zm3 0zm6 0zm2 0zm1 0zm2 0zm3 0zm-133 1zm1 0zm4 0zm2 0zm2 0zm3 0zm18 0zm4 0zm5 0zm3 0zm2 0zm7 0zm5 0zm3 0zm10 0zm17 0zm1 0zm5 0zm10 0zm2 0zm3 0zm5 0zm2 0zm2 0zm1 0zm1 0zm1 0zm2 0zm4 0zm2 0zm2 0zm3 0zm1 0zm1 0zm-137 1zm2 0zm3 0zm6 0zm2 0zm32 0zm1 0zm1 0zm2 0zm3 0zm1 0zm1 0zm2 0zm2 0zm7 0zm1 0zm2 0zm7 0zm1 0zm3 0zm2 0zm6 0zm8 0zm1 0zm7 0zm13 0zm1 0zm6 0zm9 0zm1 0zm4 0zm4 0zm3 0zm-143 1zm3 0zm7 0zm1 0zm19 0zm1 0zm15 0zm1 0zm3 0zm2 0zm5 0zm2 0zm2 0zm1 0zm3 0zm2 0zm1 0zm3 0zm8 0zm3 0zm6 0zm2 0zm6 0zm3 0zm5 0zm6 0zm5 0zm1 0zm2 0zm1 0zm3 0zm1 0zm2 0zm7 0zm2 0zm7 0zm2 0zm1 0zm13 0zm-103 1zm24 0zm2 0zm10 0zm1 0zm2 0zm13 0zm2 0zm5 0zm3 0zm1 0zm1 0zm4 0zm13 0zm7 0zm1 0zm-143 1zm3 0zm3 0zm39 0zm1 0zm8 0zm1 0zm1 0zm3 0zm2 0zm4 0zm1 0zm1 0zm1 0zm1 0zm8 0zm1 0zm8 0zm6 0zm1 0zm1 0zm2 0zm1 0zm1 0zm2 0zm6 0zm6 0zm2 0zm4 0zm2 0zm7 0zm1 0zm13 0zm2 0zm-142 1zm4 0zm1 0zm44 0zm5 0zm1 0zm2 0zm3 0zm7 0zm2 0zm17 0zm3 0zm3 0zm4 0zm5 0zm1 0zm4 0zm5 0zm1 0zm5 0zm4 0zm1 0zm2 0zm1 0zm4 0zm-131 1zm2 0zm2 0zm3 0zm1 0zm1 0zm3 0zm33 0zm13 0zm1 0zm10 0zm3 0zm2 0zm3 0zm3 0zm3 0zm5 0zm1 0zm1 0zm3 0zm2 0zm4 0zm3 0zm3 0zm1 0zm1 0zm6 0zm1 0zm2 0zm4 0zm3 0zm-120 1zm2 0zm3 0zm39 0zm1 0zm2 0zm11 0zm2 0zm3 0zm1 0zm4 0zm6 0zm2 0zm7 0zm3 0zm5 0zm2 0zm1 0zm1 0zm1 0zm1 0zm3 0zm2 0zm2 0zm4 0zm1 0zm5 0zm2 0zm7 0zm3 0zm12 0zm17 0zm-157 1zm4 0zm30 0zm15 0zm1 0zm11 0zm2 0zm3 0zm1 0zm2 0zm5 0zm5 0zm5 0zm1 0zm3 0zm1 0zm1 0zm4 0zm8 0zm4 0zm1 0zm9 0zm4 0zm-120 1zm1 0zm2 0zm1 0zm1 0zm51 0zm5 0zm11 0zm2 0zm2 0zm2 0zm2 0zm4 0zm2 0zm9 0zm8 0zm11 0zm1 0zm1 0zm2 0zm19 0zm-141 1zm2 0zm4 0zm2 0zm1 0zm1 0zm2 0zm47 0zm2 0zm2 0zm2 0zm2 0zm3 0zm3 0zm2 0zm8 0zm1 0zm1 0zm2 0zm1 0zm4 0zm5 0zm1 0zm3 0zm8 0zm1 0zm1 0zm1 0zm8 0zm7 0zm1 0zm11 0zm-133 1zm2 0zm1 0zm3 0zm2 0zm38 0zm10 0zm3 0zm1 0zm9 0zm2 0zm6 0zm2 0zm7 0zm3 0zm4 0zm8 0zm11 0zm11 0zm5 0zm-133 1zm3 0zm1 0zm3 0zm1 0zm44 0zm1 0zm6 0zm2 0zm2 0zm4 0zm5 0zm1 0zm1 0zm6 0zm5 0zm1 0zm3 0zm4 0zm1 0zm1 0zm4 0zm4 0zm6 0zm5 0zm3 0zm2 0zm12 0zm2 0zm2 0zm-135 1zm49 0zm3 0zm6 0zm2 0zm1 0zm4 0zm1 0zm1 0zm2 0zm1 0zm3 0zm1 0zm3 0zm16 0zm2 0zm4 0zm11 0zm3 0zm1 0zm1 0zm12 0zm-127 1zm1 0zm1 0zm60 0zm2 0zm6 0zm3 0zm2 0zm2 0zm11 0zm1 0zm2 0zm1 0zm6 0zm4 0zm8 0zm4 0zm17 0zm4 0zm2 0zm-137 1zm1 0zm3 0zm2 0zm48 0zm3 0zm2 0zm3 0zm7 0zm7 0zm13 0zm8 0zm4 0zm10 0zm3 0zm9 0zm1 0zm1 0zm1 0zm1 0zm3 0zm2 0zm2 0zm-133 1zm3 0zm2 0zm42 0zm5 0zm1 0zm1 0zm9 0zm4 0zm23 0zm2 0zm3 0zm12 0zm3 0zm1 0zm7 0zm8 0zm8 0zm4 0zm-138 1zm2 0zm2 0zm1 0zm1 0zm2 0zm31 0zm15 0zm1 0zm5 0zm6 0zm7 0zm1 0zm17 0zm1 0zm15 0zm4 0zm-108 1zm55 0zm1 0zm1 0zm4 0zm7 0zm3 0zm14 0zm4 0zm-88 1zm5 0zm41 0zm5 0zm4 0zm4 0zm10 0zm2 0zm2 0zm10 0zm8 0zm1 0zm21 0zm-116 1zm3 0zm1 0zm2 0zm45 0zm2 0zm5 0zm1 0zm7 0zm1 0zm2 0zm1 0zm10 0zm7 0zm7 0zm25 0zm-119 1zm2 0zm1 0zm3 0zm52 0zm3 0zm1 0zm1 0zm1 0zm3 0zm8 0zm1 0zm1 0zm1 0zm19 0zm4 0zm17 0zm-119 1zm1 0zm1 0zm1 0zm1 0zm1 0zm38 0zm6 0zm4 0zm7 0zm5 0zm3 0zm1 0zm10 0zm4 0zm5 0zm11 0zm2 0zm-101 1zm4 0zm49 0zm1 0zm4 0zm3 0zm2 0zm1 0zm3 0zm21 0zm-83 1zm1 0zm48 0zm4 0zm1 0zm2 0zm8 0zm13 0zm6 0zm-86 1zm1 0zm1 0zm1 0zm1 0zm2 0zm43 0zm5 0zm2 0zm4 0zm8 0zm20 0zm-87 1zm2 0zm45 0zm2 0zm2 0zm1 0zm2 0zm2 0zm1 0zm1 0zm1 0zm41 0zm2 0zm-103 1zm1 0zm1 0zm48 0zm1 0zm1 0zm2 0zm14 0zm21 0zm16 0zm-106 1zm5 0zm1 0zm48 0zm1 0zm5 0zm42 0zm1 0zm-105 1zm1 0zm4 0zm45 0zm2 0zm2 0zm1 0zm1 0zm1 0zm2 0zm1 0zm2 0zm44 0zm-105 1zm1 0zm2 0zm44 0zm4 0zm1 0zm2 0zm2 0zm-56 1zm3 0zm1 0zm43 0zm4 0zm5 0zm3 0zm2 0zm1 0zm7 0zm-70 1zm44 0zm5 0zm3 0zm4 0zm1 0zm1 0zm1 0zm3 0zm5 0zm-62 1zm1 0zm1 0zm42 0zm4 0zm2 0zm1 0zm2 0zm5 0zm-18 1zm5 0zm1 0zm6 0zm1 0zm5 0zm-56 1zm39 0zm5 0zm3 0zm1 0zm1 0zm2 0zm1 0zm2 0zm1 0zm5 0zm-62 1zm1 0zm1 0zm1 0zm1 0zm3 0zm1 0zm34 0zm1 0zm1 0zm1 0zm1 0zm1 0zm1 0zm1 0zm2 0zm2 0zm3 0zm-53 1zm38 0zm1 0zm3 0zm4 0zm7 0zm-53 1zm2 0zm1 0zm32 0zm5 0zm-43 1zm4 0zm1 0zm1 0zm1 0zm2 0zm26 0zm3 0zm1 0zm1 0zm1 0zm1 0zm1 0zm-40 1zm2 0zm1 0zm1 0zm9 0zm15 0zm4 0zm3 0zm1 0zm-35 1zm11 0zm1 0zm6 0zm10 0zm-23 1zm4 0zm3 0zm1 0zm2 0zm9 0zm3 0zm1 0zm1 0zm2 0zm2 0zm3 0zm1 0zm-34 1zm4 0zm3 0zm3 0zm1 0zm1 0zm3 0zm1 0zm3 0zm4 0zm2 0zm3 0zm2 0zm1 0zm2 0zm-28 1zm1 0zm2 0zm2 0zm3 0zm2 0zm1 0zm1 0zm2 0zm1 0zm9 0zm1 0zm5 0zm-31 1zm5 0zm1 0zm6 0zm2 0zm2 0zm5 0zm-14 1zm3 0zm1 0zm1 0zm3 0zm4 0zm5 0zm3 0zm2 0zm4 0zm-28 1zm7 0zm2 1z"/>
<path transform="scale(1.25)" stroke-width="1" stroke="#58b4d4" d="M964 410zm5 1zm-7 4zm1 0zm4 0zm-12 1zm3 0zm5 0zm-2 1zm-7 1zm4 0zm2 0zm7 0zm2 0zm2 0zm-12 1zm5 0zm1 0zm3 0zm-10 1zm2 0zm1 0zm3 0zm4 0zm1 0zm1 0zm-17 1zm9 0zm1 0zm1 0zm2 0zm1 0zm2 0zm2 0zm-9 1zm2 0zm3 0zm4 0zm-14 1zm4 1zm1 0zm1 0zm4 0zm1 0zm-3 1zm6 0zm2 0zm1 0zm-22 1zm2 0zm7 0zm1 0zm8 0zm1 0zm-21 1zm4 0zm3 0zm1 0zm3 0zm3 0zm6 0zm-18 1zm2 0zm1 0zm1 0zm1 0zm6 0zm7 0zm6 0zm-25 1zm12 0zm-12 1zm2 0zm1 0zm4 0zm1 0zm3 0zm2 0zm1 0zm7 0zm1 0zm2 0zm-24 1zm2 0zm2 0zm6 0zm4 0zm1 0zm1 0zm1 0zm2 0zm-19 1zm3 0zm2 0zm9 0zm11 0zm1 0zm-25 1zm2 0zm5 0zm4 0zm8 0zm3 0zm-18 1zm5 0zm7 0zm1 0zm1 0zm1 0zm-19 1zm2 0zm9 0zm11 0zm-24 1zm4 0zm4 0zm7 0zm6 0zm1 0zm1 0zm4 0zm-22 1zm5 0zm13 0zm1 0zm-20 1zm2 0zm2 0zm5 0zm7 0zm1 0zm-20 1zm3 0zm10 0zm3 0zm3 0zm4 0zm-23 1zm17 0zm2 0zm3 0zm4 0zm-24 1zm4 0zm2 0zm6 0zm-10 1zm1 0zm6 0zm5 0zm1 0zm3 0zm6 0zm-30 1zm4 0zm1 0zm1 0zm3 0zm11 0zm5 0zm2 0zm3 0zm-27 1zm1 0zm9 0zm2 0zm5 0zm3 0zm3 0zm2 0zm-22 1zm1 0zm5 0zm3 0zm3 0zm7 0zm-15 1zm7 0zm3 0zm3 0zm2 0zm1 0zm-25 1zm5 0zm2 0zm1 0zm13 0zm2 0zm2 0zm1 0zm-21 1zm4 0zm4 0zm7 0zm1 0zm4 0zm1 0zm5 0zm-30 1zm3 0zm3 0zm4 0zm3 0zm7 0zm-20 1zm4 0zm1 0zm2 0zm2 0zm2 0zm8 0zm5 0zm1 0zm3 0zm-24 1zm1 0zm1 0zm2 0zm2 0zm-9 1zm1 0zm1 0zm3 0zm1 0zm2 0zm1 0zm4 0zm4 0zm5 0zm3 0zm-20 1zm3 0zm2 0zm4 0zm4 0zm8 0zm-33 1zm7 0zm3 0zm10 0zm-14 1zm3 0zm1 0zm4 0zm2 0zm3 0zm2 0zm1 0zm2 0zm1 0zm2 0zm4 0zm2 0zm-25 1zm3 0zm4 0zm1 0zm2 0zm2 0zm7 0zm5 0zm2 0zm-24 1zm2 0zm4 0zm7 0zm6 0zm3 0zm-31 1zm6 0zm2 0zm1 0zm1 0zm1 0zm1 0zm5 0zm13 0zm-27 1zm6 0zm1 0zm2 0zm15 0zm1 0zm6 0zm-29 1zm6 0zm1 0zm1 0zm8 0zm2 0zm2 0zm4 0zm2 0zm-31 1zm2 0zm2 0zm4 0zm4 0zm17 0zm1 0zm2 0zm1 0zm-34 1zm10 0zm2 0zm4 0zm3 0zm1 0zm1 0zm3 0zm3 0zm1 0zm1 0zm1 0zm-20 1zm3 0zm1 0zm8 0zm2 0zm3 0zm2 0zm-25 1zm4 0zm5 0zm2 0zm1 0zm2 0zm10 0zm2 0zm3 0zm1 0zm-28 1zm2 0zm8 0zm2 0zm2 0zm1 0zm1 0zm3 0zm1 0zm2 0zm1 0zm1 0zm1 0zm1 0zm1 0zm-12 1zm1 0zm8 0zm-23 1zm6 0zm3 0zm9 0zm4 0zm-20 1zm2 0zm1 0zm8 0zm1 0zm1 0zm1 0zm1 0zm1 0zm3 0zm2 0zm2 0zm-16 1zm1 0zm3 0zm-9 1zm1 0zm4 0zm3 0zm1 0zm1 0zm6 0zm3 0zm-23 1zm15 0zm6 0zm-19 1zm1 0zm1 0zm5 0zm2 0zm1 0zm1 0zm5 0zm1 0zm2 0zm2 0zm-14 1zm4 0zm2 0zm3 0zm3 0zm3 0zm-18 1zm4 0zm1 0zm5 0zm-13 1zm4 0zm2 0zm1 0zm5 0zm2 0zm-13 1zm1 0zm17 0zm-13 1zm1 0zm1 0zm-1 1zm2 0zm3 1zm2 0zm1 0zm-18 1zm7 0zm10 0zm5 0zm-16 1zm11 0zm3 0zm1 0zm-7 1zm4 0zm2 0zm3 0zm1 0zm1 0zm-15 1zm4 0zm1 0zm3 0zm1 0zm3 0zm-15 1zm3 0zm4 0zm3 0zm1 0zm4 0zm1 0zm2 0zm-10 1zm6 0zm3 0zm-21 1zm14 0zm4 0zm-8 1zm2 0zm1 0zm-18 1zm10 0zm5 0zm1 0zm-14 1zm2 0zm2 0zm10 0zm4 0zm-18 1zm14 0zm1 0zm-16 1zm12 1zm-1 1zm4 0zm4 0zm-1 1zm-14 1zm12 0zm1 1zm-9 1zm4 0zm-5 1zm2 0zm2 1zm2 0zm13 0zm-20 1zm5 0zm5 0zm-5 1zm1 0zm1 0zm-10 1zm7 0zm6 0zm3 1zm2 0zm-21 1zm13 2zm-11 1zm4 0zm2 0zm-2 4zm6 0zm2 0zm-9 1zm15 1zm-7 1zm-122 2zm122 0zm2 0zm1 0zm-3 1zm6 0zm3 0zm-24 1zm15 0zm-6 1zm6 0zm3 0zm3 0zm1 0zm2 0zm-23 1zm8 0zm2 0zm8 0zm1 0zm2 0zm2 0zm-22 1zm7 0zm-3 1zm1 0zm2 0zm14 0zm8 0zm-31 1zm4 0zm1 0zm2 0zm6 0zm2 0zm-10 1zm7 0zm2 0zm8 0zm-23 1zm6 0zm14 0zm3 0zm-23 1zm10 0zm3 0zm4 0zm3 0zm3 0zm-23 1zm13 0zm-26 1zm15 0zm11 0zm17 0zm-25 1zm22 0zm-124 1zm2 0zm-10 1zm6 0zm109 0zm3 0zm1 0zm-10 1zm-111 1zm2 0zm8 0zm103 0zm8 0zm11 0zm-23 1zm14 0zm8 0zm-129 1zm128 0zm-124 1zm108 0zm3 0zm6 0zm5 0zm1 0zm8 0zm-128 1zm101 0zm5 0zm5 0zm3 0zm1 0zm5 0zm-113 1zm5 0zm81 0zm17 0zm3 0zm1 0zm1 0zm-120 1zm7 0zm3 0zm2 0zm99 0zm5 0zm1 0zm3 0zm5 0zm4 0zm-126 1zm13 0zm1 0zm72 0zm12 0zm4 0zm7 0zm8 0zm1 0zm1 0zm12 0zm-146 1zm3 0zm1 0zm9 0zm8 0zm7 0zm87 0zm7 0zm1 0zm-123 1zm3 0zm5 0zm2 0zm1 0zm9 0zm1 0zm2 0zm3 0zm92 0zm17 0zm6 0zm-138 1zm5 0zm1 0zm2 0zm8 0zm7 0zm98 0zm6 0zm2 0zm1 0zm3 0zm-134 1zm8 0zm5 0zm3 0zm2 0zm10 0zm63 0zm14 0zm6 0zm1 0zm2 0zm4 0zm2 0zm8 0zm1 0zm6 0zm-140 1zm8 0zm3 0zm1 0zm1 0zm1 0zm1 0zm12 0zm1 0zm1 0zm62 0zm25 0zm2 0zm4 0zm13 0zm-134 1zm7 0zm11 0zm1 0zm2 0zm2 0zm3 0zm1 0zm1 0zm2 0zm2 0zm2 0zm4 0zm76 0zm19 0zm-129 1zm1 0zm2 0zm1 0zm4 0zm8 0zm1 0zm1 0zm1 0zm5 0zm1 0zm2 0zm80 0zm3 0zm4 0zm3 0zm3 0zm-118 1zm1 0zm3 0zm1 0zm3 0zm1 0zm6 0zm1 0zm3 0zm6 0zm10 0zm1 0zm53 0zm4 0zm12 0zm2 0zm3 0zm6 0zm-118 1zm6 0zm3 0zm1 0zm1 0zm1 0zm3 0zm4 0zm6 0zm2 0zm1 0zm3 0zm1 0zm2 0zm2 0zm57 0zm16 0zm3 0zm-115 1zm2 0zm5 0zm1 0zm1 0zm4 0zm6 0zm1 0zm5 0zm10 0zm1 0zm11 0zm67 0zm15 0zm-126 1zm5 0zm4 0zm2 0zm2 0zm21 0zm9 0zm38 0zm28 0zm-111 1zm1 0zm5 0zm2 0zm5 0zm1 0zm2 0zm2 0zm9 0zm1 0zm6 0zm1 0zm1 0zm4 0zm4 0zm49 0zm3 0zm-99 1zm5 0zm2 0zm7 0zm2 0zm8 0zm7 0zm4 0zm2 0zm1 0zm35 0zm5 0zm23 0zm6 0zm2 0zm3 0zm-114 1zm2 0zm2 0zm25 0zm5 0zm3 0zm2 0zm5 0zm2 0zm2 0zm1 0zm5 0zm20 0zm51 0zm-124 1zm2 0zm4 0zm1 0zm1 0zm5 0zm2 0zm4 0zm6 0zm16 0zm39 0zm25 0zm5 0zm2 0zm2 0zm-116 1zm8 0zm21 0zm5 0zm2 0zm1 0zm14 0zm27 0zm4 0zm28 0zm4 0zm3 0zm16 0zm-130 1zm1 0zm3 0zm1 0zm1 0zm4 0zm5 0zm14 0zm1 0zm1 0zm1 0zm3 0zm1 0zm4 0zm1 0zm10 0zm26 0zm2 0zm20 0zm5 0zm17 0zm-132 1zm5 0zm3 0zm4 0zm5 0zm2 0zm6 0zm1 0zm4 0zm12 0zm2 0zm4 0zm1 0zm3 0zm1 0zm1 0zm4 0zm30 0zm1 0zm27 0zm6 0zm1 0zm-115 1zm4 0zm1 0zm4 0zm2 0zm8 0zm2 0zm4 0zm1 0zm1 0zm9 0zm3 0zm2 0zm6 0zm5 0zm37 0zm-86 1zm2 0zm2 0zm8 0zm9 0zm7 0zm8 0zm7 0zm1 0zm60 0zm7 0zm-115 1zm3 0zm3 0zm1 0zm26 0zm11 0zm1 0zm1 0zm1 0zm3 0zm1 0zm57 0zm3 0zm-116 1zm2 0zm3 0zm1 0zm2 0zm23 0zm11 0zm1 0zm2 0zm5 0zm3 0zm1 0zm1 0zm3 0zm1 0zm50 0zm4 0zm-116 1zm43 0zm4 0zm1 0zm3 0zm5 0zm3 0zm2 0zm12 0zm10 0zm20 0zm7 0zm5 0zm-114 1zm2 0zm2 0zm12 0zm34 0zm9 0zm-51 1zm38 0zm1 0zm1 0zm6 0zm1 0zm1 0zm2 0zm30 0zm26 0zm26 0zm-133 1zm45 0zm1 0zm1 0zm1 0zm33 0zm-84 1zm2 0zm36 0zm9 0zm1 0zm27 0zm45 0zm11 0zm-132 1zm2 0zm34 0zm9 0zm3 0zm2 0zm4 0zm53 0zm-109 1zm6 0zm41 0zm3 0zm3 0zm12 0zm24 0zm-85 1zm1 0zm1 0zm42 0zm5 0zm1 0zm1 0zm1 0zm3 0zm-54 1zm42 0zm3 0zm1 0zm4 0zm2 0zm56 0zm-106 1zm1 0zm2 0zm37 0zm1 0zm2 0zm3 0zm31 0zm-81 1zm39 0zm5 0zm2 0zm1 0zm1 0zm1 0zm2 0zm18 0zm33 0zm-99 1zm2 0zm37 0zm1 0zm7 0zm6 0zm12 0zm-64 1zm33 0zm7 0zm1 0zm5 0zm5 0zm1 0zm6 0zm-58 1zm41 0zm2 0zm4 0zm1 0zm1 0zm3 0zm1 0zm2 0zm-61 1zm2 0zm4 0zm38 0zm4 0zm1 0zm4 0zm1 0zm3 0zm5 0zm8 0zm-70 1zm45 0zm4 0zm3 0zm-48 1zm38 0zm2 0zm1 0zm1 0zm1 0zm9 0zm-51 1zm1 0zm38 0zm4 0zm2 0zm-45 1zm42 0zm1 0zm-5 1zm3 0zm1 0zm7 0zm-54 1zm5 0zm49 0zm-52 1zm5 0zm38 0zm1 0zm6 0zm3 0zm1 0zm-54 1zm2 0zm2 0zm29 0zm12 0zm2 0zm8 0zm-58 1zm1 0zm1 0zm2 0zm1 0zm2 0zm38 0zm2 0zm1 0zm2 0zm8 0zm-53 1zm1 0zm4 0zm29 0zm6 0zm2 0zm4 0zm3 0zm3 0zm-53 1zm37 0zm11 0zm6 0zm-52 1zm2 0zm1 0zm27 0zm-28 1zm3 0zm29 0zm2 0zm-36 1zm4 0zm25 0zm3 0zm3 0zm1 0zm7 0zm-40 1zm2 0zm5 0zm4 0zm16 0zm2 0zm5 0zm-31 1zm7 0zm11 0zm4 0zm2 0zm3 0zm-27 1zm2 0zm3 0zm2 0zm5 0zm11 0zm7 0zm2 0zm-33 1zm1 0zm2 0zm16 0zm6 0zm1 0zm2 0zm2 0zm-27 1zm6 0zm3 0zm3 0zm1 0zm2 0zm2 0zm1 0zm9 0zm-12 1zm1 0zm1 0zm-11 1zm1 0zm6 0zm-6 1zm2 0z"/>
<path transform="scale(1.25)" stroke-width="1" stroke="#58be62" d="M961 415zm-2 1zm4 2zm-5 1zm3 0zm1 0zm1 0zm-1 1zm-5 1zm8 0zm-2 1zm5 0zm-7 1zm1 0zm3 0zm3 0zm1 0zm-13 1zm2 0zm7 0zm1 0zm3 0zm-15 1zm1 0zm4 0zm4 0zm1 0zm5 0zm-14 1zm2 0zm1 0zm1 0zm1 0zm4 0zm2 0zm1 0zm2 0zm-16 1zm2 0zm1 0zm9 0zm1 0zm1 0zm-17 1zm3 0zm5 0zm1 0zm1 0zm1 0zm3 0zm4 0zm-16 1zm3 0zm5 0zm1 0zm1 0zm3 0zm1 0zm2 0zm-13 1zm1 0zm5 0zm2 0zm3 0zm2 0zm2 0zm-14 1zm1 0zm2 0zm1 0zm2 0zm1 0zm-10 1zm4 0zm1 0zm1 0zm2 0zm1 0zm2 0zm2 0zm1 0zm3 0zm-14 1zm2 0zm3 0zm1 0zm2 0zm1 0zm1 0zm1 0zm1 0zm-11 1zm1 0zm1 0zm1 0zm2 0zm1 0zm1 0zm1 0zm1 0zm1 0zm5 0zm1 0zm-18 1zm1 0zm3 0zm1 0zm1 0zm1 0zm2 0zm1 0zm2 0zm1 0zm2 0zm3 0zm-17 1zm3 0zm1 0zm1 0zm3 0zm2 0zm2 0zm1 0zm-15 1zm3 0zm1 0zm1 0zm2 0zm1 0zm1 0zm1 0zm1 0zm4 0zm2 0zm1 0zm3 0zm-18 1zm2 0zm1 0zm1 0zm1 0zm2 0zm1 0zm1 0zm1 0zm1 0zm1 0zm3 0zm-17 1zm1 0zm1 0zm2 0zm1 0zm1 0zm4 0zm3 0zm1 0zm-16 1zm2 0zm1 0zm1 0zm1 0zm1 0zm2 0zm1 0zm1 0zm1 0zm1 0zm1 0zm1 0zm2 0zm2 0zm4 0zm-21 1zm2 0zm2 0zm2 0zm1 0zm2 0zm3 0zm1 0zm1 0zm1 0zm1 0zm2 0zm1 0zm-24 1zm3 0zm1 0zm1 0zm4 0zm2 0zm5 0zm1 0zm3 0zm1 0zm3 0zm-19 1zm1 0zm2 0zm3 0zm3 0zm1 0zm1 0zm1 0zm2 0zm2 0zm3 0zm5 0zm-23 1zm1 0zm1 0zm1 0zm1 0zm2 0zm3 0zm4 0zm1 0zm2 0zm1 0zm2 0zm-23 1zm4 0zm1 0zm1 0zm1 0zm3 0zm2 0zm1 0zm2 0zm1 0zm2 0zm1 0zm3 0zm-21 1zm1 0zm1 0zm1 0zm1 0zm2 0zm1 0zm1 0zm1 0zm1 0zm3 0zm1 0zm3 0zm-17 1zm2 0zm3 0zm1 0zm1 0zm1 0zm1 0zm1 0zm3 0zm1 0zm2 0zm2 0zm-16 1zm1 0zm1 0zm3 0zm1 0zm4 0zm6 0zm1 0zm1 0zm-19 1zm1 0zm2 0zm2 0zm2 0zm1 0zm2 0zm1 0zm1 0zm1 0zm1 0zm1 0zm2 0zm1 0zm1 0zm-21 1zm6 0zm4 0zm2 0zm1 0zm1 0zm1 0zm1 0zm3 0zm1 0zm1 0zm3 0zm-23 1zm8 0zm1 0zm1 0zm1 0zm2 0zm1 0zm1 0zm1 0zm1 0zm3 0zm1 0zm1 0zm-21 1zm1 0zm3 0zm4 0zm1 0zm2 0zm1 0zm1 0zm2 0zm1 0zm1 0zm3 0zm1 0zm-20 1zm5 0zm2 0zm1 0zm1 0zm2 0zm2 0zm2 0zm1 0zm1 0zm1 0zm1 0zm2 0zm-27 1zm1 0zm3 0zm3 0zm1 0zm1 0zm1 0zm1 0zm2 0zm3 0zm1 0zm1 0zm1 0zm1 0zm1 0zm3 0zm2 0zm1 0zm-24 1zm3 0zm1 0zm5 0zm1 0zm2 0zm3 0zm3 0zm4 0zm-20 1zm2 0zm1 0zm8 0zm1 0zm1 0zm1 0zm1 0zm1 0zm2 0zm2 0zm-21 1zm2 0zm3 0zm1 0zm5 0zm1 0zm1 0zm2 0zm1 0zm2 0zm4 0zm-17 1zm1 0zm1 0zm1 0zm2 0zm1 0zm2 0zm1 0zm2 0zm-19 1zm8 0zm1 0zm1 0zm1 0zm1 0zm1 0zm1 0zm1 0zm2 0zm1 0zm1 0zm1 0zm1 0zm-17 1zm5 0zm1 0zm1 0zm1 0zm1 0zm1 0zm3 0zm2 0zm-9 1zm1 0zm1 0zm1 0zm2 0zm1 0zm2 0zm-16 1zm10 0zm5 0zm3 0zm-22 1zm1 0zm15 0zm1 0zm2 0zm7 0zm-23 1zm4 0zm1 0zm7 0zm1 0zm1 0zm3 0zm3 0zm-8 1zm8 0zm-13 1zm1 0zm1 0zm1 0zm1 0zm1 0zm1 0zm5 0zm2 0zm1 0zm3 0zm2 0zm-19 1zm1 0zm3 0zm1 0zm8 0zm1 0zm5 0zm-19 1zm1 0zm1 0zm1 0zm2 0zm7 0zm1 0zm-26 1zm20 0zm1 0zm2 0zm2 0zm1 0zm1 0zm2 0zm-15 1zm9 0zm2 0zm3 0zm-19 1zm9 0zm2 0zm3 0zm2 0zm3 0zm-5 1zm-1 1zm3 0zm-10 1zm-7 1zm12 0zm4 1zm-10 2zm6 0zm2 2zm3 4zm5 0zm-5 2zm-6 6zm4 1zm-1 1zm-7 2zm7 1zm-5 8zm2 10zm-11 6zm2 0zm1 2zm15 0zm-15 2zm12 1zm-17 1zm-4 1zm10 0zm2 0zm-5 3zm5 1zm-12 1zm-108 1zm3 0zm4 0zm111 0zm-103 2zm113 0zm-22 1zm21 1zm-3 1zm2 0zm-111 1zm90 0zm-103 1zm131 0zm-128 1zm2 0zm3 0zm7 0zm109 0zm-118 1zm3 0zm16 0zm84 0zm3 0zm-117 1zm1 0zm1 0zm5 0zm2 0zm1 0zm2 0zm7 0zm11 0zm-21 1zm2 0zm4 0zm1 0zm-16 1zm3 0zm1 0zm4 0zm8 0zm3 0zm87 0zm-109 1zm7 0zm3 0zm2 0zm2 0zm1 0zm1 0zm5 0zm1 0zm7 0zm8 0zm-28 1zm7 0zm1 0zm3 0zm1 0zm3 0zm1 0zm2 0zm-30 1zm7 0zm1 0zm1 0zm3 0zm5 0zm1 0zm2 0zm1 0zm1 0zm2 0zm1 0zm3 0zm89 0zm-115 1zm2 0zm2 0zm5 0zm1 0zm1 0zm4 0zm1 0zm1 0zm3 0zm1 0zm4 0zm1 0zm1 0zm11 0zm-41 1zm4 0zm3 0zm2 0zm2 0zm1 0zm3 0zm2 0zm2 0zm2 0zm1 0zm1 0zm3 0zm1 0zm1 0zm1 0zm1 0zm1 0zm3 0zm1 0zm-28 1zm1 0zm2 0zm2 0zm1 0zm5 0zm4 0zm1 0zm1 0zm1 0zm1 0zm1 0zm1 0zm1 0zm5 0zm1 0zm1 0zm72 0zm-102 1zm2 0zm1 0zm1 0zm1 0zm1 0zm1 0zm4 0zm1 0zm1 0zm1 0zm1 0zm4 0zm1 0zm2 0zm1 0zm1 0zm2 0zm1 0zm-28 1zm1 0zm1 0zm3 0zm2 0zm1 0zm1 0zm1 0zm1 0zm1 0zm1 0zm1 0zm1 0zm1 0zm2 0zm5 0zm1 0zm9 0zm-40 1zm5 0zm1 0zm4 0zm1 0zm1 0zm1 0zm2 0zm2 0zm1 0zm1 0zm2 0zm1 0zm1 0zm1 0zm1 0zm2 0zm1 0zm2 0zm1 0zm1 0zm1 0zm1 0zm1 0zm-31 1zm1 0zm1 0zm2 0zm2 0zm1 0zm1 0zm1 0zm2 0zm2 0zm1 0zm1 0zm2 0zm3 0zm1 0zm1 0zm1 0zm2 0zm1 0zm2 0zm2 0zm7 0zm-32 1zm1 0zm3 0zm1 0zm1 0zm1 0zm3 0zm2 0zm1 0zm1 0zm1 0zm1 0zm1 0zm1 0zm1 0zm1 0zm1 0zm10 0zm4 0zm1 0zm10 0zm34 0zm-84 1zm1 0zm1 0zm2 0zm2 0zm3 0zm1 0zm3 0zm1 0zm3 0zm1 0zm1 0zm1 0zm1 0zm1 0zm1 0zm1 0zm1 0zm1 0zm1 0zm2 0zm2 0zm5 0zm1 0zm41 0zm13 0zm12 0zm-107 1zm5 0zm3 0zm2 0zm1 0zm1 0zm2 0zm1 0zm3 0zm2 0zm2 0zm4 0zm1 0zm2 0zm1 0zm6 0zm4 0zm2 0zm2 0zm61 0zm-101 1zm2 0zm1 0zm1 0zm1 0zm5 0zm1 0zm1 0zm2 0zm1 0zm2 0zm2 0zm1 0zm1 0zm1 0zm4 0zm2 0zm1 0zm1 0zm4 0zm1 0zm3 0zm1 0zm7 0zm-51 1zm2 0zm1 0zm3 0zm1 0zm1 0zm1 0zm1 0zm1 0zm2 0zm2 0zm1 0zm4 0zm1 0zm2 0zm1 0zm1 0zm1 0zm2 0zm1 0zm1 0zm2 0zm1 0zm1 0zm2 0zm1 0zm13 0zm54 0zm-102 1zm1 0zm1 0zm1 0zm2 0zm1 0zm2 0zm2 0zm4 0zm1 0zm1 0zm2 0zm1 0zm1 0zm1 0zm2 0zm3 0zm1 0zm1 0zm1 0zm1 0zm1 0zm1 0zm5 0zm5 0zm1 0zm-51 1zm5 0zm1 0zm2 0zm1 0zm4 0zm1 0zm1 0zm1 0zm2 0zm2 0zm3 0zm1 0zm1 0zm1 0zm1 0zm1 0zm2 0zm1 0zm1 0zm1 0zm2 0zm1 0zm1 0zm1 0zm2 0zm1 0zm1 0zm3 0zm3 0zm1 0zm1 0zm1 0zm2 0zm-48 1zm2 0zm3 0zm1 0zm1 0zm3 0zm2 0zm1 0zm1 0zm2 0zm1 0zm1 0zm3 0zm2 0zm1 0zm2 0zm1 0zm1 0zm2 0zm1 0zm1 0zm1 0zm2 0zm1 0zm1 0zm1 0zm1 0zm2 0zm2 0zm1 0zm2 0zm1 0zm2 0zm-56 1zm9 0zm2 0zm1 0zm1 0zm2 0zm1 0zm3 0zm1 0zm1 0zm2 0zm1 0zm1 0zm2 0zm3 0zm2 0zm1 0zm1 0zm2 0zm2 0zm1 0zm1 0zm2 0zm1 0zm1 0zm5 0zm1 0zm1 0zm1 0zm-45 1zm1 0zm1 0zm1 0zm1 0zm1 0zm1 0zm1 0zm1 0zm2 0zm4 0zm3 0zm1 0zm1 0zm4 0zm4 0zm2 0zm2 0zm2 0zm1 0zm1 0zm2 0zm1 0zm1 0zm1 0zm1 0zm7 0zm46 0zm-99 1zm2 0zm2 0zm1 0zm1 0zm1 0zm1 0zm1 0zm2 0zm2 0zm18 0zm2 0zm3 0zm2 0zm3 0zm1 0zm1 0zm2 0zm1 0zm6 0zm2 0zm-51 1zm2 0zm1 0zm3 0zm1 0zm2 0zm4 0zm16 0zm5 0zm2 0zm1 0zm2 0zm1 0zm1 0zm3 0zm2 0zm2 0zm-48 1zm2 0zm1 0zm1 0zm1 0zm2 0zm1 0zm1 0zm2 0zm16 0zm1 0zm1 0zm3 0zm2 0zm1 0zm2 0zm1 0zm3 0zm2 0zm1 0zm3 0zm6 0zm-51 1zm1 0zm1 0zm1 0zm1 0zm1 0zm1 0zm4 0zm14 0zm2 0zm4 0zm2 0zm1 0zm1 0zm1 0zm1 0zm1 0zm2 0zm1 0zm2 0zm8 0zm-50 1zm2 0zm1 0zm1 0zm1 0zm3 0zm2 0zm19 0zm4 0zm1 0zm3 0zm4 0zm6 0zm-49 1zm1 0zm3 0zm2 0zm1 0zm3 0zm21 0zm1 0zm2 0zm1 0zm2 0zm1 0zm1 0zm1 0zm4 0zm3 0zm2 0zm1 0zm-51 1zm4 0zm1 0zm1 0zm5 0zm21 0zm1 0zm1 0zm1 0zm1 0zm3 0zm2 0zm1 0zm9 0zm3 0zm-51 1zm8 0zm20 0zm1 0zm2 0zm1 0zm1 0zm2 0zm1 0zm1 0zm3 0zm1 0zm1 0zm2 0zm3 0zm1 0zm1 0zm-50 1zm3 0zm1 0zm1 0zm1 0zm17 0zm8 0zm4 0zm1 0zm1 0zm1 0zm1 0zm1 0zm3 0zm1 0zm1 0zm3 0zm1 0zm1 0zm-52 1zm1 0zm1 0zm2 0zm1 0zm1 0zm1 0zm29 0zm3 0zm1 0zm1 0zm1 0zm6 0zm1 0zm-49 1zm1 0zm1 0zm2 0zm1 0zm1 0zm3 0zm26 0zm2 0zm1 0zm1 0zm1 0zm2 0zm2 0zm5 0zm-47 1zm1 0zm1 0zm1 0zm2 0zm2 0zm23 0zm4 0zm1 0zm1 0zm1 0zm1 0zm1 0zm2 0zm1 0zm1 0zm-42 1zm2 0zm1 0zm1 0zm25 0zm2 0zm1 0zm2 0zm1 0zm2 0zm6 0zm1 0zm2 0zm-49 1zm1 0zm3 0zm2 0zm24 0zm3 0zm2 0zm1 0zm1 0zm2 0zm1 0zm2 0zm1 0zm-42 1zm2 0zm1 0zm2 0zm23 0zm3 0zm4 0zm1 0zm1 0zm3 0zm2 0zm-44 1zm4 0zm2 0zm2 0zm1 0zm25 0zm2 0zm1 0zm1 0zm2 0zm2 0zm1 0zm3 0zm1 0zm-45 1zm2 0zm1 0zm1 0zm29 0zm1 0zm1 0zm1 0zm1 0zm1 0zm2 0zm1 0zm2 0zm-44 1zm1 0zm1 0zm1 0zm5 0zm24 0zm4 0zm1 0zm2 0zm1 0zm-38 1zm2 0zm2 0zm6 0zm23 0zm1 0zm1 0zm2 0zm1 0zm3 0zm6 0zm-45 1zm1 0zm4 0zm2 0zm2 0zm9 0zm1 0zm3 0zm3 0zm6 0zm1 0zm3 0zm-36 1zm1 0zm1 0zm2 0zm4 0zm2 0zm3 0zm6 0zm5 0zm3 0zm1 0zm1 0zm1 0zm1 0zm2 0zm1 0zm1 0zm6 0zm-41 1zm1 0zm1 0zm1 0zm2 0zm1 0zm1 0zm1 0zm1 0zm1 0zm2 0zm1 0zm13 0zm2 0zm2 0zm1 0zm2 0zm3 0zm3 0zm11 0zm-52 1zm5 0zm2 0zm1 0zm2 0zm2 0zm1 0zm14 0zm2 0zm1 0zm2 0zm2 0zm1 0zm1 0zm5 0zm3 0zm-37 1zm1 0zm1 0zm3 0zm7 0zm6 0zm2 0zm2 0zm1 0zm1 0zm1 0zm2 0zm2 0zm-34 1zm2 0zm2 0zm1 0zm1 0zm1 0zm1 0zm1 0zm2 0zm1 0zm5 0zm3 0zm2 0zm1 0zm2 0zm1 0zm1 0zm2 0zm1 0zm3 0zm-28 1zm1 0zm1 0zm1 0zm4 0zm3 0zm1 0zm2 0zm4 0zm1 0zm1 0zm1 0zm1 0zm1 0zm3 0zm2 0zm-26 1zm1 0zm1 0zm1 0zm1 0zm1 0zm2 0zm2 0zm1 0zm1 0zm1 0zm1 0zm1 0zm1 0zm1 0zm2 0zm1 0zm1 0zm2 0zm-22 1zm2 0zm1 0zm4 0zm1 0zm1 0zm1 0zm2 0zm1 0zm1 0zm1 0zm2 0zm2 0zm2 0zm5 0zm-29 1zm5 0zm4 0zm2 0zm1 0zm1 0zm2 0zm1 0zm1 0zm1 0zm3 0zm2 0zm2 0zm3 0zm2 0zm-16 1zm1 0zm11 0zm-18 1zm8 0zm1 0zm8 0zm1 0zm-6 1zm4 0z"/>
<path transform="scale(1.25)" stroke-width="1" stroke="#a0d23c" d="M964 431zm-7 2zm5 6zm-2 1zm11 1zm-10 1zm3 0zm-5 1zm2 0zm1 0zm-2 2zm8 0zm-5 1zm5 0zm3 0zm-8 1zm1 0zm3 0zm-1 1zm-2 3zm6 3zm-1 3zm-5 1zm0 2zm-1 1zm2 1zm1 8zm-118 81zm5 0zm-5 1zm3 1zm4 0zm-3 1zm1 0zm-11 2zm4 0zm-9 1zm7 0zm2 0zm-8 1zm1 0zm7 0zm-15 1zm2 0zm7 0zm8 0zm7 0zm4 0zm1 0zm-23 1zm1 0zm1 0zm5 0zm11 0zm3 0zm-15 1zm1 0zm9 0zm8 0zm-29 1zm3 0zm2 0zm3 0zm1 0zm4 0zm8 0zm-22 1zm6 0zm4 0zm1 0zm7 0zm-21 1zm1 0zm5 0zm6 0zm4 0zm1 0zm2 0zm3 0zm4 0zm5 0zm-27 1zm3 0zm1 0zm8 0zm2 0zm3 0zm4 0zm6 0zm-23 1zm1 0zm1 0zm7 0zm2 0zm6 0zm4 0zm-27 1zm2 0zm3 0zm1 0zm3 0zm1 0zm4 0zm2 0zm1 0zm2 0zm6 0zm5 0zm-32 1zm3 0zm11 0zm4 0zm3 0zm2 0zm3 0zm1 0zm6 0zm-26 1zm14 0zm10 0zm-18 1zm3 0zm8 0zm1 0zm3 0zm-25 1zm1 0zm16 0zm1 0zm1 0zm2 0zm1 0zm3 0zm1 0zm3 0zm-25 1zm5 0zm9 0zm4 0zm6 0zm5 0zm-35 1zm1 0zm11 0zm10 0zm2 0zm-25 1zm2 0zm16 0zm6 0zm7 0zm-7 1zm1 0zm4 0zm-27 1zm11 0zm13 0zm1 0zm2 0zm-28 1zm10 0zm10 0zm3 0zm3 0zm1 0zm2 0zm-30 1zm2 0zm2 0zm24 0zm1 0zm-31 1zm13 0zm10 0zm-20 1zm1 0zm3 0zm14 0zm-20 1zm2 0zm1 0zm26 0zm5 0zm3 0zm-36 1zm3 0zm4 0zm14 0zm5 0zm-26 1zm2 0zm20 0zm4 0zm1 0zm-28 1zm1 0zm3 0zm6 0zm9 0zm6 0zm3 0zm1 0zm4 0zm-33 1zm4 0zm7 0zm13 0zm2 0zm2 0zm1 0zm-28 1zm1 0zm1 0zm9 0zm11 0zm3 0zm1 0zm1 0zm-24 1zm1 0zm5 0zm2 0zm11 0zm-4 1zm1 0zm1 0zm1 0zm8 0zm-28 1zm8 0zm6 0zm4 0zm1 0zm1 0zm2 0zm5 0zm-22 1zm5 0zm1 0zm6 0zm1 0zm2 0zm-14 1zm3 0zm1 0zm4 0zm3 0zm3 0zm-14 1zm1 0zm3 0zm3 0zm2 0zm2 0zm-7 1zm-5 2z"/>
<path transform="scale(1.25)" stroke-width="1" stroke="#f0e030" d="M854 560zm-14 1zm-1 1zm-3 2zm11 1zm8 0zm-21 1zm6 0zm6 0zm5 0zm4 0zm6 0zm-23 1zm4 0zm1 0zm2 0zm3 0zm6 0zm3 0zm-24 1zm2 0zm3 0zm2 0zm8 0zm2 0zm3 0zm5 0zm-22 1zm5 0zm12 0zm1 0zm2 0zm-24 1zm1 0zm3 0zm2 0zm1 0zm-3 1zm1 0zm3 0zm2 0zm9 0zm-20 1zm1 0zm6 0zm6 0zm2 0zm10 0zm-25 1zm1 0zm3 0zm2 0zm7 0zm3 0zm3 0zm9 0zm-30 1zm2 0zm1 0zm3 0zm1 0zm1 0zm10 0zm3 0zm5 0zm-12 1zm8 0zm3 0zm2 0zm-24 1zm1 0zm2 0zm7 0zm6 0zm3 0zm1 0zm1 0zm3 0zm4 0zm-30 1zm20 0zm1 0zm3 0zm-21 1zm2 0zm4 0zm5 0zm1 0zm2 0zm1 0zm4 0zm1 0zm-22 1zm1 0zm2 0zm1 0zm5 0zm11 0zm2 0zm2 0zm3 0zm-27 1zm15 0zm2 0zm5 0zm1 0zm2 0zm-24 1zm11 0zm1 0zm4 0zm1 0zm3 0zm3 0zm-11 1zm4 0zm3 0zm5 0zm-25 1zm1 0zm1 0zm5 0zm1 0zm9 0zm5 0zm-21 1zm2 0zm1 0zm9 0zm5 0zm8 0zm-25 1zm1 0zm2 0zm2 0zm3 0zm3 0zm1 0zm6 0zm2 0zm-20 1zm2 0zm9 0zm9 0zm4 0zm-22 1zm2 0zm4 0zm1 0zm1 0zm5 0zm1 0zm3 0zm-10 1zm2 0zm7 0zm2 0zm-20 1zm6 0zm3 0zm3 0zm2 0zm-13 1zm3 0zm5 0zm2 0zm2 0zm6 0zm-11 1zm1 0zm3 0zm1 1z"/>
<path transform="scale(1.25)" stroke-width="1" stroke="#f4a020" d="M840 556zm8 5zm-9 2zm15 0zm-14 2zm9 1zm-15 1zm7 0zm9 0zm2 0zm-18 1zm3 0zm2 0zm2 0zm6 0zm-14 1zm4 0zm7 0zm2 0zm1 0zm1 0zm-14 1zm6 0zm5 0zm1 0zm1 0zm1 0zm2 0zm4 0zm-9 1zm1 0zm1 0zm-11 1zm1 0zm2 0zm3 0zm3 0zm5 0zm1 0zm1 0zm-16 1zm7 0zm2 0zm1 0zm2 0zm1 0zm-22 1zm11 0zm5 0zm2 0zm4 0zm-18 1zm5 0zm3 0zm6 0zm4 0zm1 0zm-14 1zm3 0zm11 0zm-16 1zm10 0zm2 0zm1 0zm6 0zm-7 1zm4 0zm5 0zm-25 1zm3 0zm19 0zm-20 1zm5 0zm1 0zm1 0zm10 0zm1 0zm-19 1zm3 0zm4 0zm4 0zm3 0zm1 0zm4 0zm-24 1zm6 0zm2 0zm9 0zm3 0zm1 0zm5 0zm1 0zm7 0zm-23 1zm6 0zm9 0zm-23 1zm10 0zm1 0zm1 0zm9 0zm1 0zm2 0zm-17 1zm3 0zm3 0zm3 0zm1 0zm2 0zm1 0zm-13 1zm1 0zm9 0zm3 0zm-13 2zm3 0zm1 0zm2 0zm-8 1zm5 0zm1 0zm5 0zm-8 1zm1 0zm6 0z"/>
<path transform="scale(1.25)" stroke-width="1" stroke="#ee5a20" d="M841 566zm9 0zm-13 1zm6 1zm1 0zm1 0zm-7 1zm1 0zm3 0zm3 0zm-3 1zm1 0zm-9 1zm7 0zm2 0zm1 0zm-10 1zm7 0zm6 0zm1 0zm-10 1zm1 0zm3 0zm-3 1zm1 0zm1 0zm1 0zm6 0zm3 0zm-19 1zm5 0zm1 0zm3 0zm5 0zm2 0zm-17 1zm3 0zm9 0zm1 0zm1 0zm4 0zm-16 1zm5 0zm2 0zm1 0zm1 0zm3 0zm3 0zm-14 1zm4 0zm3 0zm2 0zm6 0zm2 0zm-15 1zm9 0zm-10 1zm7 0zm9 0zm-18 1zm3 0zm4 0zm17 0zm-24 1zm7 0zm5 0zm5 0zm-16 1zm1 0zm5 0zm4 0zm1 0zm1 0zm-13 1zm3 0zm2 0zm4 0zm1 0zm4 0zm-18 1zm1 0zm17 0zm-9 1zm2 0zm1 0zm1 0zm5 0zm-4 1zm2 0zm1 0zm-2 1zm-2 1z"/>
<path transform="scale(1.25)" stroke-width="1" stroke="#e0201c" d="M840 569zm3 0zm-6 1zm1 1zm1 0zm4 1zm-9 1zm6 0zm12 0zm-18 1zm10 0zm-11 1zm1 0zm1 0zm5 0zm2 0zm2 0zm-7 1zm1 0zm2 0zm6 0zm1 0zm-15 1zm3 0zm1 0zm1 0zm6 0zm-7 1zm1 0zm3 0zm2 0zm-5 1zm1 0zm3 0zm1 0zm1 0zm1 0zm2 0zm1 0zm1 0zm2 0zm-16 1zm2 0zm4 0zm1 0zm2 0zm1 0zm1 0zm-10 1zm2 0zm2 0zm2 0zm6 0zm6 0zm-17 1zm1 0zm1 0zm1 0zm2 0zm1 0zm-6 1zm5 0zm1 0zm5 0zm2 0zm2 0zm-6 1zm3 0zm-7 1zm4 3z"/>
</g>
<rect x="982.1" y="461.8" width="302.9" height="302.8" fill="none" stroke="#111" stroke-width="1.3"/>
<rect x="1136.7" y="485.6" width="124" height="137.5" fill="none" stroke="#222" stroke-width="1.4"/>
<path d="M1260.3 485.6L1260.3 623.1" stroke="#222" stroke-width="2.2" />
<text x="1006" y="557" font-size="42.5" font-family="'DejaVu Sans','Liberation Sans',sans-serif" textLength="93.5" lengthAdjust="spacingAndGlyphs">20.6</text>
<path d="M665.8 805.2H1021.7V799.1L1061.2 807.3L1021.7 815.5V809.3H665.8Z" fill="#000"/>
<path d="M609.9 774V712H603.7L611.9 672.5L620.1 712H613.9V774Z" fill="#000"/>
<text x="1071.5" y="819" font-size="31.7">CD11b-PE-Cy7</text>
<text font-size="31.2" text-anchor="middle" transform="translate(588 561.5) rotate(-90)">pHrodo Green</text>
<text font-size="31.2" text-anchor="middle" transform="translate(621.5 565) rotate(-90)">Staph Aureus</text>
<g fill="none" stroke-linecap="square" stroke-width="1.2">
<path transform="scale(1.25)" stroke-width="1" stroke="#283e9c" d="M609 706zm-8 3zm31 6zm9 0zm-49 16zm5 2zm35 0zm-33 1zm-53 1zm46 0zm25 0zm-20 1zm47 3zm-47 3zm3 0zm88 5zm30 0zm-100 1zm126 0zm-142 1zm-15 5zm57 0zm113 1zm-141 1zm-25 1zm13 0zm1 0zm-12 4zm10 1zm-56 1zm59 0zm73 1zm-84 1zm1 1zm4 1zm12 0zm1 0zm53 0zm-48 1zm85 0zm-100 3zm-5 1zm32 0zm28 1zm-64 1zm1 0zm-10 1zm9 0zm3 1zm-17 2zm114 0zm24 0zm9 0zm-147 2zm30 0zm99 1zm-115 1zm63 0zm13 0zm-72 1zm23 0zm-29 1zm7 0zm4 0zm4 0zm-11 1zm-3 1zm10 0zm6 0zm2 1zm-5 1zm-3 3zm24 0zm-30 1zm9 0zm37 1zm-5 2zm-43 1zm11 1zm55 1zm28 0zm-85 1zm1 0zm1 0zm128 0zm-130 3zm20 0zm56 0zm-82 1zm-30 1zm25 0zm91 0zm-85 1zm-13 1zm3 0zm21 0zm-5 2zm67 0zm-69 1zm-7 2zm15 1zm3 0zm149 0zm-170 1zm3 0zm76 0zm32 0zm-88 1zm-13 1zm1 0zm130 1zm-137 1zm5 0zm26 0zm43 0zm-76 1zm4 0zm13 0zm72 1zm43 0zm4 0zm-128 1zm25 0zm113 0zm2 0zm-16 1zm7 0zm-137 1zm-1 1zm13 0zm2 0zm124 0zm1 0zm-139 1zm6 0zm8 0zm119 0zm14 0zm-159 1zm5 0zm143 0zm-145 1zm153 0zm5 0zm-121 1zm107 0zm-139 1zm1 0zm5 0zm36 0zm72 0zm31 0zm-136 1zm147 0zm-164 1zm15 0zm131 0zm1 0zm17 0zm-158 1zm1 0zm3 0zm1 0zm124 0zm27 0zm-190 1zm170 0zm9 0zm-147 1zm2 0zm4 0zm6 0zm61 0zm70 0zm2 0zm4 0zm-90 1zm69 0zm13 0zm-174 1zm39 0zm47 0zm56 0zm10 0zm16 0zm6 0zm1 0zm1 0zm-13 1zm3 0zm12 0zm2 0zm3 0zm-146 1zm38 0zm82 0zm16 0zm9 0zm1 0zm1 0zm7 0zm-155 1zm9 0zm116 0zm1 0zm4 0zm5 0zm2 0zm-138 1zm7 0zm4 0zm115 0zm20 0zm1 0zm-135 1zm102 0zm15 0zm10 0zm6 0zm1 0zm3 0zm6 0zm-49 1zm1 0zm4 0zm17 0zm3 0zm1 0zm2 0zm2 0zm4 0zm1 0zm11 0zm3 0zm-178 1zm17 0zm12 0zm56 0zm49 0zm22 0zm2 0zm5 0zm1 0zm7 0zm2 0zm-149 1zm7 0zm3 0zm2 0zm108 0zm12 0zm19 0zm-26 1zm5 0zm5 0zm6 0zm7 0zm2 0zm-131 1zm88 0zm13 0zm4 0zm1 0zm4 0zm5 0zm9 0zm2 0zm3 0zm3 0zm1 0zm-136 1zm86 0zm19 0zm5 0zm4 0zm12 0zm1 0zm3 0zm2 0zm2 0zm2 0zm5 0zm-148 1zm102 0zm5 0zm11 0zm1 0zm5 0zm1 0zm1 0zm1 0zm6 0zm1 0zm4 0zm3 0zm2 0zm2 0zm2 0zm-152 1zm2 0zm6 0zm6 0zm95 0zm2 0zm3 0zm4 0zm2 0zm1 0zm4 0zm2 0zm2 0zm2 0zm9 0zm8 0zm4 0zm2 0zm-54 1zm7 0zm6 0zm9 0zm3 0zm1 0zm1 0zm10 0zm1 0zm2 0zm4 0zm2 0zm2 0zm-139 1zm94 0zm2 0zm3 0zm4 0zm3 0zm1 0zm1 0zm2 0zm3 0zm2 0zm1 0zm1 0zm3 0zm3 0zm4 0zm1 0zm3 0zm2 0zm1 0zm1 0zm1 0zm1 0zm6 0zm-60 1zm16 0zm13 0zm4 0zm3 0zm2 0zm2 0zm1 0zm2 0zm1 0zm3 0zm1 0zm2 0zm1 0zm2 0zm-142 1zm1 0zm93 0zm2 0zm5 0zm2 0zm5 0zm1 0zm4 0zm7 0zm3 0zm4 0zm1 0zm2 0zm1 0zm2 0zm3 0zm2 0zm3 0zm1 0zm4 0zm-43 1zm8 0zm1 0zm2 0zm1 0zm2 0zm8 0zm1 0zm5 0zm3 0zm2 0zm2 0zm1 0zm1 0zm2 0zm1 0zm-58 1zm13 0zm6 0zm11 0zm2 0zm1 0zm2 0zm7 0zm4 0zm4 0zm1 0zm1 0zm1 0zm1 0zm3 0zm1 0zm8 0zm-57 1zm1 0zm6 0zm4 0zm1 0zm2 0zm3 0zm1 0zm1 0zm3 0zm1 0zm1 0zm1 0zm4 0zm1 0zm2 0zm1 0zm4 0zm7 0zm1 0zm-130 1zm90 0zm3 0zm2 0zm2 0zm1 0zm1 0zm2 0zm1 0zm1 0zm2 0zm2 0zm2 0zm4 0zm1 0zm1 0zm1 0zm2 0zm1 0zm1 0zm3 0zm2 0zm1 0zm1 0zm3 0zm3 0zm3 0zm-43 1zm6 0zm1 0zm4 0zm4 0zm1 0zm5 0zm2 0zm2 0zm1 0zm5 0zm1 0zm3 0zm1 0zm2 0zm1 0zm-144 1zm14 0zm76 0zm3 0zm5 0zm1 0zm6 0zm1 0zm1 0zm1 0zm2 0zm1 0zm2 0zm6 0zm1 0zm1 0zm4 0zm4 0zm4 0zm1 0zm2 0zm1 0zm2 0zm1 0zm1 0zm1 0zm2 0zm1 0zm4 0zm-155 1zm11 0zm5 0zm83 0zm3 0zm5 0zm1 0zm1 0zm1 0zm3 0zm2 0zm1 0zm1 0zm1 0zm3 0zm1 0zm2 0zm2 0zm1 0zm2 0zm3 0zm2 0zm1 0zm1 0zm1 0zm2 0zm1 0zm2 0zm1 0zm1 0zm1 0zm1 0zm1 0zm2 0zm2 0zm2 0zm1 0zm3 0zm-85 1zm26 0zm6 0zm1 0zm6 0zm1 0zm2 0zm2 0zm2 0zm1 0zm1 0zm1 0zm2 0zm1 0zm4 0zm1 0zm1 0zm1 0zm1 0zm1 0zm1 0zm1 0zm1 0zm2 0zm1 0zm1 0zm1 0zm2 0zm1 0zm2 0zm1 0zm1 0zm2 0zm1 0zm-146 1zm3 0zm84 0zm2 0zm3 0zm2 0zm1 0zm7 0zm6 0zm1 0zm1 0zm1 0zm3 0zm3 0zm3 0zm1 0zm1 0zm2 0zm1 0zm2 0zm1 0zm1 0zm1 0zm1 0zm3 0zm1 0zm3 0zm1 0zm2 0zm1 0zm2 0zm2 0zm4 0zm-159 1zm6 0zm11 0zm5 0zm1 0zm73 0zm6 0zm1 0zm3 0zm1 0zm3 0zm1 0zm2 0zm1 0zm2 0zm2 0zm2 0zm2 0zm1 0zm3 0zm2 0zm2 0zm1 0zm1 0zm1 0zm2 0zm2 0zm2 0zm3 0zm1 0zm3 0zm1 0zm5 0zm1 0zm6 0zm-109 1zm37 0zm6 0zm4 0zm3 0zm5 0zm1 0zm1 0zm1 0zm1 0zm1 0zm1 0zm2 0zm3 0zm2 0zm4 0zm2 0zm1 0zm1 0zm3 0zm1 0zm4 0zm4 0zm2 0zm1 0zm1 0zm1 0zm2 0zm1 0zm1 0zm3 0zm1 0zm1 0zm1 0zm1 0zm2 0zm2 0zm3 0zm-137 1zm66 0zm9 0zm3 0zm4 0zm1 0zm1 0zm3 0zm1 0zm2 0zm4 0zm1 0zm5 0zm1 0zm6 0zm2 0zm1 0zm1 0zm2 0zm1 0zm3 0zm2 0zm2 0zm2 0zm5 0zm2 0zm2 0zm2 0zm2 0zm-147 1zm72 0zm4 0zm4 0zm2 0zm2 0zm3 0zm3 0zm2 0zm3 0zm3 0zm2 0zm1 0zm1 0zm1 0zm2 0zm2 0zm2 0zm1 0zm2 0zm1 0zm1 0zm2 0zm1 0zm1 0zm2 0zm1 0zm1 0zm2 0zm2 0zm3 0zm1 0zm1 0zm3 0zm1 0zm5 0zm1 0zm1 0zm1 0zm1 0zm8 0zm-79 1zm7 0zm3 0zm2 0zm1 0zm1 0zm1 0zm1 0zm1 0zm1 0zm1 0zm3 0zm1 0zm2 0zm2 0zm1 0zm1 0zm1 0zm2 0zm1 0zm1 0zm1 0zm1 0zm1 0zm1 0zm1 0zm2 0zm2 0zm3 0zm1 0zm3 0zm2 0zm1 0zm1 0zm1 0zm1 0zm1 0zm2 0zm3 0zm2 0zm2 0zm2 0zm3 0zm1 0zm1 0zm5 0zm-76 1zm7 0zm2 0zm1 0zm1 0zm1 0zm1 0zm1 0zm1 0zm2 0zm1 0zm1 0zm2 0zm1 0zm2 0zm2 0zm2 0zm1 0zm2 0zm1 0zm1 0zm2 0zm1 0zm2 0zm1 0zm1 0zm1 0zm3 0zm2 0zm1 0zm5 0zm4 0zm1 0zm3 0zm1 0zm2 0zm1 0zm1 0zm1 0zm3 0zm2 0zm1 0zm1 0zm-175 1zm33 0zm67 0zm1 0zm1 0zm3 0zm1 0zm1 0zm1 0zm1 0zm1 0zm1 0zm1 0zm1 0zm1 0zm1 0zm1 0zm1 0zm1 0zm1 0zm1 0zm1 0zm1 0zm1 0zm2 0zm1 0zm1 0zm1 0zm1 0zm2 0zm3 0zm1 0zm1 0zm1 0zm1 0zm5 0zm3 0zm1 0zm1 0zm1 0zm2 0zm1 0zm3 0zm1 0zm1 0zm1 0zm2 0zm1 0zm3 0zm3 0zm3 0zm2 0zm1 0zm4 0zm-148 1zm70 0zm1 0zm2 0zm1 0zm1 0zm1 0zm1 0zm1 0zm2 0zm4 0zm1 0zm1 0zm1 0zm2 0zm1 0zm1 0zm1 0zm2 0zm1 0zm1 0zm1 0zm2 0zm2 0zm1 0zm1 0zm2 0zm2 0zm2 0zm1 0zm2 0zm1 0zm1 0zm1 0zm1 0zm1 0zm2 0zm1 0zm1 0zm2 0zm1 0zm1 0zm1 0zm5 0zm2 0zm1 0zm1 0zm2 0zm4 0zm1 0zm1 0zm1 0zm4 0zm-166 1zm13 0zm5 0zm70 0zm1 0zm1 0zm1 0zm1 0zm1 0zm1 0zm1 0zm1 0zm1 0zm1 0zm2 0zm1 0zm1 0zm1 0zm1 0zm1 0zm1 0zm1 0zm1 0zm1 0zm2 0zm1 0zm1 0zm1 0zm1 0zm1 0zm1 0zm1 0zm1 0zm1 0zm1 0zm1 0zm1 0zm1 0zm2 0zm1 0zm1 0zm1 0zm2 0zm1 0zm2 0zm1 0zm1 0zm2 0zm1 0zm1 0zm4 0zm1 0zm1 0zm1 0zm1 0zm1 0zm1 0zm2 0zm1 0zm2 0zm1 0zm1 0zm1 0zm1 0zm-155 1zm1 0zm2 0zm2 0zm8 0zm1 0zm1 0zm1 0zm3 0zm6 0zm6 0zm50 0zm3 0zm1 0zm1 0zm2 0zm4 0zm1 0zm2 0zm1 0zm1 0zm1 0zm1 0zm1 0zm1 0zm1 0zm2 0zm1 0zm1 0zm1 0zm1 0zm1 0zm1 0zm1 0zm1 0zm1 0zm1 0zm1 0zm1 0zm2 0zm1 0zm1 0zm1 0zm1 0zm1 0zm1 0zm1 0zm1 0zm1 0zm2 0zm1 0zm1 0zm4 0zm2 0zm2 0zm3 0zm1 0zm1 0zm3 0zm3 0zm1 0zm1 0zm1 0zm1 0zm1 0zm4 0zm1 0zm2 0zm1 0zm-166 1zm5 0zm1 0zm1 0zm1 0zm3 0zm1 0zm2 0zm2 0zm1 0zm6 0zm1 0zm2 0zm57 0zm2 0zm2 0zm2 0zm3 0zm2 0zm1 0zm1 0zm1 0zm1 0zm1 0zm1 0zm1 0zm1 0zm1 0zm1 0zm1 0zm1 0zm2 0zm1 0zm1 0zm1 0zm2 0zm1 0zm1 0zm1 0zm1 0zm1 0zm1 0zm2 0zm1 0zm1 0zm1 0zm2 0zm3 0zm1 0zm1 0zm2 0zm1 0zm1 0zm2 0zm2 0zm1 0zm1 0zm1 0zm1 0zm1 0zm2 0zm1 0zm2 0zm1 0zm1 0zm1 0zm1 0zm1 0zm1 0zm1 0zm2 0zm1 0zm1 0zm2 0zm-169 1zm2 0zm1 0zm2 0zm4 0zm3 0zm18 0zm1 0zm1 0zm1 0zm1 0zm1 0zm56 0zm1 0zm3 0zm1 0zm5 0zm2 0zm2 0zm4 0zm1 0zm1 0zm5 0zm1 0zm4 0zm1 0zm1 0zm1 0zm1 0zm2 0zm2 0zm2 0zm1 0zm1 0zm1 0zm1 0zm1 0zm1 0zm1 0zm1 0zm1 0zm2 0zm1 0zm1 0zm1 0zm1 0zm1 0zm1 0zm1 0zm3 0zm1 0zm1 0zm1 0zm1 0zm1 0zm1 0zm1 0zm1 0zm2 0zm1 0zm-165 1zm1 0zm1 0zm2 0zm2 0zm2 0zm3 0zm1 0zm13 0zm1 0zm3 0zm1 0zm2 0zm6 0zm2 0zm5 0zm2 0zm10 0zm19 0zm3 0zm15 0zm1 0zm5 0zm8 0zm3 0zm1 0zm2 0zm4 0zm1 0zm5 0zm3 0zm5 0zm2 0zm1 0zm1 0zm1 0zm1 0zm1 0zm4 0zm1 0zm4 0zm2 0zm1 0zm1 0zm1 0zm1 0zm4 0zm2 0zm1 0zm2 0zm9 0zm-175 1zm3 0zm1 0zm1 0zm1 0zm1 0zm2 0zm28 0zm1 0zm1 0zm2 0zm2 0zm1 0zm1 0zm1 0zm1 0zm1 0zm3 0zm1 0zm1 0zm1 0zm3 0zm4 0zm1 0zm1 0zm1 0zm1 0zm1 0zm2 0zm1 0zm1 0zm3 0zm2 0zm3 0zm4 0zm3 0zm3 0zm1 0zm2 0zm1 0zm1 0zm1 0zm1 0zm1 0zm1 0zm15 0zm2 0zm6 0zm7 0zm4 0zm5 0zm4 0zm2 0zm1 0zm11 0zm2 0zm2 0zm1 0zm1 0zm1 0zm1 0zm1 0zm2 0zm1 0zm2 0zm1 0zm2 0zm1 0zm-178 1zm1 0zm10 0zm1 0zm1 0zm1 0zm47 0zm18 0zm1 0zm2 0zm4 0zm6 0zm81 0zm1 0zm1 0zm1 0zm2 0zm3 0zm-180 1zm3 0zm1 0zm2 0zm1 0zm1 0zm2 0zm1 0zm1 0zm47 0zm10 0zm7 0zm8 0zm12 0zm76 0zm1 0zm-171 1zm3 0zm1 0zm2 0zm1 0zm2 0zm161 0zm2 0zm-172 1zm4 0zm1 0zm1 0zm2 0zm161 0zm1 0zm-178 1zm7 0zm3 0zm1 0zm1 0zm1 0zm86 0zm9 0zm69 0zm1 0zm1 0zm1 0zm-178 1zm3 0zm3 0zm1 0zm1 0zm3 0zm1 0zm1 0zm1 0zm1 0zm53 0zm12 0zm1 0zm2 0zm2 0zm16 0zm2 0zm18 0zm29 0zm20 0zm1 0zm2 0zm3 0zm1 0zm-170 1zm4 0zm1 0zm1 0zm1 0zm1 0zm39 0zm2 0zm2 0zm1 0zm4 0zm1 0zm1 0zm1 0zm3 0zm2 0zm1 0zm7 0zm1 0zm4 0zm1 0zm2 0zm10 0zm8 0zm3 0zm3 0zm5 0zm2 0zm3 0zm1 0zm1 0zm2 0zm1 0zm2 0zm7 0zm1 0zm2 0zm14 0zm7 0zm5 0zm2 0zm4 0zm1 0zm1 0zm1 0zm3 0zm1 0zm-170 1zm4 0zm6 0zm1 0zm29 0zm3 0zm3 0zm1 0zm2 0zm1 0zm2 0zm4 0zm2 0zm6 0zm4 0zm2 0zm2 0zm2 0zm3 0zm3 0zm4 0zm1 0zm3 0zm5 0zm5 0zm1 0zm2 0zm5 0zm1 0zm2 0zm1 0zm1 0zm1 0zm2 0zm1 0zm1 0zm1 0zm3 0zm2 0zm2 0zm2 0zm1 0zm1 0zm1 0zm1 0zm1 0zm4 0zm1 0zm1 0zm1 0zm2 0zm2 0zm4 0zm1 0zm1 0zm7 0zm4 0zm3 0zm1 0zm1 0zm2 0zm1 0zm-161 1zm2 0zm26 0zm1 0zm5 0zm1 0zm3 0zm3 0zm23 0zm10 0zm28 0zm12 0zm9 0zm3 0zm1 0zm7 0zm5 0zm2 0zm6 0zm1 0zm8 0zm1 0zm1 0zm2 0zm-162 1zm4 0zm1 0zm2 0zm3 0zm2 0zm19 0zm2 0zm2 0zm2 0zm2 0zm1 0zm4 0zm59 0zm3 0zm3 0zm21 0zm19 0zm12 0zm-152 1zm1 0zm1 0zm1 0zm1 0zm2 0zm6 0zm3 0zm1 0zm1 0zm2 0zm1 0zm1 0zm1 0zm3 0zm2 0zm2 0zm1 0zm8 0zm2 0zm45 0zm5 0zm21 0zm9 0zm24 0zm-145 1zm3 0zm11 0zm2 0zm3 0zm2 0zm2 0zm3 0zm-28 1zm2 0zm5 0zm6 0zm1 0zm2 0zm2 0zm11 0zm16 0zm-36 1zm28 0zm73 0zm-73 2zm-2 3zm57 0zm-70 1zm1 1zm3 0zm-19 2zm92 3zm-83 1zm6 7zm4 2zm5 17zm-22 1z"/>
<path transform="scale(1.25)" stroke-width="1" stroke="#2f56aa" d="M708 870zm-34 1zm2 0zm2 0zm42 0zm-46 1zm1 0zm-91 1zm4 0zm3 0zm8 0zm1 0zm1 0zm1 0zm68 0zm1 0zm3 0zm1 0zm1 0zm1 0zm2 0zm2 0zm2 0zm1 0zm1 0zm4 0zm2 0zm4 0zm1 0zm7 0zm15 0zm-129 1zm17 0zm5 0zm60 0zm1 0zm1 0zm1 0zm3 0zm5 0zm6 0zm2 0zm1 0zm1 0zm3 0zm1 0zm1 0zm1 0zm3 0zm2 0zm2 0zm10 0zm1 0zm4 0zm1 0zm1 0zm2 0zm7 0zm1 0zm5 0zm-157 1zm2 0zm1 0zm4 0zm18 0zm1 0zm1 0zm1 0zm4 0zm2 0zm48 0zm8 0zm1 0zm1 0zm3 0zm1 0zm1 0zm1 0zm1 0zm3 0zm1 0zm2 0zm2 0zm1 0zm1 0zm1 0zm1 0zm3 0zm1 0zm1 0zm4 0zm4 0zm1 0zm1 0zm1 0zm2 0zm1 0zm1 0zm2 0zm3 0zm1 0zm1 0zm2 0zm1 0zm1 0zm2 0zm1 0zm2 0zm9 0zm-155 1zm28 0zm4 0zm3 0zm3 0zm2 0zm1 0zm1 0zm2 0zm1 0zm2 0zm1 0zm1 0zm1 0zm2 0zm3 0zm1 0zm1 0zm1 0zm4 0zm4 0zm3 0zm1 0zm2 0zm1 0zm1 0zm1 0zm1 0zm2 0zm1 0zm1 0zm1 0zm1 0zm1 0zm1 0zm1 0zm2 0zm1 0zm1 0zm9 0zm2 0zm1 0zm1 0zm2 0zm1 0zm1 0zm1 0zm1 0zm4 0zm1 0zm5 0zm6 0zm1 0zm1 0zm2 0zm4 0zm1 0zm5 0zm1 0zm3 0zm4 0zm3 0zm1 0zm1 0zm1 0zm1 0zm2 0zm1 0zm-157 1zm26 0zm3 0zm4 0zm3 0zm1 0zm1 0zm1 0zm1 0zm1 0zm2 0zm1 0zm1 0zm3 0zm1 0zm2 0zm2 0zm1 0zm3 0zm1 0zm2 0zm2 0zm2 0zm1 0zm3 0zm1 0zm3 0zm1 0zm1 0zm1 0zm1 0zm1 0zm2 0zm1 0zm2 0zm3 0zm1 0zm3 0zm13 0zm1 0zm2 0zm6 0zm1 0zm1 0zm2 0zm2 0zm4 0zm4 0zm9 0zm1 0zm2 0zm3 0zm4 0zm2 0zm8 0zm3 0zm-160 1zm2 0zm2 0zm35 0zm4 0zm2 0zm4 0zm1 0zm8 0zm6 0zm2 0zm2 0zm2 0zm1 0zm4 0zm2 0zm1 0zm2 0zm2 0zm3 0zm1 0zm2 0zm1 0zm4 0zm5 0zm11 0zm5 0zm7 0zm7 0zm2 0zm4 0zm8 0zm6 0zm2 0zm7 0zm2 0zm1 0zm1 0zm-160 1zm2 0zm41 0zm3 0zm1 0zm2 0zm1 0zm4 0zm4 0zm4 0zm3 0zm1 0zm11 0zm2 0zm10 0zm6 0zm2 0zm1 0zm5 0zm25 0zm14 0zm5 0zm1 0zm3 0zm5 0zm-157 1zm1 0zm1 0zm1 0zm33 0zm3 0zm4 0zm4 0zm2 0zm1 0zm3 0zm2 0zm1 0zm2 0zm8 0zm2 0zm1 0zm1 0zm1 0zm3 0zm1 0zm2 0zm3 0zm2 0zm3 0zm3 0zm7 0zm1 0zm1 0zm3 0zm1 0zm4 0zm6 0zm1 0zm5 0zm13 0zm4 0zm3 0zm5 0zm1 0zm8 0zm9 0zm-124 1zm2 0zm2 0zm1 0zm1 0zm4 0zm1 0zm4 0zm5 0zm2 0zm1 0zm2 0zm1 0zm1 0zm1 0zm1 0zm5 0zm2 0zm1 0zm3 0zm2 0zm3 0zm1 0zm1 0zm2 0zm1 0zm5 0zm5 0zm1 0zm2 0zm2 0zm2 0zm6 0zm2 0zm2 0zm3 0zm3 0zm2 0zm1 0zm1 0zm1 0zm1 0zm6 0zm2 0zm2 0zm2 0zm1 0zm1 0zm1 0zm1 0zm2 0zm1 0zm1 0zm1 0zm1 0zm4 0zm3 0zm1 0zm3 0zm2 0zm-158 1zm31 0zm3 0zm1 0zm2 0zm2 0zm2 0zm4 0zm6 0zm8 0zm1 0zm6 0zm4 0zm3 0zm1 0zm1 0zm1 0zm1 0zm1 0zm1 0zm1 0zm2 0zm1 0zm1 0zm1 0zm2 0zm1 0zm2 0zm1 0zm2 0zm1 0zm2 0zm1 0zm2 0zm2 0zm7 0zm3 0zm4 0zm1 0zm1 0zm4 0zm2 0zm2 0zm1 0zm1 0zm1 0zm2 0zm1 0zm1 0zm2 0zm1 0zm3 0zm1 0zm1 0zm1 0zm1 0zm2 0zm1 0zm1 0zm1 0zm2 0zm2 0zm2 0zm-153 1zm4 0zm21 0zm1 0zm1 0zm1 0zm1 0zm1 0zm2 0zm3 0zm1 0zm41 0zm-74 1zm1 0zm4 0zm16 0zm3 0zm2 0zm7 0zm-30 1zm3 0zm5 0zm8 0zm1 0zm1 0zm-10 1zm1 0z"/>
<path transform="scale(1.25)" stroke-width="1" stroke="#58b4d4" d="M677 872zm-84 1zm1 0zm1 0zm1 0zm101 0zm-109 1zm10 0zm5 0zm73 0zm2 0zm1 0zm1 0zm1 0zm3 0zm16 0zm4 0zm2 0zm2 0zm-124 1zm1 0zm16 0zm1 0zm1 0zm1 0zm70 0zm6 0zm1 0zm16 0zm1 0zm3 0zm1 0zm17 0zm4 0zm-139 1zm21 0zm3 0zm2 0zm1 0zm1 0zm3 0zm20 0zm6 0zm1 0zm7 0zm18 0zm4 0zm1 0zm1 0zm2 0zm1 0zm1 0zm7 0zm6 0zm2 0zm3 0zm1 0zm2 0zm4 0zm1 0zm1 0zm4 0zm2 0zm1 0zm1 0zm3 0zm1 0zm1 0zm1 0zm3 0zm1 0zm2 0zm1 0zm3 0zm10 0zm-155 1zm29 0zm3 0zm7 0zm5 0zm3 0zm2 0zm7 0zm7 0zm1 0zm3 0zm8 0zm6 0zm3 0zm3 0zm1 0zm2 0zm1 0zm2 0zm2 0zm1 0zm1 0zm1 0zm5 0zm1 0zm2 0zm1 0zm4 0zm2 0zm4 0zm2 0zm2 0zm4 0zm1 0zm2 0zm2 0zm3 0zm2 0zm1 0zm3 0zm1 0zm2 0zm2 0zm1 0zm1 0zm2 0zm1 0zm1 0zm2 0zm1 0zm2 0zm-158 1zm2 0zm25 0zm8 0zm3 0zm3 0zm3 0zm1 0zm3 0zm1 0zm1 0zm1 0zm1 0zm1 0zm1 0zm2 0zm1 0zm1 0zm1 0zm1 0zm4 0zm2 0zm5 0zm7 0zm2 0zm8 0zm8 0zm1 0zm2 0zm2 0zm6 0zm2 0zm1 0zm7 0zm11 0zm1 0zm6 0zm3 0zm3 0zm2 0zm3 0zm2 0zm2 0zm3 0zm-154 1zm30 0zm3 0zm1 0zm1 0zm3 0zm2 0zm3 0zm1 0zm3 0zm5 0zm2 0zm1 0zm1 0zm2 0zm4 0zm1 0zm4 0zm1 0zm3 0zm1 0zm5 0zm2 0zm1 0zm1 0zm3 0zm1 0zm1 0zm7 0zm2 0zm3 0zm2 0zm1 0zm2 0zm1 0zm3 0zm4 0zm1 0zm5 0zm2 0zm1 0zm1 0zm1 0zm1 0zm9 0zm1 0zm1 0zm2 0zm2 0zm4 0zm1 0zm5 0zm1 0zm3 0zm1 0zm3 0zm1 0zm1 0zm-129 1zm6 0zm1 0zm2 0zm1 0zm4 0zm1 0zm2 0zm3 0zm1 0zm5 0zm2 0zm1 0zm1 0zm3 0zm1 0zm2 0zm5 0zm1 0zm3 0zm8 0zm2 0zm1 0zm2 0zm1 0zm1 0zm2 0zm5 0zm4 0zm1 0zm3 0zm1 0zm2 0zm5 0zm4 0zm2 0zm2 0zm4 0zm3 0zm2 0zm1 0zm3 0zm1 0zm5 0zm4 0zm1 0zm1 0zm1 0zm1 0zm3 0zm1 0zm1 0zm2 0zm1 0zm-155 1zm32 0zm1 0zm2 0zm2 0zm4 0zm1 0zm1 0zm4 0zm3 0zm3 0zm2 0zm3 0zm8 0zm6 0zm3 0zm2 0zm5 0zm6 0zm5 0zm3 0zm2 0zm2 0zm2 0zm1 0zm1 0zm6 0zm2 0zm1 0zm2 0zm3 0zm6 0zm2 0zm2 0zm4 0zm14 0zm1 0zm1 0zm2 0zm-149 1zm24 0zm3 0zm5 0zm29 0zm42 0zm20 0zm13 0zm15 0zm6 0zm-155 1zm20 0zm-13 2zm1 0zm5 0zm3 0zm1 0zm1 0z"/>
<path transform="scale(1.25)" stroke-width="1" stroke="#58be62" d="M585 874zm5 0zm1 0zm1 0zm2 0zm1 0zm1 0zm3 0zm3 0zm-16 1zm2 0zm1 0zm1 0zm2 0zm1 0zm1 0zm1 0zm1 0zm1 0zm1 0zm1 0zm1 0zm73 0zm-91 1zm1 0zm2 0zm1 0zm1 0zm4 0zm7 0zm1 0zm2 0zm1 0zm1 0zm1 0zm2 0zm1 0zm27 0zm40 0zm4 0zm2 0zm11 0zm6 0zm3 0zm1 0zm25 0zm3 0zm6 0zm-154 1zm1 0zm2 0zm1 0zm1 0zm1 0zm2 0zm13 0zm2 0zm1 0zm2 0zm1 0zm2 0zm1 0zm3 0zm21 0zm6 0zm20 0zm7 0zm4 0zm3 0zm2 0zm7 0zm4 0zm10 0zm1 0zm4 0zm3 0zm1 0zm3 0zm2 0zm9 0zm9 0zm-147 1zm1 0zm1 0zm1 0zm15 0zm4 0zm1 0zm2 0zm1 0zm1 0zm1 0zm1 0zm1 0zm1 0zm3 0zm2 0zm4 0zm19 0zm7 0zm1 0zm3 0zm3 0zm5 0zm3 0zm3 0zm2 0zm2 0zm1 0zm1 0zm1 0zm4 0zm2 0zm2 0zm1 0zm1 0zm1 0zm3 0zm4 0zm1 0zm1 0zm1 0zm1 0zm3 0zm1 0zm1 0zm1 0zm1 0zm1 0zm2 0zm4 0zm2 0zm1 0zm1 0zm2 0zm1 0zm3 0zm2 0zm2 0zm5 0zm2 0zm1 0zm3 0zm-154 1zm1 0zm22 0zm1 0zm1 0zm2 0zm2 0zm1 0zm4 0zm1 0zm2 0zm2 0zm9 0zm1 0zm8 0zm1 0zm6 0zm3 0zm1 0zm3 0zm1 0zm1 0zm7 0zm1 0zm4 0zm2 0zm1 0zm1 0zm1 0zm7 0zm6 0zm1 0zm2 0zm1 0zm1 0zm3 0zm1 0zm1 0zm1 0zm2 0zm6 0zm1 0zm1 0zm2 0zm1 0zm1 0zm1 0zm4 0zm2 0zm2 0zm1 0zm4 0zm1 0zm6 0zm3 0zm-152 1zm1 0zm1 0zm3 0zm18 0zm1 0zm1 0zm1 0zm2 0zm1 0zm1 0zm1 0zm7 0zm2 0zm10 0zm8 0zm1 0zm15 0zm1 0zm2 0zm13 0zm5 0zm5 0zm4 0zm2 0zm3 0zm2 0zm1 0zm3 0zm2 0zm2 0zm1 0zm1 0zm2 0zm1 0zm5 0zm5 0zm1 0zm1 0zm4 0zm6 0zm5 0zm3 0zm1 0zm-156 1zm1 0zm1 0zm1 0zm1 0zm21 0zm1 0zm1 0zm1 0zm1 0zm1 0zm15 0zm5 0zm22 0zm5 0zm8 0zm4 0zm1 0zm1 0zm14 0zm2 0zm8 0zm9 0zm2 0zm3 0zm10 0zm11 0zm-149 1zm1 0zm1 0zm2 0zm17 0zm1 0zm2 0zm1 0zm2 0zm1 0zm2 0zm-27 1zm1 0zm1 0zm1 0zm2 0zm5 0zm3 0zm2 0zm1 0zm1 0zm2 0zm-19 1zm1 0zm1 0zm2 0zm2 0zm1 0zm1 0zm3 0zm6 0zm1 0zm-11 1zm1 0zm2 0zm2 0z"/>
<path transform="scale(1.25)" stroke-width="1" stroke="#a0d23c" d="M597 874zm-6 1zm-3 1zm1 0zm4 0zm2 0zm1 0zm1 0zm3 0zm3 1zm-16 1zm2 0zm10 0zm4 0zm1 0zm-21 1zm1 0zm2 0zm7 0zm5 0zm2 0zm7 0zm-23 1zm1 0zm2 0zm12 0zm2 0zm1 0zm1 0zm-18 1zm2 0zm1 0zm1 0zm13 0zm1 0zm1 0zm-20 1zm2 0zm1 0zm1 1zm2 0zm1 0zm1 0zm3 0zm1 0zm-7 1zm4 0zm1 0zm2 0zm1 0zm1 0zm1 0zm1 0z"/>
<path transform="scale(1.25)" stroke-width="1" stroke="#f0e030" d="M593 874zm-3 2zm2 0zm2 0zm5 1zm1 0zm1 0zm-11 1zm10 0zm2 0zm-17 1zm2 0zm1 0zm11 0zm2 0zm1 0zm1 0zm-14 1zm1 0zm1 0zm5 0zm4 0zm-14 1zm4 0zm9 0zm1 0zm1 0zm-13 1zm1 0zm1 0zm6 0zm3 0zm1 0zm-2 1z"/>
<path transform="scale(1.25)" stroke-width="1" stroke="#f4a020" d="M588 877zm2 0zm6 0zm2 0zm-7 1zm1 0zm3 0zm1 0zm1 0zm-8 1zm2 0zm1 1zm5 0zm-6 1zm2 0zm2 0zm-3 1zm2 0zm1 0zm3 0zm3 0zm-8 1z"/>
<path transform="scale(1.25)" stroke-width="1" stroke="#ee5a20" d="M591 877zm1 0zm1 0zm1 0zm1 0zm-7 1zm10 0zm-6 1zm3 0zm1 0zm1 0zm-9 1zm6 0zm-2 1zm2 0zm2 0zm-5 1zm2 0zm4 0z"/>
<path transform="scale(1.25)" stroke-width="1" stroke="#e0201c" d="M597 877zm-4 1zm1 0zm-4 1zm4 0zm-1 1zm2 0zm3 0zm-1 1zm1 0z"/>
</g>
<rect x="671.2" y="866.8" width="302.8" height="302" fill="none" stroke="#111" stroke-width="1.3"/>
<path d="M936 939.6H961.5V1081.2H832.5V939.6H842" fill="none" stroke="#222" stroke-width="1.4"/>
<path d="M842 939.6L936 939.6" stroke="#ddd" stroke-width="1.2" />
<path d="M961.1 939.6L961.1 1081.2" stroke="#222" stroke-width="2.2" />
<text x="843.5" y="922.1" font-size="42.5" font-family="'DejaVu Sans','Liberation Sans',sans-serif" textLength="91" lengthAdjust="spacingAndGlyphs">8.05</text>
<path d="M671.2 866.8L671.2 1168.8" stroke="#111" stroke-width="2.2" />
<path d="M671.2 1168.8L974 1168.8" stroke="#111" stroke-width="2.2" />
<path d="M689.4 1168.8V1177.3M739.5 1168.8V1177.3M789.4 1168.8V1177.3M871.6 1168.8V1177.3M943.5 1168.8V1177.3M662.7 896H671.2M662.7 968.4H671.2M662.7 1050.2H671.2M662.7 1099.6H671.2M662.7 1149.9H671.2" stroke="#111" stroke-width="2.4" fill="none"/>
<path d="M814.1 1168.8V1173.3M828.6 1168.8V1173.3M838.9 1168.8V1173.3M846.9 1168.8V1173.3M853.4 1168.8V1173.3M858.9 1168.8V1173.3M863.6 1168.8V1173.3M867.8 1168.8V1173.3M893.2 1168.8V1173.3M905.9 1168.8V1173.3M914.9 1168.8V1173.3M921.9 1168.8V1173.3M927.5 1168.8V1173.3M932.4 1168.8V1173.3M936.5 1168.8V1173.3M940.2 1168.8V1173.3M965.1 1168.8V1173.3M744.5 1168.8V1173.3M734.5 1168.8V1173.3M749.5 1168.8V1173.3M729.5 1168.8V1173.3M754.5 1168.8V1173.3M724.5 1168.8V1173.3M759.5 1168.8V1173.3M719.5 1168.8V1173.3M764.5 1168.8V1173.3M714.5 1168.8V1173.3M769.4 1168.8V1173.3M709.4 1168.8V1173.3M774.4 1168.8V1173.3M704.4 1168.8V1173.3M779.4 1168.8V1173.3M699.4 1168.8V1173.3M784.4 1168.8V1173.3M694.4 1168.8V1173.3M683.4 1168.8V1173.3M666.7 1025.6H671.2M666.7 1011.2H671.2M666.7 1001H671.2M666.7 993H671.2M666.7 986.5H671.2M666.7 981.1H671.2M666.7 976.3H671.2M666.7 972.1H671.2M666.7 946.6H671.2M666.7 933.9H671.2M666.7 924.8H671.2M666.7 917.8H671.2M666.7 912.1H671.2M666.7 907.2H671.2M666.7 903H671.2M666.7 899.3H671.2M666.7 874.2H671.2M666.7 1094.7H671.2M666.7 1104.6H671.2M666.7 1089.7H671.2M666.7 1109.7H671.2M666.7 1084.8H671.2M666.7 1114.7H671.2M666.7 1079.8H671.2M666.7 1119.7H671.2M666.7 1074.9H671.2M666.7 1124.8H671.2M666.7 1070H671.2M666.7 1129.8H671.2M666.7 1065H671.2M666.7 1134.8H671.2M666.7 1060.1H671.2M666.7 1139.8H671.2M666.7 1055.1H671.2M666.7 1144.9H671.2" stroke="#111" stroke-width="1.2" fill="none"/>
<path d="M734 1168.8v7M737.3 1168.8v5M740.5 1168.8v8M744 1168.8v5.5" stroke="#000" stroke-width="3.2" fill="none"/>
<path d="M671.2 1094.6h-7M671.2 1097.8h-5M671.2 1101.1h-8.5M671.2 1104.6h-6" stroke="#000" stroke-width="3.2" fill="none"/>
<text x="684.9" y="1194" font-size="10.4" font-family="'DejaVu Sans','Liberation Sans',sans-serif" fill="#111" letter-spacing="-0.4">–10<tspan font-size="11.6" dy="-6" dx="0.8">3</tspan></text>
<text x="742" y="1194" font-size="10.4" font-family="'DejaVu Sans','Liberation Sans',sans-serif" fill="#111">0</text>
<text x="788.9" y="1194" font-size="10.4" font-family="'DejaVu Sans','Liberation Sans',sans-serif" fill="#111" letter-spacing="-0.4">10<tspan font-size="11.6" dy="-6" dx="0.8">3</tspan></text>
<text x="871.1" y="1194" font-size="10.4" font-family="'DejaVu Sans','Liberation Sans',sans-serif" fill="#111" letter-spacing="-0.4">10<tspan font-size="11.6" dy="-6" dx="0.8">4</tspan></text>
<text x="943" y="1194" font-size="10.4" font-family="'DejaVu Sans','Liberation Sans',sans-serif" fill="#111" letter-spacing="-0.4">10<tspan font-size="11.6" dy="-6" dx="0.8">5</tspan></text>
<text x="656.7" y="902" font-size="10.4" text-anchor="end" font-family="'DejaVu Sans','Liberation Sans',sans-serif" fill="#111" letter-spacing="-0.4">10<tspan font-size="11.6" dy="-6" dx="0.8">5</tspan></text>
<text x="656.7" y="974.4" font-size="10.4" text-anchor="end" font-family="'DejaVu Sans','Liberation Sans',sans-serif" fill="#111" letter-spacing="-0.4">10<tspan font-size="11.6" dy="-6" dx="0.8">4</tspan></text>
<text x="656.7" y="1056.2" font-size="10.4" text-anchor="end" font-family="'DejaVu Sans','Liberation Sans',sans-serif" fill="#111" letter-spacing="-0.4">10<tspan font-size="11.6" dy="-6" dx="0.8">3</tspan></text>
<text x="649.2" y="1103.3" font-size="10.4" text-anchor="end" font-family="'DejaVu Sans','Liberation Sans',sans-serif" fill="#111">0</text>
<text x="656.7" y="1156.4" font-size="10.4" text-anchor="end" font-family="'DejaVu Sans','Liberation Sans',sans-serif" fill="#111" letter-spacing="-0.4">–10<tspan font-size="11.6" dy="-6" dx="0.8">3</tspan></text>
<g fill="none" stroke-linecap="square" stroke-width="1.2">
<path transform="scale(1.25)" stroke-width="1" stroke="#283e9c" d="M881 701zm101 1zm-29 2zm-3 6zm8 3zm10 4zm48 0zm-100 3zm8 0zm-57 3zm77 0zm37 2zm-31 1zm26 0zm-74 1zm69 0zm14 0zm-116 2zm116 0zm-11 1zm18 0zm9 1zm26 0zm-54 1zm2 0zm29 0zm-11 1zm-110 1zm78 0zm-4 3zm-98 1zm56 0zm1 0zm74 1zm6 0zm-124 1zm36 0zm71 0zm12 0zm-43 1zm37 0zm-158 1zm25 1zm112 0zm-133 1zm130 0zm1 0zm37 0zm-123 1zm115 0zm-114 1zm39 0zm73 0zm12 0zm-55 1zm16 0zm22 0zm-21 1zm18 0zm-30 1zm49 0zm-112 1zm73 0zm14 0zm11 0zm19 0zm-48 1zm3 0zm20 0zm2 0zm1 0zm43 0zm-65 1zm24 0zm2 0zm7 0zm-142 1zm20 0zm101 0zm41 0zm-189 1zm163 0zm5 0zm8 0zm20 0zm-159 1zm99 0zm22 0zm5 1zm25 0zm-111 1zm6 0zm52 0zm12 0zm4 0zm8 0zm13 0zm21 0zm-49 1zm15 0zm2 0zm2 0zm12 0zm-55 1zm43 0zm1 0zm1 0zm12 0zm-158 1zm7 0zm18 0zm89 0zm26 0zm19 0zm-210 1zm44 0zm12 0zm44 0zm87 0zm10 0zm3 0zm2 0zm-93 1zm71 0zm8 0zm-9 1zm1 0zm2 0zm5 0zm29 0zm1 0zm-162 1zm33 0zm85 0zm5 0zm3 0zm2 0zm29 0zm-130 1zm79 0zm3 0zm9 0zm5 0zm4 0zm17 0zm1 0zm5 0zm7 0zm-41 1zm11 0zm5 0zm6 0zm-135 1zm105 0zm13 0zm8 0zm4 0zm7 0zm-58 1zm13 0zm14 0zm3 0zm3 0zm5 0zm4 0zm5 0zm9 0zm15 0zm3 0zm-88 1zm7 0zm12 0zm31 0zm1 0zm11 0zm8 0zm-130 1zm112 0zm12 0zm2 0zm28 0zm-163 1zm125 0zm-97 1zm71 0zm8 0zm11 0zm4 0zm4 0zm16 0zm6 0zm1 0zm10 0zm-191 1zm41 0zm82 0zm18 0zm6 0zm3 0zm2 0zm6 0zm1 0zm8 0zm2 0zm2 0zm5 0zm6 0zm7 0zm-64 1zm27 0zm8 0zm10 0zm2 0zm9 0zm4 0zm-43 1zm2 0zm16 0zm2 0zm2 0zm5 0zm3 0zm29 0zm11 0zm-131 1zm35 0zm30 0zm16 0zm11 0zm12 0zm1 0zm1 0zm11 0zm9 0zm-136 1zm12 0zm58 0zm3 0zm4 0zm3 0zm4 0zm5 0zm7 0zm8 0zm1 0zm6 0zm-47 1zm6 0zm13 0zm3 0zm8 0zm2 0zm5 0zm6 0zm3 0zm-45 1zm9 0zm4 0zm6 0zm9 0zm1 0zm13 0zm-25 1zm1 0zm1 0zm13 0zm1 0zm3 0zm3 0zm13 0zm2 0zm6 0zm-171 1zm103 0zm20 0zm6 0zm2 0zm5 0zm2 0zm2 0zm8 0zm5 0zm3 0zm2 0zm1 0zm4 0zm-101 1zm22 0zm31 0zm9 0zm5 0zm6 0zm8 0zm2 0zm2 0zm3 0zm2 0zm4 0zm10 0zm-173 1zm44 0zm83 0zm3 0zm3 0zm3 0zm4 0zm3 0zm1 0zm4 0zm2 0zm8 0zm12 0zm-159 1zm16 0zm103 0zm4 0zm1 0zm1 0zm4 0zm2 0zm2 0zm3 0zm9 0zm7 0zm2 0zm3 0zm6 0zm-106 1zm59 0zm2 0zm1 0zm2 0zm1 0zm8 0zm1 0zm4 0zm1 0zm3 0zm3 0zm1 0zm6 0zm3 0zm1 0zm2 0zm1 0zm6 0zm11 0zm-73 1zm16 0zm1 0zm2 0zm6 0zm2 0zm5 0zm2 0zm5 0zm3 0zm1 0zm3 0zm4 0zm2 0zm3 0zm4 0zm4 0zm-165 1zm53 0zm59 0zm7 0zm1 0zm1 0zm2 0zm5 0zm3 0zm7 0zm2 0zm1 0zm6 0zm1 0zm1 0zm2 0zm3 0zm1 0zm4 0zm1 0zm-154 1zm9 0zm43 0zm52 0zm1 0zm4 0zm3 0zm2 0zm1 0zm1 0zm9 0zm1 0zm3 0zm3 0zm4 0zm1 0zm5 0zm2 0zm1 0zm10 0zm-54 1zm2 0zm8 0zm12 0zm3 0zm2 0zm1 0zm6 0zm2 0zm3 0zm2 0zm2 0zm17 0zm-163 1zm28 0zm36 0zm38 0zm15 0zm5 0zm6 0zm5 0zm2 0zm8 0zm2 0zm1 0zm2 0zm9 0zm-160 1zm28 0zm90 0zm8 0zm2 0zm1 0zm3 0zm10 0zm1 0zm20 0zm4 0zm-152 1zm27 0zm26 0zm23 0zm7 0zm8 0zm3 0zm5 0zm5 0zm4 0zm12 0zm1 0zm4 0zm3 0zm5 0zm4 0zm1 0zm-88 1zm41 0zm5 0zm1 0zm11 0zm1 0zm4 0zm4 0zm4 0zm4 0zm1 0zm1 0zm1 0zm1 0zm1 0zm7 0zm1 0zm4 0zm1 0zm2 0zm1 0zm2 0zm-57 1zm1 0zm14 0zm4 0zm1 0zm6 0zm3 0zm3 0zm9 0zm4 0zm5 0zm6 0zm5 0zm-149 1zm81 0zm1 0zm16 0zm3 0zm2 0zm2 0zm3 0zm3 0zm4 0zm2 0zm1 0zm3 0zm6 0zm4 0zm1 0zm1 0zm5 0zm4 0zm3 0zm6 0zm7 0zm8 0zm-227 1zm94 0zm45 0zm9 0zm4 0zm1 0zm1 0zm4 0zm6 0zm1 0zm1 0zm1 0zm3 0zm1 0zm2 0zm1 0zm1 0zm1 0zm2 0zm3 0zm3 0zm3 0zm1 0zm2 0zm3 0zm2 0zm2 0zm1 0zm1 0zm6 0zm1 0zm2 0zm-175 1zm43 0zm74 0zm9 0zm2 0zm3 0zm8 0zm1 0zm1 0zm3 0zm1 0zm1 0zm3 0zm1 0zm2 0zm2 0zm1 0zm2 0zm6 0zm2 0zm1 0zm6 0zm22 0zm-174 1zm107 0zm6 0zm5 0zm3 0zm5 0zm1 0zm2 0zm3 0zm2 0zm2 0zm1 0zm1 0zm1 0zm1 0zm3 0zm1 0zm1 0zm5 0zm9 0zm4 0zm4 0zm-173 1zm1 0zm5 0zm39 0zm40 0zm29 0zm1 0zm3 0zm1 0zm2 0zm1 0zm3 0zm3 0zm1 0zm2 0zm2 0zm3 0zm1 0zm1 0zm7 0zm1 0zm2 0zm1 0zm5 0zm-164 1zm13 0zm98 0zm1 0zm3 0zm3 0zm6 0zm2 0zm7 0zm2 0zm1 0zm4 0zm1 0zm1 0zm2 0zm7 0zm3 0zm1 0zm2 0zm8 0zm8 0zm-141 1zm51 0zm15 0zm13 0zm11 0zm3 0zm2 0zm2 0zm7 0zm3 0zm1 0zm1 0zm2 0zm1 0zm7 0zm3 0zm1 0zm1 0zm2 0zm1 0zm1 0zm2 0zm1 0zm3 0zm18 0zm-100 1zm24 0zm11 0zm3 0zm5 0zm5 0zm1 0zm2 0zm3 0zm3 0zm1 0zm3 0zm2 0zm1 0zm3 0zm4 0zm2 0zm1 0zm10 0zm1 0zm5 0zm-162 1zm104 0zm1 0zm2 0zm2 0zm4 0zm4 0zm1 0zm1 0zm4 0zm2 0zm3 0zm2 0zm1 0zm1 0zm1 0zm1 0zm8 0zm1 0zm3 0zm1 0zm1 0zm2 0zm4 0zm-152 1zm63 0zm14 0zm12 0zm4 0zm2 0zm1 0zm15 0zm4 0zm2 0zm3 0zm1 0zm2 0zm1 0zm1 0zm2 0zm2 0zm1 0zm1 0zm1 0zm1 0zm1 0zm1 0zm4 0zm3 0zm1 0zm2 0zm1 0zm1 0zm1 0zm2 0zm3 0zm5 0zm-175 1zm21 0zm9 0zm86 0zm6 0zm9 0zm2 0zm2 0zm2 0zm2 0zm1 0zm2 0zm1 0zm2 0zm7 0zm1 0zm1 0zm1 0zm2 0zm5 0zm1 0zm1 0zm4 0zm14 0zm-128 1zm61 0zm2 0zm1 0zm5 0zm2 0zm4 0zm4 0zm5 0zm1 0zm1 0zm1 0zm2 0zm3 0zm7 0zm2 0zm3 0zm2 0zm2 0zm4 0zm1 0zm2 0zm8 0zm-157 1zm17 0zm2 0zm6 0zm73 0zm13 0zm2 0zm1 0zm1 0zm2 0zm2 0zm1 0zm2 0zm1 0zm8 0zm1 0zm1 0zm1 0zm3 0zm1 0zm2 0zm8 0zm5 0zm2 0zm-94 1zm33 0zm3 0zm4 0zm4 0zm4 0zm6 0zm2 0zm1 0zm1 0zm1 0zm2 0zm1 0zm1 0zm2 0zm2 0zm1 0zm1 0zm1 0zm2 0zm1 0zm1 0zm2 0zm1 0zm2 0zm4 0zm2 0zm4 0zm-156 1zm12 0zm52 0zm23 0zm24 0zm2 0zm1 0zm1 0zm3 0zm3 0zm2 0zm2 0zm1 0zm1 0zm3 0zm3 0zm3 0zm1 0zm3 0zm2 0zm2 0zm1 0zm4 0zm2 0zm1 0zm1 0zm5 0zm2 0zm5 0zm-159 1zm31 0zm62 0zm10 0zm2 0zm3 0zm4 0zm2 0zm1 0zm1 0zm1 0zm1 0zm1 0zm1 0zm1 0zm1 0zm1 0zm3 0zm2 0zm5 0zm2 0zm3 0zm1 0zm1 0zm5 0zm13 0zm-76 1zm2 0zm10 0zm9 0zm4 0zm1 0zm5 0zm2 0zm1 0zm1 0zm6 0zm1 0zm1 0zm2 0zm3 0zm2 0zm1 0zm1 0zm2 0zm1 0zm1 0zm1 0zm5 0zm1 0zm3 0zm1 0zm18 0zm4 0zm-76 1zm2 0zm1 0zm2 0zm4 0zm5 0zm4 0zm3 0zm1 0zm1 0zm1 0zm1 0zm1 0zm2 0zm2 0zm1 0zm2 0zm1 0zm4 0zm1 0zm3 0zm2 0zm1 0zm1 0zm3 0zm2 0zm1 0zm4 0zm1 0zm1 0zm1 0zm-62 1zm8 0zm2 0zm2 0zm2 0zm1 0zm4 0zm1 0zm1 0zm4 0zm2 0zm1 0zm1 0zm2 0zm2 0zm1 0zm2 0zm3 0zm1 0zm1 0zm1 0zm1 0zm2 0zm1 0zm1 0zm1 0zm1 0zm1 0zm4 0zm3 0zm1 0zm6 0zm8 0zm-188 1zm9 0zm48 0zm44 0zm27 0zm6 0zm1 0zm1 0zm1 0zm1 0zm1 0zm1 0zm1 0zm2 0zm1 0zm1 0zm1 0zm1 0zm5 0zm1 0zm1 0zm3 0zm1 0zm1 0zm1 0zm1 0zm1 0zm1 0zm1 0zm1 0zm1 0zm2 0zm4 0zm3 0zm1 0zm2 0zm1 0zm2 0zm15 0zm-169 1zm91 0zm4 0zm2 0zm1 0zm2 0zm5 0zm1 0zm2 0zm1 0zm5 0zm1 0zm1 0zm1 0zm1 0zm3 0zm1 0zm2 0zm1 0zm1 0zm2 0zm1 0zm2 0zm1 0zm1 0zm2 0zm1 0zm1 0zm1 0zm2 0zm2 0zm1 0zm16 0zm-115 1zm2 0zm8 0zm38 0zm5 0zm1 0zm1 0zm9 0zm2 0zm1 0zm1 0zm1 0zm1 0zm3 0zm3 0zm2 0zm1 0zm1 0zm1 0zm1 0zm2 0zm2 0zm1 0zm5 0zm1 0zm3 0zm1 0zm1 0zm7 0zm18 0zm2 0zm-113 1zm6 0zm32 0zm3 0zm3 0zm3 0zm1 0zm3 0zm1 0zm1 0zm1 0zm1 0zm1 0zm1 0zm1 0zm2 0zm2 0zm1 0zm2 0zm2 0zm1 0zm2 0zm2 0zm2 0zm3 0zm2 0zm2 0zm1 0zm3 0zm1 0zm1 0zm1 0zm2 0zm3 0zm5 0zm3 0zm-169 1zm12 0zm55 0zm5 0zm21 0zm6 0zm1 0zm4 0zm3 0zm3 0zm1 0zm6 0zm4 0zm1 0zm2 0zm3 0zm2 0zm1 0zm2 0zm1 0zm1 0zm2 0zm1 0zm1 0zm1 0zm1 0zm1 0zm1 0zm1 0zm1 0zm2 0zm1 0zm1 0zm1 0zm1 0zm4 0zm4 0zm2 0zm5 0zm1 0zm8 0zm2 0zm4 0zm-171 1zm97 0zm3 0zm3 0zm3 0zm2 0zm2 0zm2 0zm1 0zm1 0zm2 0zm1 0zm1 0zm1 0zm2 0zm1 0zm1 0zm1 0zm1 0zm1 0zm1 0zm2 0zm1 0zm1 0zm1 0zm1 0zm1 0zm1 0zm1 0zm1 0zm3 0zm2 0zm2 0zm4 0zm6 0zm2 0zm2 0zm7 0zm6 0zm-169 1zm88 0zm9 0zm6 0zm1 0zm3 0zm1 0zm2 0zm4 0zm1 0zm1 0zm1 0zm2 0zm1 0zm1 0zm1 0zm1 0zm1 0zm1 0zm1 0zm1 0zm1 0zm1 0zm1 0zm2 0zm1 0zm1 0zm1 0zm1 0zm2 0zm1 0zm1 0zm3 0zm1 0zm1 0zm1 0zm3 0zm1 0zm-136 1zm58 0zm25 0zm4 0zm2 0zm1 0zm2 0zm3 0zm7 0zm1 0zm2 0zm2 0zm1 0zm1 0zm1 0zm2 0zm2 0zm1 0zm2 0zm2 0zm1 0zm3 0zm1 0zm5 0zm2 0zm1 0zm1 0zm1 0zm2 0zm1 0zm7 0zm2 0zm-173 1zm23 0zm46 0zm18 0zm22 0zm5 0zm1 0zm3 0zm3 0zm2 0zm2 0zm1 0zm1 0zm1 0zm2 0zm2 0zm1 0zm2 0zm1 0zm2 0zm1 0zm1 0zm1 0zm2 0zm1 0zm2 0zm1 0zm1 0zm3 0zm1 0zm1 0zm1 0zm1 0zm3 0zm2 0zm3 0zm6 0zm5 0zm-176 1zm4 0zm8 0zm7 0zm30 0zm15 0zm41 0zm11 0zm1 0zm2 0zm2 0zm2 0zm2 0zm1 0zm1 0zm1 0zm3 0zm3 0zm1 0zm1 0zm1 0zm1 0zm1 0zm1 0zm1 0zm1 0zm1 0zm1 0zm1 0zm1 0zm1 0zm3 0zm1 0zm1 0zm1 0zm5 0zm1 0zm6 0zm1 0zm9 0zm-101 1zm10 0zm26 0zm1 0zm4 0zm2 0zm2 0zm1 0zm1 0zm2 0zm1 0zm2 0zm1 0zm1 0zm2 0zm1 0zm2 0zm1 0zm1 0zm1 0zm1 0zm1 0zm1 0zm1 0zm1 0zm3 0zm1 0zm1 0zm4 0zm4 0zm2 0zm3 0zm2 0zm1 0zm2 0zm3 0zm5 0zm2 0zm6 0zm-179 1zm35 0zm25 0zm27 0zm3 0zm14 0zm1 0zm6 0zm3 0zm1 0zm2 0zm1 0zm1 0zm1 0zm2 0zm2 0zm1 0zm2 0zm1 0zm2 0zm1 0zm1 0zm1 0zm1 0zm1 0zm2 0zm1 0zm1 0zm1 0zm1 0zm1 0zm1 0zm1 0zm1 0zm1 0zm1 0zm1 0zm1 0zm1 0zm2 0zm3 0zm1 0zm1 0zm3 0zm3 0zm1 0zm4 0zm3 0zm-91 1zm28 0zm1 0zm2 0zm3 0zm2 0zm1 0zm3 0zm4 0zm1 0zm2 0zm2 0zm1 0zm1 0zm2 0zm1 0zm1 0zm1 0zm1 0zm1 0zm1 0zm1 0zm1 0zm1 0zm1 0zm2 0zm1 0zm1 0zm1 0zm3 0zm1 0zm1 0zm2 0zm4 0zm5 0zm3 0zm4 0zm4 0zm1 0zm-82 1zm17 0zm2 0zm2 0zm2 0zm2 0zm1 0zm1 0zm2 0zm2 0zm1 0zm1 0zm1 0zm1 0zm1 0zm2 0zm1 0zm1 0zm1 0zm1 0zm2 0zm1 0zm1 0zm1 0zm2 0zm2 0zm1 0zm1 0zm1 0zm1 0zm1 0zm1 0zm3 0zm1 0zm1 0zm1 0zm18 0zm6 0zm-102 1zm28 0zm1 0zm2 0zm5 0zm1 0zm4 0zm1 0zm1 0zm1 0zm2 0zm1 0zm2 0zm1 0zm2 0zm1 0zm1 0zm1 0zm1 0zm2 0zm1 0zm1 0zm1 0zm1 0zm1 0zm1 0zm1 0zm1 0zm1 0zm1 0zm1 0zm1 0zm1 0zm1 0zm1 0zm1 0zm3 0zm2 0zm1 0zm3 0zm6 0zm2 0zm-166 1zm52 0zm13 0zm25 0zm2 0zm5 0zm2 0zm6 0zm5 0zm1 0zm4 0zm1 0zm2 0zm1 0zm2 0zm1 0zm2 0zm1 0zm2 0zm3 0zm1 0zm1 0zm1 0zm1 0zm1 0zm1 0zm1 0zm1 0zm1 0zm1 0zm2 0zm1 0zm1 0zm1 0zm1 0zm1 0zm1 0zm1 0zm1 0zm1 0zm1 0zm1 0zm2 0zm1 0zm1 0zm1 0zm1 0zm21 0zm-181 1zm8 0zm86 0zm3 0zm7 0zm2 0zm1 0zm8 0zm1 0zm2 0zm2 0zm1 0zm1 0zm2 0zm2 0zm1 0zm1 0zm2 0zm1 0zm1 0zm1 0zm1 0zm1 0zm1 0zm1 0zm1 0zm1 0zm1 0zm1 0zm1 0zm1 0zm1 0zm1 0zm1 0zm1 0zm2 0zm3 0zm2 0zm1 0zm5 0zm7 0zm-153 1zm84 0zm13 0zm1 0zm4 0zm1 0zm2 0zm2 0zm1 0zm2 0zm1 0zm2 0zm1 0zm1 0zm1 0zm1 0zm1 0zm1 0zm1 0zm1 0zm1 0zm1 0zm1 0zm1 0zm3 0zm1 0zm1 0zm1 0zm2 0zm1 0zm1 0zm2 0zm1 0zm1 0zm4 0zm3 0zm4 0zm4 0zm3 0zm-150 1zm19 0zm46 0zm2 0zm1 0zm9 0zm5 0zm3 0zm5 0zm2 0zm2 0zm2 0zm1 0zm2 0zm2 0zm1 0zm1 0zm1 0zm1 0zm1 0zm1 0zm1 0zm1 0zm1 0zm1 0zm1 0zm1 0zm1 0zm3 0zm1 0zm1 0zm1 0zm1 0zm2 0zm2 0zm1 0zm1 0zm1 0zm1 0zm1 0zm1 0zm1 0zm2 0zm1 0zm1 0zm2 0zm4 0zm4 0zm-160 1zm75 0zm1 0zm16 0zm5 0zm2 0zm1 0zm1 0zm2 0zm4 0zm3 0zm2 0zm2 0zm2 0zm2 0zm1 0zm2 0zm1 0zm3 0zm2 0zm1 0zm1 0zm1 0zm1 0zm1 0zm1 0zm1 0zm2 0zm2 0zm1 0zm1 0zm2 0zm1 0zm3 0zm1 0zm2 0zm1 0zm3 0zm1 0zm10 0zm7 0zm-101 1zm6 0zm5 0zm6 0zm6 0zm1 0zm13 0zm1 0zm1 0zm2 0zm3 0zm2 0zm1 0zm1 0zm1 0zm1 0zm3 0zm1 0zm1 0zm1 0zm1 0zm2 0zm1 0zm2 0zm1 0zm1 0zm1 0zm1 0zm3 0zm1 0zm1 0zm3 0zm1 0zm1 0zm2 0zm2 0zm2 0zm1 0zm2 0zm1 0zm1 0zm1 0zm2 0zm2 0zm1 0zm4 0zm-81 1zm7 0zm1 0zm2 0zm1 0zm2 0zm1 0zm2 0zm2 0zm1 0zm1 0zm1 0zm2 0zm1 0zm1 0zm2 0zm1 0zm1 0zm1 0zm2 0zm1 0zm1 0zm2 0zm1 0zm1 0zm1 0zm1 0zm1 0zm1 0zm2 0zm1 0zm2 0zm1 0zm1 0zm1 0zm1 0zm1 0zm1 0zm1 0zm2 0zm1 0zm3 0zm1 0zm1 0zm1 0zm1 0zm1 0zm1 0zm3 0zm1 0zm14 0zm-133 1zm40 0zm13 0zm2 0zm1 0zm1 0zm3 0zm2 0zm1 0zm3 0zm2 0zm1 0zm1 0zm1 0zm1 0zm1 0zm1 0zm1 0zm5 0zm1 0zm1 0zm2 0zm2 0zm1 0zm1 0zm2 0zm1 0zm1 0zm1 0zm1 0zm1 0zm1 0zm2 0zm1 0zm1 0zm1 0zm1 0zm2 0zm1 0zm1 0zm1 0zm1 0zm1 0zm1 0zm1 0zm4 0zm13 0zm6 0zm-176 1zm20 0zm51 0zm3 0zm2 0zm4 0zm1 0zm3 0zm2 0zm16 0zm2 0zm2 0zm1 0zm1 0zm1 0zm2 0zm4 0zm2 0zm1 0zm1 0zm1 0zm1 0zm1 0zm1 0zm1 0zm1 0zm1 0zm2 0zm1 0zm1 0zm1 0zm1 0zm1 0zm1 0zm1 0zm1 0zm1 0zm1 0zm1 0zm1 0zm1 0zm1 0zm4 0zm2 0zm1 0zm1 0zm3 0zm3 0zm1 0zm2 0zm2 0zm3 0zm4 0zm1 0zm-179 1zm95 0zm7 0zm7 0zm1 0zm5 0zm1 0zm1 0zm3 0zm1 0zm1 0zm1 0zm1 0zm2 0zm1 0zm1 0zm2 0zm1 0zm1 0zm1 0zm1 0zm1 0zm1 0zm1 0zm1 0zm1 0zm1 0zm1 0zm1 0zm1 0zm1 0zm1 0zm1 0zm1 0zm1 0zm1 0zm1 0zm1 0zm1 0zm2 0zm1 0zm1 0zm3 0zm1 0zm1 0zm2 0zm5 0zm2 0zm2 0zm1 0zm6 0zm2 0zm-184 1zm7 0zm5 0zm40 0zm51 0zm6 0zm1 0zm2 0zm4 0zm1 0zm3 0zm4 0zm1 0zm3 0zm2 0zm1 0zm1 0zm1 0zm1 0zm1 0zm2 0zm1 0zm1 0zm1 0zm2 0zm3 0zm1 0zm1 0zm1 0zm1 0zm2 0zm1 0zm2 0zm1 0zm1 0zm1 0zm1 0zm1 0zm1 0zm3 0zm1 0zm2 0zm1 0zm2 0zm4 0zm1 0zm1 0zm2 0zm-84 1zm13 0zm1 0zm2 0zm6 0zm1 0zm2 0zm1 0zm1 0zm2 0zm1 0zm1 0zm2 0zm1 0zm1 0zm1 0zm1 0zm1 0zm2 0zm1 0zm1 0zm1 0zm1 0zm2 0zm1 0zm1 0zm1 0zm1 0zm2 0zm1 0zm1 0zm2 0zm1 0zm1 0zm2 0zm1 0zm3 0zm1 0zm1 0zm1 0zm1 0zm1 0zm1 0zm2 0zm1 0zm1 0zm1 0zm1 0zm3 0zm2 0zm3 0zm2 0zm3 0zm5 0zm-179 1zm6 0zm77 0zm16 0zm5 0zm2 0zm1 0zm1 0zm1 0zm2 0zm3 0zm1 0zm1 0zm1 0zm2 0zm1 0zm2 0zm1 0zm1 0zm1 0zm1 0zm1 0zm1 0zm1 0zm3 0zm1 0zm2 0zm1 0zm1 0zm1 0zm2 0zm1 0zm1 0zm1 0zm1 0zm1 0zm1 0zm1 0zm2 0zm1 0zm1 0zm2 0zm2 0zm1 0zm3 0zm5 0zm3 0zm4 0zm-89 1zm2 0zm10 0zm2 0zm2 0zm3 0zm4 0zm2 0zm2 0zm1 0zm1 0zm1 0zm1 0zm1 0zm2 0zm2 0zm6 0zm3 0zm2 0zm1 0zm1 0zm2 0zm1 0zm2 0zm1 0zm1 0zm1 0zm1 0zm1 0zm1 0zm1 0zm1 0zm1 0zm1 0zm1 0zm1 0zm1 0zm1 0zm1 0zm1 0zm1 0zm1 0zm4 0zm2 0zm2 0zm2 0zm3 0zm3 0zm-161 1zm41 0zm29 0zm1 0zm11 0zm9 0zm2 0zm3 0zm3 0zm3 0zm1 0zm1 0zm1 0zm4 0zm2 0zm1 0zm1 0zm1 0zm1 0zm1 0zm3 0zm2 0zm1 0zm1 0zm1 0zm1 0zm1 0zm1 0zm1 0zm1 0zm1 0zm1 0zm1 0zm1 0zm1 0zm1 0zm2 0zm1 0zm1 0zm1 0zm1 0zm1 0zm2 0zm1 0zm2 0zm3 0zm2 0zm6 0zm1 0zm3 0zm1 0zm1 0zm1 0zm1 0zm6 0zm-114 1zm19 0zm4 0zm12 0zm2 0zm6 0zm1 0zm2 0zm1 0zm1 0zm1 0zm1 0zm4 0zm1 0zm1 0zm1 0zm1 0zm1 0zm2 0zm1 0zm1 0zm1 0zm1 0zm1 0zm2 0zm1 0zm1 0zm1 0zm1 0zm1 0zm2 0zm1 0zm1 0zm1 0zm2 0zm2 0zm1 0zm1 0zm1 0zm1 0zm1 0zm2 0zm1 0zm1 0zm1 0zm1 0zm1 0zm2 0zm1 0zm2 0zm17 0zm-169 1zm50 0zm21 0zm1 0zm7 0zm1 0zm6 0zm3 0zm5 0zm1 0zm2 0zm1 0zm2 0zm1 0zm1 0zm3 0zm1 0zm1 0zm1 0zm1 0zm1 0zm1 0zm1 0zm1 0zm1 0zm1 0zm1 0zm1 0zm1 0zm1 0zm1 0zm1 0zm1 0zm1 0zm1 0zm1 0zm1 0zm2 0zm1 0zm1 0zm1 0zm1 0zm1 0zm1 0zm2 0zm1 0zm1 0zm1 0zm1 0zm1 0zm1 0zm1 0zm1 0zm2 0zm1 0zm1 0zm4 0zm1 0zm3 0zm6 0zm1 0zm-163 1zm66 0zm3 0zm5 0zm10 0zm6 0zm3 0zm3 0zm2 0zm1 0zm4 0zm1 0zm1 0zm2 0zm1 0zm1 0zm1 0zm2 0zm1 0zm1 0zm2 0zm1 0zm1 0zm1 0zm1 0zm1 0zm1 0zm1 0zm1 0zm2 0zm1 0zm1 0zm1 0zm1 0zm1 0zm1 0zm1 0zm1 0zm2 0zm1 0zm1 0zm1 0zm2 0zm1 0zm1 0zm4 0zm2 0zm13 0zm1 0zm-173 1zm3 0zm4 0zm11 0zm24 0zm26 0zm5 0zm7 0zm3 0zm1 0zm2 0zm11 0zm3 0zm1 0zm3 0zm3 0zm1 0zm2 0zm1 0zm3 0zm1 0zm1 0zm2 0zm1 0zm1 0zm1 0zm1 0zm1 0zm1 0zm2 0zm1 0zm1 0zm1 0zm1 0zm3 0zm1 0zm1 0zm1 0zm1 0zm1 0zm1 0zm1 0zm1 0zm1 0zm1 0zm1 0zm1 0zm1 0zm1 0zm2 0zm1 0zm1 0zm1 0zm1 0zm3 0zm2 0zm5 0zm6 0zm3 0zm4 0zm-149 1zm31 0zm4 0zm2 0zm6 0zm5 0zm2 0zm7 0zm7 0zm1 0zm2 0zm1 0zm7 0zm1 0zm2 0zm2 0zm2 0zm2 0zm4 0zm1 0zm1 0zm1 0zm1 0zm1 0zm1 0zm1 0zm1 0zm1 0zm1 0zm1 0zm1 0zm1 0zm1 0zm1 0zm2 0zm1 0zm1 0zm1 0zm1 0zm3 0zm1 0zm1 0zm1 0zm2 0zm1 0zm1 0zm1 0zm2 0zm1 0zm1 0zm1 0zm1 0zm1 0zm1 0zm4 0zm3 0zm2 0zm3 0zm4 0zm8 0zm-97 1zm3 0zm12 0zm2 0zm1 0zm1 0zm4 0zm1 0zm1 0zm1 0zm1 0zm1 0zm1 0zm1 0zm1 0zm1 0zm1 0zm1 0zm1 0zm3 0zm1 0zm1 0zm1 0zm2 0zm1 0zm1 0zm1 0zm1 0zm1 0zm1 0zm1 0zm1 0zm1 0zm1 0zm1 0zm1 0zm1 0zm1 0zm1 0zm1 0zm1 0zm2 0zm1 0zm3 0zm1 0zm1 0zm1 0zm1 0zm1 0zm1 0zm1 0zm1 0zm1 0zm1 0zm2 0zm3 0zm3 0zm1 0zm1 0zm3 0zm2 0zm7 0zm-101 1zm5 0zm5 0zm2 0zm4 0zm3 0zm4 0zm1 0zm2 0zm4 0zm2 0zm1 0zm1 0zm1 0zm1 0zm1 0zm1 0zm1 0zm3 0zm1 0zm1 0zm1 0zm1 0zm1 0zm1 0zm2 0zm1 0zm2 0zm1 0zm1 0zm1 0zm1 0zm1 0zm1 0zm1 0zm1 0zm1 0zm1 0zm1 0zm1 0zm1 0zm1 0zm1 0zm2 0zm1 0zm1 0zm1 0zm1 0zm2 0zm1 0zm1 0zm1 0zm1 0zm1 0zm1 0zm1 0zm1 0zm3 0zm1 0zm1 0zm-168 1zm5 0zm62 0zm27 0zm4 0zm1 0zm1 0zm1 0zm4 0zm2 0zm3 0zm1 0zm1 0zm1 0zm1 0zm1 0zm1 0zm2 0zm1 0zm1 0zm1 0zm1 0zm1 0zm1 0zm1 0zm1 0zm1 0zm2 0zm1 0zm1 0zm1 0zm1 0zm1 0zm1 0zm1 0zm1 0zm1 0zm1 0zm1 0zm1 0zm1 0zm1 0zm1 0zm3 0zm1 0zm1 0zm1 0zm1 0zm1 0zm2 0zm2 0zm5 0zm1 0zm2 0zm2 0zm2 0zm9 0zm-189 1zm67 0zm4 0zm13 0zm12 0zm1 0zm3 0zm1 0zm5 0zm2 0zm1 0zm5 0zm1 0zm1 0zm2 0zm1 0zm1 0zm1 0zm1 0zm1 0zm1 0zm2 0zm1 0zm1 0zm1 0zm1 0zm2 0zm1 0zm1 0zm1 0zm1 0zm1 0zm1 0zm1 0zm1 0zm1 0zm1 0zm1 0zm2 0zm1 0zm1 0zm2 0zm3 0zm1 0zm1 0zm2 0zm1 0zm1 0zm1 0zm1 0zm1 0zm1 0zm2 0zm1 0zm1 0zm1 0zm1 0zm4 0zm2 0zm2 0zm1 0zm1 0zm7 0zm-163 1zm41 0zm29 0zm5 0zm1 0zm7 0zm2 0zm1 0zm5 0zm1 0zm1 0zm1 0zm2 0zm1 0zm1 0zm1 0zm1 0zm2 0zm1 0zm1 0zm1 0zm1 0zm2 0zm1 0zm1 0zm1 0zm2 0zm1 0zm1 0zm1 0zm1 0zm1 0zm1 0zm2 0zm1 0zm1 0zm1 0zm1 0zm1 0zm1 0zm1 0zm2 0zm1 0zm1 0zm1 0zm1 0zm3 0zm1 0zm1 0zm1 0zm2 0zm1 0zm1 0zm1 0zm1 0zm1 0zm2 0zm1 0zm1 0zm2 0zm1 0zm3 0zm1 0zm1 0zm1 0zm-172 1zm44 0zm35 0zm6 0zm1 0zm2 0zm2 0zm3 0zm1 0zm4 0zm1 0zm3 0zm1 0zm2 0zm3 0zm3 0zm1 0zm1 0zm1 0zm1 0zm1 0zm1 0zm1 0zm1 0zm1 0zm1 0zm1 0zm2 0zm1 0zm1 0zm1 0zm1 0zm1 0zm1 0zm1 0zm2 0zm2 0zm1 0zm1 0zm1 0zm2 0zm1 0zm1 0zm1 0zm1 0zm1 0zm1 0zm1 0zm1 0zm1 0zm1 0zm1 0zm1 0zm1 0zm1 0zm1 0zm1 0zm2 0zm4 0zm1 0zm2 0zm1 0zm1 0zm2 0zm7 0zm1 0zm4 0zm1 0zm-103 1zm2 0zm16 0zm2 0zm2 0zm1 0zm1 0zm1 0zm1 0zm1 0zm1 0zm1 0zm1 0zm1 0zm1 0zm1 0zm1 0zm2 0zm1 0zm2 0zm2 0zm1 0zm1 0zm1 0zm1 0zm1 0zm1 0zm1 0zm1 0zm1 0zm2 0zm1 0zm2 0zm1 0zm2 0zm1 0zm2 0zm1 0zm1 0zm2 0zm1 0zm1 0zm1 0zm1 0zm1 0zm1 0zm1 0zm1 0zm2 0zm1 0zm1 0zm1 0zm3 0zm1 0zm1 0zm1 0zm2 0zm1 0zm1 0zm4 0zm1 0zm2 0zm2 0zm2 0zm-168 1zm47 0zm3 0zm20 0zm14 0zm2 0zm3 0zm1 0zm1 0zm1 0zm1 0zm3 0zm1 0zm1 0zm1 0zm2 0zm1 0zm1 0zm1 0zm1 0zm1 0zm1 0zm1 0zm1 0zm1 0zm2 0zm1 0zm1 0zm1 0zm1 0zm1 0zm1 0zm1 0zm1 0zm1 0zm1 0zm1 0zm2 0zm1 0zm1 0zm1 0zm1 0zm1 0zm1 0zm1 0zm1 0zm2 0zm1 0zm1 0zm1 0zm3 0zm1 0zm2 0zm1 0zm1 0zm2 0zm2 0zm5 0zm1 0zm1 0zm1 0zm3 0zm4 0zm4 0zm-170 1zm22 0zm49 0zm1 0zm1 0zm3 0zm4 0zm1 0zm1 0zm6 0zm1 0zm1 0zm4 0zm1 0zm1 0zm2 0zm3 0zm1 0zm1 0zm1 0zm1 0zm1 0zm1 0zm1 0zm1 0zm1 0zm1 0zm1 0zm1 0zm1 0zm1 0zm1 0zm2 0zm1 0zm1 0zm1 0zm1 0zm2 0zm1 0zm2 0zm1 0zm1 0zm1 0zm1 0zm1 0zm1 0zm1 0zm1 0zm1 0zm1 0zm1 0zm1 0zm2 0zm1 0zm1 0zm2 0zm1 0zm1 0zm1 0zm1 0zm1 0zm1 0zm3 0zm1 0zm3 0zm3 0zm2 0zm5 0zm1 0zm3 0zm-166 1zm63 0zm14 0zm2 0zm1 0zm3 0zm2 0zm2 0zm1 0zm1 0zm2 0zm3 0zm1 0zm2 0zm1 0zm1 0zm1 0zm1 0zm1 0zm2 0zm1 0zm1 0zm1 0zm1 0zm1 0zm1 0zm1 0zm1 0zm1 0zm1 0zm1 0zm1 0zm1 0zm2 0zm2 0zm1 0zm2 0zm1 0zm1 0zm1 0zm1 0zm1 0zm1 0zm1 0zm1 0zm1 0zm1 0zm1 0zm1 0zm1 0zm1 0zm1 0zm3 0zm1 0zm1 0zm1 0zm1 0zm1 0zm1 0zm1 0zm1 0zm1 0zm6 0zm9 0zm-198 1zm87 0zm12 0zm5 0zm3 0zm4 0zm1 0zm3 0zm2 0zm1 0zm1 0zm1 0zm2 0zm1 0zm3 0zm1 0zm1 0zm2 0zm1 0zm2 0zm1 0zm1 0zm1 0zm1 0zm2 0zm2 0zm1 0zm2 0zm1 0zm1 0zm1 0zm1 0zm1 0zm4 0zm1 0zm2 0zm1 0zm2 0zm1 0zm1 0zm1 0zm1 0zm2 0zm1 0zm1 0zm2 0zm3 0zm1 0zm2 0zm1 0zm1 0zm1 0zm1 0zm1 0zm1 0zm1 0zm5 0zm1 0zm2 0zm2 0zm-174 1zm51 0zm12 0zm16 0zm1 0zm5 0zm1 0zm4 0zm1 0zm1 0zm2 0zm2 0zm1 0zm1 0zm4 0zm1 0zm1 0zm1 0zm1 0zm2 0zm1 0zm1 0zm2 0zm1 0zm1 0zm1 0zm1 0zm1 0zm1 0zm1 0zm1 0zm2 0zm1 0zm1 0zm1 0zm1 0zm1 0zm1 0zm1 0zm1 0zm2 0zm2 0zm4 0zm2 0zm1 0zm1 0zm1 0zm1 0zm1 0zm2 0zm1 0zm2 0zm2 0zm1 0zm1 0zm1 0zm1 0zm1 0zm1 0zm1 0zm1 0zm1 0zm1 0zm2 0zm1 0zm1 0zm3 0zm5 0zm5 0zm-157 1zm2 0zm28 0zm7 0zm8 0zm6 0zm9 0zm7 0zm2 0zm2 0zm2 0zm2 0zm2 0zm2 0zm1 0zm1 0zm2 0zm1 0zm3 0zm1 0zm1 0zm1 0zm1 0zm1 0zm2 0zm1 0zm1 0zm1 0zm1 0zm1 0zm1 0zm1 0zm1 0zm4 0zm2 0zm1 0zm1 0zm1 0zm1 0zm1 0zm2 0zm1 0zm1 0zm1 0zm2 0zm1 0zm1 0zm1 0zm1 0zm1 0zm1 0zm2 0zm1 0zm1 0zm1 0zm1 0zm1 0zm1 0zm1 0zm1 0zm1 0zm1 0zm1 0zm3 0zm1 0zm5 0zm8 0zm-103 1zm1 0zm1 0zm2 0zm4 0zm5 0zm1 0zm6 0zm1 0zm1 0zm1 0zm1 0zm4 0zm2 0zm1 0zm2 0zm1 0zm1 0zm1 0zm1 0zm1 0zm1 0zm1 0zm1 0zm1 0zm1 0zm1 0zm1 0zm1 0zm1 0zm1 0zm1 0zm1 0zm1 0zm2 0zm1 0zm2 0zm1 0zm3 0zm2 0zm1 0zm1 0zm1 0zm1 0zm2 0zm1 0zm1 0zm1 0zm2 0zm1 0zm1 0zm1 0zm2 0zm1 0zm1 0zm1 0zm1 0zm2 0zm2 0zm1 0zm1 0zm2 0zm10 0zm3 0zm-183 1zm33 0zm42 0zm2 0zm5 0zm3 0zm3 0zm2 0zm3 0zm2 0zm3 0zm1 0zm2 0zm3 0zm1 0zm1 0zm1 0zm1 0zm2 0zm1 0zm1 0zm1 0zm1 0zm1 0zm1 0zm1 0zm1 0zm2 0zm1 0zm1 0zm2 0zm1 0zm2 0zm4 0zm3 0zm1 0zm1 0zm4 0zm2 0zm1 0zm2 0zm1 0zm1 0zm1 0zm2 0zm1 0zm1 0zm1 0zm1 0zm1 0zm1 0zm1 0zm1 0zm1 0zm1 0zm1 0zm1 0zm1 0zm1 0zm2 0zm2 0zm1 0zm3 0zm3 0zm1 0zm3 0zm1 0zm4 0zm-117 1zm15 0zm11 0zm1 0zm3 0zm1 0zm1 0zm3 0zm1 0zm2 0zm1 0zm1 0zm3 0zm1 0zm1 0zm1 0zm1 0zm1 0zm2 0zm1 0zm1 0zm1 0zm1 0zm1 0zm1 0zm1 0zm3 0zm1 0zm1 0zm2 0zm2 0zm2 0zm2 0zm2 0zm1 0zm1 0zm1 0zm1 0zm1 0zm1 0zm3 0zm1 0zm1 0zm1 0zm1 0zm1 0zm2 0zm1 0zm1 0zm2 0zm1 0zm1 0zm1 0zm1 0zm1 0zm2 0zm1 0zm2 0zm1 0zm7 0zm-122 1zm17 0zm9 0zm7 0zm3 0zm2 0zm3 0zm1 0zm3 0zm1 0zm2 0zm1 0zm1 0zm1 0zm1 0zm1 0zm1 0zm3 0zm1 0zm1 0zm1 0zm1 0zm1 0zm1 0zm1 0zm1 0zm1 0zm1 0zm1 0zm1 0zm1 0zm1 0zm1 0zm1 0zm1 0zm1 0zm3 0zm1 0zm2 0zm1 0zm1 0zm2 0zm4 0zm1 0zm1 0zm1 0zm1 0zm1 0zm1 0zm1 0zm3 0zm1 0zm1 0zm1 0zm1 0zm1 0zm1 0zm2 0zm1 0zm1 0zm2 0zm1 0zm2 0zm1 0zm3 0zm8 0zm1 0zm-156 1zm41 0zm2 0zm11 0zm1 0zm1 0zm3 0zm6 0zm4 0zm2 0zm5 0zm1 0zm1 0zm1 0zm2 0zm1 0zm1 0zm1 0zm1 0zm1 0zm1 0zm2 0zm1 0zm1 0zm1 0zm1 0zm1 0zm1 0zm1 0zm1 0zm1 0zm2 0zm1 0zm2 0zm1 0zm2 0zm1 0zm1 0zm1 0zm1 0zm2 0zm6 0zm1 0zm2 0zm1 0zm2 0zm1 0zm1 0zm1 0zm1 0zm1 0zm1 0zm1 0zm2 0zm1 0zm1 0zm2 0zm1 0zm2 0zm2 0zm2 0zm2 0zm1 0zm1 0zm3 0zm2 0zm3 0zm-187 1zm35 0zm12 0zm34 0zm12 0zm6 0zm4 0zm1 0zm2 0zm2 0zm2 0zm1 0zm1 0zm1 0zm2 0zm2 0zm2 0zm1 0zm1 0zm1 0zm1 0zm1 0zm1 0zm1 0zm1 0zm1 0zm1 0zm1 0zm1 0zm1 0zm2 0zm1 0zm1 0zm3 0zm1 0zm1 0zm2 0zm3 0zm3 0zm1 0zm1 0zm1 0zm1 0zm1 0zm1 0zm1 0zm1 0zm1 0zm1 0zm2 0zm1 0zm2 0zm1 0zm1 0zm1 0zm4 0zm1 0zm1 0zm1 0zm5 0zm10 0zm-164 1zm60 0zm1 0zm1 0zm4 0zm8 0zm1 0zm3 0zm1 0zm4 0zm1 0zm1 0zm1 0zm1 0zm1 0zm1 0zm1 0zm1 0zm2 0zm1 0zm1 0zm1 0zm1 0zm2 0zm1 0zm1 0zm1 0zm1 0zm1 0zm1 0zm1 0zm1 0zm1 0zm1 0zm2 0zm2 0zm1 0zm1 0zm2 0zm1 0zm5 0zm1 0zm2 0zm1 0zm1 0zm1 0zm2 0zm1 0zm2 0zm1 0zm1 0zm1 0zm1 0zm1 0zm1 0zm1 0zm1 0zm1 0zm1 0zm1 0zm2 0zm2 0zm5 0zm1 0zm-176 1zm2 0zm11 0zm3 0zm11 0zm48 0zm10 0zm2 0zm2 0zm1 0zm4 0zm1 0zm2 0zm3 0zm1 0zm2 0zm1 0zm2 0zm1 0zm1 0zm3 0zm1 0zm1 0zm1 0zm1 0zm1 0zm1 0zm3 0zm1 0zm1 0zm1 0zm1 0zm1 0zm1 0zm1 0zm4 0zm1 0zm1 0zm1 0zm1 0zm1 0zm1 0zm1 0zm1 0zm2 0zm2 0zm1 0zm1 0zm1 0zm1 0zm2 0zm1 0zm1 0zm1 0zm2 0zm2 0zm1 0zm1 0zm1 0zm1 0zm1 0zm1 0zm1 0zm1 0zm1 0zm2 0zm1 0zm1 0zm2 0zm2 0zm1 0zm1 0zm1 0zm2 0zm3 0zm-201 1zm7 0zm36 0zm53 0zm4 0zm1 0zm10 0zm2 0zm2 0zm1 0zm1 0zm3 0zm1 0zm1 0zm1 0zm1 0zm1 0zm1 0zm2 0zm1 0zm3 0zm2 0zm1 0zm1 0zm1 0zm1 0zm1 0zm1 0zm4 0zm1 0zm2 0zm6 0zm3 0zm1 0zm1 0zm3 0zm1 0zm3 0zm1 0zm1 0zm1 0zm1 0zm1 0zm1 0zm2 0zm1 0zm1 0zm1 0zm1 0zm1 0zm1 0zm1 0zm1 0zm1 0zm1 0zm1 0zm1 0zm1 0zm1 0zm1 0zm1 0zm1 0zm1 0zm1 0zm3 0zm3 0zm-190 1zm5 0zm12 0zm2 0zm2 0zm2 0zm1 0zm1 0zm11 0zm5 0zm51 0zm4 0zm3 0zm2 0zm5 0zm2 0zm1 0zm2 0zm1 0zm1 0zm2 0zm6 0zm1 0zm1 0zm1 0zm10 0zm3 0zm17 0zm6 0zm1 0zm2 0zm1 0zm1 0zm1 0zm1 0zm1 0zm1 0zm1 0zm1 0zm1 0zm1 0zm2 0zm1 0zm2 0zm2 0zm3 0zm1 0zm2 0zm2 0zm4 0zm2 0zm-206 1zm16 0zm3 0zm7 0zm1 0zm2 0zm1 0zm1 0zm2 0zm5 0zm2 0zm3 0zm3 0zm5 0zm1 0zm3 0zm5 0zm8 0zm11 0zm3 0zm14 0zm5 0zm7 0zm6 0zm1 0zm2 0zm1 0zm2 0zm2 0zm4 0zm1 0zm2 0zm1 0zm1 0zm1 0zm11 0zm26 0zm6 0zm2 0zm2 0zm1 0zm2 0zm2 0zm2 0zm1 0zm1 0zm1 0zm1 0zm2 0zm2 0zm1 0zm1 0zm1 0zm9 0zm2 0zm2 0zm-199 1zm3 0zm5 0zm1 0zm1 0zm1 0zm4 0zm9 0zm3 0zm4 0zm4 0zm1 0zm1 0zm4 0zm1 0zm1 0zm2 0zm2 0zm3 0zm3 0zm4 0zm1 0zm3 0zm8 0zm4 0zm1 0zm3 0zm5 0zm2 0zm1 0zm2 0zm5 0zm1 0zm1 0zm1 0zm3 0zm1 0zm4 0zm61 0zm1 0zm1 0zm1 0zm1 0zm2 0zm1 0zm1 0zm1 0zm1 0zm1 0zm1 0zm1 0zm1 0zm1 0zm1 0zm1 0zm3 0zm2 0zm1 0zm1 0zm3 0zm3 0zm-204 1zm5 0zm3 0zm1 0zm1 0zm4 0zm1 0zm1 0zm2 0zm2 0zm16 0zm2 0zm6 0zm6 0zm2 0zm7 0zm2 0zm1 0zm2 0zm6 0zm3 0zm3 0zm1 0zm1 0zm2 0zm3 0zm1 0zm1 0zm1 0zm3 0zm2 0zm3 0zm3 0zm1 0zm2 0zm1 0zm2 0zm1 0zm5 0zm2 0zm62 0zm3 0zm1 0zm2 0zm1 0zm2 0zm3 0zm1 0zm1 0zm1 0zm1 0zm1 0zm3 0zm5 0zm1 0zm2 0zm1 0zm3 0zm-206 1zm2 0zm1 0zm2 0zm4 0zm4 0zm1 0zm37 0zm3 0zm3 0zm7 0zm2 0zm4 0zm2 0zm6 0zm1 0zm1 0zm2 0zm1 0zm2 0zm1 0zm1 0zm1 0zm1 0zm1 0zm1 0zm1 0zm2 0zm1 0zm3 0zm1 0zm2 0zm2 0zm2 0zm1 0zm1 0zm2 0zm69 0zm1 0zm2 0zm1 0zm1 0zm1 0zm1 0zm1 0zm1 0zm2 0zm3 0zm2 0zm2 0zm2 0zm1 0zm3 0zm1 0zm9 0zm-226 1zm6 0zm5 0zm4 0zm1 0zm2 0zm1 0zm1 0zm2 0zm58 0zm1 0zm110 0zm2 0zm2 0zm2 0zm1 0zm1 0zm1 0zm1 0zm2 0zm2 0zm1 0zm1 0zm3 0zm5 0zm-204 1zm2 0zm1 0zm3 0zm1 0zm1 0zm174 0zm1 0zm1 0zm1 0zm1 0zm1 0zm1 0zm1 0zm1 0zm1 0zm1 0zm1 0zm3 0zm-200 1zm1 0zm3 0zm2 0zm1 0zm1 0zm2 0zm1 0zm1 0zm3 0zm79 0zm5 0zm87 0zm1 0zm1 0zm1 0zm2 0zm1 0zm1 0zm1 0zm1 0zm1 0zm1 0zm5 0zm1 0zm10 0zm-209 1zm2 0zm1 0zm2 0zm1 0zm1 0zm1 0zm176 0zm1 0zm1 0zm1 0zm1 0zm5 0zm1 0zm2 0zm1 0zm1 0zm3 0zm4 0zm-217 1zm4 0zm6 0zm3 0zm1 0zm2 0zm1 0zm1 0zm176 0zm1 0zm1 0zm1 0zm1 0zm3 0zm5 0zm3 0zm3 0zm-211 1zm3 0zm2 0zm2 0zm1 0zm1 0zm2 0zm2 0zm1 0zm1 0zm2 0zm2 0zm69 0zm9 0zm1 0zm94 0zm1 0zm1 0zm1 0zm1 0zm1 0zm2 0zm1 0zm2 0zm3 0zm2 0zm2 0zm-200 1zm3 0zm1 0zm2 0zm1 0zm2 0zm1 0zm62 0zm8 0zm7 0zm4 0zm4 0zm11 0zm77 0zm3 0zm7 0zm3 0zm1 0zm-200 1zm3 0zm1 0zm3 0zm3 0zm1 0zm1 0zm1 0zm1 0zm1 0zm1 0zm1 0zm49 0zm4 0zm1 0zm1 0zm2 0zm1 0zm2 0zm1 0zm1 0zm1 0zm2 0zm1 0zm1 0zm1 0zm1 0zm1 0zm2 0zm1 0zm1 0zm1 0zm1 0zm1 0zm2 0zm2 0zm2 0zm2 0zm1 0zm1 0zm2 0zm2 0zm1 0zm1 0zm1 0zm2 0zm1 0zm3 0zm1 0zm2 0zm1 0zm1 0zm4 0zm2 0zm2 0zm2 0zm1 0zm4 0zm6 0zm24 0zm3 0zm1 0zm9 0zm2 0zm1 0zm-176 1zm1 0zm6 0zm1 0zm7 0zm44 0zm3 0zm2 0zm1 0zm1 0zm4 0zm7 0zm1 0zm1 0zm1 0zm8 0zm1 0zm1 0zm3 0zm1 0zm3 0zm1 0zm2 0zm1 0zm7 0zm1 0zm2 0zm3 0zm1 0zm3 0zm2 0zm3 0zm10 0zm4 0zm1 0zm3 0zm2 0zm2 0zm2 0zm5 0zm5 0zm4 0zm5 0zm2 0zm1 0zm3 0zm1 0zm1 0zm1 0zm1 0zm-180 1zm6 0zm4 0zm3 0zm1 0zm1 0zm3 0zm1 0zm32 0zm4 0zm1 0zm2 0zm3 0zm1 0zm2 0zm1 0zm6 0zm3 0zm3 0zm2 0zm8 0zm6 0zm16 0zm9 0zm1 0zm3 0zm6 0zm1 0zm1 0zm1 0zm7 0zm1 0zm6 0zm14 0zm-162 1zm8 0zm2 0zm4 0zm4 0zm1 0zm1 0zm1 0zm1 0zm1 0zm4 0zm1 0zm1 0zm6 0zm4 0zm1 0zm1 0zm1 0zm5 0zm3 0zm2 0zm1 0zm2 0zm1 0zm1 0zm1 0zm1 0zm1 0zm1 0zm3 0zm4 0zm6 0zm7 0zm19 0zm32 0zm27 0zm-147 1zm3 0zm4 0zm4 0zm12 0zm1 0zm3 0zm1 0zm4 0zm1 0zm3 0zm1 0zm4 0zm1 0zm3 0zm1 0zm1 0zm2 0zm3 0zm11 0zm-68 1zm6 0zm6 0zm2 0zm6 0zm8 0zm3 0zm2 0zm2 0zm2 0zm2 0zm1 0zm1 0zm1 0zm2 0zm1 0zm2 0zm4 0zm1 0zm8 0zm7 0zm-60 1zm2 0zm10 0zm2 0zm15 0zm6 0zm8 0zm4 0zm-34 1zm12 0zm27 0zm-26 1zm11 0zm6 1zm-6 5zm-33 4zm43 2zm114 1zm-126 3zm-13 1zm-18 2zm-16 2zm48 0zm-2 3zm38 0zm37 0z"/>
<path transform="scale(1.25)" stroke-width="1" stroke="#2f56aa" d="M987 833zm-10 6zm7 0zm2 1zm-13 1zm-2 6zm6 0zm0 1zm7 0zm-14 1zm4 1zm3 0zm-3 1zm-9 1zm13 0zm4 0zm-6 1zm9 0zm-9 1zm2 0zm-4 1zm3 0zm3 0zm-2 1zm10 0zm-18 1zm6 0zm3 0zm-2 1zm2 0zm3 0zm-15 1zm11 0zm1 0zm3 0zm3 0zm6 0zm4 0zm3 0zm-22 1zm2 0zm2 0zm1 0zm1 0zm2 0zm7 0zm3 0zm2 0zm-26 1zm1 0zm10 0zm13 0zm-22 1zm3 0zm3 0zm1 0zm2 0zm6 0zm-28 1zm7 0zm2 0zm1 0zm1 0zm2 0zm1 0zm4 0zm1 0zm1 0zm2 0zm3 0zm-14 1zm2 0zm2 0zm2 0zm2 0zm8 0zm-15 1zm1 0zm7 0zm2 0zm2 0zm9 0zm1 0zm-28 1zm3 0zm3 0zm6 0zm2 0zm1 0zm1 0zm1 0zm1 0zm3 0zm3 0zm-21 1zm9 0zm2 0zm1 0zm2 0zm1 0zm12 0zm-25 1zm2 0zm4 0zm3 0zm1 0zm1 0zm1 0zm3 0zm8 0zm-36 1zm1 0zm9 0zm1 0zm1 0zm10 0zm2 0zm6 0zm5 0zm-40 1zm8 0zm1 0zm4 0zm3 0zm1 0zm1 0zm1 0zm2 0zm1 0zm4 0zm1 0zm4 0zm-39 1zm2 0zm7 0zm3 0zm1 0zm2 0zm6 0zm1 0zm1 0zm3 0zm1 0zm2 0zm2 0zm1 0zm2 0zm1 0zm3 0zm1 0zm1 0zm1 0zm1 0zm3 0zm-50 1zm1 0zm3 0zm5 0zm1 0zm2 0zm1 0zm2 0zm3 0zm2 0zm1 0zm1 0zm1 0zm1 0zm1 0zm1 0zm2 0zm1 0zm1 0zm1 0zm1 0zm1 0zm1 0zm1 0zm1 0zm1 0zm1 0zm1 0zm1 0zm1 0zm1 0zm1 0zm1 0zm2 0zm1 0zm1 0zm1 0zm1 0zm2 0zm2 0zm3 0zm4 0zm-160 1zm2 0zm1 0zm2 0zm2 0zm4 0zm1 0zm2 0zm4 0zm70 0zm2 0zm2 0zm4 0zm3 0zm6 0zm37 0zm1 0zm5 0zm1 0zm6 0zm-162 1zm2 0zm3 0zm3 0zm4 0zm3 0zm1 0zm4 0zm10 0zm1 0zm3 0zm3 0zm1 0zm1 0zm4 0zm11 0zm8 0zm17 0zm6 0zm3 0zm2 0zm1 0zm2 0zm2 0zm62 0zm4 0zm5 0zm1 0zm-173 1zm3 0zm1 0zm3 0zm28 0zm1 0zm1 0zm1 0zm5 0zm1 0zm2 0zm1 0zm1 0zm2 0zm1 0zm2 0zm2 0zm1 0zm1 0zm2 0zm2 0zm1 0zm2 0zm1 0zm4 0zm3 0zm12 0zm4 0zm2 0zm2 0zm4 0zm2 0zm1 0zm4 0zm58 0zm1 0zm1 0zm1 0zm1 0zm3 0zm-173 1zm2 0zm1 0zm2 0zm2 0zm49 0zm1 0zm5 0zm2 0zm3 0zm1 0zm2 0zm3 0zm1 0zm1 0zm1 0zm1 0zm1 0zm2 0zm2 0zm2 0zm1 0zm1 0zm2 0zm4 0zm1 0zm1 0zm3 0zm8 0zm64 0zm2 0zm2 0zm-174 1zm1 0zm2 0zm1 0zm41 0zm7 0zm4 0zm2 0zm2 0zm4 0zm4 0zm1 0zm2 0zm5 0zm2 0zm1 0zm1 0zm2 0zm1 0zm1 0zm5 0zm5 0zm4 0zm3 0zm70 0zm-171 1zm52 0zm2 0zm5 0zm5 0zm3 0zm4 0zm1 0zm12 0zm3 0zm1 0zm3 0zm3 0zm-94 1zm3 0zm53 0zm8 0zm5 0zm1 0zm3 0zm4 0zm2 0zm1 0zm3 0zm1 0zm1 0zm5 0zm3 0zm5 0zm70 0zm4 0zm1 0zm1 0zm-176 1zm1 0zm1 0zm1 0zm1 0zm55 0zm3 0zm1 0zm1 0zm5 0zm4 0zm3 0zm4 0zm3 0zm3 0zm3 0zm5 0zm2 0zm76 0zm1 0zm1 0zm-174 1zm2 0zm1 0zm1 0zm51 0zm7 0zm3 0zm1 0zm1 0zm1 0zm3 0zm1 0zm3 0zm1 0zm6 0zm1 0zm2 0zm1 0zm1 0zm1 0zm1 0zm4 0zm4 0zm6 0zm69 0zm1 0zm-171 1zm1 0zm1 0zm1 0zm1 0zm46 0zm1 0zm1 0zm1 0zm1 0zm1 0zm2 0zm5 0zm1 0zm1 0zm1 0zm2 0zm3 0zm1 0zm1 0zm1 0zm1 0zm1 0zm2 0zm1 0zm1 0zm2 0zm1 0zm1 0zm2 0zm1 0zm1 0zm1 0zm2 0zm2 0zm1 0zm1 0zm2 0zm1 0zm4 0zm2 0zm1 0zm1 0zm1 0zm2 0zm1 0zm1 0zm1 0zm8 0zm48 0zm3 0zm-166 1zm1 0zm1 0zm39 0zm4 0zm1 0zm1 0zm2 0zm1 0zm1 0zm12 0zm43 0zm3 0zm2 0zm2 0zm3 0zm1 0zm1 0zm2 0zm2 0zm1 0zm4 0zm1 0zm2 0zm1 0zm2 0zm1 0zm1 0zm1 0zm1 0zm6 0zm3 0zm1 0zm3 0zm1 0zm5 0zm1 0zm1 0zm1 0zm1 0zm1 0zm-162 1zm1 0zm1 0zm1 0zm1 0zm39 0zm1 0zm2 0zm2 0zm2 0zm1 0zm2 0zm6 0zm3 0zm72 0zm2 0zm2 0zm6 0zm5 0zm3 0zm-149 1zm3 0zm2 0zm1 0zm25 0zm1 0zm3 0zm1 0zm1 0zm3 0zm-29 1zm2 0zm1 0zm3 0zm6 0zm1 0zm2 0zm3 0zm-17 1zm1 0zm1 0zm4 0zm5 0zm4 0z"/>
<path transform="scale(1.25)" stroke-width="1" stroke="#58b4d4" d="M967 870zm-13 1zm4 0zm4 0zm1 0zm5 0zm1 0zm3 0zm5 0zm3 0zm-25 1zm11 0zm-110 1zm77 0zm2 0zm3 0zm8 0zm1 0zm1 0zm5 0zm1 0zm17 0zm3 0zm2 0zm5 0zm3 0zm2 0zm1 0zm-144 1zm16 0zm2 0zm61 0zm7 0zm1 0zm49 0zm7 0zm5 0zm-159 1zm7 0zm3 0zm19 0zm6 0zm9 0zm51 0zm1 0zm1 0zm2 0zm1 0zm-106 1zm2 0zm37 0zm3 0zm2 0zm1 0zm1 0zm1 0zm1 0zm1 0zm1 0zm1 0zm3 0zm3 0zm4 0zm1 0zm3 0zm2 0zm1 0zm7 0zm2 0zm2 0zm6 0zm1 0zm1 0zm4 0zm1 0zm2 0zm3 0zm1 0zm1 0zm4 0zm1 0zm-104 1zm1 0zm2 0zm45 0zm2 0zm2 0zm2 0zm3 0zm1 0zm2 0zm1 0zm4 0zm2 0zm1 0zm1 0zm7 0zm4 0zm1 0zm1 0zm1 0zm3 0zm2 0zm2 0zm11 0zm2 0zm59 0zm3 0zm-169 1zm2 0zm1 0zm44 0zm9 0zm4 0zm2 0zm6 0zm1 0zm4 0zm1 0zm1 0zm1 0zm1 0zm1 0zm1 0zm3 0zm2 0zm4 0zm1 0zm2 0zm1 0zm2 0zm1 0zm1 0zm3 0zm3 0zm65 0zm2 0zm1 0zm1 0zm-171 1zm3 0zm53 0zm1 0zm2 0zm1 0zm1 0zm1 0zm3 0zm5 0zm5 0zm5 0zm1 0zm6 0zm1 0zm5 0zm1 0zm1 0zm3 0zm4 0zm8 0zm59 0zm-166 1zm47 0zm1 0zm1 0zm2 0zm3 0zm1 0zm5 0zm1 0zm1 0zm2 0zm1 0zm1 0zm3 0zm2 0zm1 0zm1 0zm2 0zm1 0zm5 0zm1 0zm2 0zm1 0zm1 0zm6 0zm2 0zm1 0zm4 0zm1 0zm2 0zm1 0zm3 0zm8 0zm50 0zm1 0zm-166 1zm46 0zm3 0zm3 0zm1 0zm2 0zm3 0zm1 0zm9 0zm5 0zm3 0zm3 0zm6 0zm1 0zm1 0zm2 0zm1 0zm6 0zm3 0zm1 0zm2 0zm1 0zm1 0zm3 0zm4 0zm54 0zm1 0zm-121 1zm8 0zm2 0zm1 0zm1 0zm6 0zm2 0zm21 0zm2 0zm7 0zm1 0zm1 0zm2 0zm5 0zm6 0zm1 0zm1 0zm8 0zm7 0zm28 0zm2 0zm3 0zm5 0zm1 0zm-130 1zm8 0zm1 0zm77 0zm3 0zm2 0zm3 0zm9 0zm3 0zm3 0zm1 0zm10 0zm-150 1zm2 0zm32 0zm1 0zm4 0zm95 0zm-130 1zm1 0zm1 0zm2 0zm1 0zm1 0zm1 0zm9 0zm2 0zm4 0zm1 0zm3 0zm-17 1z"/>
<path transform="scale(1.25)" stroke-width="1" stroke="#58be62" d="M974 871zm-18 1zm-19 1zm3 0zm1 0zm2 0zm1 0zm5 0zm1 0zm1 0zm1 0zm3 0zm1 0zm1 0zm1 0zm1 0zm1 0zm1 0zm1 0zm1 0zm1 0zm1 0zm1 0zm1 0zm1 0zm1 0zm1 0zm2 0zm1 0zm2 0zm2 0zm1 0zm1 0zm1 0zm5 0zm-146 1zm1 0zm2 0zm2 0zm3 0zm3 0zm1 0zm4 0zm1 0zm1 0zm1 0zm73 0zm1 0zm2 0zm1 0zm1 0zm1 0zm1 0zm1 0zm1 0zm1 0zm1 0zm1 0zm1 0zm1 0zm2 0zm1 0zm5 0zm1 0zm1 0zm2 0zm5 0zm2 0zm1 0zm2 0zm4 0zm4 0zm2 0zm1 0zm2 0zm1 0zm1 0zm1 0zm1 0zm1 0zm2 0zm1 0zm-155 1zm2 0zm1 0zm1 0zm1 0zm2 0zm1 0zm2 0zm1 0zm1 0zm1 0zm1 0zm1 0zm1 0zm1 0zm2 0zm1 0zm1 0zm1 0zm1 0zm1 0zm1 0zm1 0zm1 0zm8 0zm65 0zm1 0zm1 0zm1 0zm1 0zm1 0zm1 0zm1 0zm1 0zm1 0zm1 0zm2 0zm1 0zm1 0zm2 0zm2 0zm2 0zm3 0zm2 0zm5 0zm7 0zm4 0zm1 0zm2 0zm1 0zm1 0zm1 0zm1 0zm1 0zm1 0zm1 0zm1 0zm1 0zm1 0zm-157 1zm1 0zm1 0zm1 0zm1 0zm1 0zm5 0zm1 0zm9 0zm5 0zm1 0zm1 0zm1 0zm1 0zm1 0zm1 0zm1 0zm1 0zm1 0zm2 0zm1 0zm2 0zm16 0zm24 0zm12 0zm1 0zm4 0zm2 0zm3 0zm1 0zm1 0zm1 0zm1 0zm1 0zm1 0zm1 0zm1 0zm2 0zm9 0zm3 0zm11 0zm5 0zm3 0zm1 0zm4 0zm1 0zm2 0zm2 0zm1 0zm1 0zm1 0zm1 0zm1 0zm1 0zm1 0zm1 0zm-162 1zm3 0zm2 0zm1 0zm29 0zm1 0zm1 0zm2 0zm1 0zm1 0zm1 0zm1 0zm1 0zm3 0zm13 0zm8 0zm2 0zm13 0zm2 0zm4 0zm1 0zm2 0zm1 0zm2 0zm2 0zm1 0zm2 0zm2 0zm1 0zm1 0zm1 0zm1 0zm2 0zm1 0zm1 0zm2 0zm3 0zm2 0zm1 0zm1 0zm18 0zm7 0zm3 0zm1 0zm3 0zm1 0zm1 0zm2 0zm2 0zm1 0zm1 0zm2 0zm1 0zm3 0zm-167 1zm1 0zm1 0zm1 0zm1 0zm4 0zm22 0zm5 0zm2 0zm1 0zm1 0zm1 0zm1 0zm1 0zm2 0zm2 0zm2 0zm2 0zm1 0zm2 0zm2 0zm2 0zm3 0zm1 0zm2 0zm5 0zm9 0zm16 0zm1 0zm2 0zm1 0zm2 0zm1 0zm1 0zm1 0zm1 0zm1 0zm1 0zm1 0zm1 0zm1 0zm1 0zm2 0zm1 0zm1 0zm1 0zm2 0zm27 0zm5 0zm1 0zm3 0zm2 0zm3 0zm1 0zm1 0zm1 0zm1 0zm1 0zm2 0zm-167 1zm3 0zm1 0zm1 0zm1 0zm1 0zm1 0zm1 0zm34 0zm1 0zm1 0zm1 0zm1 0zm1 0zm1 0zm1 0zm1 0zm1 0zm1 0zm4 0zm6 0zm2 0zm1 0zm4 0zm2 0zm1 0zm3 0zm8 0zm1 0zm4 0zm1 0zm5 0zm3 0zm1 0zm1 0zm2 0zm1 0zm1 0zm1 0zm1 0zm1 0zm1 0zm4 0zm2 0zm1 0zm1 0zm3 0zm3 0zm2 0zm30 0zm1 0zm4 0zm1 0zm3 0zm1 0zm1 0zm2 0zm2 0zm-168 1zm2 0zm1 0zm1 0zm2 0zm2 0zm30 0zm3 0zm1 0zm1 0zm1 0zm1 0zm1 0zm1 0zm4 0zm2 0zm7 0zm9 0zm10 0zm1 0zm8 0zm2 0zm2 0zm2 0zm3 0zm1 0zm1 0zm3 0zm3 0zm1 0zm2 0zm1 0zm1 0zm1 0zm3 0zm2 0zm1 0zm1 0zm4 0zm3 0zm1 0zm3 0zm2 0zm9 0zm1 0zm2 0zm2 0zm1 0zm1 0zm1 0zm2 0zm2 0zm1 0zm1 0zm1 0zm1 0zm1 0zm1 0zm1 0zm1 0zm1 0zm1 0zm1 0zm1 0zm-163 1zm1 0zm1 0zm1 0zm1 0zm1 0zm1 0zm2 0zm31 0zm2 0zm1 0zm1 0zm1 0zm2 0zm1 0zm3 0zm3 0zm2 0zm8 0zm5 0zm3 0zm19 0zm2 0zm1 0zm1 0zm2 0zm4 0zm4 0zm1 0zm2 0zm1 0zm1 0zm2 0zm1 0zm1 0zm1 0zm1 0zm1 0zm1 0zm1 0zm1 0zm2 0zm3 0zm2 0zm2 0zm4 0zm5 0zm2 0zm7 0zm3 0zm1 0zm1 0zm1 0zm1 0zm1 0zm1 0zm1 0zm1 0zm1 0zm1 0zm2 0zm1 0zm1 0zm-162 1zm1 0zm1 0zm1 0zm1 0zm1 0zm5 0zm27 0zm1 0zm1 0zm1 0zm1 0zm1 0zm2 0zm67 0zm1 0zm1 0zm2 0zm1 0zm1 0zm2 0zm1 0zm1 0zm1 0zm2 0zm2 0zm1 0zm1 0zm2 0zm2 0zm2 0zm2 0zm2 0zm1 0zm1 0zm1 0zm1 0zm1 0zm1 0zm1 0zm2 0zm1 0zm1 0zm1 0zm1 0zm1 0zm2 0zm2 0zm1 0zm2 0zm1 0zm1 0zm-159 1zm1 0zm1 0zm1 0zm1 0zm1 0zm1 0zm1 0zm1 0zm1 0zm1 0zm2 0zm10 0zm3 0zm2 0zm1 0zm2 0zm1 0zm2 0zm1 0zm1 0zm1 0zm1 0zm2 0zm90 0zm8 0zm2 0zm-136 1zm2 0zm1 0zm1 0zm1 0zm1 0zm1 0zm2 0zm2 0zm10 0zm1 0zm3 0zm1 0zm2 0zm1 0zm1 0zm1 0zm1 0zm3 0zm-29 1zm5 0zm1 0zm1 0zm1 0zm2 0zm1 0zm1 0zm2 0zm2 0zm1 0zm1 0z"/>
<path transform="scale(1.25)" stroke-width="1" stroke="#a0d23c" d="M942 873zm4 1zm3 0zm1 0zm1 0zm1 0zm6 0zm1 0zm1 0zm3 0zm3 0zm2 0zm2 0zm2 0zm1 0zm1 0zm2 0zm-125 1zm93 0zm4 0zm2 0zm2 0zm2 0zm1 0zm2 0zm2 0zm1 0zm1 0zm1 0zm2 0zm1 0zm2 0zm1 0zm3 0zm1 0zm1 0zm3 0zm-139 1zm1 0zm1 0zm3 0zm2 0zm9 0zm1 0zm86 0zm2 0zm1 0zm1 0zm1 0zm1 0zm2 0zm1 0zm3 0zm3 0zm5 0zm2 0zm3 0zm2 0zm1 0zm6 0zm1 0zm1 0zm3 0zm2 0zm-151 1zm2 0zm3 0zm2 0zm4 0zm15 0zm2 0zm1 0zm1 0zm1 0zm1 0zm62 0zm11 0zm4 0zm2 0zm1 0zm2 0zm6 0zm1 0zm4 0zm1 0zm1 0zm3 0zm3 0zm3 0zm1 0zm1 0zm3 0zm2 0zm1 0zm3 0zm1 0zm4 0zm2 0zm-153 1zm1 0zm1 0zm2 0zm1 0zm5 0zm6 0zm11 0zm1 0zm1 0zm2 0zm9 0zm65 0zm5 0zm2 0zm1 0zm1 0zm1 0zm1 0zm6 0zm1 0zm4 0zm5 0zm3 0zm4 0zm1 0zm10 0zm1 0zm-147 1zm19 0zm7 0zm1 0zm1 0zm2 0zm68 0zm1 0zm6 0zm4 0zm2 0zm2 0zm2 0zm1 0zm2 0zm2 0zm3 0zm2 0zm1 0zm4 0zm2 0zm5 0zm3 0zm1 0zm3 0zm1 0zm1 0zm3 0zm1 0zm-156 1zm2 0zm3 0zm14 0zm9 0zm4 0zm2 0zm73 0zm1 0zm6 0zm1 0zm1 0zm2 0zm1 0zm3 0zm1 0zm2 0zm2 0zm2 0zm1 0zm2 0zm2 0zm10 0zm2 0zm-143 1zm5 0zm16 0zm1 0zm4 0zm3 0zm1 0zm1 0zm2 0zm80 0zm2 0zm1 0zm2 0zm2 0zm3 0zm1 0zm3 0zm2 0zm2 0zm2 0zm1 0zm1 0zm1 0zm1 0zm1 0zm3 0zm12 0zm-153 1zm1 0zm1 0zm3 0zm2 0zm2 0zm13 0zm1 0zm4 0zm1 0zm1 0zm1 0zm87 0zm6 0zm4 0zm2 0zm2 0zm9 0zm-133 1zm2 0zm2 0zm1 0zm4 0zm1 0zm5 0zm-15 1zm2 0zm6 0zm1 0zm1 0zm1 0zm8 0zm-12 1z"/>
<path transform="scale(1.25)" stroke-width="1" stroke="#f0e030" d="M956 874zm13 1zm-133 1zm7 0zm3 0zm2 0zm4 0zm95 0zm4 0zm3 0zm2 0zm1 0zm2 0zm2 0zm2 0zm3 0zm4 0zm1 0zm-135 1zm2 0zm5 0zm2 0zm1 0zm3 0zm3 0zm5 0zm91 0zm1 0zm3 0zm1 0zm5 0zm1 0zm2 0zm3 0zm5 0zm1 0zm-133 1zm5 0zm2 0zm11 0zm2 0zm91 0zm1 0zm2 0zm1 0zm3 0zm2 0zm2 0zm2 0zm1 0zm2 0zm1 0zm7 0zm1 0zm3 0zm1 0zm2 0zm-146 1zm1 0zm15 0zm6 0zm3 0zm1 0zm1 0zm4 0zm77 0zm2 0zm6 0zm3 0zm2 0zm2 0zm6 0zm1 0zm1 0zm2 0zm2 0zm1 0zm1 0zm1 0zm2 0zm1 0zm-141 1zm2 0zm2 0zm2 0zm1 0zm2 0zm13 0zm1 0zm8 0zm93 0zm3 0zm2 0zm4 0zm-132 1zm1 0zm21 0zm3 0zm1 0zm98 0zm2 0zm12 0zm-137 1zm3 0zm4 0zm1 0zm8 0zm5 0zm2 0zm99 0zm-115 1zm4 0zm1 0zm4 0zm1 0zm5 0zm-14 1zm1 0zm1 0zm1 0zm5 0zm3 0z"/>
<path transform="scale(1.25)" stroke-width="1" stroke="#f4a020" d="M961 874zm8 0zm-124 2zm4 0zm109 0zm-119 1zm5 0zm7 0zm103 0zm8 0zm-124 1zm1 0zm1 0zm3 0zm3 0zm2 0zm2 0zm3 0zm1 0zm96 0zm6 0zm4 0zm7 0zm1 0zm-132 1zm3 0zm6 0zm1 0zm7 0zm4 0zm79 0zm21 0zm2 0zm-123 1zm5 0zm17 0zm1 0zm1 0zm108 0zm-132 1zm4 0zm1 0zm5 0zm1 0zm2 0zm6 0zm2 0zm97 0zm-114 1zm4 0zm1 0zm3 0zm5 0zm4 0zm-12 1zm10 1z"/>
<path transform="scale(1.25)" stroke-width="1" stroke="#ee5a20" d="M966 875zm-119 1zm-7 1zm7 0zm1 0zm5 0zm1 0zm1 0zm-10 1zm4 0zm2 0zm1 0zm-15 1zm3 0zm1 0zm2 0zm7 0zm1 0zm1 0zm4 0zm-18 1zm8 0zm3 0zm2 0zm1 0zm1 0zm-10 1zm1 0zm1 0zm3 0zm2 0zm1 0zm1 0zm-6 1zm1 0zm2 0zm1 0z"/>
<path transform="scale(1.25)" stroke-width="1" stroke="#e0201c" d="M851 876zm-9 1zm8 0zm-12 2zm4 0zm2 0zm3 0zm1 0zm-5 1zm1 0zm1 0zm2 0zm3 0zm4 0zm-16 1zm1 0zm3 0zm10 1z"/>
</g>
<rect x="983.5" y="866.8" width="302.4" height="302" fill="none" stroke="#111" stroke-width="1.3"/>
<path d="M1248 939.6H1273.3V1081.2H1143.4V939.6H1154" fill="none" stroke="#222" stroke-width="1.4"/>
<path d="M1154 939.6L1248 939.6" stroke="#ddd" stroke-width="1.2" />
<path d="M1272.9 939.6L1272.9 1081.2" stroke="#222" stroke-width="2.2" />
<text x="1159" y="922" font-size="42.5" font-family="'DejaVu Sans','Liberation Sans',sans-serif" textLength="89" lengthAdjust="spacingAndGlyphs">13.8</text>
<path d="M671.2 1213H1027.1V1206.8L1066.6 1215L1027.1 1223.2V1217H671.2Z" fill="#000"/>
<path d="M610.8 1164.7V1123.4H604.6L612.8 1083.9L621 1123.4H614.8V1164.7Z" fill="#000"/>
<text x="1077" y="1227.6" font-size="31.4">CD11b-PE-Cy7</text>
<text font-size="31.5" text-anchor="middle" transform="translate(625.5 970) rotate(-90)">GFP<tspan font-size="62%" dy="-0.3em">+</tspan><tspan dy="0.186em"> KPC Cells</tspan></text>
<rect x="1439.2" y="253.2" width="51.2" height="102.1" fill="#fff" stroke="#000" stroke-width="2.7"/>
<rect x="1520.4" y="169.5" width="51.2" height="185.8" fill="#fff" stroke="#000" stroke-width="2.7"/>
<path d="M1411.3 72.4V356.6M1399.8 355.3H1599.1" stroke="#000" stroke-width="2.7" fill="none"/>
<path d="M1399.8 73.8H1411.3M1399.8 168.5H1411.3M1399.8 261.2H1411.3M1399.8 355.3H1411.3M1464.5 355.3V366.9M1545.3 355.3V366.9" stroke="#000" stroke-width="2.7" fill="none"/>
<text x="1396.3" y="83.4" font-size="27" text-anchor="end">30</text>
<text x="1396.3" y="178.1" font-size="27" text-anchor="end">20</text>
<text x="1396.3" y="270.9" font-size="27" text-anchor="end">10</text>
<text x="1396.3" y="365" font-size="27" text-anchor="end">0</text>
<path d="M1464.9 244.8V259.8M1450.5 244.8H1479.3M1450.5 259.8H1479.3" stroke="#000" stroke-width="2.7" fill="none"/>
<path d="M1545.7 157.1V179.8M1531.3 157.1H1560.1M1531.3 179.8H1560.1" stroke="#000" stroke-width="2.7" fill="none"/>
<circle cx="1458.2" cy="216.3" r="5.9" fill="#0433ff"/>
<circle cx="1472.1" cy="214.3" r="5.9" fill="#0433ff"/>
<circle cx="1458.2" cy="246.2" r="5.9" fill="#0433ff"/>
<circle cx="1486.1" cy="248.8" r="5.9" fill="#0433ff"/>
<circle cx="1472.1" cy="250.2" r="5.9" fill="#0433ff"/>
<circle cx="1443.6" cy="256.2" r="5.9" fill="#0433ff"/>
<circle cx="1472.1" cy="264.2" r="5.9" fill="#0433ff"/>
<circle cx="1458.2" cy="270.8" r="5.9" fill="#0433ff"/>
<circle cx="1472.1" cy="277.5" r="5.9" fill="#0433ff"/>
<circle cx="1458.2" cy="282.1" r="5.9" fill="#0433ff"/>
<circle cx="1535.9" cy="120.6" r="5.9" fill="#ff2600"/>
<circle cx="1556.3" cy="116.2" r="5.9" fill="#ff2600"/>
<circle cx="1545.7" cy="148.9" r="5.9" fill="#ff2600"/>
<circle cx="1545.7" cy="163.5" r="5.9" fill="#ff2600"/>
<circle cx="1525.4" cy="181.8" r="5.9" fill="#ff2600"/>
<circle cx="1545.7" cy="181.8" r="5.9" fill="#ff2600"/>
<circle cx="1567.2" cy="191.4" r="5.9" fill="#ff2600"/>
<circle cx="1545.7" cy="198" r="5.9" fill="#ff2600"/>
<circle cx="1545.7" cy="213.3" r="5.9" fill="#ff2600"/>
<text x="1460.8" y="395.8" font-size="27" text-anchor="middle">PBS</text>
<text x="1541.5" y="395.8" font-size="27" text-anchor="middle">WGP</text>
<text font-size="27" text-anchor="middle" transform="translate(1351.3 207.4) rotate(-90)">Phagocytosis (%)</text>
<text x="1505.8" y="46.3" font-size="30.8" text-anchor="middle">CD45<tspan font-size="76%" dy="-0.38em">+</tspan><tspan dy="0.289em"> </tspan>Cells</text>
<path d="M1456.6 96.7L1546.3 96.7" stroke="#000" stroke-width="2.7" />
<text x="1503" y="99.7" font-size="36.5" text-anchor="middle">****</text>
<rect x="1772.4" y="172.8" width="51.2" height="182.6" fill="#fff" stroke="#000" stroke-width="2.7"/>
<rect x="1853.6" y="137.1" width="51" height="218.2" fill="#fff" stroke="#000" stroke-width="2.7"/>
<path d="M1744.5 72.4V356.7M1732.6 355.4H1932.5" stroke="#000" stroke-width="2.7" fill="none"/>
<path d="M1732.6 73.7H1744.5M1732.6 143.9H1744.5M1732.6 214.3H1744.5M1732.6 285H1744.5M1732.6 355.4H1744.5M1797.4 355.4V367.1M1878.1 355.4V367.1" stroke="#000" stroke-width="2.7" fill="none"/>
<text x="1729.1" y="83.4" font-size="27" text-anchor="end">20000</text>
<text x="1729.1" y="153.6" font-size="27" text-anchor="end">15000</text>
<text x="1729.1" y="223.9" font-size="27" text-anchor="end">10000</text>
<text x="1729.1" y="294.7" font-size="27" text-anchor="end">5000</text>
<text x="1729.1" y="365" font-size="27" text-anchor="end">0</text>
<path d="M1797.8 160.4V183.4M1783.4 160.4H1812.2M1783.4 183.4H1812.2" stroke="#000" stroke-width="2.7" fill="none"/>
<path d="M1878.7 124.6V147.9M1864.3 124.6H1893.1M1864.3 147.9H1893.1" stroke="#000" stroke-width="2.7" fill="none"/>
<circle cx="1777" cy="130.5" r="5.9" fill="#0433ff"/>
<circle cx="1797.9" cy="125" r="5.9" fill="#0433ff"/>
<circle cx="1797.9" cy="141.1" r="5.9" fill="#0433ff"/>
<circle cx="1787" cy="155.1" r="5.9" fill="#0433ff"/>
<circle cx="1808.9" cy="155.1" r="5.9" fill="#0433ff"/>
<circle cx="1797.9" cy="170.4" r="5.9" fill="#0433ff"/>
<circle cx="1797.9" cy="188.3" r="5.9" fill="#0433ff"/>
<circle cx="1797.9" cy="213.7" r="5.9" fill="#0433ff"/>
<circle cx="1819.3" cy="217.2" r="5.9" fill="#0433ff"/>
<circle cx="1777" cy="221.6" r="5.9" fill="#0433ff"/>
<circle cx="1867.1" cy="88.7" r="5.9" fill="#ff2600"/>
<circle cx="1889.6" cy="97.1" r="5.9" fill="#ff2600"/>
<circle cx="1867.1" cy="107.6" r="5.9" fill="#ff2600"/>
<circle cx="1889.6" cy="116.2" r="5.9" fill="#ff2600"/>
<circle cx="1867.1" cy="144.5" r="5.9" fill="#ff2600"/>
<circle cx="1889.6" cy="150.9" r="5.9" fill="#ff2600"/>
<circle cx="1878.5" cy="161.8" r="5.9" fill="#ff2600"/>
<circle cx="1889.6" cy="176.4" r="5.9" fill="#ff2600"/>
<circle cx="1867.1" cy="182" r="5.9" fill="#ff2600"/>
<text x="1794.4" y="396.6" font-size="27" text-anchor="middle">PBS</text>
<text x="1875.1" y="396.6" font-size="27" text-anchor="middle">WGP</text>
<text font-size="27" text-anchor="middle" transform="translate(1637.9 207.7) rotate(-90)">MFI</text>
<path d="M1787.4 76.7L1881.5 76.7" stroke="#000" stroke-width="2.7" />
<text x="1788.4" y="61.2" font-size="36.5" text-anchor="middle">*</text>
<text x="1804.9" y="60.4" font-size="22.5">p=0.043</text>
<rect x="1440.4" y="700.2" width="52" height="82.9" fill="#fff" stroke="#000" stroke-width="2.7"/>
<rect x="1521" y="619.8" width="52" height="163.3" fill="#fff" stroke="#000" stroke-width="2.7"/>
<path d="M1412.9 498V784.4M1400.6 783.1H1601.2" stroke="#000" stroke-width="2.7" fill="none"/>
<path d="M1400.6 499.4H1412.9M1400.6 594.3H1412.9M1400.6 688.2H1412.9M1400.6 783.1H1412.9M1465.9 783.1V794.7M1546.9 783.1V794.7" stroke="#000" stroke-width="2.7" fill="none"/>
<text x="1397.1" y="509.1" font-size="27" text-anchor="end">30</text>
<text x="1397.1" y="604" font-size="27" text-anchor="end">20</text>
<text x="1397.1" y="697.8" font-size="27" text-anchor="end">10</text>
<text x="1397.1" y="792.7" font-size="27" text-anchor="end">0</text>
<path d="M1466.3 688V710.4M1451.7 688H1480.9M1451.7 710.4H1480.9" stroke="#000" stroke-width="2.7" fill="none"/>
<path d="M1547.1 603.5V633.9M1532.5 603.5H1561.7M1532.5 633.9H1561.7" stroke="#000" stroke-width="2.7" fill="none"/>
<circle cx="1459.4" cy="638.6" r="5.9" fill="#0433ff"/>
<circle cx="1473.1" cy="640" r="5.9" fill="#0433ff"/>
<circle cx="1473.1" cy="665.1" r="5.9" fill="#0433ff"/>
<circle cx="1459.4" cy="669.8" r="5.9" fill="#0433ff"/>
<circle cx="1487.8" cy="681.4" r="5.9" fill="#0433ff"/>
<circle cx="1459.4" cy="689.2" r="5.9" fill="#0433ff"/>
<circle cx="1473.1" cy="689.2" r="5.9" fill="#0433ff"/>
<circle cx="1444.9" cy="728.8" r="5.9" fill="#0433ff"/>
<circle cx="1473.1" cy="728.8" r="5.9" fill="#0433ff"/>
<circle cx="1459.4" cy="736.1" r="5.9" fill="#0433ff"/>
<circle cx="1473.1" cy="741" r="5.9" fill="#0433ff"/>
<circle cx="1487.8" cy="740.6" r="5.9" fill="#0433ff"/>
<circle cx="1444.9" cy="744.7" r="5.9" fill="#0433ff"/>
<circle cx="1540.4" cy="524.7" r="5.9" fill="#ff2600"/>
<circle cx="1554.1" cy="530" r="5.9" fill="#ff2600"/>
<circle cx="1540.4" cy="572.7" r="5.9" fill="#ff2600"/>
<circle cx="1554.1" cy="583.5" r="5.9" fill="#ff2600"/>
<circle cx="1540.4" cy="594.3" r="5.9" fill="#ff2600"/>
<circle cx="1546.9" cy="617.1" r="5.9" fill="#ff2600"/>
<circle cx="1540.4" cy="641.6" r="5.9" fill="#ff2600"/>
<circle cx="1554.1" cy="641.6" r="5.9" fill="#ff2600"/>
<circle cx="1526.1" cy="656.3" r="5.9" fill="#ff2600"/>
<circle cx="1554.1" cy="658.6" r="5.9" fill="#ff2600"/>
<circle cx="1540.4" cy="665.7" r="5.9" fill="#ff2600"/>
<circle cx="1568.4" cy="666.7" r="5.9" fill="#ff2600"/>
<circle cx="1546.9" cy="692.7" r="5.9" fill="#ff2600"/>
<text x="1462.9" y="825.3" font-size="27" text-anchor="middle">PBS</text>
<text x="1543.5" y="825.3" font-size="27" text-anchor="middle">WGP</text>
<text font-size="27" text-anchor="middle" transform="translate(1353.1 633.5) rotate(-90)">Phagocytosis (%)</text>
<text x="1507.1" y="448.8" font-size="26.6" text-anchor="middle">CD11b<tspan font-size="76%" dy="-0.38em">+</tspan><tspan dy="0.289em"> </tspan>Cells</text>
<path d="M1463.9 514.1L1549.6 514.1" stroke="#000" stroke-width="2.7" />
<text x="1458.8" y="498.4" font-size="36.5" text-anchor="middle">***</text>
<text x="1488.4" y="498.2" font-size="22.5">p=0.0002</text>
<rect x="1767.8" y="679.9" width="51.4" height="102.7" fill="#fff" stroke="#000" stroke-width="2.7"/>
<rect x="1848.4" y="596.2" width="51.4" height="186.4" fill="#fff" stroke="#000" stroke-width="2.7"/>
<path d="M1740 497.4V783.9M1728 782.5H1928" stroke="#000" stroke-width="2.7" fill="none"/>
<path d="M1728 498.8H1740M1728 570.2H1740M1728 640.7H1740M1728 711.5H1740M1728 782.5H1740M1793.3 782.5V794.2M1874.3 782.5V794.2" stroke="#000" stroke-width="2.7" fill="none"/>
<text x="1724.5" y="508.5" font-size="27" text-anchor="end">20000</text>
<text x="1724.5" y="579.9" font-size="27" text-anchor="end">15000</text>
<text x="1724.5" y="650.3" font-size="27" text-anchor="end">10000</text>
<text x="1724.5" y="721.2" font-size="27" text-anchor="end">5000</text>
<text x="1724.5" y="792.2" font-size="27" text-anchor="end">0</text>
<path d="M1793.3 657.4V700.9M1779 657.4H1807.6M1779 700.9H1807.6" stroke="#000" stroke-width="2.7" fill="none"/>
<path d="M1874.3 584.5V606.4M1860 584.5H1888.6M1860 606.4H1888.6" stroke="#000" stroke-width="2.7" fill="none"/>
<circle cx="1793.7" cy="581.1" r="5.9" fill="#0433ff"/>
<circle cx="1772.3" cy="596.8" r="5.9" fill="#0433ff"/>
<circle cx="1804.5" cy="601.5" r="5.9" fill="#0433ff"/>
<circle cx="1783.1" cy="608.4" r="5.9" fill="#0433ff"/>
<circle cx="1793.7" cy="607.6" r="5.9" fill="#0433ff"/>
<circle cx="1793.7" cy="625.8" r="5.9" fill="#0433ff"/>
<circle cx="1793.7" cy="677" r="5.9" fill="#0433ff"/>
<circle cx="1793.7" cy="706" r="5.9" fill="#0433ff"/>
<circle cx="1772.3" cy="767.2" r="5.9" fill="#0433ff"/>
<circle cx="1783.1" cy="761.7" r="5.9" fill="#0433ff"/>
<circle cx="1793.7" cy="767.2" r="5.9" fill="#0433ff"/>
<circle cx="1804.1" cy="762.1" r="5.9" fill="#0433ff"/>
<circle cx="1814.7" cy="768.6" r="5.9" fill="#0433ff"/>
<circle cx="1881.5" cy="536.6" r="5.9" fill="#ff2600"/>
<circle cx="1867.2" cy="544.3" r="5.9" fill="#ff2600"/>
<circle cx="1881.5" cy="570.2" r="5.9" fill="#ff2600"/>
<circle cx="1853.3" cy="575.3" r="5.9" fill="#ff2600"/>
<circle cx="1867.2" cy="579" r="5.9" fill="#ff2600"/>
<circle cx="1895.8" cy="580.9" r="5.9" fill="#ff2600"/>
<circle cx="1853.3" cy="588.6" r="5.9" fill="#ff2600"/>
<circle cx="1881.5" cy="592.3" r="5.9" fill="#ff2600"/>
<circle cx="1867.2" cy="596.8" r="5.9" fill="#ff2600"/>
<circle cx="1874.3" cy="624.7" r="5.9" fill="#ff2600"/>
<circle cx="1867.2" cy="637.2" r="5.9" fill="#ff2600"/>
<circle cx="1881.5" cy="644.3" r="5.9" fill="#ff2600"/>
<circle cx="1874.3" cy="671.3" r="5.9" fill="#ff2600"/>
<text x="1789.8" y="824.4" font-size="27" text-anchor="middle">PBS</text>
<text x="1871.3" y="824.4" font-size="27" text-anchor="middle">WGP</text>
<text font-size="27" text-anchor="middle" transform="translate(1633.5 633.5) rotate(-90)">MFI</text>
<path d="M1792.3 513.5L1876.4 513.5" stroke="#000" stroke-width="2.7" />
<text x="1785.5" y="498.4" font-size="36.5" text-anchor="middle">**</text>
<text x="1799.8" y="497.8" font-size="22.5">p=0.0021</text>
<rect x="1440.4" y="1080" width="52" height="95.9" fill="#fff" stroke="#000" stroke-width="2.7"/>
<rect x="1521" y="1021.8" width="52" height="154.1" fill="#fff" stroke="#000" stroke-width="2.7"/>
<path d="M1412.9 891.9V1177.3M1400.6 1175.9H1601.2" stroke="#000" stroke-width="2.7" fill="none"/>
<path d="M1400.6 893.3H1412.9M1400.6 950H1412.9M1400.6 1006.5H1412.9M1400.6 1062.7H1412.9M1400.6 1119.4H1412.9M1400.6 1175.9H1412.9M1465.9 1175.9V1187.6M1546.9 1175.9V1187.6" stroke="#000" stroke-width="2.7" fill="none"/>
<text x="1397.1" y="902.9" font-size="27" text-anchor="end">25</text>
<text x="1397.1" y="959.7" font-size="27" text-anchor="end">20</text>
<text x="1397.1" y="1016.2" font-size="27" text-anchor="end">15</text>
<text x="1397.1" y="1072.3" font-size="27" text-anchor="end">10</text>
<text x="1397.1" y="1129.1" font-size="27" text-anchor="end">5</text>
<text x="1397.1" y="1185.6" font-size="27" text-anchor="end">0</text>
<path d="M1466.3 1074.3V1084.5M1451.7 1074.3H1480.9M1451.7 1084.5H1480.9" stroke="#000" stroke-width="2.7" fill="none"/>
<path d="M1547.1 1003.9V1037.8M1532.5 1003.9H1561.7M1532.5 1037.8H1561.7" stroke="#000" stroke-width="2.7" fill="none"/>
<circle cx="1444.9" cy="1066.7" r="5.9" fill="#0433ff"/>
<circle cx="1466.3" cy="1070.8" r="5.9" fill="#0433ff"/>
<circle cx="1466.3" cy="1085.1" r="5.9" fill="#0433ff"/>
<circle cx="1487.8" cy="1085.1" r="5.9" fill="#0433ff"/>
<circle cx="1444.9" cy="1090.2" r="5.9" fill="#0433ff"/>
<circle cx="1546.9" cy="958" r="5.9" fill="#ff2600"/>
<circle cx="1558.2" cy="1020.2" r="5.9" fill="#ff2600"/>
<circle cx="1535.7" cy="1030.4" r="5.9" fill="#ff2600"/>
<circle cx="1558.2" cy="1040.2" r="5.9" fill="#ff2600"/>
<circle cx="1546.9" cy="1056.1" r="5.9" fill="#ff2600"/>
<text x="1466.1" y="1216.7" font-size="27" text-anchor="middle">PBS</text>
<text x="1546.7" y="1216.7" font-size="27" text-anchor="middle">WGP</text>
<text font-size="27" text-anchor="middle" transform="translate(1348.6 1017.1) rotate(-90)">Phagocytosis (%)</text>
<text x="1490.6" y="867.8" font-size="26.6" text-anchor="middle">CD11b<tspan font-size="76%" dy="-0.38em">+</tspan><tspan dy="0.289em"> </tspan>Cells</text>
<path d="M1467.3 936.9L1546.5 936.9" stroke="#000" stroke-width="2.7" />
<text x="1458.8" y="920.8" font-size="36.5" text-anchor="middle">*</text>
<text x="1466.5" y="919.8" font-size="22.5">p=0.0103</text>
<rect x="1768.2" y="1085.6" width="51.4" height="92.5" fill="#fff" stroke="#000" stroke-width="2.7"/>
<rect x="1849.2" y="1011.7" width="51" height="166.4" fill="#fff" stroke="#000" stroke-width="2.7"/>
<path d="M1740.6 893.6V1179.4M1728.8 1178H1928.8" stroke="#000" stroke-width="2.7" fill="none"/>
<path d="M1728.8 894.9H1740.6M1728.8 951.9H1740.6M1728.8 1008.6H1740.6M1728.8 1065.2H1740.6M1728.8 1121.9H1740.6M1728.8 1178H1740.6M1793.7 1178V1189.7M1874.5 1178V1189.7" stroke="#000" stroke-width="2.7" fill="none"/>
<text x="1725.3" y="904.6" font-size="27" text-anchor="end">1600</text>
<text x="1725.3" y="961.5" font-size="27" text-anchor="end">1400</text>
<text x="1725.3" y="1018.3" font-size="27" text-anchor="end">1200</text>
<text x="1725.3" y="1074.8" font-size="27" text-anchor="end">1000</text>
<text x="1725.3" y="1131.6" font-size="27" text-anchor="end">800</text>
<text x="1725.3" y="1187.7" font-size="27" text-anchor="end">600</text>
<path d="M1793.7 1082.7V1087.6M1779.4 1082.7H1808M1779.4 1087.6H1808" stroke="#000" stroke-width="2.7" fill="none"/>
<path d="M1875 980.6V1039.8M1860.7 980.6H1889.3M1860.7 1039.8H1889.3" stroke="#000" stroke-width="2.7" fill="none"/>
<circle cx="1783.5" cy="1078" r="5.9" fill="#0433ff"/>
<circle cx="1772.7" cy="1086.8" r="5.9" fill="#0433ff"/>
<circle cx="1794.1" cy="1087.6" r="5.9" fill="#0433ff"/>
<circle cx="1804.5" cy="1083.1" r="5.9" fill="#0433ff"/>
<circle cx="1815.1" cy="1088.2" r="5.9" fill="#0433ff"/>
<circle cx="1875" cy="929.4" r="5.9" fill="#ff2600"/>
<circle cx="1875" cy="991.3" r="5.9" fill="#ff2600"/>
<circle cx="1863.7" cy="1008.2" r="5.9" fill="#ff2600"/>
<circle cx="1886.2" cy="1009.6" r="5.9" fill="#ff2600"/>
<circle cx="1875" cy="1114.3" r="5.9" fill="#ff2600"/>
<text x="1794.1" y="1218.9" font-size="27" text-anchor="middle">PBS</text>
<text x="1874.7" y="1218.9" font-size="27" text-anchor="middle">WGP</text>
<text font-size="27" text-anchor="middle" transform="translate(1651.8 1030) rotate(-90)">MFI</text>
<path d="M1777 913.1L1873.3 913.1" stroke="#000" stroke-width="2.7" />
<text x="1777" y="898" font-size="36.5" text-anchor="middle">*</text>
<text x="1783.9" y="897" font-size="22.5">p=0.0379</text>
<rect x="1543.9" y="1548.3" width="29.2" height="86.9" fill="#fff" stroke="#000" stroke-width="2.3"/>
<rect x="1591.4" y="1598.4" width="29.2" height="36.8" fill="#fff" stroke="#000" stroke-width="2.3"/>
<rect x="1638.4" y="1437.4" width="29.5" height="197.8" fill="#fff" stroke="#000" stroke-width="2.3"/>
<rect x="1685.9" y="1605.5" width="29.5" height="29.8" fill="#fff" stroke="#000" stroke-width="2.3"/>
<path d="M1535.8 1350.1V1636.4M1530.9 1635.2H1724" stroke="#000" stroke-width="2.3" fill="none"/>
<path d="M1530.9 1351.3H1535.8M1530.9 1422.3H1535.8M1530.9 1493.2H1535.8M1530.9 1564.2H1535.8M1530.9 1635.2H1535.8M1558.8 1635.2V1640.2M1606.3 1635.2V1640.2M1653.3 1635.2V1640.2M1700.5 1635.2V1640.2" stroke="#000" stroke-width="2.3" fill="none"/>
<text x="1524.1" y="1360.9" font-size="27" text-anchor="end">40000</text>
<text x="1524.1" y="1431.9" font-size="27" text-anchor="end">30000</text>
<text x="1524.1" y="1502.9" font-size="27" text-anchor="end">20000</text>
<text x="1524.1" y="1573.9" font-size="27" text-anchor="end">10000</text>
<text x="1524.1" y="1644.9" font-size="27" text-anchor="end">0</text>
<path d="M1558.8 1543.1V1552.7M1550.2 1543.1H1567.4M1550.2 1552.7H1567.4" stroke="#000" stroke-width="2.3" fill="none"/>
<path d="M1606.3 1591.4V1602.3M1597.7 1591.4H1614.9M1597.7 1602.3H1614.9" stroke="#000" stroke-width="2.3" fill="none"/>
<path d="M1653.3 1426.7V1447M1644.7 1426.7H1661.9M1644.7 1447H1661.9" stroke="#000" stroke-width="2.3" fill="none"/>
<path d="M1700.5 1600.2V1609.6M1691.9 1600.2H1709.1M1691.9 1609.6H1709.1" stroke="#000" stroke-width="2.3" fill="none"/>
<circle cx="1549.6" cy="1543.1" r="5.9" fill="#0433ff"/>
<circle cx="1568.4" cy="1544.9" r="5.9" fill="#0433ff"/>
<circle cx="1558.8" cy="1557.4" r="5.9" fill="#0433ff"/>
<circle cx="1596.6" cy="1590.1" r="4.7" fill="none" stroke="#0433ff" stroke-width="2.5"/>
<circle cx="1616.2" cy="1594.5" r="4.7" fill="none" stroke="#0433ff" stroke-width="2.5"/>
<circle cx="1606.5" cy="1608.1" r="4.7" fill="none" stroke="#0433ff" stroke-width="2.5"/>
<circle cx="1643.1" cy="1421.5" r="5.9" fill="#ff2600"/>
<circle cx="1663.2" cy="1429.3" r="5.9" fill="#ff2600"/>
<circle cx="1653.3" cy="1467.1" r="5.9" fill="#ff2600"/>
<circle cx="1691.1" cy="1598.9" r="4.7" fill="none" stroke="#ff2600" stroke-width="2.5"/>
<circle cx="1710.1" cy="1596.3" r="4.7" fill="none" stroke="#ff2600" stroke-width="2.5"/>
<circle cx="1691.1" cy="1614.6" r="4.7" fill="none" stroke="#ff2600" stroke-width="2.5"/>
<circle cx="1710.9" cy="1610.7" r="4.7" fill="none" stroke="#ff2600" stroke-width="2.5"/>
<text font-size="27.5" text-anchor="end" transform="translate(1565.8 1661.8) rotate(-45)">PBS 1:20</text>
<text font-size="27.5" text-anchor="end" transform="translate(1613.1 1661.8) rotate(-45)">PBS + NAC</text>
<text font-size="27.5" text-anchor="end" transform="translate(1660 1661.8) rotate(-45)">WGP 1:20</text>
<text font-size="27.5" text-anchor="end" transform="translate(1707.3 1661.8) rotate(-45)">WGP + NAC</text>
<text font-size="27" text-anchor="middle" transform="translate(1424.4 1486.2) rotate(-90)">RLUs</text>
<text x="1629.8" y="1296.5" font-size="30" text-anchor="middle">Cytotoxicity</text>
<path d="M1560.9 1379.2L1652.2 1379.2" stroke="#000" stroke-width="2.3" />
<text x="1605.8" y="1383.8" font-size="36.5" text-anchor="middle">****</text>
<path d="M1650.6 1400.9L1718.5 1400.9" stroke="#000" stroke-width="2.3" />
<text x="1687.2" y="1408.6" font-size="36.5" text-anchor="middle">****</text>
<path d="M1555.4 1525.9L1611 1525.9" stroke="#000" stroke-width="2.3" />
<text x="1586.7" y="1532.6" font-size="36.5" text-anchor="middle">**</text>
<rect x="1483.4" y="1938.2" width="51.3" height="196.1" fill="#fff" stroke="#000" stroke-width="2.7"/>
<rect x="1563.9" y="2073.1" width="51.3" height="61.1" fill="#fff" stroke="#000" stroke-width="2.7"/>
<path d="M1455.6 1849.9V2135.6M1443.2 2134.2H1643.5" stroke="#000" stroke-width="2.7" fill="none"/>
<path d="M1443.2 1851.2H1455.6M1443.2 1921.9H1455.6M1443.2 1993H1455.6M1443.2 2064.2H1455.6M1443.2 2134.2H1455.6M1508.6 2134.2V2145.8M1589.1 2134.2V2145.8" stroke="#000" stroke-width="2.7" fill="none"/>
<text x="1439.7" y="1860.9" font-size="27" text-anchor="end">2000</text>
<text x="1439.7" y="1931.6" font-size="27" text-anchor="end">1500</text>
<text x="1439.7" y="2002.7" font-size="27" text-anchor="end">1000</text>
<text x="1439.7" y="2073.8" font-size="27" text-anchor="end">500</text>
<text x="1439.7" y="2143.9" font-size="27" text-anchor="end">0</text>
<path d="M1508.6 1920.6V1953.1M1494.1 1920.6H1523.1M1494.1 1953.1H1523.1" stroke="#0433ff" stroke-width="2.7" fill="none"/>
<path d="M1589.1 2063.3V2080.2M1574.6 2063.3H1603.6M1574.6 2080.2H1603.6" stroke="#ff2600" stroke-width="2.7" fill="none"/>
<circle cx="1497.7" cy="1915.1" r="5.6" fill="none" stroke="#0433ff" stroke-width="2.6"/>
<circle cx="1520.1" cy="1926.4" r="5.6" fill="none" stroke="#0433ff" stroke-width="2.6"/>
<circle cx="1509" cy="1969.1" r="5.6" fill="none" stroke="#0433ff" stroke-width="2.6"/>
<circle cx="1589.5" cy="2055" r="5.6" fill="none" stroke="#ff2600" stroke-width="2.6"/>
<circle cx="1577.8" cy="2082.3" r="5.6" fill="none" stroke="#ff2600" stroke-width="2.6"/>
<circle cx="1600.8" cy="2078" r="5.6" fill="none" stroke="#ff2600" stroke-width="2.6"/>
<text font-size="27" text-anchor="end" transform="translate(1514.1 2168.8) rotate(-45)">Vehicle</text>
<text font-size="27" text-anchor="end" transform="translate(1597 2168.8) rotate(-45)">Trolox</text>
<text font-size="27" text-anchor="middle" transform="translate(1364.2 1988.3) rotate(-90)">Luminescence (RLU)</text>
<path d="M1509.4 1890.1V1874.7H1589.5V1989" stroke="#000" stroke-width="2.7" fill="none"/>
<text x="1493.8" y="1864.2" font-size="36.5" text-anchor="middle">**</text>
<text x="1507.7" y="1862.3" font-size="22.5">p=0.0019</text>
<rect x="1796.2" y="1937.5" width="50.8" height="196.5" fill="#fff" stroke="#000" stroke-width="2.7"/>
<rect x="1877" y="2024" width="50.8" height="110" fill="#fff" stroke="#000" stroke-width="2.7"/>
<path d="M1768.7 1849.7V2135.4M1756.3 2134H1959.2" stroke="#000" stroke-width="2.7" fill="none"/>
<path d="M1756.3 1851H1768.7M1756.3 1921.7H1768.7M1756.3 1992.8H1768.7M1756.3 2063.1H1768.7M1756.3 2134H1768.7M1820.8 2134V2145.8M1901.5 2134V2145.8" stroke="#000" stroke-width="2.7" fill="none"/>
<text x="1752.8" y="1860.7" font-size="27" text-anchor="end">2000</text>
<text x="1752.8" y="1931.4" font-size="27" text-anchor="end">1500</text>
<text x="1752.8" y="2002.5" font-size="27" text-anchor="end">1000</text>
<text x="1752.8" y="2072.8" font-size="27" text-anchor="end">500</text>
<text x="1752.8" y="2143.7" font-size="27" text-anchor="end">0</text>
<path d="M1820.8 1920.4V1952.7M1806.3 1920.4H1835.3M1806.3 1952.7H1835.3" stroke="#0433ff" stroke-width="2.7" fill="none"/>
<path d="M1902.2 2003.9V2041.7M1887.9 2003.9H1916.5M1887.9 2041.7H1916.5" stroke="#ff2600" stroke-width="2.7" fill="none"/>
<circle cx="1810.8" cy="1914.7" r="5.6" fill="none" stroke="#0433ff" stroke-width="2.6"/>
<circle cx="1832.7" cy="1926" r="5.6" fill="none" stroke="#0433ff" stroke-width="2.6"/>
<circle cx="1821.4" cy="1968.7" r="5.6" fill="none" stroke="#0433ff" stroke-width="2.6"/>
<circle cx="1902.2" cy="1988.3" r="5.6" fill="none" stroke="#ff2600" stroke-width="2.6"/>
<circle cx="1902.2" cy="2026.8" r="5.6" fill="none" stroke="#ff2600" stroke-width="2.6"/>
<circle cx="1902.2" cy="2053.5" r="5.6" fill="none" stroke="#ff2600" stroke-width="2.6"/>
<text font-size="27" text-anchor="end" transform="translate(1826.3 2168.8) rotate(-45)">Vehicle</text>
<text font-size="27" text-anchor="end" transform="translate(1906.2 2168.8) rotate(-45)">DFO</text>
<text font-size="27" text-anchor="middle" transform="translate(1676.6 1968.5) rotate(-90)">Luminescence (RLU)</text>
<path d="M1820.8 1896.5V1882.2H1902.2V1969.1" stroke="#000" stroke-width="2.7" fill="none"/>
<text x="1805" y="1866.4" font-size="36.5" text-anchor="middle">*</text>
<text x="1812.9" y="1866" font-size="22.5">p=0.0255</text>
</svg></body></html>
